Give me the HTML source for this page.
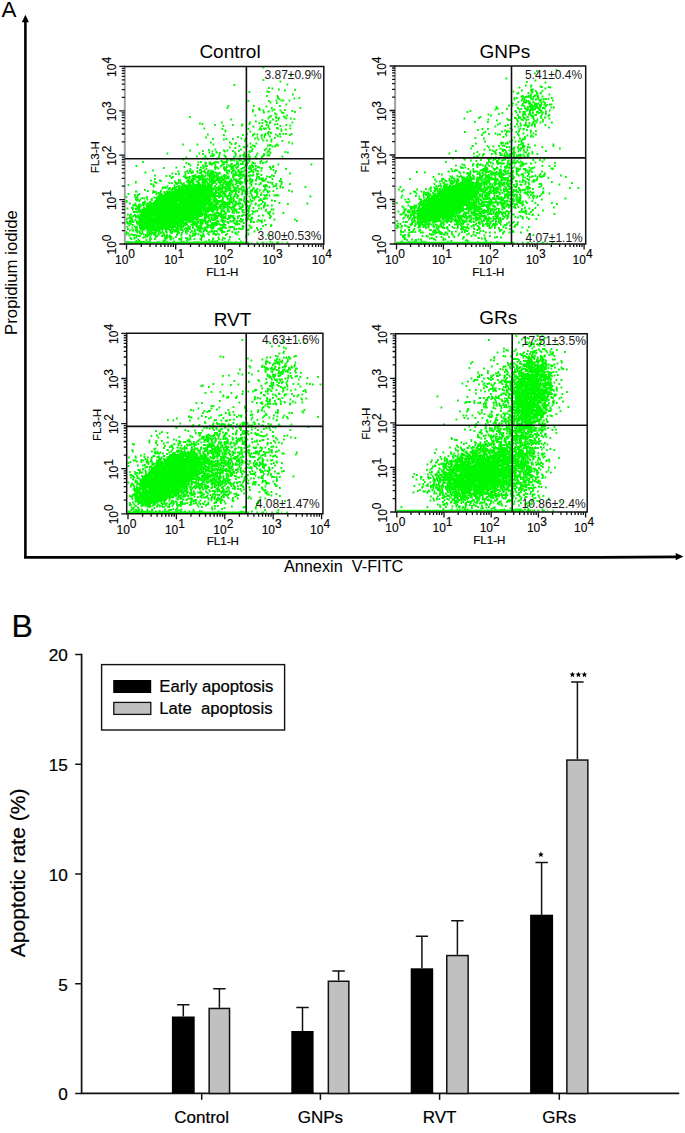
<!DOCTYPE html><html><head><meta charset="utf-8"><style>html,body{margin:0;padding:0;background:#fff;width:685px;height:1133px;overflow:hidden}text{font-family:"Liberation Sans",sans-serif;stroke:#000;stroke-width:0}.bb{stroke-width:0.22px}</style></head><body><svg width="685" height="1133" viewBox="0 0 685 1133" style="position:absolute;left:0;top:0"><rect width="685" height="1133" fill="#fff"/><text x="1.5" y="17.1" font-size="22.4" font-family='"Liberation Sans", sans-serif'>A</text><path d="M25.4 21V557.8" stroke="#000" stroke-width="2.6" fill="none"/><path d="M25.4 14.8L21.8 22.2H29Z" fill="#000"/><path d="M24.1 557.3H600L677 556.9" stroke="#000" stroke-width="2.7" fill="none"/><path d="M683.4 556.6L675.7 552.9V560.3Z" fill="#000"/><text transform="translate(17.3,334.9) rotate(-90)" font-size="16.75" font-family='"Liberation Sans", sans-serif'>Propidium iodide</text><text x="283.9" y="572.2" font-size="16.3" font-family='"Liberation Sans", sans-serif' xml:space="preserve">Annexin  V-FITC</text><path d="M262.5 67.5h1.8M290 75.5h1.8M262.5 80h1.8M279.5 81.5h1.8M286.5 84.5h1.8M233.5 85h1.8M268 88h1.8M271.5 88.5h1.8M278 89.5h1.8M294 90h1.8M284 90.5h1.8M266.5 91.5h1.8M248.5 92h1.8M268 92h1.8M292 94.5h1.8M266 96h1.8M276.5 96h1.8M277 97h1.8M277 98h1.8M298.5 98h1.8M293.5 98.5h1.8M278.5 99h1.8M275.5 100.5h1.8M280.5 100.5h1.8M282.5 100.5h1.8M288.5 100.5h1.8M247.5 101h1.8M268 101h1.8M269.5 102.5h1.8M276 103h1.8M285.5 104.5h1.8M227.5 106h1.8M253 106h1.8M279 106h1.8M265.5 106.5h1.8M226.5 108h1.8M271 108h1.8M299.5 108h1.8M258.5 108.5h1.8M258 109h1.8M273.5 109.5h1.8M252 110h1.8M259 110h1.8M284 110h1.8M262.5 110.5h1.8M271.5 110.5h1.8M279.5 110.5h1.8M291.5 111h1.8M252 111.5h1.8M267.5 111.5h1.8M268 111.5h1.8M294 112h1.8M263 112.5h1.8M281 112.5h1.8M282.5 113h1.8M274 113.5h1.8M275.5 114.5h1.8M254.5 115.5h1.8M286 115.5h1.8M270 116h1.8M283 116.5h1.8M189 117h1.8M268.5 117h1.8M275 117h1.8M284 117.5h1.8M275.5 118h1.8M278 118h1.8M267.5 118.5h1.8M285.5 118.5h1.8M290 118.5h1.8M293.5 119h1.8M230 119.5h1.8M272 119.5h1.8M277.5 119.5h1.8M261.5 120h1.8M264.5 121h1.8M275.5 121h1.8M255 121.5h1.8M269.5 121.5h1.8M265.5 122h1.8M221 122.5h1.8M249 122.5h1.8M266 122.5h1.8M291.5 122.5h1.8M258.5 123h1.8M261.5 123h1.8M269 123h1.8M199 123.5h1.8M201.5 124h1.8M248.5 124h1.8M276.5 124h1.8M241.5 124.5h1.8M274 124.5h1.8M214 125h1.8M232 125h1.8M265.5 125h1.8M285.5 125h1.8M241 125.5h1.8M267.5 125.5h1.8M289.5 125.5h1.8M222.5 126h1.8M261 126h1.8M279.5 126h1.8M252.5 126.5h1.8M267.5 127h1.8M259.5 127.5h1.8M276 128h1.8M203.5 128.5h1.8M263 128.5h1.8M265 128.5h1.8M277 128.5h1.8M289.5 128.5h1.8M221.5 129h1.8M247.5 129h1.8M263.5 129h1.8M268.5 129h1.8M258.5 129.5h1.8M260.5 129.5h1.8M280.5 129.5h1.8M285 129.5h1.8M224.5 130.5h1.8M280.5 131h1.8M224.5 131.5h1.8M249.5 131.5h1.8M268 132h1.8M267 133h1.8M270 133h1.8M246 134h1.8M253.5 134h1.8M264.5 134h1.8M279 134h1.8M282.5 134h1.8M285 134h1.8M290.5 134h1.8M207 134.5h1.8M256.5 134.5h1.8M264.5 134.5h1.8M267.5 134.5h1.8M275 134.5h1.8M223 135h1.8M242 135h1.8M252 135h1.8M261 135h1.8M264 135h1.8M289 135h1.8M252 135.5h1.8M260.5 136h1.8M277 136h1.8M269 136.5h1.8M279.5 136.5h1.8M237 137h1.8M263.5 137h1.8M205 137.5h1.8M256.5 137.5h1.8M274 138h1.8M240.5 138.5h1.8M245.5 138.5h1.8M254 138.5h1.8M261 138.5h1.8M212 139h1.8M225.5 139h1.8M232 139h1.8M244.5 139h1.8M223 139.5h1.8M257.5 139.5h1.8M270.5 139.5h1.8M262.5 140.5h1.8M266 140.5h1.8M244 141h1.8M281.5 141h1.8M270.5 141.5h1.8M210 142.5h1.8M229 142.5h1.8M288 142.5h1.8M235 143h1.8M249.5 143.5h1.8M255.5 143.5h1.8M291.5 143.5h1.8M230.5 144h1.8M234.5 144h1.8M182 144.5h1.8M196.5 144.5h1.8M212.5 144.5h1.8M276 144.5h1.8M269.5 145h1.8M246.5 145.5h1.8M252 145.5h1.8M267 145.5h1.8M267.5 145.5h1.8M269 145.5h1.8M275 145.5h1.8M277 145.5h1.8M238.5 146h1.8M246 146h1.8M253.5 146h1.8M254 146.5h1.8M271.5 146.5h1.8M274 146.5h1.8M243 147h1.8M250 147h1.8M229 147.5h1.8M244.5 147.5h1.8M234.5 148h1.8M265.5 148.5h1.8M251.5 149h1.8M269 149h1.8M214.5 149.5h1.8M240 149.5h1.8M208 150h1.8M264 150h1.8M189 150.5h1.8M223 150.5h1.8M226.5 150.5h1.8M267.5 150.5h1.8M202 151h1.8M232 151h1.8M238 151h1.8M248.5 151h1.8M251 151h1.8M211.5 151.5h1.8M224 151.5h1.8M268.5 151.5h1.8M215.5 152h1.8M249 152h1.8M284.5 152h1.8M208.5 152.5h1.8M216 152.5h1.8M234 152.5h1.8M243.5 152.5h1.8M266.5 152.5h1.8M287 152.5h1.8M219 153h1.8M269.5 153h1.8M166.5 153.5h1.8M198.5 153.5h1.8M256.5 153.5h1.8M202 154h1.8M211.5 154h1.8M235 154h1.8M263 154h1.8M218.5 154.5h1.8M243 154.5h1.8M248 154.5h1.8M263.5 154.5h1.8M213 155h1.8M218.5 155h1.8M242.5 155h1.8M244 155h1.8M268 155h1.8M223.5 155.5h1.8M239.5 155.5h1.8M255.5 155.5h1.8M263 155.5h1.8M266.5 155.5h1.8M268.5 155.5h1.8M204.5 156h1.8M210 156h1.8M212 156h1.8M224 156h1.8M234.5 156h1.8M262 156h1.8M196 156.5h1.8M239 156.5h1.8M243 156.5h1.8M244.5 156.5h1.8M247.5 156.5h1.8M281.5 156.5h1.8M204.5 157h1.8M218 157h1.8M225 157h1.8M249 157h1.8M254.5 157h1.8M261 157h1.8M185.5 157.5h1.8M233 157.5h1.8M202.5 158.5h1.8M206.5 158.5h1.8M216 158.5h1.8M236.5 158.5h1.8M256 158.5h1.8M229.5 159h1.8M182.5 159.5h1.8M226.5 159.5h1.8M230.5 159.5h1.8M247 159.5h1.8M249 159.5h1.8M231.5 160h1.8M238.5 160h1.8M244 160h1.8M245 160h1.8M226 160.5h1.8M230 160.5h1.8M233.5 160.5h1.8M238.5 160.5h1.8M240.5 160.5h1.8M220.5 161h1.8M248.5 161h1.8M260.5 161h1.8M221.5 161.5h1.8M226.5 161.5h1.8M236 161.5h1.8M243 161.5h1.8M266 161.5h1.8M142 162h1.8M200 162h1.8M214.5 162h1.8M216.5 162h1.8M224 162h1.8M225.5 162h1.8M259.5 162h1.8M197.5 162.5h1.8M204.5 162.5h1.8M208.5 162.5h1.8M209.5 162.5h1.8M217.5 162.5h1.8M221.5 162.5h1.8M222.5 162.5h1.8M236.5 162.5h1.8M242 162.5h1.8M246.5 162.5h1.8M251.5 162.5h1.8M264.5 162.5h1.8M185.5 163h1.8M205 163h1.8M213 163h1.8M213.5 163h1.8M237 163h1.8M247 163h1.8M252.5 163h1.8M259.5 163h1.8M262 163h1.8M205 163.5h1.8M211.5 163.5h1.8M254 163.5h1.8M188 164h1.8M204.5 164h1.8M209 164h1.8M223 164h1.8M231 164h1.8M236 164h1.8M240 164h1.8M240.5 164h1.8M242 164h1.8M210.5 164.5h1.8M211.5 164.5h1.8M226 164.5h1.8M230 164.5h1.8M245 164.5h1.8M245.5 164.5h1.8M277.5 164.5h1.8M310.5 164.5h1.8M197 165h1.8M214.5 165h1.8M221.5 165h1.8M234 165h1.8M237.5 165h1.8M246 165h1.8M251 165h1.8M189.5 165.5h1.8M202 165.5h1.8M228 165.5h1.8M244.5 165.5h1.8M251 165.5h1.8M135.5 166h1.8M205.5 166h1.8M206 166h1.8M220 166h1.8M232.5 166h1.8M249 166h1.8M255 166h1.8M272.5 166h1.8M203.5 166.5h1.8M205 166.5h1.8M220 166.5h1.8M229.5 166.5h1.8M235 166.5h1.8M252.5 166.5h1.8M183.5 167h1.8M214.5 167h1.8M223.5 167h1.8M226 167h1.8M231 167h1.8M232 167h1.8M232.5 167h1.8M237 167h1.8M248.5 167h1.8M252 167h1.8M257 167h1.8M269 167h1.8M272 167h1.8M175.5 167.5h1.8M200 167.5h1.8M214 167.5h1.8M216 167.5h1.8M223 167.5h1.8M232 167.5h1.8M243.5 167.5h1.8M258.5 167.5h1.8M269.5 167.5h1.8M163 168h1.8M196.5 168h1.8M202.5 168h1.8M230.5 168h1.8M231 168h1.8M242 168h1.8M250 168h1.8M261 168h1.8M217.5 168.5h1.8M223 168.5h1.8M224.5 168.5h1.8M225 168.5h1.8M235.5 168.5h1.8M248 168.5h1.8M255 168.5h1.8M189.5 169h1.8M205.5 169h1.8M214.5 169h1.8M223.5 169h1.8M224.5 169h1.8M230.5 169h1.8M232.5 169h1.8M240.5 169h1.8M249.5 169h1.8M270 169h1.8M285 169h1.8M253 169.5h1.8M199 170h1.8M200 170h1.8M224 170h1.8M237.5 170h1.8M250.5 170h1.8M272.5 170h1.8M152 170.5h1.8M203.5 170.5h1.8M208 170.5h1.8M210.5 170.5h1.8M224.5 170.5h1.8M226 170.5h1.8M228 170.5h1.8M233 170.5h1.8M244 170.5h1.8M255 170.5h1.8M260.5 170.5h1.8M186.5 171h1.8M189 171h1.8M196.5 171h1.8M232 171h1.8M237.5 171h1.8M250.5 171h1.8M257 171h1.8M275 171h1.8M177.5 171.5h1.8M190 171.5h1.8M192 171.5h1.8M202.5 171.5h1.8M207 171.5h1.8M207.5 171.5h1.8M211 171.5h1.8M212.5 171.5h1.8M228.5 171.5h1.8M234.5 171.5h1.8M237 171.5h1.8M239 171.5h1.8M241 171.5h1.8M242.5 171.5h1.8M251.5 171.5h1.8M184.5 172h1.8M200.5 172h1.8M204 172h1.8M231 172h1.8M248.5 172h1.8M252.5 172h1.8M144.5 172.5h1.8M192 172.5h1.8M196.5 172.5h1.8M210 172.5h1.8M211.5 172.5h1.8M213 172.5h1.8M215 172.5h1.8M226 172.5h1.8M238.5 172.5h1.8M240 172.5h1.8M248 172.5h1.8M187.5 173h1.8M190.5 173h1.8M199 173h1.8M211.5 173h1.8M217.5 173h1.8M218.5 173h1.8M231 173h1.8M235 173h1.8M239 173h1.8M274.5 173h1.8M171.5 173.5h1.8M200.5 173.5h1.8M205 173.5h1.8M207 173.5h1.8M209 173.5h1.8M218.5 173.5h1.8M219 173.5h1.8M227 173.5h1.8M238.5 173.5h1.8M257.5 173.5h1.8M289 173.5h1.8M175 174h1.8M178 174h1.8M184.5 174h1.8M212.5 174h1.8M233 174h1.8M235 174h1.8M256 174h1.8M210 174.5h1.8M216 174.5h1.8M217 174.5h1.8M241 174.5h1.8M243 174.5h1.8M245.5 174.5h1.8M252.5 174.5h1.8M194.5 175h1.8M223.5 175h1.8M235 175h1.8M236 175h1.8M239.5 175h1.8M242.5 175h1.8M256.5 175h1.8M260.5 175h1.8M154 175.5h1.8M201 175.5h1.8M202 175.5h1.8M207 175.5h1.8M208.5 175.5h1.8M209.5 175.5h1.8M211 175.5h1.8M213.5 175.5h1.8M214 175.5h1.8M216 175.5h1.8M225.5 175.5h1.8M232 175.5h1.8M234 175.5h1.8M237.5 175.5h1.8M249 175.5h1.8M250.5 175.5h1.8M252 175.5h1.8M256.5 175.5h1.8M271 175.5h1.8M165.5 176h1.8M169 176h1.8M184.5 176h1.8M191.5 176h1.8M193 176h1.8M198 176h1.8M204.5 176h1.8M208.5 176h1.8M209.5 176h1.8M210.5 176h1.8M212.5 176h1.8M217 176h1.8M223 176h1.8M232.5 176h1.8M238.5 176h1.8M239 176h1.8M242.5 176h1.8M243.5 176h1.8M248 176h1.8M273 176h1.8M183 176.5h1.8M194 176.5h1.8M195 176.5h1.8M197.5 176.5h1.8M199.5 176.5h1.8M202.5 176.5h1.8M216.5 176.5h1.8M221 176.5h1.8M224 176.5h1.8M228 176.5h1.8M239 176.5h1.8M245.5 176.5h1.8M266 176.5h1.8M172 177h1.8M184 177h1.8M189 177h1.8M196 177h1.8M197.5 177h1.8M214.5 177h1.8M220.5 177h1.8M227.5 177h1.8M232 177h1.8M258 177h1.8M268.5 177h1.8M269.5 177h1.8M186.5 177.5h1.8M187.5 177.5h1.8M199.5 177.5h1.8M200 177.5h1.8M201 177.5h1.8M213.5 177.5h1.8M218.5 177.5h1.8M226.5 177.5h1.8M241 177.5h1.8M256 177.5h1.8M170.5 178h1.8M185 178h1.8M188.5 178h1.8M192.5 178h1.8M197.5 178h1.8M199 178h1.8M209 178h1.8M211 178h1.8M212.5 178h1.8M224 178h1.8M185.5 178.5h1.8M191.5 178.5h1.8M193 178.5h1.8M200 178.5h1.8M201 178.5h1.8M203.5 178.5h1.8M206.5 178.5h1.8M211.5 178.5h1.8M212.5 178.5h1.8M216 178.5h1.8M216.5 178.5h1.8M218 178.5h1.8M219.5 178.5h1.8M220 178.5h1.8M222 178.5h1.8M224 178.5h1.8M226 178.5h1.8M227.5 178.5h1.8M233 178.5h1.8M240 178.5h1.8M244 178.5h1.8M249 178.5h1.8M258.5 178.5h1.8M261 178.5h1.8M262 178.5h1.8M154 179h1.8M191.5 179h1.8M194.5 179h1.8M201.5 179h1.8M219 179h1.8M238.5 179h1.8M244.5 179h1.8M245 179h1.8M259 179h1.8M265 179h1.8M271.5 179h1.8M280 179h1.8M192.5 179.5h1.8M199.5 179.5h1.8M203.5 179.5h1.8M204 179.5h1.8M205.5 179.5h1.8M207.5 179.5h1.8M209.5 179.5h1.8M212.5 179.5h1.8M215.5 179.5h1.8M217.5 179.5h1.8M223 179.5h1.8M230 179.5h1.8M230.5 179.5h1.8M233 179.5h1.8M235.5 179.5h1.8M250 179.5h1.8M255.5 179.5h1.8M178 180h1.8M179 180h1.8M188 180h1.8M190.5 180h1.8M198.5 180h1.8M201.5 180h1.8M211 180h1.8M215.5 180h1.8M217 180h1.8M218 180h1.8M221.5 180h1.8M223.5 180h1.8M234.5 180h1.8M251.5 180h1.8M261 180h1.8M150 180.5h1.8M159 180.5h1.8M187 180.5h1.8M188 180.5h1.8M197.5 180.5h1.8M203 180.5h1.8M210.5 180.5h1.8M213.5 180.5h1.8M222 180.5h1.8M235 180.5h1.8M244 180.5h1.8M246.5 180.5h1.8M249 180.5h1.8M255 180.5h1.8M262.5 180.5h1.8M264 180.5h1.8M160 181h1.8M187 181h1.8M191.5 181h1.8M203.5 181h1.8M205 181h1.8M214.5 181h1.8M217.5 181h1.8M219.5 181h1.8M229 181h1.8M230.5 181h1.8M237.5 181h1.8M244 181h1.8M246.5 181h1.8M262 181h1.8M279 181h1.8M174 181.5h1.8M186 181.5h1.8M188.5 181.5h1.8M192.5 181.5h1.8M195.5 181.5h1.8M209 181.5h1.8M211.5 181.5h1.8M213 181.5h1.8M225 181.5h1.8M225.5 181.5h1.8M231.5 181.5h1.8M235.5 181.5h1.8M239.5 181.5h1.8M244.5 181.5h1.8M251.5 181.5h1.8M280.5 181.5h1.8M135 182h1.8M154 182h1.8M178 182h1.8M188 182h1.8M190 182h1.8M191.5 182h1.8M197 182h1.8M202 182h1.8M206 182h1.8M211 182h1.8M217.5 182h1.8M219.5 182h1.8M220.5 182h1.8M224 182h1.8M225 182h1.8M225.5 182h1.8M228 182h1.8M229 182h1.8M239.5 182h1.8M240 182h1.8M250 182h1.8M267 182h1.8M135 182.5h1.8M180 182.5h1.8M187 182.5h1.8M204 182.5h1.8M210.5 182.5h1.8M211 182.5h1.8M213 182.5h1.8M214 182.5h1.8M219 182.5h1.8M226.5 182.5h1.8M229.5 182.5h1.8M236.5 182.5h1.8M241.5 182.5h1.8M251 182.5h1.8M269.5 182.5h1.8M281 182.5h1.8M155.5 183h1.8M168.5 183h1.8M171 183h1.8M175.5 183h1.8M177.5 183h1.8M198.5 183h1.8M201.5 183h1.8M210.5 183h1.8M212 183h1.8M213 183h1.8M219.5 183h1.8M222.5 183h1.8M226 183h1.8M235.5 183h1.8M238.5 183h1.8M240.5 183h1.8M260 183h1.8M271.5 183h1.8M175 183.5h1.8M180.5 183.5h1.8M183 183.5h1.8M189 183.5h1.8M189.5 183.5h1.8M192 183.5h1.8M198.5 183.5h1.8M203 183.5h1.8M206.5 183.5h1.8M207.5 183.5h1.8M208 183.5h1.8M211 183.5h1.8M223 183.5h1.8M223.5 183.5h1.8M226 183.5h1.8M227 183.5h1.8M229 183.5h1.8M230.5 183.5h1.8M240.5 183.5h1.8M244.5 183.5h1.8M249 183.5h1.8M260 183.5h1.8M150 184h1.8M176 184h1.8M192.5 184h1.8M197.5 184h1.8M204 184h1.8M211 184h1.8M215.5 184h1.8M229 184h1.8M255 184h1.8M271.5 184h1.8M275.5 184h1.8M280.5 184h1.8M289 184h1.8M152.5 184.5h1.8M181.5 184.5h1.8M188 184.5h1.8M193.5 184.5h1.8M196.5 184.5h1.8M201.5 184.5h1.8M202 184.5h1.8M204 184.5h1.8M207.5 184.5h1.8M211 184.5h1.8M219.5 184.5h1.8M225 184.5h1.8M225.5 184.5h1.8M228.5 184.5h1.8M232.5 184.5h1.8M235 184.5h1.8M239.5 184.5h1.8M258.5 184.5h1.8M127.5 185h1.8M181.5 185h1.8M183 185h1.8M194 185h1.8M194.5 185h1.8M197.5 185h1.8M198 185h1.8M199 185h1.8M207 185h1.8M209.5 185h1.8M220 185h1.8M222 185h1.8M226.5 185h1.8M231.5 185h1.8M250.5 185h1.8M265 185h1.8M173.5 185.5h1.8M184 185.5h1.8M185 185.5h1.8M186 185.5h1.8M188 185.5h1.8M189 185.5h1.8M189.5 185.5h1.8M190.5 185.5h1.8M191 185.5h1.8M193.5 185.5h1.8M196 185.5h1.8M196.5 185.5h1.8M199.5 185.5h1.8M200 185.5h1.8M204.5 185.5h1.8M208 185.5h1.8M208.5 185.5h1.8M211 185.5h1.8M250.5 185.5h1.8M263.5 185.5h1.8M152.5 186h1.8M177.5 186h1.8M178.5 186h1.8M183 186h1.8M188 186h1.8M191 186h1.8M194.5 186h1.8M198 186h1.8M200 186h1.8M201 186h1.8M203 186h1.8M204.5 186h1.8M207 186h1.8M214.5 186h1.8M221.5 186h1.8M226 186h1.8M227 186h1.8M237 186h1.8M263 186h1.8M265 186h1.8M266 186h1.8M273 186h1.8M275 186h1.8M279.5 186h1.8M153 186.5h1.8M166.5 186.5h1.8M181 186.5h1.8M183.5 186.5h1.8M188 186.5h1.8M188.5 186.5h1.8M192 186.5h1.8M192.5 186.5h1.8M197.5 186.5h1.8M198 186.5h1.8M198.5 186.5h1.8M199 186.5h1.8M199.5 186.5h1.8M201.5 186.5h1.8M206.5 186.5h1.8M207.5 186.5h1.8M214 186.5h1.8M218 186.5h1.8M228.5 186.5h1.8M229.5 186.5h1.8M237 186.5h1.8M242 186.5h1.8M264.5 186.5h1.8M272.5 186.5h1.8M175.5 187h1.8M183 187h1.8M184 187h1.8M188 187h1.8M197 187h1.8M197.5 187h1.8M199.5 187h1.8M200 187h1.8M200.5 187h1.8M201 187h1.8M201.5 187h1.8M202 187h1.8M203 187h1.8M205.5 187h1.8M207 187h1.8M209.5 187h1.8M210 187h1.8M222 187h1.8M224 187h1.8M229 187h1.8M232.5 187h1.8M241.5 187h1.8M268.5 187h1.8M279.5 187h1.8M304.5 187h1.8M162 187.5h1.8M162.5 187.5h1.8M163 187.5h1.8M164 187.5h1.8M164.5 187.5h1.8M174 187.5h1.8M178 187.5h1.8M179 187.5h1.8M181.5 187.5h1.8M183.5 187.5h1.8M184.5 187.5h1.8M185 187.5h1.8M186.5 187.5h1.8M187 187.5h1.8M187.5 187.5h1.8M189.5 187.5h1.8M192 187.5h1.8M193.5 187.5h1.8M195 187.5h1.8M195.5 187.5h1.8M196.5 187.5h1.8M200 187.5h1.8M200.5 187.5h1.8M202.5 187.5h1.8M203 187.5h1.8M203.5 187.5h1.8M204.5 187.5h1.8M207.5 187.5h1.8M210.5 187.5h1.8M217.5 187.5h1.8M220 187.5h1.8M223 187.5h1.8M224.5 187.5h1.8M229.5 187.5h1.8M233.5 187.5h1.8M236.5 187.5h1.8M237 187.5h1.8M242.5 187.5h1.8M243 187.5h1.8M248.5 187.5h1.8M264 187.5h1.8M279.5 187.5h1.8M282 187.5h1.8M165 188h1.8M169 188h1.8M172 188h1.8M180 188h1.8M181.5 188h1.8M187.5 188h1.8M191.5 188h1.8M193.5 188h1.8M194 188h1.8M194.5 188h1.8M196.5 188h1.8M197 188h1.8M199 188h1.8M199.5 188h1.8M200 188h1.8M203 188h1.8M208 188h1.8M210.5 188h1.8M215.5 188h1.8M217.5 188h1.8M219 188h1.8M221.5 188h1.8M224 188h1.8M227.5 188h1.8M229.5 188h1.8M235.5 188h1.8M252.5 188h1.8M161.5 188.5h1.8M173 188.5h1.8M178.5 188.5h1.8M184.5 188.5h1.8M185 188.5h1.8M185.5 188.5h1.8M186.5 188.5h1.8M190.5 188.5h1.8M191 188.5h1.8M191.5 188.5h1.8M193 188.5h1.8M198.5 188.5h1.8M199 188.5h1.8M201.5 188.5h1.8M204 188.5h1.8M205 188.5h1.8M206 188.5h1.8M208.5 188.5h1.8M212 188.5h1.8M213 188.5h1.8M220.5 188.5h1.8M221 188.5h1.8M226.5 188.5h1.8M229 188.5h1.8M229.5 188.5h1.8M233.5 188.5h1.8M235.5 188.5h1.8M240 188.5h1.8M253 188.5h1.8M276 188.5h1.8M167.5 189h1.8M168 189h1.8M178 189h1.8M180.5 189h1.8M185.5 189h1.8M190.5 189h1.8M193 189h1.8M195 189h1.8M195.5 189h1.8M196.5 189h1.8M197 189h1.8M197.5 189h1.8M198 189h1.8M198.5 189h1.8M199 189h1.8M199.5 189h1.8M200.5 189h1.8M201 189h1.8M201.5 189h1.8M203.5 189h1.8M205.5 189h1.8M206.5 189h1.8M209.5 189h1.8M211 189h1.8M214.5 189h1.8M219 189h1.8M225 189h1.8M229.5 189h1.8M234 189h1.8M238.5 189h1.8M239 189h1.8M240 189h1.8M246 189h1.8M246.5 189h1.8M256.5 189h1.8M169 189.5h1.8M171.5 189.5h1.8M174.5 189.5h1.8M175 189.5h1.8M176.5 189.5h1.8M177 189.5h1.8M177.5 189.5h1.8M178 189.5h1.8M179 189.5h1.8M181 189.5h1.8M182 189.5h1.8M186 189.5h1.8M187 189.5h1.8M188 189.5h1.8M190 189.5h1.8M191.5 189.5h1.8M193 189.5h1.8M193.5 189.5h1.8M194.5 189.5h1.8M195 189.5h1.8M196.5 189.5h1.8M199.5 189.5h1.8M201 189.5h1.8M205 189.5h1.8M208 189.5h1.8M210 189.5h1.8M214.5 189.5h1.8M219 189.5h1.8M220.5 189.5h1.8M221.5 189.5h1.8M229 189.5h1.8M235 189.5h1.8M246 189.5h1.8M265 189.5h1.8M144 190h1.8M171 190h1.8M174 190h1.8M179 190h1.8M180.5 190h1.8M182 190h1.8M182.5 190h1.8M186 190h1.8M187.5 190h1.8M193.5 190h1.8M194.5 190h1.8M195.5 190h1.8M196 190h1.8M198 190h1.8M199 190h1.8M202.5 190h1.8M204.5 190h1.8M206 190h1.8M207.5 190h1.8M208 190h1.8M210 190h1.8M217.5 190h1.8M225.5 190h1.8M228.5 190h1.8M241 190h1.8M243 190h1.8M251.5 190h1.8M255.5 190h1.8M263.5 190h1.8M174 190.5h1.8M179 190.5h1.8M180.5 190.5h1.8M184 190.5h1.8M184.5 190.5h1.8M188 190.5h1.8M188.5 190.5h1.8M190.5 190.5h1.8M192 190.5h1.8M192.5 190.5h1.8M194.5 190.5h1.8M197 190.5h1.8M198.5 190.5h1.8M200 190.5h1.8M202 190.5h1.8M202.5 190.5h1.8M206 190.5h1.8M209 190.5h1.8M210.5 190.5h1.8M212 190.5h1.8M216 190.5h1.8M218 190.5h1.8M218.5 190.5h1.8M224.5 190.5h1.8M227.5 190.5h1.8M233 190.5h1.8M237.5 190.5h1.8M250 190.5h1.8M259 190.5h1.8M288 190.5h1.8M147 191h1.8M152.5 191h1.8M160 191h1.8M175 191h1.8M177.5 191h1.8M181.5 191h1.8M184 191h1.8M186 191h1.8M187.5 191h1.8M189 191h1.8M189.5 191h1.8M190 191h1.8M191 191h1.8M192.5 191h1.8M194.5 191h1.8M197.5 191h1.8M198.5 191h1.8M200 191h1.8M202 191h1.8M205.5 191h1.8M207 191h1.8M209 191h1.8M209.5 191h1.8M210 191h1.8M231 191h1.8M233 191h1.8M233.5 191h1.8M234 191h1.8M243.5 191h1.8M251 191h1.8M254 191h1.8M266.5 191h1.8M272.5 191h1.8M135 191.5h1.8M135.5 191.5h1.8M166 191.5h1.8M167 191.5h1.8M173.5 191.5h1.8M175.5 191.5h1.8M176 191.5h1.8M176.5 191.5h1.8M177 191.5h1.8M178.5 191.5h1.8M179.5 191.5h1.8M180.5 191.5h1.8M182.5 191.5h1.8M183 191.5h1.8M184.5 191.5h1.8M185.5 191.5h1.8M189 191.5h1.8M191 191.5h1.8M195 191.5h1.8M198 191.5h1.8M199 191.5h1.8M200.5 191.5h1.8M203.5 191.5h1.8M205 191.5h1.8M209.5 191.5h1.8M210.5 191.5h1.8M215 191.5h1.8M215.5 191.5h1.8M221.5 191.5h1.8M225 191.5h1.8M225.5 191.5h1.8M230 191.5h1.8M235.5 191.5h1.8M241.5 191.5h1.8M244 191.5h1.8M246.5 191.5h1.8M249.5 191.5h1.8M262.5 191.5h1.8M268.5 191.5h1.8M291 191.5h1.8M153.5 192h1.8M155 192h1.8M163.5 192h1.8M168 192h1.8M168.5 192h1.8M169 192h1.8M171.5 192h1.8M172.5 192h1.8M173 192h1.8M174 192h1.8M178.5 192h1.8M182 192h1.8M182.5 192h1.8M183 192h1.8M183.5 192h1.8M184.5 192h1.8M186.5 192h1.8M188.5 192h1.8M189 192h1.8M189.5 192h1.8M190 192h1.8M190.5 192h1.8M191.5 192h1.8M192 192h1.8M193 192h1.8M194.5 192h1.8M195.5 192h1.8M198 192h1.8M198.5 192h1.8M199 192h1.8M199.5 192h1.8M207.5 192h1.8M208 192h1.8M208.5 192h1.8M209 192h1.8M209.5 192h1.8M210 192h1.8M211 192h1.8M219.5 192h1.8M220.5 192h1.8M221.5 192h1.8M223.5 192h1.8M235 192h1.8M238 192h1.8M246.5 192h1.8M254 192h1.8M255 192h1.8M256.5 192h1.8M152 192.5h1.8M169.5 192.5h1.8M170.5 192.5h1.8M173 192.5h1.8M173.5 192.5h1.8M176 192.5h1.8M176.5 192.5h1.8M181 192.5h1.8M182 192.5h1.8M184 192.5h1.8M185 192.5h1.8M186 192.5h1.8M187.5 192.5h1.8M189 192.5h1.8M191 192.5h1.8M197 192.5h1.8M197.5 192.5h1.8M199.5 192.5h1.8M201 192.5h1.8M202 192.5h1.8M204 192.5h1.8M214.5 192.5h1.8M219.5 192.5h1.8M223 192.5h1.8M223.5 192.5h1.8M231.5 192.5h1.8M267 192.5h1.8M157.5 193h1.8M159.5 193h1.8M169.5 193h1.8M170 193h1.8M171 193h1.8M174.5 193h1.8M175.5 193h1.8M177.5 193h1.8M178.5 193h1.8M180 193h1.8M181 193h1.8M182.5 193h1.8M183.5 193h1.8M185 193h1.8M185.5 193h1.8M187 193h1.8M187.5 193h1.8M190.5 193h1.8M191 193h1.8M191.5 193h1.8M193.5 193h1.8M194.5 193h1.8M197 193h1.8M198.5 193h1.8M200 193h1.8M201 193h1.8M204.5 193h1.8M205 193h1.8M205.5 193h1.8M207.5 193h1.8M208 193h1.8M208.5 193h1.8M209 193h1.8M209.5 193h1.8M213 193h1.8M215.5 193h1.8M217.5 193h1.8M218 193h1.8M229 193h1.8M241.5 193h1.8M249.5 193h1.8M256 193h1.8M164 193.5h1.8M165.5 193.5h1.8M166.5 193.5h1.8M170.5 193.5h1.8M171.5 193.5h1.8M177 193.5h1.8M177.5 193.5h1.8M178 193.5h1.8M179 193.5h1.8M179.5 193.5h1.8M181 193.5h1.8M182 193.5h1.8M183 193.5h1.8M183.5 193.5h1.8M185 193.5h1.8M185.5 193.5h1.8M186 193.5h1.8M186.5 193.5h1.8M187 193.5h1.8M187.5 193.5h1.8M188.5 193.5h1.8M189 193.5h1.8M192.5 193.5h1.8M193 193.5h1.8M194.5 193.5h1.8M195.5 193.5h1.8M196.5 193.5h1.8M198 193.5h1.8M199 193.5h1.8M202 193.5h1.8M203 193.5h1.8M203.5 193.5h1.8M204 193.5h1.8M205 193.5h1.8M205.5 193.5h1.8M209.5 193.5h1.8M210.5 193.5h1.8M211 193.5h1.8M214.5 193.5h1.8M219 193.5h1.8M219.5 193.5h1.8M222 193.5h1.8M223.5 193.5h1.8M235 193.5h1.8M245 193.5h1.8M250 193.5h1.8M260.5 193.5h1.8M127.5 194h1.8M138.5 194h1.8M155.5 194h1.8M160.5 194h1.8M166 194h1.8M167.5 194h1.8M169 194h1.8M170.5 194h1.8M171.5 194h1.8M172 194h1.8M178.5 194h1.8M182 194h1.8M182.5 194h1.8M185 194h1.8M187 194h1.8M188 194h1.8M188.5 194h1.8M189 194h1.8M191.5 194h1.8M193.5 194h1.8M195 194h1.8M197 194h1.8M197.5 194h1.8M199 194h1.8M200.5 194h1.8M203 194h1.8M206.5 194h1.8M210 194h1.8M211.5 194h1.8M224.5 194h1.8M234.5 194h1.8M244.5 194h1.8M246 194h1.8M246.5 194h1.8M256.5 194h1.8M158.5 194.5h1.8M165 194.5h1.8M166 194.5h1.8M171 194.5h1.8M171.5 194.5h1.8M173 194.5h1.8M173.5 194.5h1.8M175.5 194.5h1.8M176 194.5h1.8M177.5 194.5h1.8M180 194.5h1.8M186.5 194.5h1.8M187 194.5h1.8M188.5 194.5h1.8M193 194.5h1.8M195.5 194.5h1.8M196.5 194.5h1.8M197.5 194.5h1.8M200.5 194.5h1.8M201 194.5h1.8M204.5 194.5h1.8M206.5 194.5h1.8M212 194.5h1.8M218.5 194.5h1.8M219 194.5h1.8M228.5 194.5h1.8M230.5 194.5h1.8M241 194.5h1.8M246 194.5h1.8M134 195h1.8M137 195h1.8M159.5 195h1.8M161 195h1.8M163.5 195h1.8M164 195h1.8M164.5 195h1.8M167 195h1.8M168 195h1.8M169.5 195h1.8M171.5 195h1.8M173 195h1.8M174 195h1.8M175 195h1.8M177 195h1.8M180.5 195h1.8M181 195h1.8M182.5 195h1.8M183.5 195h1.8M189.5 195h1.8M190 195h1.8M190.5 195h1.8M191 195h1.8M193 195h1.8M194 195h1.8M194.5 195h1.8M195 195h1.8M196.5 195h1.8M197.5 195h1.8M199 195h1.8M199.5 195h1.8M201 195h1.8M202.5 195h1.8M203.5 195h1.8M204 195h1.8M204.5 195h1.8M206 195h1.8M206.5 195h1.8M208.5 195h1.8M209 195h1.8M209.5 195h1.8M213 195h1.8M214.5 195h1.8M218 195h1.8M218.5 195h1.8M228.5 195h1.8M236.5 195h1.8M260 195h1.8M263.5 195h1.8M266 195h1.8M276 195h1.8M160 195.5h1.8M161 195.5h1.8M165.5 195.5h1.8M166 195.5h1.8M166.5 195.5h1.8M167.5 195.5h1.8M169 195.5h1.8M170 195.5h1.8M172 195.5h1.8M173 195.5h1.8M173.5 195.5h1.8M174 195.5h1.8M175.5 195.5h1.8M176 195.5h1.8M177 195.5h1.8M179 195.5h1.8M179.5 195.5h1.8M182 195.5h1.8M186.5 195.5h1.8M187.5 195.5h1.8M189.5 195.5h1.8M191 195.5h1.8M191.5 195.5h1.8M192.5 195.5h1.8M194.5 195.5h1.8M196 195.5h1.8M198 195.5h1.8M200.5 195.5h1.8M201 195.5h1.8M203.5 195.5h1.8M207.5 195.5h1.8M211 195.5h1.8M218.5 195.5h1.8M219 195.5h1.8M220.5 195.5h1.8M223.5 195.5h1.8M225 195.5h1.8M229 195.5h1.8M233.5 195.5h1.8M251 195.5h1.8M256 195.5h1.8M268.5 195.5h1.8M273.5 195.5h1.8M274.5 195.5h1.8M277.5 195.5h1.8M163 196h1.8M163.5 196h1.8M167 196h1.8M167.5 196h1.8M168 196h1.8M168.5 196h1.8M171.5 196h1.8M172.5 196h1.8M173.5 196h1.8M175.5 196h1.8M176 196h1.8M178 196h1.8M182 196h1.8M182.5 196h1.8M183 196h1.8M185.5 196h1.8M187 196h1.8M187.5 196h1.8M188.5 196h1.8M189.5 196h1.8M190.5 196h1.8M191 196h1.8M197.5 196h1.8M198 196h1.8M198.5 196h1.8M200.5 196h1.8M201.5 196h1.8M204.5 196h1.8M205.5 196h1.8M211.5 196h1.8M213.5 196h1.8M214.5 196h1.8M215 196h1.8M216.5 196h1.8M217.5 196h1.8M219 196h1.8M221 196h1.8M225 196h1.8M227.5 196h1.8M237.5 196h1.8M265 196h1.8M157.5 196.5h1.8M158.5 196.5h1.8M162 196.5h1.8M163 196.5h1.8M164 196.5h1.8M165.5 196.5h1.8M168.5 196.5h1.8M171.5 196.5h1.8M173 196.5h1.8M174.5 196.5h1.8M176 196.5h1.8M176.5 196.5h1.8M177 196.5h1.8M177.5 196.5h1.8M178.5 196.5h1.8M179 196.5h1.8M180 196.5h1.8M182 196.5h1.8M185.5 196.5h1.8M186 196.5h1.8M188.5 196.5h1.8M190.5 196.5h1.8M192.5 196.5h1.8M196 196.5h1.8M197 196.5h1.8M203.5 196.5h1.8M206 196.5h1.8M207 196.5h1.8M209.5 196.5h1.8M219.5 196.5h1.8M224.5 196.5h1.8M225 196.5h1.8M226.5 196.5h1.8M234 196.5h1.8M236.5 196.5h1.8M248.5 196.5h1.8M251.5 196.5h1.8M309.5 196.5h1.8M125.5 197h1.8M134.5 197h1.8M136.5 197h1.8M146 197h1.8M160 197h1.8M162.5 197h1.8M164.5 197h1.8M166.5 197h1.8M167 197h1.8M169 197h1.8M169.5 197h1.8M170.5 197h1.8M171 197h1.8M172.5 197h1.8M173 197h1.8M174.5 197h1.8M177 197h1.8M177.5 197h1.8M179 197h1.8M180 197h1.8M182 197h1.8M182.5 197h1.8M183 197h1.8M183.5 197h1.8M185.5 197h1.8M186.5 197h1.8M187 197h1.8M189.5 197h1.8M191 197h1.8M192 197h1.8M193.5 197h1.8M194 197h1.8M194.5 197h1.8M195.5 197h1.8M198.5 197h1.8M200 197h1.8M200.5 197h1.8M201 197h1.8M202 197h1.8M205 197h1.8M207 197h1.8M207.5 197h1.8M209 197h1.8M212 197h1.8M214 197h1.8M214.5 197h1.8M218.5 197h1.8M226.5 197h1.8M230 197h1.8M243.5 197h1.8M254.5 197h1.8M255 197h1.8M257.5 197h1.8M146 197.5h1.8M153.5 197.5h1.8M156.5 197.5h1.8M161.5 197.5h1.8M162.5 197.5h1.8M163 197.5h1.8M164 197.5h1.8M164.5 197.5h1.8M165.5 197.5h1.8M167.5 197.5h1.8M168 197.5h1.8M170 197.5h1.8M171.5 197.5h1.8M173 197.5h1.8M173.5 197.5h1.8M174 197.5h1.8M174.5 197.5h1.8M175 197.5h1.8M179 197.5h1.8M182.5 197.5h1.8M183.5 197.5h1.8M184 197.5h1.8M186.5 197.5h1.8M189 197.5h1.8M190 197.5h1.8M190.5 197.5h1.8M191 197.5h1.8M193.5 197.5h1.8M195.5 197.5h1.8M196 197.5h1.8M198.5 197.5h1.8M200.5 197.5h1.8M202 197.5h1.8M204.5 197.5h1.8M206 197.5h1.8M212 197.5h1.8M214.5 197.5h1.8M218 197.5h1.8M222 197.5h1.8M232.5 197.5h1.8M254 197.5h1.8M263.5 197.5h1.8M141.5 198h1.8M155.5 198h1.8M159.5 198h1.8M160.5 198h1.8M162.5 198h1.8M163 198h1.8M163.5 198h1.8M164 198h1.8M165.5 198h1.8M166 198h1.8M169.5 198h1.8M171 198h1.8M172 198h1.8M172.5 198h1.8M173 198h1.8M173.5 198h1.8M174.5 198h1.8M175 198h1.8M175.5 198h1.8M176 198h1.8M177 198h1.8M178 198h1.8M180 198h1.8M181.5 198h1.8M182.5 198h1.8M183.5 198h1.8M184 198h1.8M184.5 198h1.8M188 198h1.8M190.5 198h1.8M191.5 198h1.8M193 198h1.8M194 198h1.8M195 198h1.8M197 198h1.8M199.5 198h1.8M200 198h1.8M200.5 198h1.8M202.5 198h1.8M203 198h1.8M206.5 198h1.8M208 198h1.8M209 198h1.8M209.5 198h1.8M214 198h1.8M214.5 198h1.8M232.5 198h1.8M236.5 198h1.8M252 198h1.8M135.5 198.5h1.8M143.5 198.5h1.8M157.5 198.5h1.8M159 198.5h1.8M161 198.5h1.8M162 198.5h1.8M162.5 198.5h1.8M164 198.5h1.8M166 198.5h1.8M166.5 198.5h1.8M169.5 198.5h1.8M170.5 198.5h1.8M174 198.5h1.8M175.5 198.5h1.8M176 198.5h1.8M177 198.5h1.8M178 198.5h1.8M186.5 198.5h1.8M187 198.5h1.8M188 198.5h1.8M189 198.5h1.8M192 198.5h1.8M192.5 198.5h1.8M193 198.5h1.8M194.5 198.5h1.8M195 198.5h1.8M196 198.5h1.8M197.5 198.5h1.8M198 198.5h1.8M202 198.5h1.8M203 198.5h1.8M205.5 198.5h1.8M207.5 198.5h1.8M230 198.5h1.8M264.5 198.5h1.8M266 198.5h1.8M151 199h1.8M156.5 199h1.8M157.5 199h1.8M158 199h1.8M162.5 199h1.8M165 199h1.8M166 199h1.8M170 199h1.8M174 199h1.8M174.5 199h1.8M176 199h1.8M176.5 199h1.8M177.5 199h1.8M180 199h1.8M181 199h1.8M182.5 199h1.8M183.5 199h1.8M185 199h1.8M186 199h1.8M188.5 199h1.8M189 199h1.8M189.5 199h1.8M191 199h1.8M192 199h1.8M199 199h1.8M200 199h1.8M203 199h1.8M204 199h1.8M206 199h1.8M207 199h1.8M209 199h1.8M215 199h1.8M226.5 199h1.8M228.5 199h1.8M230.5 199h1.8M239 199h1.8M243.5 199h1.8M259.5 199h1.8M263 199h1.8M135 199.5h1.8M137 199.5h1.8M139.5 199.5h1.8M146.5 199.5h1.8M150.5 199.5h1.8M159 199.5h1.8M159.5 199.5h1.8M161 199.5h1.8M163.5 199.5h1.8M165.5 199.5h1.8M167.5 199.5h1.8M169.5 199.5h1.8M171.5 199.5h1.8M172 199.5h1.8M173.5 199.5h1.8M175.5 199.5h1.8M176 199.5h1.8M176.5 199.5h1.8M177.5 199.5h1.8M178 199.5h1.8M179.5 199.5h1.8M180 199.5h1.8M182 199.5h1.8M184 199.5h1.8M184.5 199.5h1.8M185 199.5h1.8M188 199.5h1.8M189 199.5h1.8M192 199.5h1.8M193.5 199.5h1.8M194 199.5h1.8M195 199.5h1.8M195.5 199.5h1.8M197 199.5h1.8M197.5 199.5h1.8M199 199.5h1.8M199.5 199.5h1.8M201 199.5h1.8M202 199.5h1.8M202.5 199.5h1.8M204 199.5h1.8M205 199.5h1.8M205.5 199.5h1.8M206 199.5h1.8M206.5 199.5h1.8M207 199.5h1.8M207.5 199.5h1.8M210 199.5h1.8M212.5 199.5h1.8M222 199.5h1.8M226.5 199.5h1.8M228.5 199.5h1.8M240.5 199.5h1.8M249.5 199.5h1.8M253.5 199.5h1.8M151 200h1.8M156 200h1.8M157.5 200h1.8M158.5 200h1.8M159 200h1.8M161 200h1.8M163 200h1.8M166.5 200h1.8M167.5 200h1.8M168.5 200h1.8M169.5 200h1.8M174 200h1.8M176 200h1.8M176.5 200h1.8M177.5 200h1.8M178.5 200h1.8M179.5 200h1.8M180 200h1.8M181 200h1.8M182 200h1.8M183 200h1.8M185 200h1.8M185.5 200h1.8M186 200h1.8M186.5 200h1.8M189.5 200h1.8M190.5 200h1.8M191 200h1.8M193.5 200h1.8M196 200h1.8M197 200h1.8M200 200h1.8M200.5 200h1.8M201 200h1.8M202 200h1.8M203.5 200h1.8M204 200h1.8M204.5 200h1.8M206.5 200h1.8M214.5 200h1.8M215 200h1.8M216 200h1.8M233 200h1.8M238.5 200h1.8M240.5 200h1.8M259.5 200h1.8M136 200.5h1.8M155 200.5h1.8M155.5 200.5h1.8M158.5 200.5h1.8M159.5 200.5h1.8M161.5 200.5h1.8M163 200.5h1.8M163.5 200.5h1.8M165 200.5h1.8M165.5 200.5h1.8M166 200.5h1.8M167 200.5h1.8M168 200.5h1.8M169 200.5h1.8M169.5 200.5h1.8M170 200.5h1.8M170.5 200.5h1.8M172 200.5h1.8M173 200.5h1.8M175.5 200.5h1.8M176 200.5h1.8M178.5 200.5h1.8M180 200.5h1.8M181 200.5h1.8M181.5 200.5h1.8M183 200.5h1.8M184.5 200.5h1.8M186.5 200.5h1.8M188 200.5h1.8M192 200.5h1.8M192.5 200.5h1.8M194 200.5h1.8M194.5 200.5h1.8M195.5 200.5h1.8M196 200.5h1.8M196.5 200.5h1.8M197.5 200.5h1.8M198 200.5h1.8M201 200.5h1.8M202 200.5h1.8M203 200.5h1.8M203.5 200.5h1.8M204 200.5h1.8M205 200.5h1.8M206 200.5h1.8M220 200.5h1.8M222 200.5h1.8M229 200.5h1.8M230 200.5h1.8M232.5 200.5h1.8M243 200.5h1.8M258 200.5h1.8M261 200.5h1.8M271 200.5h1.8M126 201h1.8M138.5 201h1.8M155 201h1.8M155.5 201h1.8M156.5 201h1.8M157.5 201h1.8M158 201h1.8M160.5 201h1.8M161.5 201h1.8M163 201h1.8M163.5 201h1.8M166 201h1.8M168 201h1.8M169 201h1.8M169.5 201h1.8M171.5 201h1.8M172.5 201h1.8M173 201h1.8M177.5 201h1.8M178.5 201h1.8M180 201h1.8M180.5 201h1.8M182.5 201h1.8M183 201h1.8M183.5 201h1.8M184.5 201h1.8M185 201h1.8M186 201h1.8M186.5 201h1.8M190 201h1.8M192 201h1.8M192.5 201h1.8M194 201h1.8M195 201h1.8M196 201h1.8M199.5 201h1.8M201 201h1.8M202.5 201h1.8M203.5 201h1.8M204 201h1.8M205 201h1.8M207 201h1.8M208.5 201h1.8M213 201h1.8M217.5 201h1.8M218.5 201h1.8M222 201h1.8M246 201h1.8M250.5 201h1.8M251.5 201h1.8M274 201h1.8M144 201.5h1.8M154 201.5h1.8M156 201.5h1.8M159.5 201.5h1.8M161.5 201.5h1.8M163.5 201.5h1.8M167 201.5h1.8M168.5 201.5h1.8M170 201.5h1.8M172 201.5h1.8M173.5 201.5h1.8M174 201.5h1.8M175.5 201.5h1.8M176 201.5h1.8M179.5 201.5h1.8M180 201.5h1.8M180.5 201.5h1.8M181 201.5h1.8M182.5 201.5h1.8M183 201.5h1.8M183.5 201.5h1.8M184.5 201.5h1.8M185 201.5h1.8M186.5 201.5h1.8M187 201.5h1.8M192.5 201.5h1.8M194.5 201.5h1.8M195 201.5h1.8M195.5 201.5h1.8M196 201.5h1.8M196.5 201.5h1.8M199.5 201.5h1.8M200 201.5h1.8M200.5 201.5h1.8M201.5 201.5h1.8M205 201.5h1.8M205.5 201.5h1.8M206 201.5h1.8M209.5 201.5h1.8M216 201.5h1.8M229 201.5h1.8M232.5 201.5h1.8M234.5 201.5h1.8M246.5 201.5h1.8M247.5 201.5h1.8M125.5 202h1.8M149 202h1.8M155.5 202h1.8M161 202h1.8M166 202h1.8M168.5 202h1.8M169 202h1.8M170 202h1.8M173 202h1.8M173.5 202h1.8M174.5 202h1.8M175.5 202h1.8M176 202h1.8M180 202h1.8M180.5 202h1.8M181 202h1.8M182 202h1.8M182.5 202h1.8M183 202h1.8M184 202h1.8M184.5 202h1.8M186 202h1.8M188 202h1.8M190 202h1.8M191 202h1.8M191.5 202h1.8M193 202h1.8M193.5 202h1.8M194 202h1.8M194.5 202h1.8M196 202h1.8M197.5 202h1.8M198 202h1.8M198.5 202h1.8M201.5 202h1.8M203.5 202h1.8M205 202h1.8M205.5 202h1.8M206 202h1.8M208.5 202h1.8M209.5 202h1.8M213.5 202h1.8M214 202h1.8M218 202h1.8M221.5 202h1.8M223.5 202h1.8M228.5 202h1.8M230.5 202h1.8M235.5 202h1.8M243.5 202h1.8M244 202h1.8M248 202h1.8M262 202h1.8M142.5 202.5h1.8M150 202.5h1.8M155 202.5h1.8M157 202.5h1.8M159.5 202.5h1.8M160 202.5h1.8M160.5 202.5h1.8M161 202.5h1.8M161.5 202.5h1.8M165.5 202.5h1.8M166 202.5h1.8M168.5 202.5h1.8M169 202.5h1.8M169.5 202.5h1.8M170 202.5h1.8M172.5 202.5h1.8M173.5 202.5h1.8M174 202.5h1.8M175 202.5h1.8M175.5 202.5h1.8M176 202.5h1.8M179.5 202.5h1.8M180.5 202.5h1.8M181 202.5h1.8M183 202.5h1.8M184.5 202.5h1.8M185 202.5h1.8M186 202.5h1.8M187 202.5h1.8M187.5 202.5h1.8M188.5 202.5h1.8M189 202.5h1.8M194 202.5h1.8M194.5 202.5h1.8M196 202.5h1.8M196.5 202.5h1.8M197 202.5h1.8M197.5 202.5h1.8M199 202.5h1.8M200 202.5h1.8M200.5 202.5h1.8M201 202.5h1.8M201.5 202.5h1.8M202.5 202.5h1.8M203 202.5h1.8M204.5 202.5h1.8M205.5 202.5h1.8M206.5 202.5h1.8M209 202.5h1.8M209.5 202.5h1.8M211.5 202.5h1.8M214.5 202.5h1.8M216.5 202.5h1.8M220.5 202.5h1.8M221.5 202.5h1.8M224 202.5h1.8M227 202.5h1.8M238 202.5h1.8M238.5 202.5h1.8M144 203h1.8M152.5 203h1.8M153 203h1.8M153.5 203h1.8M157 203h1.8M158.5 203h1.8M160 203h1.8M161 203h1.8M161.5 203h1.8M164 203h1.8M165 203h1.8M168.5 203h1.8M169 203h1.8M169.5 203h1.8M173 203h1.8M175.5 203h1.8M179 203h1.8M183 203h1.8M183.5 203h1.8M184.5 203h1.8M186.5 203h1.8M188 203h1.8M189 203h1.8M190 203h1.8M191 203h1.8M193 203h1.8M194.5 203h1.8M196 203h1.8M196.5 203h1.8M200.5 203h1.8M202 203h1.8M205 203h1.8M205.5 203h1.8M208.5 203h1.8M209.5 203h1.8M215.5 203h1.8M216 203h1.8M216.5 203h1.8M225.5 203h1.8M239 203h1.8M264 203h1.8M278.5 203h1.8M129 203.5h1.8M134.5 203.5h1.8M142 203.5h1.8M146.5 203.5h1.8M147.5 203.5h1.8M148.5 203.5h1.8M155 203.5h1.8M157 203.5h1.8M158 203.5h1.8M159.5 203.5h1.8M160.5 203.5h1.8M162.5 203.5h1.8M163 203.5h1.8M166 203.5h1.8M168 203.5h1.8M168.5 203.5h1.8M169.5 203.5h1.8M170 203.5h1.8M170.5 203.5h1.8M172.5 203.5h1.8M173 203.5h1.8M175 203.5h1.8M176.5 203.5h1.8M180.5 203.5h1.8M181 203.5h1.8M181.5 203.5h1.8M182.5 203.5h1.8M183.5 203.5h1.8M184.5 203.5h1.8M185 203.5h1.8M186.5 203.5h1.8M187 203.5h1.8M188.5 203.5h1.8M189 203.5h1.8M191.5 203.5h1.8M192.5 203.5h1.8M194 203.5h1.8M195 203.5h1.8M197 203.5h1.8M199.5 203.5h1.8M201 203.5h1.8M202 203.5h1.8M203 203.5h1.8M203.5 203.5h1.8M207 203.5h1.8M209.5 203.5h1.8M211 203.5h1.8M215.5 203.5h1.8M216.5 203.5h1.8M224 203.5h1.8M225 203.5h1.8M229 203.5h1.8M231.5 203.5h1.8M239 203.5h1.8M239.5 203.5h1.8M250.5 203.5h1.8M255 203.5h1.8M306.5 203.5h1.8M150.5 204h1.8M151.5 204h1.8M152 204h1.8M153 204h1.8M154 204h1.8M155 204h1.8M156.5 204h1.8M161.5 204h1.8M163 204h1.8M164.5 204h1.8M166 204h1.8M167 204h1.8M167.5 204h1.8M169.5 204h1.8M172 204h1.8M173.5 204h1.8M174.5 204h1.8M175 204h1.8M176.5 204h1.8M177.5 204h1.8M178 204h1.8M178.5 204h1.8M181.5 204h1.8M182 204h1.8M182.5 204h1.8M183 204h1.8M183.5 204h1.8M184.5 204h1.8M185 204h1.8M186 204h1.8M189 204h1.8M189.5 204h1.8M190 204h1.8M191 204h1.8M193 204h1.8M194 204h1.8M195 204h1.8M195.5 204h1.8M200.5 204h1.8M201.5 204h1.8M202 204h1.8M205 204h1.8M205.5 204h1.8M212 204h1.8M216.5 204h1.8M217 204h1.8M221.5 204h1.8M223 204h1.8M225 204h1.8M227 204h1.8M228.5 204h1.8M234.5 204h1.8M235.5 204h1.8M237.5 204h1.8M244.5 204h1.8M260.5 204h1.8M287 204h1.8M138.5 204.5h1.8M139 204.5h1.8M143 204.5h1.8M151.5 204.5h1.8M152.5 204.5h1.8M155 204.5h1.8M156.5 204.5h1.8M158 204.5h1.8M161 204.5h1.8M162.5 204.5h1.8M164.5 204.5h1.8M165.5 204.5h1.8M166.5 204.5h1.8M168 204.5h1.8M169 204.5h1.8M171 204.5h1.8M172.5 204.5h1.8M173 204.5h1.8M173.5 204.5h1.8M174 204.5h1.8M175.5 204.5h1.8M176 204.5h1.8M176.5 204.5h1.8M178 204.5h1.8M178.5 204.5h1.8M179.5 204.5h1.8M181 204.5h1.8M182 204.5h1.8M182.5 204.5h1.8M183 204.5h1.8M188 204.5h1.8M189 204.5h1.8M189.5 204.5h1.8M190.5 204.5h1.8M191 204.5h1.8M192.5 204.5h1.8M193.5 204.5h1.8M198 204.5h1.8M198.5 204.5h1.8M200 204.5h1.8M201 204.5h1.8M201.5 204.5h1.8M202 204.5h1.8M208 204.5h1.8M210.5 204.5h1.8M215 204.5h1.8M215.5 204.5h1.8M225.5 204.5h1.8M235 204.5h1.8M241.5 204.5h1.8M254.5 204.5h1.8M132.5 205h1.8M138 205h1.8M142.5 205h1.8M145.5 205h1.8M149 205h1.8M149.5 205h1.8M150 205h1.8M152.5 205h1.8M154 205h1.8M156.5 205h1.8M157.5 205h1.8M159.5 205h1.8M163.5 205h1.8M164.5 205h1.8M167.5 205h1.8M168 205h1.8M169 205h1.8M172.5 205h1.8M175.5 205h1.8M176.5 205h1.8M179 205h1.8M180.5 205h1.8M183 205h1.8M183.5 205h1.8M184 205h1.8M184.5 205h1.8M185.5 205h1.8M186.5 205h1.8M187 205h1.8M187.5 205h1.8M188 205h1.8M191.5 205h1.8M192 205h1.8M194.5 205h1.8M195.5 205h1.8M196.5 205h1.8M197.5 205h1.8M198.5 205h1.8M202 205h1.8M204.5 205h1.8M205 205h1.8M208.5 205h1.8M209.5 205h1.8M211 205h1.8M214 205h1.8M220 205h1.8M220.5 205h1.8M227.5 205h1.8M232.5 205h1.8M245 205h1.8M263.5 205h1.8M134.5 205.5h1.8M135 205.5h1.8M140.5 205.5h1.8M145.5 205.5h1.8M147 205.5h1.8M150 205.5h1.8M152.5 205.5h1.8M155 205.5h1.8M156 205.5h1.8M157 205.5h1.8M158 205.5h1.8M159.5 205.5h1.8M160.5 205.5h1.8M161 205.5h1.8M162 205.5h1.8M163.5 205.5h1.8M164 205.5h1.8M166 205.5h1.8M166.5 205.5h1.8M167 205.5h1.8M168.5 205.5h1.8M170 205.5h1.8M171 205.5h1.8M171.5 205.5h1.8M172 205.5h1.8M173 205.5h1.8M176.5 205.5h1.8M177 205.5h1.8M178 205.5h1.8M180 205.5h1.8M182 205.5h1.8M182.5 205.5h1.8M183.5 205.5h1.8M184 205.5h1.8M184.5 205.5h1.8M186 205.5h1.8M186.5 205.5h1.8M187.5 205.5h1.8M188 205.5h1.8M189.5 205.5h1.8M190 205.5h1.8M191 205.5h1.8M191.5 205.5h1.8M194 205.5h1.8M195.5 205.5h1.8M196 205.5h1.8M196.5 205.5h1.8M199 205.5h1.8M202.5 205.5h1.8M204 205.5h1.8M207.5 205.5h1.8M210 205.5h1.8M213 205.5h1.8M213.5 205.5h1.8M219 205.5h1.8M221.5 205.5h1.8M223 205.5h1.8M223.5 205.5h1.8M234.5 205.5h1.8M249 205.5h1.8M257.5 205.5h1.8M258.5 205.5h1.8M264.5 205.5h1.8M267 205.5h1.8M271 205.5h1.8M146.5 206h1.8M148.5 206h1.8M150 206h1.8M153 206h1.8M157.5 206h1.8M158.5 206h1.8M160.5 206h1.8M161 206h1.8M162 206h1.8M163.5 206h1.8M165.5 206h1.8M166 206h1.8M167.5 206h1.8M168 206h1.8M168.5 206h1.8M169 206h1.8M170.5 206h1.8M171.5 206h1.8M172.5 206h1.8M173.5 206h1.8M174 206h1.8M176 206h1.8M177 206h1.8M178 206h1.8M179 206h1.8M179.5 206h1.8M180 206h1.8M184 206h1.8M185 206h1.8M185.5 206h1.8M186.5 206h1.8M187 206h1.8M188 206h1.8M188.5 206h1.8M189.5 206h1.8M190 206h1.8M191 206h1.8M192.5 206h1.8M194 206h1.8M194.5 206h1.8M196.5 206h1.8M197.5 206h1.8M199.5 206h1.8M202 206h1.8M205 206h1.8M209.5 206h1.8M214 206h1.8M214.5 206h1.8M215 206h1.8M223.5 206h1.8M227 206h1.8M233.5 206h1.8M242 206h1.8M246.5 206h1.8M248.5 206h1.8M263 206h1.8M136.5 206.5h1.8M137.5 206.5h1.8M149 206.5h1.8M150 206.5h1.8M153.5 206.5h1.8M154 206.5h1.8M154.5 206.5h1.8M159 206.5h1.8M159.5 206.5h1.8M161 206.5h1.8M163 206.5h1.8M164.5 206.5h1.8M165.5 206.5h1.8M172 206.5h1.8M172.5 206.5h1.8M173 206.5h1.8M174 206.5h1.8M174.5 206.5h1.8M179.5 206.5h1.8M181 206.5h1.8M182 206.5h1.8M182.5 206.5h1.8M183 206.5h1.8M185.5 206.5h1.8M186.5 206.5h1.8M188 206.5h1.8M192 206.5h1.8M193.5 206.5h1.8M196.5 206.5h1.8M197 206.5h1.8M198 206.5h1.8M199 206.5h1.8M200 206.5h1.8M200.5 206.5h1.8M201 206.5h1.8M208.5 206.5h1.8M213 206.5h1.8M214.5 206.5h1.8M219.5 206.5h1.8M220 206.5h1.8M222.5 206.5h1.8M224.5 206.5h1.8M227 206.5h1.8M238.5 206.5h1.8M246 206.5h1.8M137 207h1.8M139 207h1.8M147 207h1.8M151 207h1.8M153.5 207h1.8M155.5 207h1.8M156.5 207h1.8M160.5 207h1.8M163.5 207h1.8M165 207h1.8M165.5 207h1.8M166 207h1.8M166.5 207h1.8M168 207h1.8M168.5 207h1.8M170.5 207h1.8M171 207h1.8M173 207h1.8M173.5 207h1.8M174.5 207h1.8M176 207h1.8M180 207h1.8M180.5 207h1.8M181.5 207h1.8M182 207h1.8M183.5 207h1.8M184 207h1.8M187 207h1.8M187.5 207h1.8M189.5 207h1.8M190.5 207h1.8M191.5 207h1.8M193 207h1.8M193.5 207h1.8M194 207h1.8M194.5 207h1.8M195 207h1.8M195.5 207h1.8M196.5 207h1.8M197 207h1.8M197.5 207h1.8M199 207h1.8M200.5 207h1.8M201 207h1.8M204 207h1.8M208.5 207h1.8M212 207h1.8M216.5 207h1.8M219.5 207h1.8M220 207h1.8M225 207h1.8M229 207h1.8M231.5 207h1.8M233 207h1.8M241.5 207h1.8M248.5 207h1.8M132 207.5h1.8M138.5 207.5h1.8M143 207.5h1.8M146.5 207.5h1.8M147.5 207.5h1.8M150 207.5h1.8M152.5 207.5h1.8M156.5 207.5h1.8M157 207.5h1.8M158.5 207.5h1.8M163 207.5h1.8M165 207.5h1.8M166 207.5h1.8M167 207.5h1.8M169 207.5h1.8M171.5 207.5h1.8M172.5 207.5h1.8M173.5 207.5h1.8M174.5 207.5h1.8M175.5 207.5h1.8M176 207.5h1.8M177 207.5h1.8M179 207.5h1.8M180 207.5h1.8M181 207.5h1.8M182 207.5h1.8M183 207.5h1.8M184.5 207.5h1.8M185 207.5h1.8M186 207.5h1.8M190.5 207.5h1.8M192.5 207.5h1.8M196.5 207.5h1.8M197.5 207.5h1.8M199.5 207.5h1.8M200.5 207.5h1.8M201 207.5h1.8M206.5 207.5h1.8M209.5 207.5h1.8M211 207.5h1.8M215.5 207.5h1.8M218.5 207.5h1.8M224 207.5h1.8M240 207.5h1.8M245.5 207.5h1.8M263 207.5h1.8M131 208h1.8M138.5 208h1.8M146 208h1.8M147 208h1.8M147.5 208h1.8M148 208h1.8M149 208h1.8M153 208h1.8M154 208h1.8M157.5 208h1.8M160.5 208h1.8M161 208h1.8M161.5 208h1.8M162.5 208h1.8M163 208h1.8M164 208h1.8M164.5 208h1.8M165.5 208h1.8M166.5 208h1.8M167.5 208h1.8M170.5 208h1.8M171 208h1.8M175 208h1.8M177.5 208h1.8M179 208h1.8M180 208h1.8M181 208h1.8M182 208h1.8M183.5 208h1.8M184.5 208h1.8M186 208h1.8M188 208h1.8M189.5 208h1.8M190.5 208h1.8M191 208h1.8M192 208h1.8M194 208h1.8M199 208h1.8M200.5 208h1.8M202 208h1.8M203.5 208h1.8M204 208h1.8M208 208h1.8M209 208h1.8M214.5 208h1.8M219.5 208h1.8M220 208h1.8M222.5 208h1.8M223 208h1.8M227 208h1.8M230 208h1.8M232.5 208h1.8M248 208h1.8M248.5 208h1.8M252.5 208h1.8M126.5 208.5h1.8M135 208.5h1.8M136.5 208.5h1.8M144.5 208.5h1.8M147 208.5h1.8M149.5 208.5h1.8M150 208.5h1.8M150.5 208.5h1.8M151 208.5h1.8M153.5 208.5h1.8M154 208.5h1.8M155.5 208.5h1.8M156 208.5h1.8M158.5 208.5h1.8M160.5 208.5h1.8M161 208.5h1.8M162.5 208.5h1.8M163.5 208.5h1.8M168 208.5h1.8M169 208.5h1.8M170.5 208.5h1.8M172 208.5h1.8M174 208.5h1.8M181.5 208.5h1.8M182.5 208.5h1.8M183 208.5h1.8M184 208.5h1.8M184.5 208.5h1.8M185 208.5h1.8M185.5 208.5h1.8M186 208.5h1.8M188 208.5h1.8M188.5 208.5h1.8M189.5 208.5h1.8M192 208.5h1.8M192.5 208.5h1.8M194.5 208.5h1.8M196 208.5h1.8M198.5 208.5h1.8M200.5 208.5h1.8M203 208.5h1.8M204 208.5h1.8M205.5 208.5h1.8M207 208.5h1.8M211 208.5h1.8M213.5 208.5h1.8M233.5 208.5h1.8M240.5 208.5h1.8M258 208.5h1.8M260.5 208.5h1.8M135 209h1.8M138.5 209h1.8M143 209h1.8M145 209h1.8M145.5 209h1.8M149 209h1.8M149.5 209h1.8M151.5 209h1.8M154.5 209h1.8M156.5 209h1.8M157 209h1.8M158 209h1.8M158.5 209h1.8M159 209h1.8M161 209h1.8M162 209h1.8M166 209h1.8M167 209h1.8M167.5 209h1.8M168.5 209h1.8M169.5 209h1.8M171 209h1.8M173 209h1.8M175.5 209h1.8M176 209h1.8M178 209h1.8M178.5 209h1.8M179 209h1.8M180.5 209h1.8M182.5 209h1.8M183 209h1.8M183.5 209h1.8M184 209h1.8M184.5 209h1.8M185.5 209h1.8M187 209h1.8M188 209h1.8M192 209h1.8M192.5 209h1.8M194 209h1.8M198 209h1.8M200 209h1.8M203.5 209h1.8M207.5 209h1.8M208 209h1.8M210.5 209h1.8M211.5 209h1.8M212 209h1.8M215 209h1.8M217 209h1.8M238.5 209h1.8M245.5 209h1.8M132 209.5h1.8M137.5 209.5h1.8M141.5 209.5h1.8M142 209.5h1.8M145 209.5h1.8M146.5 209.5h1.8M153.5 209.5h1.8M154.5 209.5h1.8M156 209.5h1.8M156.5 209.5h1.8M157 209.5h1.8M159 209.5h1.8M160 209.5h1.8M160.5 209.5h1.8M162 209.5h1.8M162.5 209.5h1.8M164 209.5h1.8M164.5 209.5h1.8M170.5 209.5h1.8M173.5 209.5h1.8M176.5 209.5h1.8M177 209.5h1.8M178 209.5h1.8M178.5 209.5h1.8M179 209.5h1.8M180 209.5h1.8M181.5 209.5h1.8M182.5 209.5h1.8M184.5 209.5h1.8M186 209.5h1.8M189 209.5h1.8M189.5 209.5h1.8M191.5 209.5h1.8M193 209.5h1.8M194.5 209.5h1.8M197.5 209.5h1.8M206 209.5h1.8M207.5 209.5h1.8M208 209.5h1.8M209 209.5h1.8M210 209.5h1.8M214.5 209.5h1.8M220.5 209.5h1.8M221 209.5h1.8M226.5 209.5h1.8M227.5 209.5h1.8M231 209.5h1.8M233.5 209.5h1.8M235 209.5h1.8M248 209.5h1.8M270.5 209.5h1.8M272.5 209.5h1.8M142 210h1.8M145 210h1.8M149.5 210h1.8M150 210h1.8M154.5 210h1.8M156 210h1.8M156.5 210h1.8M157 210h1.8M158.5 210h1.8M159 210h1.8M160.5 210h1.8M161.5 210h1.8M163.5 210h1.8M166.5 210h1.8M167 210h1.8M169 210h1.8M171.5 210h1.8M172 210h1.8M172.5 210h1.8M173 210h1.8M175.5 210h1.8M176 210h1.8M178 210h1.8M180.5 210h1.8M183.5 210h1.8M184 210h1.8M184.5 210h1.8M185 210h1.8M186 210h1.8M187.5 210h1.8M188.5 210h1.8M189.5 210h1.8M191 210h1.8M192 210h1.8M193.5 210h1.8M194 210h1.8M195.5 210h1.8M196 210h1.8M197 210h1.8M198.5 210h1.8M199 210h1.8M200 210h1.8M205 210h1.8M206.5 210h1.8M210 210h1.8M210.5 210h1.8M211.5 210h1.8M212 210h1.8M220.5 210h1.8M221.5 210h1.8M242.5 210h1.8M247.5 210h1.8M265 210h1.8M140 210.5h1.8M141 210.5h1.8M144.5 210.5h1.8M147 210.5h1.8M147.5 210.5h1.8M148.5 210.5h1.8M150 210.5h1.8M151.5 210.5h1.8M152 210.5h1.8M154 210.5h1.8M155.5 210.5h1.8M156 210.5h1.8M158 210.5h1.8M159.5 210.5h1.8M160.5 210.5h1.8M161 210.5h1.8M163 210.5h1.8M163.5 210.5h1.8M164 210.5h1.8M166.5 210.5h1.8M167 210.5h1.8M168 210.5h1.8M170 210.5h1.8M170.5 210.5h1.8M171 210.5h1.8M173 210.5h1.8M174 210.5h1.8M177 210.5h1.8M179.5 210.5h1.8M180 210.5h1.8M181 210.5h1.8M183.5 210.5h1.8M184 210.5h1.8M185 210.5h1.8M186 210.5h1.8M186.5 210.5h1.8M187 210.5h1.8M189.5 210.5h1.8M194 210.5h1.8M195 210.5h1.8M196 210.5h1.8M197.5 210.5h1.8M198.5 210.5h1.8M200 210.5h1.8M201 210.5h1.8M202 210.5h1.8M206 210.5h1.8M213 210.5h1.8M216.5 210.5h1.8M222.5 210.5h1.8M223 210.5h1.8M223.5 210.5h1.8M234 210.5h1.8M235.5 210.5h1.8M241.5 210.5h1.8M138.5 211h1.8M141 211h1.8M143.5 211h1.8M145 211h1.8M145.5 211h1.8M147.5 211h1.8M151 211h1.8M154.5 211h1.8M155.5 211h1.8M159.5 211h1.8M161.5 211h1.8M162.5 211h1.8M163 211h1.8M163.5 211h1.8M164.5 211h1.8M165 211h1.8M166 211h1.8M167 211h1.8M168 211h1.8M168.5 211h1.8M169 211h1.8M170 211h1.8M170.5 211h1.8M171.5 211h1.8M173 211h1.8M173.5 211h1.8M174 211h1.8M175 211h1.8M178 211h1.8M181 211h1.8M181.5 211h1.8M182 211h1.8M182.5 211h1.8M183 211h1.8M183.5 211h1.8M184.5 211h1.8M185.5 211h1.8M187 211h1.8M187.5 211h1.8M188 211h1.8M189.5 211h1.8M190 211h1.8M190.5 211h1.8M191 211h1.8M191.5 211h1.8M192 211h1.8M193.5 211h1.8M195.5 211h1.8M196.5 211h1.8M197 211h1.8M197.5 211h1.8M203.5 211h1.8M206 211h1.8M208.5 211h1.8M211 211h1.8M222.5 211h1.8M223.5 211h1.8M232 211h1.8M235.5 211h1.8M246 211h1.8M251.5 211h1.8M256.5 211h1.8M265 211h1.8M135.5 211.5h1.8M137.5 211.5h1.8M141 211.5h1.8M144.5 211.5h1.8M147 211.5h1.8M150 211.5h1.8M150.5 211.5h1.8M153 211.5h1.8M156 211.5h1.8M159 211.5h1.8M160 211.5h1.8M162 211.5h1.8M164 211.5h1.8M165.5 211.5h1.8M166.5 211.5h1.8M167 211.5h1.8M167.5 211.5h1.8M169 211.5h1.8M169.5 211.5h1.8M170.5 211.5h1.8M171 211.5h1.8M172 211.5h1.8M174 211.5h1.8M175.5 211.5h1.8M176 211.5h1.8M178.5 211.5h1.8M179.5 211.5h1.8M180 211.5h1.8M180.5 211.5h1.8M182.5 211.5h1.8M184 211.5h1.8M184.5 211.5h1.8M185.5 211.5h1.8M186 211.5h1.8M187 211.5h1.8M187.5 211.5h1.8M189.5 211.5h1.8M191.5 211.5h1.8M192 211.5h1.8M193 211.5h1.8M193.5 211.5h1.8M194.5 211.5h1.8M195 211.5h1.8M196 211.5h1.8M199.5 211.5h1.8M200.5 211.5h1.8M207 211.5h1.8M211.5 211.5h1.8M227 211.5h1.8M228.5 211.5h1.8M232.5 211.5h1.8M241.5 211.5h1.8M254.5 211.5h1.8M133 212h1.8M134 212h1.8M139.5 212h1.8M143 212h1.8M145.5 212h1.8M146 212h1.8M147 212h1.8M147.5 212h1.8M149.5 212h1.8M152.5 212h1.8M153.5 212h1.8M155.5 212h1.8M156 212h1.8M157.5 212h1.8M158.5 212h1.8M160 212h1.8M161 212h1.8M164 212h1.8M164.5 212h1.8M165.5 212h1.8M167.5 212h1.8M169 212h1.8M171.5 212h1.8M173 212h1.8M177 212h1.8M179 212h1.8M180 212h1.8M186 212h1.8M188 212h1.8M188.5 212h1.8M192 212h1.8M193.5 212h1.8M194.5 212h1.8M195.5 212h1.8M205 212h1.8M207 212h1.8M216.5 212h1.8M220.5 212h1.8M248 212h1.8M252.5 212h1.8M269 212h1.8M136.5 212.5h1.8M141.5 212.5h1.8M147 212.5h1.8M148.5 212.5h1.8M149 212.5h1.8M149.5 212.5h1.8M150 212.5h1.8M152 212.5h1.8M153.5 212.5h1.8M154 212.5h1.8M154.5 212.5h1.8M158 212.5h1.8M158.5 212.5h1.8M161 212.5h1.8M162.5 212.5h1.8M168.5 212.5h1.8M169 212.5h1.8M171 212.5h1.8M172 212.5h1.8M172.5 212.5h1.8M173.5 212.5h1.8M174.5 212.5h1.8M175.5 212.5h1.8M178 212.5h1.8M179 212.5h1.8M180.5 212.5h1.8M181 212.5h1.8M182 212.5h1.8M184.5 212.5h1.8M185.5 212.5h1.8M187 212.5h1.8M187.5 212.5h1.8M189.5 212.5h1.8M191 212.5h1.8M191.5 212.5h1.8M192 212.5h1.8M192.5 212.5h1.8M194 212.5h1.8M212 212.5h1.8M215.5 212.5h1.8M223.5 212.5h1.8M231.5 212.5h1.8M236 212.5h1.8M238 212.5h1.8M242.5 212.5h1.8M243 212.5h1.8M267 212.5h1.8M141.5 213h1.8M142 213h1.8M143 213h1.8M147.5 213h1.8M151 213h1.8M152.5 213h1.8M154.5 213h1.8M155.5 213h1.8M157 213h1.8M160 213h1.8M161.5 213h1.8M163.5 213h1.8M164.5 213h1.8M165.5 213h1.8M166.5 213h1.8M167 213h1.8M168.5 213h1.8M169.5 213h1.8M171.5 213h1.8M172.5 213h1.8M173 213h1.8M173.5 213h1.8M175.5 213h1.8M176.5 213h1.8M177 213h1.8M178 213h1.8M179 213h1.8M180.5 213h1.8M183 213h1.8M185 213h1.8M188 213h1.8M189 213h1.8M190 213h1.8M190.5 213h1.8M192.5 213h1.8M194.5 213h1.8M197 213h1.8M198.5 213h1.8M200.5 213h1.8M201.5 213h1.8M216 213h1.8M217.5 213h1.8M225 213h1.8M233 213h1.8M282.5 213h1.8M141 213.5h1.8M143 213.5h1.8M144 213.5h1.8M146 213.5h1.8M148 213.5h1.8M149.5 213.5h1.8M150.5 213.5h1.8M152 213.5h1.8M153 213.5h1.8M153.5 213.5h1.8M155.5 213.5h1.8M161.5 213.5h1.8M162 213.5h1.8M163.5 213.5h1.8M164.5 213.5h1.8M166.5 213.5h1.8M168.5 213.5h1.8M170 213.5h1.8M170.5 213.5h1.8M171.5 213.5h1.8M172 213.5h1.8M173.5 213.5h1.8M174 213.5h1.8M175.5 213.5h1.8M177 213.5h1.8M177.5 213.5h1.8M178 213.5h1.8M178.5 213.5h1.8M180 213.5h1.8M180.5 213.5h1.8M181 213.5h1.8M181.5 213.5h1.8M182 213.5h1.8M183 213.5h1.8M183.5 213.5h1.8M184 213.5h1.8M185 213.5h1.8M186.5 213.5h1.8M190 213.5h1.8M191.5 213.5h1.8M192 213.5h1.8M193.5 213.5h1.8M194 213.5h1.8M197 213.5h1.8M200 213.5h1.8M200.5 213.5h1.8M203 213.5h1.8M205 213.5h1.8M214 213.5h1.8M218 213.5h1.8M219.5 213.5h1.8M224.5 213.5h1.8M267.5 213.5h1.8M272.5 213.5h1.8M142.5 214h1.8M143 214h1.8M143.5 214h1.8M144.5 214h1.8M145 214h1.8M145.5 214h1.8M152.5 214h1.8M153 214h1.8M153.5 214h1.8M154.5 214h1.8M156 214h1.8M157 214h1.8M157.5 214h1.8M158 214h1.8M160 214h1.8M160.5 214h1.8M161 214h1.8M161.5 214h1.8M163 214h1.8M163.5 214h1.8M164.5 214h1.8M165.5 214h1.8M166.5 214h1.8M167.5 214h1.8M169 214h1.8M170.5 214h1.8M173 214h1.8M173.5 214h1.8M175 214h1.8M177 214h1.8M177.5 214h1.8M179 214h1.8M180 214h1.8M180.5 214h1.8M181 214h1.8M182.5 214h1.8M183 214h1.8M184 214h1.8M184.5 214h1.8M186.5 214h1.8M188.5 214h1.8M189 214h1.8M190.5 214h1.8M192.5 214h1.8M194.5 214h1.8M195 214h1.8M197.5 214h1.8M198 214h1.8M200.5 214h1.8M201 214h1.8M203.5 214h1.8M205.5 214h1.8M214.5 214h1.8M220.5 214h1.8M247 214h1.8M251.5 214h1.8M268.5 214h1.8M127 214.5h1.8M130 214.5h1.8M139 214.5h1.8M143 214.5h1.8M145 214.5h1.8M145.5 214.5h1.8M148 214.5h1.8M152 214.5h1.8M156 214.5h1.8M159.5 214.5h1.8M160.5 214.5h1.8M161 214.5h1.8M163 214.5h1.8M163.5 214.5h1.8M164 214.5h1.8M167 214.5h1.8M167.5 214.5h1.8M168 214.5h1.8M170.5 214.5h1.8M171.5 214.5h1.8M178 214.5h1.8M179 214.5h1.8M180 214.5h1.8M184 214.5h1.8M184.5 214.5h1.8M186.5 214.5h1.8M187 214.5h1.8M188.5 214.5h1.8M190.5 214.5h1.8M191 214.5h1.8M192 214.5h1.8M194 214.5h1.8M195 214.5h1.8M196 214.5h1.8M198.5 214.5h1.8M204.5 214.5h1.8M206 214.5h1.8M208.5 214.5h1.8M209.5 214.5h1.8M218 214.5h1.8M225 214.5h1.8M134 215h1.8M140.5 215h1.8M141 215h1.8M142 215h1.8M143 215h1.8M143.5 215h1.8M148.5 215h1.8M150 215h1.8M152.5 215h1.8M153 215h1.8M154.5 215h1.8M155.5 215h1.8M156 215h1.8M157 215h1.8M157.5 215h1.8M159 215h1.8M161.5 215h1.8M162.5 215h1.8M163.5 215h1.8M165.5 215h1.8M166 215h1.8M167 215h1.8M168.5 215h1.8M169 215h1.8M169.5 215h1.8M170 215h1.8M170.5 215h1.8M171.5 215h1.8M172 215h1.8M179.5 215h1.8M180 215h1.8M183.5 215h1.8M184 215h1.8M184.5 215h1.8M185 215h1.8M185.5 215h1.8M186.5 215h1.8M187 215h1.8M189.5 215h1.8M190.5 215h1.8M192 215h1.8M192.5 215h1.8M201.5 215h1.8M205 215h1.8M211 215h1.8M213 215h1.8M214.5 215h1.8M222.5 215h1.8M223 215h1.8M242 215h1.8M244.5 215h1.8M245.5 215h1.8M249 215h1.8M129 215.5h1.8M134.5 215.5h1.8M137 215.5h1.8M147 215.5h1.8M148.5 215.5h1.8M150.5 215.5h1.8M153 215.5h1.8M153.5 215.5h1.8M154 215.5h1.8M154.5 215.5h1.8M157.5 215.5h1.8M158 215.5h1.8M158.5 215.5h1.8M159 215.5h1.8M160 215.5h1.8M161 215.5h1.8M163.5 215.5h1.8M164 215.5h1.8M164.5 215.5h1.8M165 215.5h1.8M166.5 215.5h1.8M168 215.5h1.8M168.5 215.5h1.8M169 215.5h1.8M169.5 215.5h1.8M171.5 215.5h1.8M172 215.5h1.8M172.5 215.5h1.8M173 215.5h1.8M174.5 215.5h1.8M175 215.5h1.8M175.5 215.5h1.8M176 215.5h1.8M176.5 215.5h1.8M178 215.5h1.8M178.5 215.5h1.8M179.5 215.5h1.8M180 215.5h1.8M181.5 215.5h1.8M184.5 215.5h1.8M185.5 215.5h1.8M189.5 215.5h1.8M190 215.5h1.8M191 215.5h1.8M192.5 215.5h1.8M195 215.5h1.8M199.5 215.5h1.8M201 215.5h1.8M204.5 215.5h1.8M205.5 215.5h1.8M208 215.5h1.8M211.5 215.5h1.8M212.5 215.5h1.8M214.5 215.5h1.8M215 215.5h1.8M219 215.5h1.8M220.5 215.5h1.8M229.5 215.5h1.8M262 215.5h1.8M269 215.5h1.8M132.5 216h1.8M137 216h1.8M140 216h1.8M142.5 216h1.8M143 216h1.8M146 216h1.8M147.5 216h1.8M149.5 216h1.8M150 216h1.8M151.5 216h1.8M154 216h1.8M154.5 216h1.8M155 216h1.8M157 216h1.8M160.5 216h1.8M162 216h1.8M163.5 216h1.8M165.5 216h1.8M166 216h1.8M167 216h1.8M167.5 216h1.8M168.5 216h1.8M169 216h1.8M171.5 216h1.8M173.5 216h1.8M174 216h1.8M176.5 216h1.8M177 216h1.8M183.5 216h1.8M185.5 216h1.8M187.5 216h1.8M190.5 216h1.8M191.5 216h1.8M196.5 216h1.8M198 216h1.8M200 216h1.8M200.5 216h1.8M204 216h1.8M204.5 216h1.8M210.5 216h1.8M215 216h1.8M216.5 216h1.8M217.5 216h1.8M228 216h1.8M230.5 216h1.8M232.5 216h1.8M238.5 216h1.8M241 216h1.8M248 216h1.8M258 216h1.8M136 216.5h1.8M137.5 216.5h1.8M140 216.5h1.8M141 216.5h1.8M144.5 216.5h1.8M145 216.5h1.8M147.5 216.5h1.8M149 216.5h1.8M151.5 216.5h1.8M154 216.5h1.8M158.5 216.5h1.8M160 216.5h1.8M167 216.5h1.8M168.5 216.5h1.8M173 216.5h1.8M181.5 216.5h1.8M182 216.5h1.8M186 216.5h1.8M186.5 216.5h1.8M190.5 216.5h1.8M194.5 216.5h1.8M197 216.5h1.8M198.5 216.5h1.8M206 216.5h1.8M207 216.5h1.8M214.5 216.5h1.8M216 216.5h1.8M221 216.5h1.8M232.5 216.5h1.8M237 216.5h1.8M247.5 216.5h1.8M270 216.5h1.8M139.5 217h1.8M140 217h1.8M140.5 217h1.8M141 217h1.8M144.5 217h1.8M145 217h1.8M146.5 217h1.8M148 217h1.8M149.5 217h1.8M150 217h1.8M151 217h1.8M151.5 217h1.8M156.5 217h1.8M157.5 217h1.8M160 217h1.8M161.5 217h1.8M162 217h1.8M162.5 217h1.8M163 217h1.8M164 217h1.8M165 217h1.8M165.5 217h1.8M166.5 217h1.8M169 217h1.8M169.5 217h1.8M170 217h1.8M170.5 217h1.8M171 217h1.8M172 217h1.8M173.5 217h1.8M174 217h1.8M175 217h1.8M175.5 217h1.8M176 217h1.8M177 217h1.8M178 217h1.8M180.5 217h1.8M182 217h1.8M182.5 217h1.8M184.5 217h1.8M185.5 217h1.8M187.5 217h1.8M189 217h1.8M192.5 217h1.8M194.5 217h1.8M197 217h1.8M213.5 217h1.8M214.5 217h1.8M216.5 217h1.8M220 217h1.8M222 217h1.8M222.5 217h1.8M224 217h1.8M224.5 217h1.8M231.5 217h1.8M129.5 217.5h1.8M131 217.5h1.8M135 217.5h1.8M139 217.5h1.8M141.5 217.5h1.8M143 217.5h1.8M155.5 217.5h1.8M156.5 217.5h1.8M159 217.5h1.8M161 217.5h1.8M161.5 217.5h1.8M163.5 217.5h1.8M165 217.5h1.8M165.5 217.5h1.8M166 217.5h1.8M166.5 217.5h1.8M168 217.5h1.8M168.5 217.5h1.8M170 217.5h1.8M171 217.5h1.8M172.5 217.5h1.8M173 217.5h1.8M174 217.5h1.8M175 217.5h1.8M176 217.5h1.8M177.5 217.5h1.8M178 217.5h1.8M178.5 217.5h1.8M181.5 217.5h1.8M183 217.5h1.8M183.5 217.5h1.8M184.5 217.5h1.8M187 217.5h1.8M189 217.5h1.8M195.5 217.5h1.8M204 217.5h1.8M207.5 217.5h1.8M210.5 217.5h1.8M215 217.5h1.8M229 217.5h1.8M250.5 217.5h1.8M128.5 218h1.8M137.5 218h1.8M139 218h1.8M140.5 218h1.8M141.5 218h1.8M142.5 218h1.8M143 218h1.8M145.5 218h1.8M146.5 218h1.8M151 218h1.8M152.5 218h1.8M154 218h1.8M154.5 218h1.8M155.5 218h1.8M157 218h1.8M158.5 218h1.8M160.5 218h1.8M161 218h1.8M161.5 218h1.8M163 218h1.8M164.5 218h1.8M166 218h1.8M166.5 218h1.8M169 218h1.8M169.5 218h1.8M170 218h1.8M170.5 218h1.8M171 218h1.8M173 218h1.8M175 218h1.8M176 218h1.8M179 218h1.8M181 218h1.8M181.5 218h1.8M183 218h1.8M184 218h1.8M185 218h1.8M188.5 218h1.8M192 218h1.8M193 218h1.8M203.5 218h1.8M205 218h1.8M208 218h1.8M222.5 218h1.8M224.5 218h1.8M228 218h1.8M229 218h1.8M233 218h1.8M237 218h1.8M251.5 218h1.8M269 218h1.8M126.5 218.5h1.8M130.5 218.5h1.8M138.5 218.5h1.8M140.5 218.5h1.8M142.5 218.5h1.8M145 218.5h1.8M146 218.5h1.8M148.5 218.5h1.8M149.5 218.5h1.8M150 218.5h1.8M152 218.5h1.8M152.5 218.5h1.8M153 218.5h1.8M153.5 218.5h1.8M154.5 218.5h1.8M155 218.5h1.8M156 218.5h1.8M158 218.5h1.8M160 218.5h1.8M164.5 218.5h1.8M167.5 218.5h1.8M169 218.5h1.8M170.5 218.5h1.8M172 218.5h1.8M173 218.5h1.8M173.5 218.5h1.8M176 218.5h1.8M176.5 218.5h1.8M177 218.5h1.8M177.5 218.5h1.8M178.5 218.5h1.8M179.5 218.5h1.8M181 218.5h1.8M181.5 218.5h1.8M182 218.5h1.8M183 218.5h1.8M183.5 218.5h1.8M187 218.5h1.8M190.5 218.5h1.8M211 218.5h1.8M216 218.5h1.8M216.5 218.5h1.8M221.5 218.5h1.8M227.5 218.5h1.8M233 218.5h1.8M234 218.5h1.8M247 218.5h1.8M138.5 219h1.8M139.5 219h1.8M140.5 219h1.8M141.5 219h1.8M144.5 219h1.8M145.5 219h1.8M148.5 219h1.8M149 219h1.8M151.5 219h1.8M152 219h1.8M152.5 219h1.8M153 219h1.8M155.5 219h1.8M156 219h1.8M157 219h1.8M157.5 219h1.8M158 219h1.8M159 219h1.8M161.5 219h1.8M165 219h1.8M167 219h1.8M169 219h1.8M172 219h1.8M173 219h1.8M174 219h1.8M175 219h1.8M175.5 219h1.8M177.5 219h1.8M178 219h1.8M181 219h1.8M186.5 219h1.8M190 219h1.8M191.5 219h1.8M194.5 219h1.8M195 219h1.8M197 219h1.8M203.5 219h1.8M211 219h1.8M212 219h1.8M214.5 219h1.8M221.5 219h1.8M226.5 219h1.8M240 219h1.8M247.5 219h1.8M250.5 219h1.8M125.5 219.5h1.8M131 219.5h1.8M138.5 219.5h1.8M141 219.5h1.8M141.5 219.5h1.8M145 219.5h1.8M146 219.5h1.8M147.5 219.5h1.8M149.5 219.5h1.8M151.5 219.5h1.8M152 219.5h1.8M152.5 219.5h1.8M153 219.5h1.8M154.5 219.5h1.8M156.5 219.5h1.8M158.5 219.5h1.8M161 219.5h1.8M161.5 219.5h1.8M162 219.5h1.8M162.5 219.5h1.8M163.5 219.5h1.8M164 219.5h1.8M165.5 219.5h1.8M167 219.5h1.8M168 219.5h1.8M168.5 219.5h1.8M169 219.5h1.8M175 219.5h1.8M175.5 219.5h1.8M176.5 219.5h1.8M177.5 219.5h1.8M180.5 219.5h1.8M182 219.5h1.8M184 219.5h1.8M184.5 219.5h1.8M188.5 219.5h1.8M193.5 219.5h1.8M201 219.5h1.8M204.5 219.5h1.8M211 219.5h1.8M214 219.5h1.8M221 219.5h1.8M233.5 219.5h1.8M240.5 219.5h1.8M242 219.5h1.8M245.5 219.5h1.8M273.5 219.5h1.8M294 219.5h1.8M134.5 220h1.8M138.5 220h1.8M146.5 220h1.8M148.5 220h1.8M149.5 220h1.8M150.5 220h1.8M151 220h1.8M153 220h1.8M153.5 220h1.8M156 220h1.8M157.5 220h1.8M158 220h1.8M158.5 220h1.8M159 220h1.8M160 220h1.8M163 220h1.8M163.5 220h1.8M165.5 220h1.8M166 220h1.8M167 220h1.8M168 220h1.8M169 220h1.8M170 220h1.8M172 220h1.8M172.5 220h1.8M173 220h1.8M177 220h1.8M177.5 220h1.8M180 220h1.8M180.5 220h1.8M181 220h1.8M183 220h1.8M183.5 220h1.8M184 220h1.8M184.5 220h1.8M185 220h1.8M186 220h1.8M188.5 220h1.8M189.5 220h1.8M190 220h1.8M191.5 220h1.8M196 220h1.8M199 220h1.8M199.5 220h1.8M201 220h1.8M209 220h1.8M212 220h1.8M213 220h1.8M220.5 220h1.8M233 220h1.8M249.5 220h1.8M250.5 220h1.8M257.5 220h1.8M130 220.5h1.8M131.5 220.5h1.8M138.5 220.5h1.8M141 220.5h1.8M143 220.5h1.8M145 220.5h1.8M146.5 220.5h1.8M148 220.5h1.8M152 220.5h1.8M152.5 220.5h1.8M153 220.5h1.8M153.5 220.5h1.8M154 220.5h1.8M155.5 220.5h1.8M158 220.5h1.8M158.5 220.5h1.8M162 220.5h1.8M162.5 220.5h1.8M164 220.5h1.8M165 220.5h1.8M166 220.5h1.8M170 220.5h1.8M171 220.5h1.8M175 220.5h1.8M175.5 220.5h1.8M176 220.5h1.8M178.5 220.5h1.8M180.5 220.5h1.8M182 220.5h1.8M187.5 220.5h1.8M190 220.5h1.8M190.5 220.5h1.8M192 220.5h1.8M201.5 220.5h1.8M202.5 220.5h1.8M204.5 220.5h1.8M207.5 220.5h1.8M221.5 220.5h1.8M222.5 220.5h1.8M223 220.5h1.8M223.5 220.5h1.8M246 220.5h1.8M261 220.5h1.8M264 220.5h1.8M129 221h1.8M138.5 221h1.8M139.5 221h1.8M140.5 221h1.8M141 221h1.8M141.5 221h1.8M143.5 221h1.8M144 221h1.8M145.5 221h1.8M146.5 221h1.8M153 221h1.8M161 221h1.8M163 221h1.8M163.5 221h1.8M164.5 221h1.8M167.5 221h1.8M169.5 221h1.8M173.5 221h1.8M174.5 221h1.8M176.5 221h1.8M177 221h1.8M179 221h1.8M179.5 221h1.8M180.5 221h1.8M181.5 221h1.8M189 221h1.8M189.5 221h1.8M200.5 221h1.8M216.5 221h1.8M220.5 221h1.8M229.5 221h1.8M232.5 221h1.8M236 221h1.8M238.5 221h1.8M241.5 221h1.8M259 221h1.8M261 221h1.8M296 221h1.8M131.5 221.5h1.8M136 221.5h1.8M138.5 221.5h1.8M140 221.5h1.8M141 221.5h1.8M143 221.5h1.8M144 221.5h1.8M147 221.5h1.8M148 221.5h1.8M149 221.5h1.8M150.5 221.5h1.8M151.5 221.5h1.8M155.5 221.5h1.8M159 221.5h1.8M162 221.5h1.8M167.5 221.5h1.8M170 221.5h1.8M171.5 221.5h1.8M174 221.5h1.8M177 221.5h1.8M178.5 221.5h1.8M179.5 221.5h1.8M181.5 221.5h1.8M182.5 221.5h1.8M187.5 221.5h1.8M189.5 221.5h1.8M197 221.5h1.8M203.5 221.5h1.8M205 221.5h1.8M209.5 221.5h1.8M215.5 221.5h1.8M217.5 221.5h1.8M224.5 221.5h1.8M229.5 221.5h1.8M231 221.5h1.8M235.5 221.5h1.8M256.5 221.5h1.8M126.5 222h1.8M130 222h1.8M132.5 222h1.8M137.5 222h1.8M139.5 222h1.8M140 222h1.8M141.5 222h1.8M142.5 222h1.8M144 222h1.8M147.5 222h1.8M148 222h1.8M149.5 222h1.8M150 222h1.8M150.5 222h1.8M156 222h1.8M157 222h1.8M158 222h1.8M159 222h1.8M162.5 222h1.8M163 222h1.8M165 222h1.8M166.5 222h1.8M167.5 222h1.8M169.5 222h1.8M170 222h1.8M170.5 222h1.8M171 222h1.8M171.5 222h1.8M172.5 222h1.8M175.5 222h1.8M176 222h1.8M178 222h1.8M179.5 222h1.8M180 222h1.8M185.5 222h1.8M189 222h1.8M191.5 222h1.8M194 222h1.8M196.5 222h1.8M199.5 222h1.8M207 222h1.8M222 222h1.8M227 222h1.8M240.5 222h1.8M250 222h1.8M250.5 222h1.8M253 222h1.8M126 222.5h1.8M142 222.5h1.8M143 222.5h1.8M143.5 222.5h1.8M144 222.5h1.8M144.5 222.5h1.8M146.5 222.5h1.8M147 222.5h1.8M147.5 222.5h1.8M149.5 222.5h1.8M152 222.5h1.8M154 222.5h1.8M155 222.5h1.8M155.5 222.5h1.8M156 222.5h1.8M157.5 222.5h1.8M159.5 222.5h1.8M160.5 222.5h1.8M161.5 222.5h1.8M166 222.5h1.8M168.5 222.5h1.8M169.5 222.5h1.8M171 222.5h1.8M171.5 222.5h1.8M172.5 222.5h1.8M174 222.5h1.8M174.5 222.5h1.8M178 222.5h1.8M181 222.5h1.8M185.5 222.5h1.8M193.5 222.5h1.8M195.5 222.5h1.8M197.5 222.5h1.8M200 222.5h1.8M201 222.5h1.8M205 222.5h1.8M261 222.5h1.8M128 223h1.8M137.5 223h1.8M139 223h1.8M144.5 223h1.8M145 223h1.8M146 223h1.8M150 223h1.8M152.5 223h1.8M153.5 223h1.8M155.5 223h1.8M156.5 223h1.8M158 223h1.8M158.5 223h1.8M159.5 223h1.8M161.5 223h1.8M162 223h1.8M162.5 223h1.8M166 223h1.8M166.5 223h1.8M168.5 223h1.8M169 223h1.8M169.5 223h1.8M170 223h1.8M171.5 223h1.8M173.5 223h1.8M174 223h1.8M175 223h1.8M181 223h1.8M184 223h1.8M192 223h1.8M193.5 223h1.8M196 223h1.8M200.5 223h1.8M211.5 223h1.8M213.5 223h1.8M215 223h1.8M227.5 223h1.8M233.5 223h1.8M236.5 223h1.8M243 223h1.8M126.5 223.5h1.8M127.5 223.5h1.8M136 223.5h1.8M137.5 223.5h1.8M139.5 223.5h1.8M140 223.5h1.8M142.5 223.5h1.8M144 223.5h1.8M147.5 223.5h1.8M153 223.5h1.8M154.5 223.5h1.8M155 223.5h1.8M157.5 223.5h1.8M158 223.5h1.8M164.5 223.5h1.8M166 223.5h1.8M167 223.5h1.8M169 223.5h1.8M171 223.5h1.8M171.5 223.5h1.8M172 223.5h1.8M173 223.5h1.8M176.5 223.5h1.8M178 223.5h1.8M180 223.5h1.8M182 223.5h1.8M183.5 223.5h1.8M184 223.5h1.8M186 223.5h1.8M196 223.5h1.8M199.5 223.5h1.8M201.5 223.5h1.8M202 223.5h1.8M205 223.5h1.8M211 223.5h1.8M216 223.5h1.8M216.5 223.5h1.8M223 223.5h1.8M130 224h1.8M139.5 224h1.8M140 224h1.8M142 224h1.8M144 224h1.8M147.5 224h1.8M148 224h1.8M152.5 224h1.8M154.5 224h1.8M157 224h1.8M159 224h1.8M160 224h1.8M162 224h1.8M164.5 224h1.8M167 224h1.8M169.5 224h1.8M172 224h1.8M172.5 224h1.8M173 224h1.8M174 224h1.8M174.5 224h1.8M175.5 224h1.8M176.5 224h1.8M180 224h1.8M183.5 224h1.8M192.5 224h1.8M194 224h1.8M206.5 224h1.8M212 224h1.8M212.5 224h1.8M218.5 224h1.8M234.5 224h1.8M235.5 224h1.8M238.5 224h1.8M137.5 224.5h1.8M138 224.5h1.8M139 224.5h1.8M142.5 224.5h1.8M143 224.5h1.8M143.5 224.5h1.8M144 224.5h1.8M145 224.5h1.8M145.5 224.5h1.8M146 224.5h1.8M146.5 224.5h1.8M147 224.5h1.8M151.5 224.5h1.8M152.5 224.5h1.8M154 224.5h1.8M155 224.5h1.8M156 224.5h1.8M157.5 224.5h1.8M163.5 224.5h1.8M165 224.5h1.8M165.5 224.5h1.8M167 224.5h1.8M168.5 224.5h1.8M169 224.5h1.8M169.5 224.5h1.8M172 224.5h1.8M172.5 224.5h1.8M173 224.5h1.8M173.5 224.5h1.8M174 224.5h1.8M176.5 224.5h1.8M177.5 224.5h1.8M184 224.5h1.8M185 224.5h1.8M186 224.5h1.8M190.5 224.5h1.8M194.5 224.5h1.8M223 224.5h1.8M235 224.5h1.8M236.5 224.5h1.8M132 225h1.8M141 225h1.8M146 225h1.8M149 225h1.8M150.5 225h1.8M154 225h1.8M158 225h1.8M159 225h1.8M160.5 225h1.8M162.5 225h1.8M165.5 225h1.8M168 225h1.8M168.5 225h1.8M169.5 225h1.8M171.5 225h1.8M180.5 225h1.8M184 225h1.8M186.5 225h1.8M191.5 225h1.8M199.5 225h1.8M207 225h1.8M210.5 225h1.8M211.5 225h1.8M213.5 225h1.8M214 225h1.8M214.5 225h1.8M216 225h1.8M219.5 225h1.8M222 225h1.8M224.5 225h1.8M265 225h1.8M270.5 225h1.8M128.5 225.5h1.8M139 225.5h1.8M140.5 225.5h1.8M141 225.5h1.8M143 225.5h1.8M144 225.5h1.8M146.5 225.5h1.8M148 225.5h1.8M148.5 225.5h1.8M149 225.5h1.8M152 225.5h1.8M153 225.5h1.8M153.5 225.5h1.8M154 225.5h1.8M156 225.5h1.8M157.5 225.5h1.8M158.5 225.5h1.8M159.5 225.5h1.8M161 225.5h1.8M161.5 225.5h1.8M162 225.5h1.8M166 225.5h1.8M166.5 225.5h1.8M168.5 225.5h1.8M171.5 225.5h1.8M172.5 225.5h1.8M173.5 225.5h1.8M174 225.5h1.8M179.5 225.5h1.8M192 225.5h1.8M194.5 225.5h1.8M196.5 225.5h1.8M200.5 225.5h1.8M208.5 225.5h1.8M209 225.5h1.8M212.5 225.5h1.8M221 225.5h1.8M248.5 225.5h1.8M141 226h1.8M142.5 226h1.8M144.5 226h1.8M147.5 226h1.8M148 226h1.8M149.5 226h1.8M150 226h1.8M154 226h1.8M155 226h1.8M158.5 226h1.8M160 226h1.8M160.5 226h1.8M163 226h1.8M163.5 226h1.8M164 226h1.8M166.5 226h1.8M168.5 226h1.8M173.5 226h1.8M176.5 226h1.8M178.5 226h1.8M182.5 226h1.8M192 226h1.8M196.5 226h1.8M206.5 226h1.8M211 226h1.8M213.5 226h1.8M241.5 226h1.8M262 226h1.8M270 226h1.8M134 226.5h1.8M141 226.5h1.8M145 226.5h1.8M146 226.5h1.8M149 226.5h1.8M150 226.5h1.8M151 226.5h1.8M153 226.5h1.8M155.5 226.5h1.8M156.5 226.5h1.8M158 226.5h1.8M158.5 226.5h1.8M160 226.5h1.8M161 226.5h1.8M161.5 226.5h1.8M163.5 226.5h1.8M164.5 226.5h1.8M166 226.5h1.8M170.5 226.5h1.8M174.5 226.5h1.8M179 226.5h1.8M179.5 226.5h1.8M180.5 226.5h1.8M187.5 226.5h1.8M198 226.5h1.8M242.5 226.5h1.8M249.5 226.5h1.8M126.5 227h1.8M136 227h1.8M139 227h1.8M139.5 227h1.8M140 227h1.8M142 227h1.8M143.5 227h1.8M144.5 227h1.8M145 227h1.8M146 227h1.8M147 227h1.8M147.5 227h1.8M148 227h1.8M149.5 227h1.8M153.5 227h1.8M154 227h1.8M157 227h1.8M160 227h1.8M160.5 227h1.8M164 227h1.8M165 227h1.8M167 227h1.8M169 227h1.8M170 227h1.8M170.5 227h1.8M172 227h1.8M173 227h1.8M177.5 227h1.8M180 227h1.8M182 227h1.8M189 227h1.8M196 227h1.8M200 227h1.8M200.5 227h1.8M206 227h1.8M209.5 227h1.8M223 227h1.8M228.5 227h1.8M230 227h1.8M230.5 227h1.8M231.5 227h1.8M131.5 227.5h1.8M147.5 227.5h1.8M148 227.5h1.8M149.5 227.5h1.8M150 227.5h1.8M152 227.5h1.8M152.5 227.5h1.8M156.5 227.5h1.8M157.5 227.5h1.8M160.5 227.5h1.8M162 227.5h1.8M162.5 227.5h1.8M164.5 227.5h1.8M165.5 227.5h1.8M166 227.5h1.8M171 227.5h1.8M175 227.5h1.8M188 227.5h1.8M203.5 227.5h1.8M204 227.5h1.8M207 227.5h1.8M211.5 227.5h1.8M222 227.5h1.8M224.5 227.5h1.8M228.5 227.5h1.8M229.5 227.5h1.8M233 227.5h1.8M135 228h1.8M136 228h1.8M139 228h1.8M139.5 228h1.8M140 228h1.8M142 228h1.8M144 228h1.8M145 228h1.8M145.5 228h1.8M149 228h1.8M150.5 228h1.8M151 228h1.8M151.5 228h1.8M153.5 228h1.8M156 228h1.8M156.5 228h1.8M158.5 228h1.8M161 228h1.8M162.5 228h1.8M164 228h1.8M167.5 228h1.8M176 228h1.8M185 228h1.8M192 228h1.8M197.5 228h1.8M199 228h1.8M204.5 228h1.8M212.5 228h1.8M219.5 228h1.8M221 228h1.8M225 228h1.8M242 228h1.8M250.5 228h1.8M256 228h1.8M136 228.5h1.8M140.5 228.5h1.8M143.5 228.5h1.8M144.5 228.5h1.8M146 228.5h1.8M147.5 228.5h1.8M151 228.5h1.8M151.5 228.5h1.8M153 228.5h1.8M153.5 228.5h1.8M160 228.5h1.8M160.5 228.5h1.8M162.5 228.5h1.8M163 228.5h1.8M165.5 228.5h1.8M168 228.5h1.8M172 228.5h1.8M177 228.5h1.8M177.5 228.5h1.8M180.5 228.5h1.8M187 228.5h1.8M189 228.5h1.8M201 228.5h1.8M210.5 228.5h1.8M212 228.5h1.8M219 228.5h1.8M238 228.5h1.8M127 229h1.8M142 229h1.8M143.5 229h1.8M151 229h1.8M151.5 229h1.8M153 229h1.8M154.5 229h1.8M160 229h1.8M160.5 229h1.8M161 229h1.8M164.5 229h1.8M167 229h1.8M171.5 229h1.8M183.5 229h1.8M187.5 229h1.8M188.5 229h1.8M189 229h1.8M197.5 229h1.8M199.5 229h1.8M217.5 229h1.8M235.5 229h1.8M239.5 229h1.8M241.5 229h1.8M260 229h1.8M135.5 229.5h1.8M140 229.5h1.8M142.5 229.5h1.8M143.5 229.5h1.8M147.5 229.5h1.8M148 229.5h1.8M149.5 229.5h1.8M150.5 229.5h1.8M152 229.5h1.8M154.5 229.5h1.8M156 229.5h1.8M157.5 229.5h1.8M161 229.5h1.8M170.5 229.5h1.8M177 229.5h1.8M178 229.5h1.8M180 229.5h1.8M186 229.5h1.8M194 229.5h1.8M196.5 229.5h1.8M202.5 229.5h1.8M205.5 229.5h1.8M233.5 229.5h1.8M248 229.5h1.8M131.5 230h1.8M135 230h1.8M136 230h1.8M151 230h1.8M151.5 230h1.8M152 230h1.8M154.5 230h1.8M155 230h1.8M157.5 230h1.8M158.5 230h1.8M165.5 230h1.8M169 230h1.8M174.5 230h1.8M175.5 230h1.8M180 230h1.8M181.5 230h1.8M196.5 230h1.8M204.5 230h1.8M205 230h1.8M221 230h1.8M247 230h1.8M257 230h1.8M129 230.5h1.8M132.5 230.5h1.8M136.5 230.5h1.8M146.5 230.5h1.8M148.5 230.5h1.8M150.5 230.5h1.8M153.5 230.5h1.8M155 230.5h1.8M156 230.5h1.8M158.5 230.5h1.8M173 230.5h1.8M199.5 230.5h1.8M219.5 230.5h1.8M228.5 230.5h1.8M141.5 231h1.8M158.5 231h1.8M165.5 231h1.8M176.5 231h1.8M185 231h1.8M187 231h1.8M191 231h1.8M193.5 231h1.8M194 231h1.8M198.5 231h1.8M203 231h1.8M206 231h1.8M210.5 231h1.8M211.5 231h1.8M214 231h1.8M216 231h1.8M221.5 231h1.8M227 231h1.8M135.5 231.5h1.8M138.5 231.5h1.8M151 231.5h1.8M157.5 231.5h1.8M161.5 231.5h1.8M165 231.5h1.8M171 231.5h1.8M174 231.5h1.8M174.5 231.5h1.8M175.5 231.5h1.8M182 231.5h1.8M198.5 231.5h1.8M210.5 231.5h1.8M211.5 231.5h1.8M253.5 231.5h1.8M125.5 232h1.8M148.5 232h1.8M158.5 232h1.8M159 232h1.8M170 232h1.8M171.5 232h1.8M177.5 232h1.8M185 232h1.8M200.5 232h1.8M208.5 232h1.8M213 232h1.8M222.5 232h1.8M223.5 232h1.8M231.5 232h1.8M237.5 232h1.8M136.5 232.5h1.8M139 232.5h1.8M146.5 232.5h1.8M150.5 232.5h1.8M154 232.5h1.8M155 232.5h1.8M166 232.5h1.8M169.5 232.5h1.8M170.5 232.5h1.8M171 232.5h1.8M177 232.5h1.8M178 232.5h1.8M185 232.5h1.8M189.5 232.5h1.8M194.5 232.5h1.8M221 232.5h1.8M235 232.5h1.8M126 233h1.8M139 233h1.8M141.5 233h1.8M151.5 233h1.8M152 233h1.8M160 233h1.8M162.5 233h1.8M171 233h1.8M178 233h1.8M181 233h1.8M234.5 233h1.8M127.5 233.5h1.8M149 233.5h1.8M186 233.5h1.8M192 233.5h1.8M202.5 233.5h1.8M207 233.5h1.8M216.5 233.5h1.8M234.5 233.5h1.8M247.5 233.5h1.8M140.5 234h1.8M154.5 234h1.8M157.5 234h1.8M176.5 234h1.8M193 234h1.8M195 234h1.8M197.5 234h1.8M212.5 234h1.8M214 234h1.8M226 234h1.8M125.5 234.5h1.8M130.5 234.5h1.8M143 234.5h1.8M147 234.5h1.8M150.5 234.5h1.8M153 234.5h1.8M153.5 234.5h1.8M154 234.5h1.8M158 234.5h1.8M163.5 234.5h1.8M197.5 234.5h1.8M202.5 234.5h1.8M208 234.5h1.8M218 234.5h1.8M236.5 234.5h1.8M247.5 234.5h1.8M132.5 235h1.8M134 235h1.8M145 235h1.8M148 235h1.8M148.5 235h1.8M166 235h1.8M176 235h1.8M180.5 235h1.8M194 235h1.8M215 235h1.8M225 235h1.8M267 235h1.8M128.5 235.5h1.8M136 235.5h1.8M154.5 235.5h1.8M162 235.5h1.8M163.5 235.5h1.8M169 235.5h1.8M189 235.5h1.8M193.5 235.5h1.8M200 235.5h1.8M202 235.5h1.8M202.5 235.5h1.8M138 236h1.8M139 236h1.8M156.5 236h1.8M161 236h1.8M166.5 236h1.8M191.5 236h1.8M203 236h1.8M146.5 236.5h1.8M165.5 236.5h1.8M168.5 236.5h1.8M203 236.5h1.8M245 236.5h1.8M144.5 237h1.8M149.5 237h1.8M155 237h1.8M169.5 237h1.8M170.5 237h1.8M175 237h1.8M201 237h1.8M229 237h1.8M133.5 237.5h1.8M135.5 237.5h1.8M142.5 237.5h1.8M164 237.5h1.8M169 237.5h1.8M180.5 237.5h1.8M189.5 237.5h1.8M217.5 237.5h1.8M129.5 238h1.8M166 238h1.8M185 238h1.8M222 238h1.8M133.5 238.5h1.8M165.5 238.5h1.8M172.5 238.5h1.8M180.5 238.5h1.8M186.5 238.5h1.8M212.5 238.5h1.8M224 238.5h1.8M130.5 239h1.8M149 239h1.8M150 239h1.8M154 239h1.8M170 239h1.8M178.5 239h1.8M193.5 239h1.8M199.5 239h1.8M200 239h1.8M200.5 239h1.8M218 239h1.8M238.5 239h1.8M137.5 239.5h1.8M164.5 239.5h1.8M169.5 239.5h1.8M179 239.5h1.8M180 239.5h1.8M188.5 239.5h1.8M189.5 239.5h1.8M212 239.5h1.8M228.5 239.5h1.8M145.5 240h1.8M186.5 240h1.8M208 240h1.8M221.5 240h1.8M162.5 240.5h1.8M163 240.5h1.8M164.5 240.5h1.8M200.5 240.5h1.8M135.5 241h1.8M138 241h1.8M138.5 241h1.8M149 241h1.8M216.5 241h1.8M173 241.5h1.8M180.5 241.5h1.8M186 241.5h1.8M205.5 241.5h1.8M211 241.5h1.8M214.5 241.5h1.8M227.5 241.5h1.8M240 241.5h1.8M269.5 241.5h1.8M125.5 242h1.8M127.5 242h1.8M135.5 242h1.8M136 242h1.8M139 242h1.8M140 242h1.8M142 242h1.8M142.5 242h1.8M143.5 242h1.8M147 242h1.8M156.5 242h1.8M162.5 242h1.8M166.5 242h1.8M173.5 242h1.8M183 242h1.8M197.5 242h1.8M203.5 242h1.8M209.5 242h1.8M212.5 242h1.8M213 242h1.8M224.5 242h1.8M235 242h1.8M129.5 242.5h1.8M131.5 242.5h1.8M134 242.5h1.8M139.5 242.5h1.8M140.5 242.5h1.8M146 242.5h1.8M147 242.5h1.8M157 242.5h1.8M158.5 242.5h1.8M163 242.5h1.8M172 242.5h1.8M172.5 242.5h1.8M177 242.5h1.8M182 242.5h1.8M186 242.5h1.8M193 242.5h1.8M194 242.5h1.8M195.5 242.5h1.8M196.5 242.5h1.8M208.5 242.5h1.8M210.5 242.5h1.8M214 242.5h1.8M216 242.5h1.8M223.5 242.5h1.8M230 242.5h1.8M276.5 242.5h1.8M136 243h1.8M141 243h1.8M161.5 243h1.8M173.5 243h1.8M180.5 243h1.8M231 243h1.8M234 243h1.8" stroke="#00f800" stroke-width="1.8" fill="none"/><path d="M125.8 242.6H246.4" stroke="#00f800" stroke-width="1.6" fill="none"/><path d="M246.4 242.6H291.4" stroke="#00f800" stroke-width="1.6" stroke-dasharray="3 2 1 4 2 3" fill="none"/><path d="M124.8 66.5V244.0" stroke="#a0a0a0" stroke-width="2" fill="none"/><path d="M124.1 66.5H323.8V244.0H124.1" stroke="#111" stroke-width="1.5" fill="none"/><path d="M124.8 158.7H323.8M246.4 66.5V244.0" stroke="#111" stroke-width="1.6" fill="none"/><path d="M126.5 244.0v5.5M124.8 244.0h-5.5M141.3 244.0v3M124.8 230.6h-3M150.0 244.0v3M124.8 222.8h-3M156.1 244.0v3M124.8 217.3h-3M160.9 244.0v3M124.8 213.0h-3M164.8 244.0v3M124.8 209.5h-3M168.1 244.0v3M124.8 206.5h-3M170.9 244.0v3M124.8 203.9h-3M173.4 244.0v3M124.8 201.6h-3M175.7 244.0v5.5M124.8 199.6h-5.5M190.5 244.0v3M124.8 186.2h-3M199.2 244.0v3M124.8 178.4h-3M205.3 244.0v3M124.8 172.9h-3M210.1 244.0v3M124.8 168.6h-3M214.0 244.0v3M124.8 165.1h-3M217.3 244.0v3M124.8 162.1h-3M220.1 244.0v3M124.8 159.5h-3M222.6 244.0v3M124.8 157.2h-3M224.9 244.0v5.5M124.8 155.2h-5.5M239.7 244.0v3M124.8 141.8h-3M248.4 244.0v3M124.8 134.0h-3M254.5 244.0v3M124.8 128.5h-3M259.3 244.0v3M124.8 124.2h-3M263.2 244.0v3M124.8 120.7h-3M266.5 244.0v3M124.8 117.7h-3M269.3 244.0v3M124.8 115.1h-3M271.8 244.0v3M124.8 112.8h-3M274.1 244.0v5.5M124.8 110.8h-5.5M288.9 244.0v3M124.8 97.4h-3M297.6 244.0v3M124.8 89.6h-3M303.7 244.0v3M124.8 84.1h-3M308.5 244.0v3M124.8 79.8h-3M312.4 244.0v3M124.8 76.3h-3M315.7 244.0v3M124.8 73.3h-3M318.5 244.0v3M124.8 70.7h-3M321.0 244.0v3M124.8 68.4h-3M323.3 244.0v5.5M124.8 66.4h-5.5" stroke="#111" stroke-width="1.3" fill="none"/><text x="125.0" y="263.8" font-size="12" text-anchor="middle" style="stroke-width:0.12px" font-family='"Liberation Sans", sans-serif'>10<tspan dy="-5.7">0</tspan></text><text transform="translate(115.8,244.5) rotate(-90)" font-size="12" text-anchor="middle" style="stroke-width:0.12px" font-family='"Liberation Sans", sans-serif'>10<tspan dy="-5.2">0</tspan></text><text x="174.2" y="263.8" font-size="12" text-anchor="middle" style="stroke-width:0.12px" font-family='"Liberation Sans", sans-serif'>10<tspan dy="-5.7">1</tspan></text><text transform="translate(115.8,200.1) rotate(-90)" font-size="12" text-anchor="middle" style="stroke-width:0.12px" font-family='"Liberation Sans", sans-serif'>10<tspan dy="-5.2">1</tspan></text><text x="223.4" y="263.8" font-size="12" text-anchor="middle" style="stroke-width:0.12px" font-family='"Liberation Sans", sans-serif'>10<tspan dy="-5.7">2</tspan></text><text transform="translate(115.8,155.7) rotate(-90)" font-size="12" text-anchor="middle" style="stroke-width:0.12px" font-family='"Liberation Sans", sans-serif'>10<tspan dy="-5.2">2</tspan></text><text x="272.6" y="263.8" font-size="12" text-anchor="middle" style="stroke-width:0.12px" font-family='"Liberation Sans", sans-serif'>10<tspan dy="-5.7">3</tspan></text><text transform="translate(115.8,111.3) rotate(-90)" font-size="12" text-anchor="middle" style="stroke-width:0.12px" font-family='"Liberation Sans", sans-serif'>10<tspan dy="-5.2">3</tspan></text><text x="321.8" y="263.8" font-size="12" text-anchor="middle" style="stroke-width:0.12px" font-family='"Liberation Sans", sans-serif'>10<tspan dy="-5.7">4</tspan></text><text transform="translate(115.8,66.9) rotate(-90)" font-size="12" text-anchor="middle" style="stroke-width:0.12px" font-family='"Liberation Sans", sans-serif'>10<tspan dy="-5.2">4</tspan></text><text x="222.3" y="275.5" font-size="11.6" text-anchor="middle" style="stroke-width:0.15px" font-family='"Liberation Sans", sans-serif'>FL1-H</text><text transform="translate(99.1,157.2) rotate(-90)" font-size="11.6" text-anchor="middle" style="stroke-width:0.15px" font-family='"Liberation Sans", sans-serif'>FL3-H</text><text x="230.0" y="58.0" font-size="19" text-anchor="middle" font-family='"Liberation Sans", sans-serif'>Control</text><text x="321.8" y="78.6" font-size="12" text-anchor="end" fill="#1a1a1a" style="stroke:none" font-family='"Liberation Sans", sans-serif'>3.87±0.9%</text><text x="321.5" y="239.6" font-size="12" text-anchor="end" fill="#1a1a1a" style="stroke:none" font-family='"Liberation Sans", sans-serif'>3.80±0.53%</text><path d="M555.5 70h1.8M536 71h1.8M534 73.5h1.8M505.5 78.5h1.8M534.5 80.5h1.8M526 82h1.8M544.5 82.5h1.8M525 85.5h1.8M530.5 85.5h1.8M530 86.5h1.8M539.5 86.5h1.8M541 87h1.8M548 87h1.8M518.5 87.5h1.8M549.5 87.5h1.8M544.5 88.5h1.8M530.5 89.5h1.8M532 89.5h1.8M521 90.5h1.8M530 90.5h1.8M535 91h1.8M541.5 91h1.8M512.5 91.5h1.8M531 91.5h1.8M531.5 92h1.8M531 92.5h1.8M517.5 93h1.8M527.5 93h1.8M536 93h1.8M540 93h1.8M516.5 93.5h1.8M536.5 93.5h1.8M539.5 93.5h1.8M530 94.5h1.8M548.5 94.5h1.8M533.5 95.5h1.8M534.5 95.5h1.8M536.5 95.5h1.8M522 96h1.8M528 96h1.8M533.5 96h1.8M520.5 96.5h1.8M526 96.5h1.8M528.5 96.5h1.8M530 96.5h1.8M537.5 96.5h1.8M541.5 96.5h1.8M525 97h1.8M527.5 97h1.8M532.5 97h1.8M522 97.5h1.8M523.5 97.5h1.8M537 97.5h1.8M537.5 97.5h1.8M513.5 98h1.8M516 98h1.8M523.5 98h1.8M551 98h1.8M530 98.5h1.8M537.5 98.5h1.8M521.5 99h1.8M532 99h1.8M543 99h1.8M545 99h1.8M547.5 99h1.8M513.5 99.5h1.8M531.5 99.5h1.8M535 99.5h1.8M535.5 99.5h1.8M540.5 99.5h1.8M523.5 100h1.8M538.5 100h1.8M521 100.5h1.8M525.5 100.5h1.8M552 100.5h1.8M527.5 101h1.8M539.5 101.5h1.8M542.5 101.5h1.8M517.5 102h1.8M523 102h1.8M528.5 102h1.8M532.5 102h1.8M524.5 102.5h1.8M525 102.5h1.8M525.5 102.5h1.8M529 102.5h1.8M544 102.5h1.8M528.5 103h1.8M540.5 103h1.8M512 103.5h1.8M528 103.5h1.8M534 103.5h1.8M535 103.5h1.8M535.5 103.5h1.8M537.5 103.5h1.8M522 104h1.8M529.5 104h1.8M515.5 104.5h1.8M522 104.5h1.8M531 104.5h1.8M534.5 104.5h1.8M536 104.5h1.8M543.5 104.5h1.8M544 104.5h1.8M549 104.5h1.8M550.5 104.5h1.8M529.5 105h1.8M531 105h1.8M539 105h1.8M540.5 105h1.8M546 105h1.8M508 105.5h1.8M521 105.5h1.8M533.5 105.5h1.8M534 105.5h1.8M511 106h1.8M523.5 106h1.8M534 106h1.8M535 106h1.8M536 106h1.8M539 106h1.8M545 106h1.8M529 106.5h1.8M495.5 107h1.8M527 107h1.8M529.5 107h1.8M530 107h1.8M532 107h1.8M539.5 107h1.8M531.5 107.5h1.8M536 107.5h1.8M536.5 107.5h1.8M538.5 107.5h1.8M543 107.5h1.8M550.5 107.5h1.8M553 107.5h1.8M517 108h1.8M524 108h1.8M534.5 108h1.8M536.5 108h1.8M542 108h1.8M543 108h1.8M496 108.5h1.8M497 108.5h1.8M530 108.5h1.8M532 108.5h1.8M544 108.5h1.8M506 109h1.8M520.5 109h1.8M525 109h1.8M527 109h1.8M531 109h1.8M534 109h1.8M538 109h1.8M494.5 109.5h1.8M518.5 109.5h1.8M532.5 109.5h1.8M533 109.5h1.8M529 110h1.8M531.5 110h1.8M532 110h1.8M539 110h1.8M526 110.5h1.8M526.5 110.5h1.8M529.5 110.5h1.8M532 110.5h1.8M540.5 110.5h1.8M549 110.5h1.8M469.5 111h1.8M514.5 111h1.8M537 111.5h1.8M540.5 111.5h1.8M545 111.5h1.8M466.5 112h1.8M519 112h1.8M522.5 112h1.8M524 112h1.8M529 112h1.8M536 112h1.8M540 112h1.8M515.5 112.5h1.8M542 112.5h1.8M545 112.5h1.8M501.5 113h1.8M522.5 113h1.8M524 113h1.8M529 113h1.8M532 113h1.8M538 113h1.8M529 113.5h1.8M529.5 113.5h1.8M498 114h1.8M524 114h1.8M545 114h1.8M487.5 114.5h1.8M511 114.5h1.8M528 114.5h1.8M535.5 114.5h1.8M541 114.5h1.8M517 115h1.8M522 115h1.8M524.5 115h1.8M534.5 115h1.8M535 115h1.8M548.5 115h1.8M490 115.5h1.8M530 115.5h1.8M531.5 115.5h1.8M532.5 116h1.8M547.5 116h1.8M540 116.5h1.8M479.5 117h1.8M518 117h1.8M522.5 117h1.8M526.5 117h1.8M527 117h1.8M519.5 117.5h1.8M531.5 117.5h1.8M532.5 117.5h1.8M540.5 117.5h1.8M544 117.5h1.8M544.5 117.5h1.8M478 118h1.8M514 118h1.8M518 118h1.8M523 118h1.8M540.5 118h1.8M463.5 118.5h1.8M515.5 118.5h1.8M524 118.5h1.8M548.5 118.5h1.8M506.5 119h1.8M487.5 119.5h1.8M520.5 119.5h1.8M527.5 119.5h1.8M533 119.5h1.8M536.5 119.5h1.8M507.5 120h1.8M509.5 120h1.8M522 120h1.8M525.5 120h1.8M542 120h1.8M496 120.5h1.8M516.5 120.5h1.8M536.5 120.5h1.8M534.5 121h1.8M517 121.5h1.8M542 121.5h1.8M474 122h1.8M487 122h1.8M532.5 122h1.8M525 122.5h1.8M535.5 122.5h1.8M539.5 122.5h1.8M551 122.5h1.8M528.5 123h1.8M499 123.5h1.8M519.5 123.5h1.8M531.5 123.5h1.8M516 124h1.8M525 124h1.8M533.5 124h1.8M497 124.5h1.8M510 124.5h1.8M507 125h1.8M523.5 125h1.8M534 125h1.8M544.5 125h1.8M520 125.5h1.8M524 125.5h1.8M525 125.5h1.8M528.5 125.5h1.8M531 125.5h1.8M504.5 126h1.8M527 126h1.8M494.5 126.5h1.8M514 126.5h1.8M517.5 126.5h1.8M534 126.5h1.8M527 127h1.8M548 127.5h1.8M509.5 128.5h1.8M519.5 128.5h1.8M481.5 129h1.8M487 129h1.8M523 129h1.8M518.5 129.5h1.8M522.5 129.5h1.8M477 130h1.8M511 130h1.8M526 130h1.8M504 130.5h1.8M530 130.5h1.8M506.5 131h1.8M535 131h1.8M501 131.5h1.8M508.5 131.5h1.8M518 131.5h1.8M464 132h1.8M484.5 132h1.8M506 132h1.8M515.5 132h1.8M530 132.5h1.8M482.5 133h1.8M494.5 133.5h1.8M522.5 133.5h1.8M532.5 133.5h1.8M488 134h1.8M505 134h1.8M517 134h1.8M497 134.5h1.8M499 134.5h1.8M535 134.5h1.8M481 135h1.8M505.5 135.5h1.8M518 135.5h1.8M526.5 135.5h1.8M530.5 135.5h1.8M530 136.5h1.8M532 136.5h1.8M502.5 137h1.8M524 137h1.8M513.5 137.5h1.8M474.5 138h1.8M483 138.5h1.8M519 138.5h1.8M522.5 138.5h1.8M523.5 138.5h1.8M523.5 139h1.8M524 139h1.8M521.5 140h1.8M511.5 140.5h1.8M520.5 140.5h1.8M484 141.5h1.8M509 141.5h1.8M514.5 141.5h1.8M518 141.5h1.8M520.5 141.5h1.8M500.5 142.5h1.8M506.5 142.5h1.8M502 143h1.8M521 143h1.8M522 143h1.8M475 143.5h1.8M500 143.5h1.8M505 143.5h1.8M507 143.5h1.8M520 144.5h1.8M527.5 144.5h1.8M552.5 144.5h1.8M518 145h1.8M522 145h1.8M501.5 145.5h1.8M502.5 145.5h1.8M534 145.5h1.8M471.5 146h1.8M472 146h1.8M486.5 146h1.8M498 146h1.8M503.5 146h1.8M523 146h1.8M523.5 146h1.8M552.5 146h1.8M492.5 146.5h1.8M506 147h1.8M508.5 147h1.8M517 147h1.8M522 147h1.8M527 147h1.8M541.5 147h1.8M488 147.5h1.8M513.5 147.5h1.8M523 147.5h1.8M529 147.5h1.8M513 148h1.8M521 148h1.8M470 148.5h1.8M499.5 148.5h1.8M510.5 148.5h1.8M513 148.5h1.8M517.5 148.5h1.8M520 148.5h1.8M559 148.5h1.8M512.5 149h1.8M483.5 149.5h1.8M501.5 149.5h1.8M518.5 149.5h1.8M526.5 149.5h1.8M489 150h1.8M495.5 150h1.8M503 150h1.8M504.5 150h1.8M513 150h1.8M523 150h1.8M491.5 150.5h1.8M508.5 150.5h1.8M519.5 150.5h1.8M526.5 150.5h1.8M455 151h1.8M502 151h1.8M545 151h1.8M493 151.5h1.8M513 151.5h1.8M517.5 151.5h1.8M476.5 152h1.8M494.5 152h1.8M505 152h1.8M523.5 152h1.8M531.5 152h1.8M525 152.5h1.8M494.5 153h1.8M499 153h1.8M514 153h1.8M448.5 153.5h1.8M473 153.5h1.8M503.5 153.5h1.8M506 153.5h1.8M511 153.5h1.8M512.5 153.5h1.8M528 153.5h1.8M531.5 153.5h1.8M483 154h1.8M491 154h1.8M495 154h1.8M500 154h1.8M509 154h1.8M513 154h1.8M536.5 154h1.8M478.5 154.5h1.8M506.5 154.5h1.8M519.5 154.5h1.8M522.5 154.5h1.8M527 154.5h1.8M482 155h1.8M499.5 155h1.8M501 155h1.8M518 155h1.8M504 155.5h1.8M508 155.5h1.8M516 155.5h1.8M518 155.5h1.8M519.5 155.5h1.8M520 155.5h1.8M526.5 155.5h1.8M503.5 156h1.8M507 156h1.8M510 156h1.8M513 156h1.8M476 156.5h1.8M477 156.5h1.8M505 156.5h1.8M509.5 156.5h1.8M513.5 156.5h1.8M516.5 156.5h1.8M523.5 156.5h1.8M527.5 156.5h1.8M473 157h1.8M519.5 157h1.8M527 157h1.8M473 157.5h1.8M475 157.5h1.8M481.5 157.5h1.8M482 157.5h1.8M490.5 157.5h1.8M495 157.5h1.8M507.5 157.5h1.8M524 157.5h1.8M490.5 158h1.8M496 158h1.8M499 158h1.8M499.5 158h1.8M515 158h1.8M519.5 158h1.8M521 158h1.8M452 158.5h1.8M463 158.5h1.8M487.5 158.5h1.8M490 158.5h1.8M493 158.5h1.8M514.5 158.5h1.8M518 158.5h1.8M488.5 159h1.8M494.5 159h1.8M498 159h1.8M464 159.5h1.8M504.5 159.5h1.8M532.5 159.5h1.8M543.5 159.5h1.8M480 160h1.8M488 160h1.8M492.5 160h1.8M502.5 160h1.8M532.5 160h1.8M539 160h1.8M470 160.5h1.8M501 160.5h1.8M508 160.5h1.8M513 160.5h1.8M475.5 161h1.8M496 161h1.8M497 161h1.8M516.5 161h1.8M507 161.5h1.8M520 161.5h1.8M541.5 161.5h1.8M445 162h1.8M488 162h1.8M497 162h1.8M510.5 162h1.8M511.5 162h1.8M490 162.5h1.8M496 162.5h1.8M514.5 162.5h1.8M515 162.5h1.8M515.5 162.5h1.8M518 162.5h1.8M521.5 162.5h1.8M534.5 162.5h1.8M486 163h1.8M497 163h1.8M498.5 163h1.8M499 163h1.8M507 163h1.8M511 163h1.8M513 163h1.8M554 163h1.8M486 163.5h1.8M492 163.5h1.8M500 163.5h1.8M501 163.5h1.8M502 163.5h1.8M502.5 163.5h1.8M503 163.5h1.8M509 163.5h1.8M514 163.5h1.8M525.5 163.5h1.8M530 163.5h1.8M472.5 164h1.8M477 164h1.8M497 164h1.8M508 164h1.8M508.5 164h1.8M520.5 164h1.8M522 164h1.8M523.5 164h1.8M461.5 164.5h1.8M480 164.5h1.8M487.5 164.5h1.8M463.5 165h1.8M472 165h1.8M476 165h1.8M479 165h1.8M506.5 165h1.8M455 165.5h1.8M472 165.5h1.8M482 165.5h1.8M485 165.5h1.8M509 165.5h1.8M521 165.5h1.8M522 165.5h1.8M476.5 166h1.8M488.5 166h1.8M505.5 166h1.8M519.5 166h1.8M541.5 166h1.8M548.5 166h1.8M554 166h1.8M491 166.5h1.8M500 166.5h1.8M506.5 166.5h1.8M513.5 166.5h1.8M519.5 166.5h1.8M460 167h1.8M476.5 167h1.8M504 167h1.8M464.5 167.5h1.8M484 167.5h1.8M484.5 167.5h1.8M496 167.5h1.8M506 167.5h1.8M507.5 167.5h1.8M528.5 167.5h1.8M533.5 167.5h1.8M460.5 168h1.8M462 168h1.8M486 168h1.8M496.5 168h1.8M509 168h1.8M511.5 168h1.8M531.5 168h1.8M492.5 168.5h1.8M495.5 168.5h1.8M504.5 168.5h1.8M515.5 168.5h1.8M517 168.5h1.8M530.5 168.5h1.8M531.5 168.5h1.8M550.5 168.5h1.8M551.5 168.5h1.8M450.5 169h1.8M467.5 169h1.8M472.5 169h1.8M482.5 169h1.8M486.5 169h1.8M493.5 169h1.8M494.5 169h1.8M519 169h1.8M523 169h1.8M524.5 169h1.8M552 169h1.8M484 169.5h1.8M485 169.5h1.8M499.5 169.5h1.8M517.5 169.5h1.8M455 170h1.8M481.5 170h1.8M485 170h1.8M498.5 170h1.8M499.5 170h1.8M500 170h1.8M517.5 170h1.8M524.5 170h1.8M456.5 170.5h1.8M479.5 170.5h1.8M480.5 170.5h1.8M484 170.5h1.8M493.5 170.5h1.8M504 170.5h1.8M507.5 170.5h1.8M516 170.5h1.8M526 170.5h1.8M528.5 170.5h1.8M529 170.5h1.8M529.5 170.5h1.8M451.5 171h1.8M454 171h1.8M472.5 171h1.8M483 171h1.8M486 171h1.8M489.5 171h1.8M499 171h1.8M503 171h1.8M512 171h1.8M517.5 171h1.8M447.5 171.5h1.8M448 171.5h1.8M469.5 171.5h1.8M474.5 171.5h1.8M475 171.5h1.8M476.5 171.5h1.8M489 171.5h1.8M505 171.5h1.8M506.5 171.5h1.8M515.5 171.5h1.8M541 171.5h1.8M416 172h1.8M458.5 172h1.8M473 172h1.8M486 172h1.8M486.5 172h1.8M487.5 172h1.8M491 172h1.8M496 172h1.8M500.5 172h1.8M504 172h1.8M511 172h1.8M531 172h1.8M424 172.5h1.8M463 172.5h1.8M478.5 172.5h1.8M482 172.5h1.8M485 172.5h1.8M511 172.5h1.8M512 172.5h1.8M524.5 172.5h1.8M527 172.5h1.8M528 172.5h1.8M467.5 173h1.8M481.5 173h1.8M482 173h1.8M491 173h1.8M491.5 173h1.8M493 173h1.8M494.5 173h1.8M498 173h1.8M499 173h1.8M500 173h1.8M500.5 173h1.8M510 173h1.8M528 173h1.8M459.5 173.5h1.8M466 173.5h1.8M469.5 173.5h1.8M484.5 173.5h1.8M495 173.5h1.8M507 173.5h1.8M507.5 173.5h1.8M509 173.5h1.8M510.5 173.5h1.8M516 173.5h1.8M544 173.5h1.8M438 174h1.8M476.5 174h1.8M478.5 174h1.8M479 174h1.8M484.5 174h1.8M490 174h1.8M490.5 174h1.8M501 174h1.8M501.5 174h1.8M502.5 174h1.8M505 174h1.8M522 174h1.8M528 174h1.8M539.5 174h1.8M441 174.5h1.8M468 174.5h1.8M468.5 174.5h1.8M469 174.5h1.8M484.5 174.5h1.8M491 174.5h1.8M493 174.5h1.8M496 174.5h1.8M496.5 174.5h1.8M498.5 174.5h1.8M516.5 174.5h1.8M520.5 174.5h1.8M479 175h1.8M482 175h1.8M484.5 175h1.8M488 175h1.8M490.5 175h1.8M494 175h1.8M499 175h1.8M503 175h1.8M543 175h1.8M467.5 175.5h1.8M472 175.5h1.8M472.5 175.5h1.8M486.5 175.5h1.8M501 175.5h1.8M512 175.5h1.8M518 175.5h1.8M522.5 175.5h1.8M534.5 175.5h1.8M543.5 175.5h1.8M560 175.5h1.8M456.5 176h1.8M460 176h1.8M469 176h1.8M479 176h1.8M480 176h1.8M508.5 176h1.8M527 176h1.8M534.5 176h1.8M538.5 176h1.8M543 176h1.8M449.5 176.5h1.8M451.5 176.5h1.8M485 176.5h1.8M488 176.5h1.8M498.5 176.5h1.8M501 176.5h1.8M509.5 176.5h1.8M531 176.5h1.8M532 176.5h1.8M539.5 176.5h1.8M541.5 176.5h1.8M432.5 177h1.8M458.5 177h1.8M461 177h1.8M466.5 177h1.8M473 177h1.8M479 177h1.8M481.5 177h1.8M486.5 177h1.8M488.5 177h1.8M494.5 177h1.8M499 177h1.8M500 177h1.8M501.5 177h1.8M512.5 177h1.8M540.5 177h1.8M565 177h1.8M463 177.5h1.8M470 177.5h1.8M476.5 177.5h1.8M481 177.5h1.8M486 177.5h1.8M489.5 177.5h1.8M491 177.5h1.8M494.5 177.5h1.8M513 177.5h1.8M522 177.5h1.8M524.5 177.5h1.8M529 177.5h1.8M536.5 177.5h1.8M451 178h1.8M461.5 178h1.8M466 178h1.8M468.5 178h1.8M478 178h1.8M478.5 178h1.8M486.5 178h1.8M500.5 178h1.8M503 178h1.8M505 178h1.8M507 178h1.8M512 178h1.8M512.5 178h1.8M547.5 178h1.8M453 178.5h1.8M464.5 178.5h1.8M472 178.5h1.8M480 178.5h1.8M484.5 178.5h1.8M487.5 178.5h1.8M489 178.5h1.8M501 178.5h1.8M503.5 178.5h1.8M409 179h1.8M441 179h1.8M442.5 179h1.8M448.5 179h1.8M456.5 179h1.8M465 179h1.8M466 179h1.8M468.5 179h1.8M471.5 179h1.8M473 179h1.8M476 179h1.8M478 179h1.8M480.5 179h1.8M483.5 179h1.8M493 179h1.8M495 179h1.8M496 179h1.8M512 179h1.8M526.5 179h1.8M434 179.5h1.8M453.5 179.5h1.8M457 179.5h1.8M457.5 179.5h1.8M461.5 179.5h1.8M462.5 179.5h1.8M464.5 179.5h1.8M467.5 179.5h1.8M470.5 179.5h1.8M478.5 179.5h1.8M484.5 179.5h1.8M490 179.5h1.8M490.5 179.5h1.8M491.5 179.5h1.8M503.5 179.5h1.8M504 179.5h1.8M506.5 179.5h1.8M536 179.5h1.8M464 180h1.8M469.5 180h1.8M476 180h1.8M484.5 180h1.8M494.5 180h1.8M497 180h1.8M501.5 180h1.8M504.5 180h1.8M507 180h1.8M522 180h1.8M528 180h1.8M533 180h1.8M536 180h1.8M444 180.5h1.8M448.5 180.5h1.8M450.5 180.5h1.8M454 180.5h1.8M457 180.5h1.8M464.5 180.5h1.8M466 180.5h1.8M468.5 180.5h1.8M476.5 180.5h1.8M480.5 180.5h1.8M481.5 180.5h1.8M482 180.5h1.8M485.5 180.5h1.8M486.5 180.5h1.8M487 180.5h1.8M488 180.5h1.8M495.5 180.5h1.8M500 180.5h1.8M507.5 180.5h1.8M509 180.5h1.8M534 180.5h1.8M441 181h1.8M445.5 181h1.8M451.5 181h1.8M456 181h1.8M457.5 181h1.8M464 181h1.8M465 181h1.8M467 181h1.8M486 181h1.8M486.5 181h1.8M494 181h1.8M495 181h1.8M499.5 181h1.8M507 181h1.8M509 181h1.8M510 181h1.8M515 181h1.8M523.5 181h1.8M435.5 181.5h1.8M439 181.5h1.8M462 181.5h1.8M470 181.5h1.8M476 181.5h1.8M477.5 181.5h1.8M485.5 181.5h1.8M495 181.5h1.8M511 181.5h1.8M516 181.5h1.8M519 181.5h1.8M531.5 181.5h1.8M532 181.5h1.8M533.5 181.5h1.8M451 182h1.8M453 182h1.8M455.5 182h1.8M461 182h1.8M466.5 182h1.8M470 182h1.8M476 182h1.8M477 182h1.8M477.5 182h1.8M483 182h1.8M483.5 182h1.8M487.5 182h1.8M488.5 182h1.8M494.5 182h1.8M506.5 182h1.8M511 182h1.8M521.5 182h1.8M525 182h1.8M551 182h1.8M449.5 182.5h1.8M453 182.5h1.8M456 182.5h1.8M464 182.5h1.8M466 182.5h1.8M467.5 182.5h1.8M468.5 182.5h1.8M469 182.5h1.8M471 182.5h1.8M472.5 182.5h1.8M475.5 182.5h1.8M482.5 182.5h1.8M486 182.5h1.8M498 182.5h1.8M502.5 182.5h1.8M504 182.5h1.8M527.5 182.5h1.8M442.5 183h1.8M449.5 183h1.8M450.5 183h1.8M452 183h1.8M460 183h1.8M461.5 183h1.8M462.5 183h1.8M467.5 183h1.8M468 183h1.8M471 183h1.8M474.5 183h1.8M481 183h1.8M484.5 183h1.8M493.5 183h1.8M495 183h1.8M498.5 183h1.8M500 183h1.8M506 183h1.8M571 183h1.8M443.5 183.5h1.8M456 183.5h1.8M456.5 183.5h1.8M457.5 183.5h1.8M458.5 183.5h1.8M462.5 183.5h1.8M463.5 183.5h1.8M468 183.5h1.8M468.5 183.5h1.8M472.5 183.5h1.8M476.5 183.5h1.8M477 183.5h1.8M479 183.5h1.8M483 183.5h1.8M484 183.5h1.8M484.5 183.5h1.8M486 183.5h1.8M488.5 183.5h1.8M497.5 183.5h1.8M509 183.5h1.8M528 183.5h1.8M433.5 184h1.8M439.5 184h1.8M450.5 184h1.8M457.5 184h1.8M458 184h1.8M461 184h1.8M461.5 184h1.8M463 184h1.8M467.5 184h1.8M470.5 184h1.8M471.5 184h1.8M477 184h1.8M478.5 184h1.8M480 184h1.8M480.5 184h1.8M483.5 184h1.8M485.5 184h1.8M489.5 184h1.8M494.5 184h1.8M495.5 184h1.8M498.5 184h1.8M500.5 184h1.8M503.5 184h1.8M506 184h1.8M508 184h1.8M510.5 184h1.8M515.5 184h1.8M516 184h1.8M524.5 184h1.8M538.5 184h1.8M540.5 184h1.8M444.5 184.5h1.8M446.5 184.5h1.8M455 184.5h1.8M456.5 184.5h1.8M458 184.5h1.8M458.5 184.5h1.8M460 184.5h1.8M461.5 184.5h1.8M463.5 184.5h1.8M464.5 184.5h1.8M466 184.5h1.8M468 184.5h1.8M468.5 184.5h1.8M469 184.5h1.8M470.5 184.5h1.8M472.5 184.5h1.8M476 184.5h1.8M481 184.5h1.8M485.5 184.5h1.8M491.5 184.5h1.8M498 184.5h1.8M502 184.5h1.8M506.5 184.5h1.8M507.5 184.5h1.8M519.5 184.5h1.8M528.5 184.5h1.8M558.5 184.5h1.8M443.5 185h1.8M457 185h1.8M459 185h1.8M460.5 185h1.8M461 185h1.8M461.5 185h1.8M462.5 185h1.8M463.5 185h1.8M464 185h1.8M465.5 185h1.8M467.5 185h1.8M468.5 185h1.8M469 185h1.8M472 185h1.8M475 185h1.8M477.5 185h1.8M491.5 185h1.8M494 185h1.8M501.5 185h1.8M513 185h1.8M520.5 185h1.8M445.5 185.5h1.8M449 185.5h1.8M452 185.5h1.8M455 185.5h1.8M456 185.5h1.8M457 185.5h1.8M457.5 185.5h1.8M459.5 185.5h1.8M460 185.5h1.8M460.5 185.5h1.8M461 185.5h1.8M463 185.5h1.8M467.5 185.5h1.8M470 185.5h1.8M471.5 185.5h1.8M472 185.5h1.8M473 185.5h1.8M473.5 185.5h1.8M474.5 185.5h1.8M476.5 185.5h1.8M479 185.5h1.8M480.5 185.5h1.8M483.5 185.5h1.8M491.5 185.5h1.8M508 185.5h1.8M435.5 186h1.8M438 186h1.8M440 186h1.8M454 186h1.8M454.5 186h1.8M455 186h1.8M457.5 186h1.8M458 186h1.8M461.5 186h1.8M462 186h1.8M463 186h1.8M464.5 186h1.8M465 186h1.8M466.5 186h1.8M468.5 186h1.8M470 186h1.8M473.5 186h1.8M489 186h1.8M499.5 186h1.8M507 186h1.8M513.5 186h1.8M516 186h1.8M540.5 186h1.8M443 186.5h1.8M450 186.5h1.8M452 186.5h1.8M453 186.5h1.8M454 186.5h1.8M454.5 186.5h1.8M456.5 186.5h1.8M457 186.5h1.8M459.5 186.5h1.8M460 186.5h1.8M461.5 186.5h1.8M462 186.5h1.8M463.5 186.5h1.8M464 186.5h1.8M466 186.5h1.8M470.5 186.5h1.8M473.5 186.5h1.8M476 186.5h1.8M477.5 186.5h1.8M478 186.5h1.8M486.5 186.5h1.8M498.5 186.5h1.8M503.5 186.5h1.8M513.5 186.5h1.8M527 186.5h1.8M399.5 187h1.8M444 187h1.8M445 187h1.8M446 187h1.8M447 187h1.8M450 187h1.8M451 187h1.8M454 187h1.8M454.5 187h1.8M455 187h1.8M456.5 187h1.8M457 187h1.8M457.5 187h1.8M458 187h1.8M459 187h1.8M460 187h1.8M460.5 187h1.8M464 187h1.8M466 187h1.8M466.5 187h1.8M467 187h1.8M467.5 187h1.8M468 187h1.8M468.5 187h1.8M469.5 187h1.8M471.5 187h1.8M472.5 187h1.8M473.5 187h1.8M475 187h1.8M480 187h1.8M483.5 187h1.8M487.5 187h1.8M488 187h1.8M489 187h1.8M491 187h1.8M492.5 187h1.8M499.5 187h1.8M508.5 187h1.8M509 187h1.8M515 187h1.8M526.5 187h1.8M527.5 187h1.8M538.5 187h1.8M430 187.5h1.8M433.5 187.5h1.8M436.5 187.5h1.8M443 187.5h1.8M448.5 187.5h1.8M450.5 187.5h1.8M451.5 187.5h1.8M452 187.5h1.8M452.5 187.5h1.8M453.5 187.5h1.8M454.5 187.5h1.8M456.5 187.5h1.8M457 187.5h1.8M457.5 187.5h1.8M460.5 187.5h1.8M463 187.5h1.8M463.5 187.5h1.8M464 187.5h1.8M465 187.5h1.8M465.5 187.5h1.8M466 187.5h1.8M468.5 187.5h1.8M469 187.5h1.8M471 187.5h1.8M474 187.5h1.8M474.5 187.5h1.8M479.5 187.5h1.8M480 187.5h1.8M488.5 187.5h1.8M491 187.5h1.8M495.5 187.5h1.8M497 187.5h1.8M505 187.5h1.8M511 187.5h1.8M525.5 187.5h1.8M526 187.5h1.8M442.5 188h1.8M444.5 188h1.8M447.5 188h1.8M448 188h1.8M449 188h1.8M450 188h1.8M450.5 188h1.8M451 188h1.8M453 188h1.8M455 188h1.8M457.5 188h1.8M459 188h1.8M461 188h1.8M463.5 188h1.8M464.5 188h1.8M466.5 188h1.8M467 188h1.8M467.5 188h1.8M468 188h1.8M469 188h1.8M471 188h1.8M472.5 188h1.8M473 188h1.8M473.5 188h1.8M474.5 188h1.8M477 188h1.8M478.5 188h1.8M479 188h1.8M484.5 188h1.8M493.5 188h1.8M510.5 188h1.8M518 188h1.8M529 188h1.8M569 188h1.8M577.5 188h1.8M429.5 188.5h1.8M430 188.5h1.8M434 188.5h1.8M440 188.5h1.8M445 188.5h1.8M446 188.5h1.8M448 188.5h1.8M449.5 188.5h1.8M451 188.5h1.8M452 188.5h1.8M453 188.5h1.8M456.5 188.5h1.8M457.5 188.5h1.8M458 188.5h1.8M458.5 188.5h1.8M462 188.5h1.8M462.5 188.5h1.8M463.5 188.5h1.8M466.5 188.5h1.8M467 188.5h1.8M467.5 188.5h1.8M469 188.5h1.8M470.5 188.5h1.8M472 188.5h1.8M473.5 188.5h1.8M474.5 188.5h1.8M475.5 188.5h1.8M484 188.5h1.8M485 188.5h1.8M486 188.5h1.8M487 188.5h1.8M493.5 188.5h1.8M496 188.5h1.8M505 188.5h1.8M508.5 188.5h1.8M528 188.5h1.8M542.5 188.5h1.8M425 189h1.8M435.5 189h1.8M439 189h1.8M445 189h1.8M446 189h1.8M447.5 189h1.8M448 189h1.8M448.5 189h1.8M449.5 189h1.8M450.5 189h1.8M453 189h1.8M453.5 189h1.8M454 189h1.8M456 189h1.8M456.5 189h1.8M457 189h1.8M458 189h1.8M459.5 189h1.8M462 189h1.8M464.5 189h1.8M465 189h1.8M465.5 189h1.8M466 189h1.8M468.5 189h1.8M469 189h1.8M470 189h1.8M471.5 189h1.8M472 189h1.8M472.5 189h1.8M474 189h1.8M478.5 189h1.8M479 189h1.8M482 189h1.8M489.5 189h1.8M493 189h1.8M497.5 189h1.8M503 189h1.8M509 189h1.8M526.5 189h1.8M532 189h1.8M398 189.5h1.8M416 189.5h1.8M428.5 189.5h1.8M435.5 189.5h1.8M436.5 189.5h1.8M439 189.5h1.8M443.5 189.5h1.8M444.5 189.5h1.8M445 189.5h1.8M446.5 189.5h1.8M447 189.5h1.8M448.5 189.5h1.8M450 189.5h1.8M451 189.5h1.8M454 189.5h1.8M454.5 189.5h1.8M457 189.5h1.8M457.5 189.5h1.8M458 189.5h1.8M459 189.5h1.8M459.5 189.5h1.8M460.5 189.5h1.8M461.5 189.5h1.8M463.5 189.5h1.8M464.5 189.5h1.8M465 189.5h1.8M470.5 189.5h1.8M471 189.5h1.8M472.5 189.5h1.8M474.5 189.5h1.8M476 189.5h1.8M478.5 189.5h1.8M480.5 189.5h1.8M484.5 189.5h1.8M486 189.5h1.8M493 189.5h1.8M493.5 189.5h1.8M495 189.5h1.8M499.5 189.5h1.8M503.5 189.5h1.8M506.5 189.5h1.8M507 189.5h1.8M519 189.5h1.8M524 189.5h1.8M402.5 190h1.8M442 190h1.8M446 190h1.8M446.5 190h1.8M449 190h1.8M450.5 190h1.8M451 190h1.8M452.5 190h1.8M453.5 190h1.8M454 190h1.8M455.5 190h1.8M456 190h1.8M456.5 190h1.8M457 190h1.8M457.5 190h1.8M461 190h1.8M461.5 190h1.8M462 190h1.8M462.5 190h1.8M465 190h1.8M465.5 190h1.8M466.5 190h1.8M468.5 190h1.8M469.5 190h1.8M470 190h1.8M473 190h1.8M479.5 190h1.8M480 190h1.8M485.5 190h1.8M494 190h1.8M512.5 190h1.8M513 190h1.8M515.5 190h1.8M518.5 190h1.8M520 190h1.8M522 190h1.8M524 190h1.8M434.5 190.5h1.8M446 190.5h1.8M446.5 190.5h1.8M448 190.5h1.8M449.5 190.5h1.8M450.5 190.5h1.8M451.5 190.5h1.8M452 190.5h1.8M452.5 190.5h1.8M453 190.5h1.8M454.5 190.5h1.8M455.5 190.5h1.8M456 190.5h1.8M456.5 190.5h1.8M458 190.5h1.8M459.5 190.5h1.8M461 190.5h1.8M461.5 190.5h1.8M462 190.5h1.8M462.5 190.5h1.8M463.5 190.5h1.8M464 190.5h1.8M464.5 190.5h1.8M465.5 190.5h1.8M466 190.5h1.8M467.5 190.5h1.8M468 190.5h1.8M468.5 190.5h1.8M471 190.5h1.8M471.5 190.5h1.8M473 190.5h1.8M478 190.5h1.8M478.5 190.5h1.8M481 190.5h1.8M489 190.5h1.8M492 190.5h1.8M492.5 190.5h1.8M495.5 190.5h1.8M500 190.5h1.8M503.5 190.5h1.8M504.5 190.5h1.8M520 190.5h1.8M430 191h1.8M433.5 191h1.8M434 191h1.8M439.5 191h1.8M441 191h1.8M443.5 191h1.8M444.5 191h1.8M445 191h1.8M445.5 191h1.8M447.5 191h1.8M448.5 191h1.8M449.5 191h1.8M450 191h1.8M451 191h1.8M451.5 191h1.8M453.5 191h1.8M454.5 191h1.8M456 191h1.8M456.5 191h1.8M460 191h1.8M460.5 191h1.8M462 191h1.8M463.5 191h1.8M464 191h1.8M465 191h1.8M466.5 191h1.8M467 191h1.8M468.5 191h1.8M469.5 191h1.8M470 191h1.8M473 191h1.8M474 191h1.8M476 191h1.8M476.5 191h1.8M481 191h1.8M481.5 191h1.8M482.5 191h1.8M484.5 191h1.8M489.5 191h1.8M491.5 191h1.8M495.5 191h1.8M496.5 191h1.8M503 191h1.8M506 191h1.8M512.5 191h1.8M514 191h1.8M514.5 191h1.8M401 191.5h1.8M413 191.5h1.8M420.5 191.5h1.8M437 191.5h1.8M438 191.5h1.8M442.5 191.5h1.8M443.5 191.5h1.8M444 191.5h1.8M445 191.5h1.8M445.5 191.5h1.8M446.5 191.5h1.8M447 191.5h1.8M449.5 191.5h1.8M451 191.5h1.8M451.5 191.5h1.8M452 191.5h1.8M452.5 191.5h1.8M453.5 191.5h1.8M454 191.5h1.8M454.5 191.5h1.8M456 191.5h1.8M456.5 191.5h1.8M458.5 191.5h1.8M459 191.5h1.8M459.5 191.5h1.8M462.5 191.5h1.8M463 191.5h1.8M464 191.5h1.8M465.5 191.5h1.8M466 191.5h1.8M467 191.5h1.8M467.5 191.5h1.8M469.5 191.5h1.8M470.5 191.5h1.8M471.5 191.5h1.8M472.5 191.5h1.8M473 191.5h1.8M477 191.5h1.8M480.5 191.5h1.8M503.5 191.5h1.8M527 191.5h1.8M529.5 191.5h1.8M542.5 191.5h1.8M414.5 192h1.8M423 192h1.8M443 192h1.8M447.5 192h1.8M448 192h1.8M448.5 192h1.8M449 192h1.8M450.5 192h1.8M451 192h1.8M451.5 192h1.8M452 192h1.8M452.5 192h1.8M453 192h1.8M453.5 192h1.8M455.5 192h1.8M456.5 192h1.8M457.5 192h1.8M458.5 192h1.8M461 192h1.8M462 192h1.8M464 192h1.8M465 192h1.8M465.5 192h1.8M468 192h1.8M471 192h1.8M471.5 192h1.8M472 192h1.8M472.5 192h1.8M473 192h1.8M473.5 192h1.8M474 192h1.8M475.5 192h1.8M484 192h1.8M488 192h1.8M493 192h1.8M497.5 192h1.8M507 192h1.8M507.5 192h1.8M508.5 192h1.8M516 192h1.8M517 192h1.8M519.5 192h1.8M426 192.5h1.8M427 192.5h1.8M439 192.5h1.8M440 192.5h1.8M441.5 192.5h1.8M445.5 192.5h1.8M447 192.5h1.8M448.5 192.5h1.8M449.5 192.5h1.8M450 192.5h1.8M450.5 192.5h1.8M451 192.5h1.8M452 192.5h1.8M453.5 192.5h1.8M454 192.5h1.8M454.5 192.5h1.8M456 192.5h1.8M457 192.5h1.8M457.5 192.5h1.8M459 192.5h1.8M460.5 192.5h1.8M462 192.5h1.8M463.5 192.5h1.8M465 192.5h1.8M466 192.5h1.8M466.5 192.5h1.8M467 192.5h1.8M467.5 192.5h1.8M468.5 192.5h1.8M469 192.5h1.8M470 192.5h1.8M471 192.5h1.8M472 192.5h1.8M473 192.5h1.8M473.5 192.5h1.8M482.5 192.5h1.8M483 192.5h1.8M487 192.5h1.8M494.5 192.5h1.8M507 192.5h1.8M509 192.5h1.8M512 192.5h1.8M512.5 192.5h1.8M523.5 192.5h1.8M525 192.5h1.8M528.5 192.5h1.8M532.5 192.5h1.8M425 193h1.8M432 193h1.8M439.5 193h1.8M440.5 193h1.8M441 193h1.8M441.5 193h1.8M443 193h1.8M443.5 193h1.8M444 193h1.8M444.5 193h1.8M445.5 193h1.8M446 193h1.8M447 193h1.8M448.5 193h1.8M449.5 193h1.8M452.5 193h1.8M453 193h1.8M455 193h1.8M456 193h1.8M459.5 193h1.8M460 193h1.8M460.5 193h1.8M461.5 193h1.8M463.5 193h1.8M464 193h1.8M465 193h1.8M467 193h1.8M468 193h1.8M469.5 193h1.8M471 193h1.8M473.5 193h1.8M476 193h1.8M476.5 193h1.8M477.5 193h1.8M486 193h1.8M490 193h1.8M490.5 193h1.8M493 193h1.8M495.5 193h1.8M499 193h1.8M501.5 193h1.8M525.5 193h1.8M531 193h1.8M531.5 193h1.8M542 193h1.8M542.5 193h1.8M409.5 193.5h1.8M415.5 193.5h1.8M428.5 193.5h1.8M434 193.5h1.8M437.5 193.5h1.8M440 193.5h1.8M440.5 193.5h1.8M441.5 193.5h1.8M442.5 193.5h1.8M443 193.5h1.8M445.5 193.5h1.8M447.5 193.5h1.8M448.5 193.5h1.8M449 193.5h1.8M449.5 193.5h1.8M450.5 193.5h1.8M451 193.5h1.8M454 193.5h1.8M454.5 193.5h1.8M456 193.5h1.8M457.5 193.5h1.8M459.5 193.5h1.8M461 193.5h1.8M461.5 193.5h1.8M462 193.5h1.8M462.5 193.5h1.8M463 193.5h1.8M464 193.5h1.8M465 193.5h1.8M467 193.5h1.8M471 193.5h1.8M471.5 193.5h1.8M472.5 193.5h1.8M473 193.5h1.8M476.5 193.5h1.8M477.5 193.5h1.8M488 193.5h1.8M498.5 193.5h1.8M524.5 193.5h1.8M526 193.5h1.8M548.5 193.5h1.8M423 194h1.8M427.5 194h1.8M436.5 194h1.8M437 194h1.8M438.5 194h1.8M440 194h1.8M441 194h1.8M443.5 194h1.8M444 194h1.8M445.5 194h1.8M446 194h1.8M449.5 194h1.8M450.5 194h1.8M451 194h1.8M452.5 194h1.8M453 194h1.8M454.5 194h1.8M456 194h1.8M456.5 194h1.8M457 194h1.8M458 194h1.8M459 194h1.8M459.5 194h1.8M460.5 194h1.8M461 194h1.8M462.5 194h1.8M463 194h1.8M463.5 194h1.8M464.5 194h1.8M465 194h1.8M465.5 194h1.8M466 194h1.8M471 194h1.8M472.5 194h1.8M473 194h1.8M473.5 194h1.8M475.5 194h1.8M476 194h1.8M481.5 194h1.8M486 194h1.8M487.5 194h1.8M488.5 194h1.8M499 194h1.8M506 194h1.8M508 194h1.8M425.5 194.5h1.8M429.5 194.5h1.8M433 194.5h1.8M439 194.5h1.8M441 194.5h1.8M444.5 194.5h1.8M445 194.5h1.8M446 194.5h1.8M446.5 194.5h1.8M447 194.5h1.8M447.5 194.5h1.8M448 194.5h1.8M449 194.5h1.8M450.5 194.5h1.8M451 194.5h1.8M451.5 194.5h1.8M452 194.5h1.8M453 194.5h1.8M453.5 194.5h1.8M454.5 194.5h1.8M455 194.5h1.8M456.5 194.5h1.8M458 194.5h1.8M459 194.5h1.8M460.5 194.5h1.8M461.5 194.5h1.8M463.5 194.5h1.8M464.5 194.5h1.8M466 194.5h1.8M470.5 194.5h1.8M471.5 194.5h1.8M472.5 194.5h1.8M475 194.5h1.8M475.5 194.5h1.8M479.5 194.5h1.8M484.5 194.5h1.8M485 194.5h1.8M486 194.5h1.8M488.5 194.5h1.8M493.5 194.5h1.8M504 194.5h1.8M514.5 194.5h1.8M519 194.5h1.8M540.5 194.5h1.8M425 195h1.8M434.5 195h1.8M437.5 195h1.8M438.5 195h1.8M439 195h1.8M442.5 195h1.8M444.5 195h1.8M445.5 195h1.8M446.5 195h1.8M448.5 195h1.8M449 195h1.8M449.5 195h1.8M450.5 195h1.8M452.5 195h1.8M453 195h1.8M455 195h1.8M455.5 195h1.8M456 195h1.8M456.5 195h1.8M459 195h1.8M459.5 195h1.8M461.5 195h1.8M462 195h1.8M462.5 195h1.8M463.5 195h1.8M464 195h1.8M464.5 195h1.8M465 195h1.8M465.5 195h1.8M467.5 195h1.8M468.5 195h1.8M469 195h1.8M469.5 195h1.8M470 195h1.8M470.5 195h1.8M471.5 195h1.8M472.5 195h1.8M475 195h1.8M475.5 195h1.8M476 195h1.8M479 195h1.8M486 195h1.8M487 195h1.8M505.5 195h1.8M510 195h1.8M512 195h1.8M513 195h1.8M516 195h1.8M519.5 195h1.8M527 195h1.8M530 195h1.8M401.5 195.5h1.8M422.5 195.5h1.8M427 195.5h1.8M428.5 195.5h1.8M434.5 195.5h1.8M436.5 195.5h1.8M437.5 195.5h1.8M438 195.5h1.8M438.5 195.5h1.8M439 195.5h1.8M440 195.5h1.8M441 195.5h1.8M441.5 195.5h1.8M442.5 195.5h1.8M444 195.5h1.8M446.5 195.5h1.8M447.5 195.5h1.8M448.5 195.5h1.8M451 195.5h1.8M451.5 195.5h1.8M452.5 195.5h1.8M453 195.5h1.8M453.5 195.5h1.8M454 195.5h1.8M454.5 195.5h1.8M455 195.5h1.8M455.5 195.5h1.8M459 195.5h1.8M459.5 195.5h1.8M460.5 195.5h1.8M461 195.5h1.8M462.5 195.5h1.8M466 195.5h1.8M466.5 195.5h1.8M468 195.5h1.8M468.5 195.5h1.8M469 195.5h1.8M470 195.5h1.8M470.5 195.5h1.8M471 195.5h1.8M472 195.5h1.8M473.5 195.5h1.8M481.5 195.5h1.8M484 195.5h1.8M486 195.5h1.8M488 195.5h1.8M507 195.5h1.8M508.5 195.5h1.8M512.5 195.5h1.8M532.5 195.5h1.8M415 196h1.8M427 196h1.8M431.5 196h1.8M433.5 196h1.8M436 196h1.8M438 196h1.8M439 196h1.8M440 196h1.8M441.5 196h1.8M443 196h1.8M444 196h1.8M447 196h1.8M448 196h1.8M450 196h1.8M451 196h1.8M451.5 196h1.8M452 196h1.8M454.5 196h1.8M455 196h1.8M456 196h1.8M457.5 196h1.8M458 196h1.8M460 196h1.8M460.5 196h1.8M463 196h1.8M464.5 196h1.8M465 196h1.8M465.5 196h1.8M466.5 196h1.8M467 196h1.8M469.5 196h1.8M473 196h1.8M475.5 196h1.8M476 196h1.8M480.5 196h1.8M481 196h1.8M484 196h1.8M496 196h1.8M497 196h1.8M497.5 196h1.8M504 196h1.8M533.5 196h1.8M539 196h1.8M418.5 196.5h1.8M431 196.5h1.8M432 196.5h1.8M434.5 196.5h1.8M436 196.5h1.8M437 196.5h1.8M437.5 196.5h1.8M439.5 196.5h1.8M441 196.5h1.8M442 196.5h1.8M444 196.5h1.8M445.5 196.5h1.8M446 196.5h1.8M447 196.5h1.8M448 196.5h1.8M448.5 196.5h1.8M450.5 196.5h1.8M452.5 196.5h1.8M453 196.5h1.8M454 196.5h1.8M455.5 196.5h1.8M456 196.5h1.8M458.5 196.5h1.8M461.5 196.5h1.8M462 196.5h1.8M462.5 196.5h1.8M463 196.5h1.8M465.5 196.5h1.8M466 196.5h1.8M467.5 196.5h1.8M468 196.5h1.8M469.5 196.5h1.8M470 196.5h1.8M472 196.5h1.8M476 196.5h1.8M478.5 196.5h1.8M479 196.5h1.8M481.5 196.5h1.8M485 196.5h1.8M485.5 196.5h1.8M486.5 196.5h1.8M493.5 196.5h1.8M505 196.5h1.8M513 196.5h1.8M532 196.5h1.8M536.5 196.5h1.8M428.5 197h1.8M432 197h1.8M434 197h1.8M435.5 197h1.8M441.5 197h1.8M442 197h1.8M442.5 197h1.8M443 197h1.8M443.5 197h1.8M445 197h1.8M445.5 197h1.8M449 197h1.8M449.5 197h1.8M450 197h1.8M451.5 197h1.8M452 197h1.8M454.5 197h1.8M456.5 197h1.8M459 197h1.8M459.5 197h1.8M460 197h1.8M462 197h1.8M462.5 197h1.8M463.5 197h1.8M464 197h1.8M465 197h1.8M465.5 197h1.8M468.5 197h1.8M469.5 197h1.8M473 197h1.8M474 197h1.8M496.5 197h1.8M500.5 197h1.8M504.5 197h1.8M507 197h1.8M515.5 197h1.8M519.5 197h1.8M400.5 197.5h1.8M423 197.5h1.8M432.5 197.5h1.8M435 197.5h1.8M435.5 197.5h1.8M437 197.5h1.8M440 197.5h1.8M441.5 197.5h1.8M442 197.5h1.8M443 197.5h1.8M443.5 197.5h1.8M444 197.5h1.8M444.5 197.5h1.8M445.5 197.5h1.8M446 197.5h1.8M446.5 197.5h1.8M448 197.5h1.8M448.5 197.5h1.8M451 197.5h1.8M451.5 197.5h1.8M452 197.5h1.8M454 197.5h1.8M456.5 197.5h1.8M457 197.5h1.8M457.5 197.5h1.8M458 197.5h1.8M458.5 197.5h1.8M459 197.5h1.8M461.5 197.5h1.8M462.5 197.5h1.8M463 197.5h1.8M464 197.5h1.8M467 197.5h1.8M467.5 197.5h1.8M468 197.5h1.8M471.5 197.5h1.8M517 197.5h1.8M528.5 197.5h1.8M535.5 197.5h1.8M427 198h1.8M431 198h1.8M434 198h1.8M436 198h1.8M436.5 198h1.8M437.5 198h1.8M440 198h1.8M440.5 198h1.8M441.5 198h1.8M442.5 198h1.8M443.5 198h1.8M444 198h1.8M444.5 198h1.8M445 198h1.8M446 198h1.8M446.5 198h1.8M447 198h1.8M448.5 198h1.8M449 198h1.8M450.5 198h1.8M451.5 198h1.8M452 198h1.8M452.5 198h1.8M453.5 198h1.8M454.5 198h1.8M455 198h1.8M456 198h1.8M457.5 198h1.8M458.5 198h1.8M460.5 198h1.8M461 198h1.8M464 198h1.8M466 198h1.8M466.5 198h1.8M467 198h1.8M467.5 198h1.8M468 198h1.8M470 198h1.8M474.5 198h1.8M477.5 198h1.8M482 198h1.8M484.5 198h1.8M485 198h1.8M488.5 198h1.8M492 198h1.8M493 198h1.8M498.5 198h1.8M503.5 198h1.8M507 198h1.8M507.5 198h1.8M515.5 198h1.8M519 198h1.8M519.5 198h1.8M425.5 198.5h1.8M428 198.5h1.8M429 198.5h1.8M431.5 198.5h1.8M433.5 198.5h1.8M436.5 198.5h1.8M437 198.5h1.8M437.5 198.5h1.8M440 198.5h1.8M442 198.5h1.8M443.5 198.5h1.8M445.5 198.5h1.8M446 198.5h1.8M447 198.5h1.8M447.5 198.5h1.8M448.5 198.5h1.8M449 198.5h1.8M451 198.5h1.8M451.5 198.5h1.8M452 198.5h1.8M452.5 198.5h1.8M453 198.5h1.8M454 198.5h1.8M455 198.5h1.8M455.5 198.5h1.8M456.5 198.5h1.8M457.5 198.5h1.8M458.5 198.5h1.8M461 198.5h1.8M462 198.5h1.8M463.5 198.5h1.8M464.5 198.5h1.8M465.5 198.5h1.8M466 198.5h1.8M466.5 198.5h1.8M467 198.5h1.8M467.5 198.5h1.8M468.5 198.5h1.8M469 198.5h1.8M470 198.5h1.8M471 198.5h1.8M476.5 198.5h1.8M486.5 198.5h1.8M488 198.5h1.8M488.5 198.5h1.8M496 198.5h1.8M501 198.5h1.8M502 198.5h1.8M532.5 198.5h1.8M564.5 198.5h1.8M407.5 199h1.8M418.5 199h1.8M428 199h1.8M429 199h1.8M430.5 199h1.8M431 199h1.8M432 199h1.8M435 199h1.8M435.5 199h1.8M436.5 199h1.8M439 199h1.8M441 199h1.8M441.5 199h1.8M442 199h1.8M442.5 199h1.8M443 199h1.8M443.5 199h1.8M445 199h1.8M445.5 199h1.8M446.5 199h1.8M447 199h1.8M448 199h1.8M450 199h1.8M450.5 199h1.8M451.5 199h1.8M453.5 199h1.8M454 199h1.8M454.5 199h1.8M455.5 199h1.8M456 199h1.8M456.5 199h1.8M458.5 199h1.8M459.5 199h1.8M460.5 199h1.8M461.5 199h1.8M464 199h1.8M468.5 199h1.8M469 199h1.8M475 199h1.8M475.5 199h1.8M476 199h1.8M483.5 199h1.8M486.5 199h1.8M489 199h1.8M492.5 199h1.8M493 199h1.8M493.5 199h1.8M495 199h1.8M498 199h1.8M500.5 199h1.8M509.5 199h1.8M512 199h1.8M404.5 199.5h1.8M420 199.5h1.8M429.5 199.5h1.8M433 199.5h1.8M434 199.5h1.8M434.5 199.5h1.8M435 199.5h1.8M435.5 199.5h1.8M437.5 199.5h1.8M438.5 199.5h1.8M440.5 199.5h1.8M443 199.5h1.8M443.5 199.5h1.8M444 199.5h1.8M444.5 199.5h1.8M446 199.5h1.8M447.5 199.5h1.8M448 199.5h1.8M448.5 199.5h1.8M451 199.5h1.8M451.5 199.5h1.8M452.5 199.5h1.8M453 199.5h1.8M454 199.5h1.8M455.5 199.5h1.8M456 199.5h1.8M457.5 199.5h1.8M458 199.5h1.8M458.5 199.5h1.8M459 199.5h1.8M460 199.5h1.8M462 199.5h1.8M463 199.5h1.8M463.5 199.5h1.8M465 199.5h1.8M466 199.5h1.8M467 199.5h1.8M471 199.5h1.8M472.5 199.5h1.8M478.5 199.5h1.8M479 199.5h1.8M479.5 199.5h1.8M483 199.5h1.8M485 199.5h1.8M499.5 199.5h1.8M502.5 199.5h1.8M513 199.5h1.8M515.5 199.5h1.8M518.5 199.5h1.8M541 199.5h1.8M420.5 200h1.8M423.5 200h1.8M429 200h1.8M430.5 200h1.8M431 200h1.8M432.5 200h1.8M433 200h1.8M436 200h1.8M437.5 200h1.8M438 200h1.8M441.5 200h1.8M442 200h1.8M442.5 200h1.8M443 200h1.8M444 200h1.8M446 200h1.8M449.5 200h1.8M450.5 200h1.8M451 200h1.8M451.5 200h1.8M454 200h1.8M457 200h1.8M459.5 200h1.8M460 200h1.8M461 200h1.8M463 200h1.8M464 200h1.8M468 200h1.8M471 200h1.8M480 200h1.8M490.5 200h1.8M495 200h1.8M502 200h1.8M517.5 200h1.8M519.5 200h1.8M425 200.5h1.8M425.5 200.5h1.8M426.5 200.5h1.8M427.5 200.5h1.8M430.5 200.5h1.8M432.5 200.5h1.8M435 200.5h1.8M438 200.5h1.8M438.5 200.5h1.8M440 200.5h1.8M441.5 200.5h1.8M442.5 200.5h1.8M443 200.5h1.8M443.5 200.5h1.8M445 200.5h1.8M446.5 200.5h1.8M447 200.5h1.8M450.5 200.5h1.8M452 200.5h1.8M453 200.5h1.8M454.5 200.5h1.8M455.5 200.5h1.8M457 200.5h1.8M459.5 200.5h1.8M461 200.5h1.8M461.5 200.5h1.8M462 200.5h1.8M462.5 200.5h1.8M463 200.5h1.8M463.5 200.5h1.8M464.5 200.5h1.8M465 200.5h1.8M466 200.5h1.8M467.5 200.5h1.8M468 200.5h1.8M473 200.5h1.8M476.5 200.5h1.8M477 200.5h1.8M481 200.5h1.8M489.5 200.5h1.8M506.5 200.5h1.8M512 200.5h1.8M515.5 200.5h1.8M517.5 200.5h1.8M423 201h1.8M426 201h1.8M427.5 201h1.8M430.5 201h1.8M431.5 201h1.8M434.5 201h1.8M435 201h1.8M436 201h1.8M437 201h1.8M440.5 201h1.8M441 201h1.8M441.5 201h1.8M442.5 201h1.8M443.5 201h1.8M444 201h1.8M445.5 201h1.8M447 201h1.8M448 201h1.8M448.5 201h1.8M449.5 201h1.8M450.5 201h1.8M451 201h1.8M452 201h1.8M453 201h1.8M453.5 201h1.8M455.5 201h1.8M458 201h1.8M461.5 201h1.8M463.5 201h1.8M464.5 201h1.8M465 201h1.8M467 201h1.8M468.5 201h1.8M475.5 201h1.8M476 201h1.8M489.5 201h1.8M500.5 201h1.8M503.5 201h1.8M506 201h1.8M506.5 201h1.8M513 201h1.8M531.5 201h1.8M408.5 201.5h1.8M421 201.5h1.8M424.5 201.5h1.8M425 201.5h1.8M428 201.5h1.8M430 201.5h1.8M431 201.5h1.8M433.5 201.5h1.8M434.5 201.5h1.8M438 201.5h1.8M439.5 201.5h1.8M440 201.5h1.8M442 201.5h1.8M442.5 201.5h1.8M443 201.5h1.8M443.5 201.5h1.8M444.5 201.5h1.8M446 201.5h1.8M446.5 201.5h1.8M448.5 201.5h1.8M449 201.5h1.8M449.5 201.5h1.8M451 201.5h1.8M452 201.5h1.8M452.5 201.5h1.8M453.5 201.5h1.8M454 201.5h1.8M454.5 201.5h1.8M455 201.5h1.8M455.5 201.5h1.8M456 201.5h1.8M456.5 201.5h1.8M457 201.5h1.8M458 201.5h1.8M461 201.5h1.8M461.5 201.5h1.8M464.5 201.5h1.8M465 201.5h1.8M467 201.5h1.8M467.5 201.5h1.8M469 201.5h1.8M475 201.5h1.8M476 201.5h1.8M488 201.5h1.8M495 201.5h1.8M505.5 201.5h1.8M508.5 201.5h1.8M519 201.5h1.8M522 201.5h1.8M525 201.5h1.8M405.5 202h1.8M419.5 202h1.8M423 202h1.8M426.5 202h1.8M427 202h1.8M427.5 202h1.8M428.5 202h1.8M429.5 202h1.8M432.5 202h1.8M433.5 202h1.8M434 202h1.8M435.5 202h1.8M436 202h1.8M436.5 202h1.8M437 202h1.8M437.5 202h1.8M438.5 202h1.8M439 202h1.8M440.5 202h1.8M441 202h1.8M445 202h1.8M446 202h1.8M447 202h1.8M448 202h1.8M448.5 202h1.8M449 202h1.8M450 202h1.8M452 202h1.8M452.5 202h1.8M453 202h1.8M453.5 202h1.8M455 202h1.8M457 202h1.8M457.5 202h1.8M458 202h1.8M459 202h1.8M459.5 202h1.8M460.5 202h1.8M462 202h1.8M464.5 202h1.8M465 202h1.8M466 202h1.8M469 202h1.8M475.5 202h1.8M478 202h1.8M481 202h1.8M483.5 202h1.8M485.5 202h1.8M487 202h1.8M489 202h1.8M491 202h1.8M495.5 202h1.8M504.5 202h1.8M516.5 202h1.8M517.5 202h1.8M407 202.5h1.8M425.5 202.5h1.8M426 202.5h1.8M426.5 202.5h1.8M428.5 202.5h1.8M430.5 202.5h1.8M431 202.5h1.8M431.5 202.5h1.8M432.5 202.5h1.8M433 202.5h1.8M433.5 202.5h1.8M434.5 202.5h1.8M435 202.5h1.8M437.5 202.5h1.8M438 202.5h1.8M438.5 202.5h1.8M441 202.5h1.8M442 202.5h1.8M442.5 202.5h1.8M444 202.5h1.8M445.5 202.5h1.8M446 202.5h1.8M446.5 202.5h1.8M447 202.5h1.8M448 202.5h1.8M448.5 202.5h1.8M451 202.5h1.8M451.5 202.5h1.8M452 202.5h1.8M453.5 202.5h1.8M456.5 202.5h1.8M457 202.5h1.8M460 202.5h1.8M462.5 202.5h1.8M463.5 202.5h1.8M464.5 202.5h1.8M465 202.5h1.8M466 202.5h1.8M467 202.5h1.8M470.5 202.5h1.8M471.5 202.5h1.8M472.5 202.5h1.8M473 202.5h1.8M473.5 202.5h1.8M475.5 202.5h1.8M482.5 202.5h1.8M487.5 202.5h1.8M490.5 202.5h1.8M491.5 202.5h1.8M493 202.5h1.8M494 202.5h1.8M497 202.5h1.8M498.5 202.5h1.8M499.5 202.5h1.8M504 202.5h1.8M510.5 202.5h1.8M521.5 202.5h1.8M396 203h1.8M419 203h1.8M426 203h1.8M429 203h1.8M429.5 203h1.8M430 203h1.8M432.5 203h1.8M434.5 203h1.8M436 203h1.8M438.5 203h1.8M439 203h1.8M440.5 203h1.8M441 203h1.8M441.5 203h1.8M442 203h1.8M445 203h1.8M447 203h1.8M448 203h1.8M450 203h1.8M450.5 203h1.8M451 203h1.8M451.5 203h1.8M454 203h1.8M455 203h1.8M455.5 203h1.8M456 203h1.8M457.5 203h1.8M458 203h1.8M459 203h1.8M461.5 203h1.8M464.5 203h1.8M465.5 203h1.8M467 203h1.8M467.5 203h1.8M469.5 203h1.8M474.5 203h1.8M482.5 203h1.8M491 203h1.8M497 203h1.8M499.5 203h1.8M501.5 203h1.8M503.5 203h1.8M519 203h1.8M526 203h1.8M534.5 203h1.8M551 203h1.8M420 203.5h1.8M422.5 203.5h1.8M423 203.5h1.8M426 203.5h1.8M431.5 203.5h1.8M433 203.5h1.8M434 203.5h1.8M435.5 203.5h1.8M437.5 203.5h1.8M439 203.5h1.8M440.5 203.5h1.8M441.5 203.5h1.8M442 203.5h1.8M442.5 203.5h1.8M443 203.5h1.8M444 203.5h1.8M445 203.5h1.8M446 203.5h1.8M447.5 203.5h1.8M449 203.5h1.8M450 203.5h1.8M450.5 203.5h1.8M451.5 203.5h1.8M452 203.5h1.8M453 203.5h1.8M453.5 203.5h1.8M454 203.5h1.8M455 203.5h1.8M455.5 203.5h1.8M456 203.5h1.8M456.5 203.5h1.8M459.5 203.5h1.8M460 203.5h1.8M461 203.5h1.8M462 203.5h1.8M463.5 203.5h1.8M465.5 203.5h1.8M472 203.5h1.8M472.5 203.5h1.8M488.5 203.5h1.8M491 203.5h1.8M503 203.5h1.8M511 203.5h1.8M512 203.5h1.8M520.5 203.5h1.8M418 204h1.8M422 204h1.8M424.5 204h1.8M426 204h1.8M431.5 204h1.8M432 204h1.8M432.5 204h1.8M433.5 204h1.8M435.5 204h1.8M437 204h1.8M437.5 204h1.8M438.5 204h1.8M439.5 204h1.8M440.5 204h1.8M441 204h1.8M442 204h1.8M442.5 204h1.8M445 204h1.8M445.5 204h1.8M446.5 204h1.8M447 204h1.8M447.5 204h1.8M448 204h1.8M448.5 204h1.8M450.5 204h1.8M451 204h1.8M451.5 204h1.8M454.5 204h1.8M456.5 204h1.8M457 204h1.8M457.5 204h1.8M458 204h1.8M459.5 204h1.8M460.5 204h1.8M462 204h1.8M463 204h1.8M463.5 204h1.8M465 204h1.8M469.5 204h1.8M470 204h1.8M478 204h1.8M479 204h1.8M480 204h1.8M489 204h1.8M496.5 204h1.8M500.5 204h1.8M502 204h1.8M503 204h1.8M506.5 204h1.8M510 204h1.8M510.5 204h1.8M515 204h1.8M556 204h1.8M420.5 204.5h1.8M423 204.5h1.8M425.5 204.5h1.8M426 204.5h1.8M427 204.5h1.8M427.5 204.5h1.8M428 204.5h1.8M429 204.5h1.8M430 204.5h1.8M431 204.5h1.8M432.5 204.5h1.8M434.5 204.5h1.8M440.5 204.5h1.8M442.5 204.5h1.8M443 204.5h1.8M444 204.5h1.8M447.5 204.5h1.8M448 204.5h1.8M451 204.5h1.8M453 204.5h1.8M453.5 204.5h1.8M454.5 204.5h1.8M455 204.5h1.8M455.5 204.5h1.8M456 204.5h1.8M456.5 204.5h1.8M457 204.5h1.8M458.5 204.5h1.8M462 204.5h1.8M463 204.5h1.8M464.5 204.5h1.8M468.5 204.5h1.8M475 204.5h1.8M481.5 204.5h1.8M483.5 204.5h1.8M486.5 204.5h1.8M500.5 204.5h1.8M505.5 204.5h1.8M506.5 204.5h1.8M513.5 204.5h1.8M516.5 204.5h1.8M522.5 204.5h1.8M420 205h1.8M424.5 205h1.8M425.5 205h1.8M426 205h1.8M428.5 205h1.8M429.5 205h1.8M430 205h1.8M430.5 205h1.8M431 205h1.8M431.5 205h1.8M432 205h1.8M433 205h1.8M435 205h1.8M437 205h1.8M437.5 205h1.8M438.5 205h1.8M439 205h1.8M439.5 205h1.8M440.5 205h1.8M441 205h1.8M441.5 205h1.8M442 205h1.8M443 205h1.8M443.5 205h1.8M444 205h1.8M446.5 205h1.8M447 205h1.8M449.5 205h1.8M450 205h1.8M450.5 205h1.8M451 205h1.8M451.5 205h1.8M453 205h1.8M453.5 205h1.8M454.5 205h1.8M455.5 205h1.8M459 205h1.8M459.5 205h1.8M460 205h1.8M460.5 205h1.8M461.5 205h1.8M462.5 205h1.8M464 205h1.8M465 205h1.8M466 205h1.8M468 205h1.8M471 205h1.8M472.5 205h1.8M473 205h1.8M474 205h1.8M481.5 205h1.8M497 205h1.8M503 205h1.8M507 205h1.8M508.5 205h1.8M537 205h1.8M407.5 205.5h1.8M413.5 205.5h1.8M415.5 205.5h1.8M418.5 205.5h1.8M421.5 205.5h1.8M424 205.5h1.8M425 205.5h1.8M426 205.5h1.8M428 205.5h1.8M429.5 205.5h1.8M430 205.5h1.8M430.5 205.5h1.8M433 205.5h1.8M433.5 205.5h1.8M434 205.5h1.8M434.5 205.5h1.8M435 205.5h1.8M435.5 205.5h1.8M436 205.5h1.8M437 205.5h1.8M439 205.5h1.8M439.5 205.5h1.8M440.5 205.5h1.8M441 205.5h1.8M441.5 205.5h1.8M442 205.5h1.8M442.5 205.5h1.8M443.5 205.5h1.8M444 205.5h1.8M444.5 205.5h1.8M446.5 205.5h1.8M447.5 205.5h1.8M448.5 205.5h1.8M449 205.5h1.8M450 205.5h1.8M451.5 205.5h1.8M452 205.5h1.8M452.5 205.5h1.8M453 205.5h1.8M454.5 205.5h1.8M455 205.5h1.8M456.5 205.5h1.8M457 205.5h1.8M458 205.5h1.8M459 205.5h1.8M460 205.5h1.8M460.5 205.5h1.8M462.5 205.5h1.8M467 205.5h1.8M475.5 205.5h1.8M476 205.5h1.8M481 205.5h1.8M484 205.5h1.8M485 205.5h1.8M485.5 205.5h1.8M488 205.5h1.8M489.5 205.5h1.8M493 205.5h1.8M501 205.5h1.8M508.5 205.5h1.8M510.5 205.5h1.8M521.5 205.5h1.8M422.5 206h1.8M423 206h1.8M432.5 206h1.8M434 206h1.8M435.5 206h1.8M436.5 206h1.8M437.5 206h1.8M439 206h1.8M439.5 206h1.8M440 206h1.8M440.5 206h1.8M443 206h1.8M444.5 206h1.8M445 206h1.8M445.5 206h1.8M447 206h1.8M447.5 206h1.8M448 206h1.8M449 206h1.8M449.5 206h1.8M453.5 206h1.8M454 206h1.8M454.5 206h1.8M455.5 206h1.8M456 206h1.8M457 206h1.8M460 206h1.8M460.5 206h1.8M466.5 206h1.8M469 206h1.8M475 206h1.8M482.5 206h1.8M488 206h1.8M492 206h1.8M508 206h1.8M509.5 206h1.8M401.5 206.5h1.8M422.5 206.5h1.8M425.5 206.5h1.8M427 206.5h1.8M427.5 206.5h1.8M429 206.5h1.8M430.5 206.5h1.8M431 206.5h1.8M431.5 206.5h1.8M433.5 206.5h1.8M434 206.5h1.8M435 206.5h1.8M436 206.5h1.8M436.5 206.5h1.8M438.5 206.5h1.8M439.5 206.5h1.8M440.5 206.5h1.8M442.5 206.5h1.8M444.5 206.5h1.8M445.5 206.5h1.8M446.5 206.5h1.8M447.5 206.5h1.8M449 206.5h1.8M449.5 206.5h1.8M450 206.5h1.8M451 206.5h1.8M455 206.5h1.8M455.5 206.5h1.8M456.5 206.5h1.8M457 206.5h1.8M458.5 206.5h1.8M461 206.5h1.8M468.5 206.5h1.8M469 206.5h1.8M469.5 206.5h1.8M471 206.5h1.8M473 206.5h1.8M477.5 206.5h1.8M479.5 206.5h1.8M480 206.5h1.8M481 206.5h1.8M493 206.5h1.8M493.5 206.5h1.8M505.5 206.5h1.8M514 206.5h1.8M409.5 207h1.8M411 207h1.8M413 207h1.8M415 207h1.8M422.5 207h1.8M423 207h1.8M424 207h1.8M424.5 207h1.8M427 207h1.8M427.5 207h1.8M428.5 207h1.8M429.5 207h1.8M430 207h1.8M431 207h1.8M433 207h1.8M434.5 207h1.8M435 207h1.8M436.5 207h1.8M437 207h1.8M437.5 207h1.8M438.5 207h1.8M439.5 207h1.8M440 207h1.8M440.5 207h1.8M442 207h1.8M446.5 207h1.8M447 207h1.8M447.5 207h1.8M448 207h1.8M448.5 207h1.8M451.5 207h1.8M452 207h1.8M452.5 207h1.8M453 207h1.8M455 207h1.8M456 207h1.8M457.5 207h1.8M458 207h1.8M459 207h1.8M459.5 207h1.8M460 207h1.8M467 207h1.8M467.5 207h1.8M470 207h1.8M473.5 207h1.8M476 207h1.8M477.5 207h1.8M479 207h1.8M486 207h1.8M487 207h1.8M494 207h1.8M501.5 207h1.8M503 207h1.8M513 207h1.8M517.5 207h1.8M402.5 207.5h1.8M413.5 207.5h1.8M415 207.5h1.8M417.5 207.5h1.8M418 207.5h1.8M418.5 207.5h1.8M421.5 207.5h1.8M423 207.5h1.8M423.5 207.5h1.8M425.5 207.5h1.8M426 207.5h1.8M426.5 207.5h1.8M427 207.5h1.8M428.5 207.5h1.8M429.5 207.5h1.8M431.5 207.5h1.8M433.5 207.5h1.8M434 207.5h1.8M436 207.5h1.8M436.5 207.5h1.8M438 207.5h1.8M441.5 207.5h1.8M442 207.5h1.8M442.5 207.5h1.8M443 207.5h1.8M443.5 207.5h1.8M444 207.5h1.8M446.5 207.5h1.8M448 207.5h1.8M449.5 207.5h1.8M450.5 207.5h1.8M451 207.5h1.8M451.5 207.5h1.8M452.5 207.5h1.8M454 207.5h1.8M455 207.5h1.8M456.5 207.5h1.8M458 207.5h1.8M462 207.5h1.8M466 207.5h1.8M472.5 207.5h1.8M474 207.5h1.8M479 207.5h1.8M486 207.5h1.8M501.5 207.5h1.8M503 207.5h1.8M503.5 207.5h1.8M508 207.5h1.8M524 207.5h1.8M553 207.5h1.8M411.5 208h1.8M417.5 208h1.8M418 208h1.8M421.5 208h1.8M423 208h1.8M424.5 208h1.8M425 208h1.8M425.5 208h1.8M429 208h1.8M429.5 208h1.8M430 208h1.8M431 208h1.8M432 208h1.8M435.5 208h1.8M438 208h1.8M438.5 208h1.8M441 208h1.8M442 208h1.8M442.5 208h1.8M443 208h1.8M444 208h1.8M446 208h1.8M447 208h1.8M447.5 208h1.8M448 208h1.8M448.5 208h1.8M449.5 208h1.8M450 208h1.8M450.5 208h1.8M451 208h1.8M451.5 208h1.8M453 208h1.8M454 208h1.8M455.5 208h1.8M456 208h1.8M457 208h1.8M458 208h1.8M459 208h1.8M466.5 208h1.8M470.5 208h1.8M474 208h1.8M477 208h1.8M487.5 208h1.8M514.5 208h1.8M524 208h1.8M534.5 208h1.8M420.5 208.5h1.8M421 208.5h1.8M422 208.5h1.8M423 208.5h1.8M424 208.5h1.8M426 208.5h1.8M429 208.5h1.8M430.5 208.5h1.8M431 208.5h1.8M431.5 208.5h1.8M432.5 208.5h1.8M434 208.5h1.8M435.5 208.5h1.8M436.5 208.5h1.8M437 208.5h1.8M438 208.5h1.8M440 208.5h1.8M440.5 208.5h1.8M441 208.5h1.8M443 208.5h1.8M445.5 208.5h1.8M446 208.5h1.8M446.5 208.5h1.8M447 208.5h1.8M447.5 208.5h1.8M448 208.5h1.8M449 208.5h1.8M449.5 208.5h1.8M450 208.5h1.8M450.5 208.5h1.8M451.5 208.5h1.8M452 208.5h1.8M453 208.5h1.8M458 208.5h1.8M459.5 208.5h1.8M460 208.5h1.8M461 208.5h1.8M462 208.5h1.8M469 208.5h1.8M470.5 208.5h1.8M471 208.5h1.8M475 208.5h1.8M476 208.5h1.8M489 208.5h1.8M496 208.5h1.8M503.5 208.5h1.8M510.5 208.5h1.8M528.5 208.5h1.8M410 209h1.8M419 209h1.8M420 209h1.8M424.5 209h1.8M425 209h1.8M425.5 209h1.8M426.5 209h1.8M427 209h1.8M431.5 209h1.8M435 209h1.8M436 209h1.8M437 209h1.8M437.5 209h1.8M438 209h1.8M438.5 209h1.8M439.5 209h1.8M440 209h1.8M440.5 209h1.8M443 209h1.8M444.5 209h1.8M446 209h1.8M447 209h1.8M448 209h1.8M451 209h1.8M452 209h1.8M452.5 209h1.8M453.5 209h1.8M454.5 209h1.8M455 209h1.8M460 209h1.8M461.5 209h1.8M463 209h1.8M465 209h1.8M467.5 209h1.8M468 209h1.8M469 209h1.8M470 209h1.8M470.5 209h1.8M473.5 209h1.8M479.5 209h1.8M480 209h1.8M480.5 209h1.8M487 209h1.8M492 209h1.8M498 209h1.8M521 209h1.8M403.5 209.5h1.8M405 209.5h1.8M413.5 209.5h1.8M417 209.5h1.8M419.5 209.5h1.8M421.5 209.5h1.8M424.5 209.5h1.8M425 209.5h1.8M426 209.5h1.8M427.5 209.5h1.8M428 209.5h1.8M430 209.5h1.8M430.5 209.5h1.8M431 209.5h1.8M431.5 209.5h1.8M432 209.5h1.8M432.5 209.5h1.8M433.5 209.5h1.8M434 209.5h1.8M434.5 209.5h1.8M436.5 209.5h1.8M437 209.5h1.8M438 209.5h1.8M438.5 209.5h1.8M440 209.5h1.8M441 209.5h1.8M442.5 209.5h1.8M443.5 209.5h1.8M445.5 209.5h1.8M446 209.5h1.8M447.5 209.5h1.8M448 209.5h1.8M448.5 209.5h1.8M449.5 209.5h1.8M450 209.5h1.8M450.5 209.5h1.8M452 209.5h1.8M454.5 209.5h1.8M456 209.5h1.8M457 209.5h1.8M458 209.5h1.8M462.5 209.5h1.8M466.5 209.5h1.8M475 209.5h1.8M475.5 209.5h1.8M477.5 209.5h1.8M478 209.5h1.8M479 209.5h1.8M479.5 209.5h1.8M490 209.5h1.8M491 209.5h1.8M494 209.5h1.8M495 209.5h1.8M501.5 209.5h1.8M417 210h1.8M420 210h1.8M421.5 210h1.8M422 210h1.8M423.5 210h1.8M424 210h1.8M424.5 210h1.8M427.5 210h1.8M428 210h1.8M429 210h1.8M431 210h1.8M432 210h1.8M432.5 210h1.8M433 210h1.8M433.5 210h1.8M434 210h1.8M434.5 210h1.8M436 210h1.8M436.5 210h1.8M439 210h1.8M439.5 210h1.8M440 210h1.8M440.5 210h1.8M441 210h1.8M441.5 210h1.8M442.5 210h1.8M443.5 210h1.8M445.5 210h1.8M446 210h1.8M447 210h1.8M447.5 210h1.8M448 210h1.8M450.5 210h1.8M452.5 210h1.8M453 210h1.8M453.5 210h1.8M454.5 210h1.8M459 210h1.8M469 210h1.8M473.5 210h1.8M474 210h1.8M483.5 210h1.8M487.5 210h1.8M491.5 210h1.8M532 210h1.8M408 210.5h1.8M411.5 210.5h1.8M418.5 210.5h1.8M425 210.5h1.8M425.5 210.5h1.8M426.5 210.5h1.8M428.5 210.5h1.8M429.5 210.5h1.8M431.5 210.5h1.8M432 210.5h1.8M433.5 210.5h1.8M436 210.5h1.8M437 210.5h1.8M437.5 210.5h1.8M438.5 210.5h1.8M439.5 210.5h1.8M440 210.5h1.8M440.5 210.5h1.8M441.5 210.5h1.8M444 210.5h1.8M445.5 210.5h1.8M447 210.5h1.8M450 210.5h1.8M450.5 210.5h1.8M451.5 210.5h1.8M452 210.5h1.8M454 210.5h1.8M456.5 210.5h1.8M459.5 210.5h1.8M460 210.5h1.8M461 210.5h1.8M473 210.5h1.8M482 210.5h1.8M487.5 210.5h1.8M491.5 210.5h1.8M520.5 210.5h1.8M525 210.5h1.8M531.5 210.5h1.8M542 210.5h1.8M407.5 211h1.8M413 211h1.8M414 211h1.8M416 211h1.8M422 211h1.8M424 211h1.8M425.5 211h1.8M426 211h1.8M426.5 211h1.8M427 211h1.8M427.5 211h1.8M428 211h1.8M429 211h1.8M430 211h1.8M430.5 211h1.8M431 211h1.8M431.5 211h1.8M432.5 211h1.8M433 211h1.8M437.5 211h1.8M438.5 211h1.8M439 211h1.8M440.5 211h1.8M441 211h1.8M441.5 211h1.8M442 211h1.8M443 211h1.8M443.5 211h1.8M445 211h1.8M446.5 211h1.8M447 211h1.8M447.5 211h1.8M450 211h1.8M451.5 211h1.8M452 211h1.8M453 211h1.8M453.5 211h1.8M455.5 211h1.8M457.5 211h1.8M459.5 211h1.8M461.5 211h1.8M462 211h1.8M468 211h1.8M477 211h1.8M481.5 211h1.8M484 211h1.8M485.5 211h1.8M487 211h1.8M498 211h1.8M506 211h1.8M506.5 211h1.8M510 211h1.8M397.5 211.5h1.8M403.5 211.5h1.8M409.5 211.5h1.8M419 211.5h1.8M420 211.5h1.8M422 211.5h1.8M427 211.5h1.8M427.5 211.5h1.8M428 211.5h1.8M429.5 211.5h1.8M430.5 211.5h1.8M432.5 211.5h1.8M434.5 211.5h1.8M437.5 211.5h1.8M439 211.5h1.8M440 211.5h1.8M442.5 211.5h1.8M443 211.5h1.8M443.5 211.5h1.8M444.5 211.5h1.8M446 211.5h1.8M446.5 211.5h1.8M448 211.5h1.8M449 211.5h1.8M449.5 211.5h1.8M450 211.5h1.8M451 211.5h1.8M452 211.5h1.8M453.5 211.5h1.8M454 211.5h1.8M456.5 211.5h1.8M458 211.5h1.8M470.5 211.5h1.8M475 211.5h1.8M482 211.5h1.8M489.5 211.5h1.8M493 211.5h1.8M523 211.5h1.8M525.5 211.5h1.8M407 212h1.8M413.5 212h1.8M414 212h1.8M417.5 212h1.8M421.5 212h1.8M422.5 212h1.8M423.5 212h1.8M427.5 212h1.8M428.5 212h1.8M429 212h1.8M429.5 212h1.8M430.5 212h1.8M432 212h1.8M432.5 212h1.8M434 212h1.8M434.5 212h1.8M436 212h1.8M438 212h1.8M438.5 212h1.8M439 212h1.8M440 212h1.8M440.5 212h1.8M441 212h1.8M442 212h1.8M443.5 212h1.8M444 212h1.8M444.5 212h1.8M446 212h1.8M446.5 212h1.8M447 212h1.8M448.5 212h1.8M449 212h1.8M450 212h1.8M450.5 212h1.8M451.5 212h1.8M452.5 212h1.8M454.5 212h1.8M455.5 212h1.8M457.5 212h1.8M458.5 212h1.8M459.5 212h1.8M478.5 212h1.8M480.5 212h1.8M484 212h1.8M487 212h1.8M489.5 212h1.8M495.5 212h1.8M498.5 212h1.8M499.5 212h1.8M504.5 212h1.8M508 212h1.8M518.5 212h1.8M519 212h1.8M521.5 212h1.8M523 212h1.8M530 212h1.8M403 212.5h1.8M408.5 212.5h1.8M411.5 212.5h1.8M419.5 212.5h1.8M421 212.5h1.8M422.5 212.5h1.8M425.5 212.5h1.8M426.5 212.5h1.8M427 212.5h1.8M428.5 212.5h1.8M430.5 212.5h1.8M431 212.5h1.8M432 212.5h1.8M433 212.5h1.8M433.5 212.5h1.8M434.5 212.5h1.8M436 212.5h1.8M436.5 212.5h1.8M437.5 212.5h1.8M439 212.5h1.8M440.5 212.5h1.8M441 212.5h1.8M441.5 212.5h1.8M443 212.5h1.8M444.5 212.5h1.8M446 212.5h1.8M446.5 212.5h1.8M448 212.5h1.8M449.5 212.5h1.8M454.5 212.5h1.8M456.5 212.5h1.8M464 212.5h1.8M464.5 212.5h1.8M466 212.5h1.8M470.5 212.5h1.8M472.5 212.5h1.8M474 212.5h1.8M478.5 212.5h1.8M485 212.5h1.8M496.5 212.5h1.8M501 212.5h1.8M502 212.5h1.8M524.5 212.5h1.8M412 213h1.8M413 213h1.8M418 213h1.8M420 213h1.8M421.5 213h1.8M426 213h1.8M428.5 213h1.8M430 213h1.8M432 213h1.8M433 213h1.8M434.5 213h1.8M435 213h1.8M435.5 213h1.8M437.5 213h1.8M440 213h1.8M441 213h1.8M442.5 213h1.8M443 213h1.8M443.5 213h1.8M445 213h1.8M446.5 213h1.8M447 213h1.8M448.5 213h1.8M449.5 213h1.8M452 213h1.8M453.5 213h1.8M454.5 213h1.8M467.5 213h1.8M471 213h1.8M479.5 213h1.8M481 213h1.8M483 213h1.8M502.5 213h1.8M508 213h1.8M402 213.5h1.8M415 213.5h1.8M416 213.5h1.8M416.5 213.5h1.8M419 213.5h1.8M419.5 213.5h1.8M420.5 213.5h1.8M422 213.5h1.8M423 213.5h1.8M425.5 213.5h1.8M427 213.5h1.8M430 213.5h1.8M432.5 213.5h1.8M433 213.5h1.8M437 213.5h1.8M437.5 213.5h1.8M438 213.5h1.8M438.5 213.5h1.8M439.5 213.5h1.8M440.5 213.5h1.8M442 213.5h1.8M442.5 213.5h1.8M443.5 213.5h1.8M444 213.5h1.8M448.5 213.5h1.8M449 213.5h1.8M449.5 213.5h1.8M450 213.5h1.8M453.5 213.5h1.8M456 213.5h1.8M458.5 213.5h1.8M463 213.5h1.8M464 213.5h1.8M472 213.5h1.8M473 213.5h1.8M474 213.5h1.8M479 213.5h1.8M488 213.5h1.8M489 213.5h1.8M492.5 213.5h1.8M495 213.5h1.8M498.5 213.5h1.8M502 213.5h1.8M504.5 213.5h1.8M507.5 213.5h1.8M418 214h1.8M419.5 214h1.8M420 214h1.8M422 214h1.8M423 214h1.8M424 214h1.8M426.5 214h1.8M428.5 214h1.8M429.5 214h1.8M430.5 214h1.8M431.5 214h1.8M432.5 214h1.8M434 214h1.8M434.5 214h1.8M435.5 214h1.8M436 214h1.8M438 214h1.8M439 214h1.8M440 214h1.8M440.5 214h1.8M444.5 214h1.8M445 214h1.8M445.5 214h1.8M446 214h1.8M447.5 214h1.8M450 214h1.8M452 214h1.8M453.5 214h1.8M464.5 214h1.8M465 214h1.8M473 214h1.8M475.5 214h1.8M477 214h1.8M487.5 214h1.8M489.5 214h1.8M490.5 214h1.8M494.5 214h1.8M501 214h1.8M507.5 214h1.8M525.5 214h1.8M528.5 214h1.8M553.5 214h1.8M399.5 214.5h1.8M400.5 214.5h1.8M404.5 214.5h1.8M410 214.5h1.8M417 214.5h1.8M419 214.5h1.8M420 214.5h1.8M421 214.5h1.8M421.5 214.5h1.8M425 214.5h1.8M427 214.5h1.8M428 214.5h1.8M428.5 214.5h1.8M432 214.5h1.8M432.5 214.5h1.8M433 214.5h1.8M437 214.5h1.8M437.5 214.5h1.8M439 214.5h1.8M440 214.5h1.8M441.5 214.5h1.8M445 214.5h1.8M445.5 214.5h1.8M446 214.5h1.8M447 214.5h1.8M450 214.5h1.8M451 214.5h1.8M452.5 214.5h1.8M453 214.5h1.8M462.5 214.5h1.8M472.5 214.5h1.8M474 214.5h1.8M480.5 214.5h1.8M487 214.5h1.8M497 214.5h1.8M507.5 214.5h1.8M511 214.5h1.8M513 214.5h1.8M532 214.5h1.8M405.5 215h1.8M411 215h1.8M413 215h1.8M417 215h1.8M417.5 215h1.8M418 215h1.8M418.5 215h1.8M419.5 215h1.8M420.5 215h1.8M421 215h1.8M422.5 215h1.8M423 215h1.8M425.5 215h1.8M427 215h1.8M428.5 215h1.8M430.5 215h1.8M431 215h1.8M433 215h1.8M433.5 215h1.8M435.5 215h1.8M436.5 215h1.8M438 215h1.8M440.5 215h1.8M446 215h1.8M446.5 215h1.8M447 215h1.8M447.5 215h1.8M452 215h1.8M465 215h1.8M474.5 215h1.8M531.5 215h1.8M537.5 215h1.8M407.5 215.5h1.8M417.5 215.5h1.8M418.5 215.5h1.8M419 215.5h1.8M420.5 215.5h1.8M424 215.5h1.8M425 215.5h1.8M426 215.5h1.8M427 215.5h1.8M429.5 215.5h1.8M431 215.5h1.8M431.5 215.5h1.8M432 215.5h1.8M432.5 215.5h1.8M434 215.5h1.8M435 215.5h1.8M436.5 215.5h1.8M437 215.5h1.8M439.5 215.5h1.8M440.5 215.5h1.8M441 215.5h1.8M441.5 215.5h1.8M443.5 215.5h1.8M445 215.5h1.8M445.5 215.5h1.8M449 215.5h1.8M449.5 215.5h1.8M451.5 215.5h1.8M454.5 215.5h1.8M456.5 215.5h1.8M457 215.5h1.8M468.5 215.5h1.8M469 215.5h1.8M469.5 215.5h1.8M470 215.5h1.8M472.5 215.5h1.8M473.5 215.5h1.8M477 215.5h1.8M484 215.5h1.8M496 215.5h1.8M505 215.5h1.8M506 215.5h1.8M404.5 216h1.8M410 216h1.8M413.5 216h1.8M417 216h1.8M420 216h1.8M420.5 216h1.8M422 216h1.8M422.5 216h1.8M423 216h1.8M424 216h1.8M424.5 216h1.8M425 216h1.8M425.5 216h1.8M426 216h1.8M426.5 216h1.8M427 216h1.8M428 216h1.8M430.5 216h1.8M431.5 216h1.8M433 216h1.8M434.5 216h1.8M436 216h1.8M437 216h1.8M437.5 216h1.8M438.5 216h1.8M444 216h1.8M449.5 216h1.8M453 216h1.8M459 216h1.8M461 216h1.8M462 216h1.8M479 216h1.8M480.5 216h1.8M482 216h1.8M484 216h1.8M494.5 216h1.8M502 216h1.8M506.5 216h1.8M519.5 216h1.8M416.5 216.5h1.8M418.5 216.5h1.8M419 216.5h1.8M421 216.5h1.8M421.5 216.5h1.8M425 216.5h1.8M425.5 216.5h1.8M426.5 216.5h1.8M428.5 216.5h1.8M429.5 216.5h1.8M430.5 216.5h1.8M431.5 216.5h1.8M432.5 216.5h1.8M433 216.5h1.8M436 216.5h1.8M437.5 216.5h1.8M438 216.5h1.8M440 216.5h1.8M441 216.5h1.8M441.5 216.5h1.8M442.5 216.5h1.8M443 216.5h1.8M444 216.5h1.8M446 216.5h1.8M450.5 216.5h1.8M451 216.5h1.8M458.5 216.5h1.8M463 216.5h1.8M464 216.5h1.8M465.5 216.5h1.8M475.5 216.5h1.8M481 216.5h1.8M483 216.5h1.8M485 216.5h1.8M497 216.5h1.8M507.5 216.5h1.8M407 217h1.8M413 217h1.8M413.5 217h1.8M416.5 217h1.8M417.5 217h1.8M419 217h1.8M420 217h1.8M423.5 217h1.8M424.5 217h1.8M425.5 217h1.8M427 217h1.8M429 217h1.8M429.5 217h1.8M431 217h1.8M433.5 217h1.8M435.5 217h1.8M438.5 217h1.8M439.5 217h1.8M441 217h1.8M441.5 217h1.8M442 217h1.8M442.5 217h1.8M443.5 217h1.8M447 217h1.8M447.5 217h1.8M449 217h1.8M457 217h1.8M458.5 217h1.8M467 217h1.8M470 217h1.8M484.5 217h1.8M492.5 217h1.8M497 217h1.8M503.5 217h1.8M514.5 217h1.8M521.5 217h1.8M413.5 217.5h1.8M414.5 217.5h1.8M417.5 217.5h1.8M418 217.5h1.8M419.5 217.5h1.8M420 217.5h1.8M421 217.5h1.8M421.5 217.5h1.8M422 217.5h1.8M424 217.5h1.8M425 217.5h1.8M425.5 217.5h1.8M429 217.5h1.8M430 217.5h1.8M430.5 217.5h1.8M431 217.5h1.8M433 217.5h1.8M434 217.5h1.8M434.5 217.5h1.8M435.5 217.5h1.8M436 217.5h1.8M437 217.5h1.8M438 217.5h1.8M438.5 217.5h1.8M440.5 217.5h1.8M441.5 217.5h1.8M443.5 217.5h1.8M444.5 217.5h1.8M446.5 217.5h1.8M447.5 217.5h1.8M451 217.5h1.8M451.5 217.5h1.8M454.5 217.5h1.8M458.5 217.5h1.8M459.5 217.5h1.8M461 217.5h1.8M463.5 217.5h1.8M467 217.5h1.8M469 217.5h1.8M475 217.5h1.8M479 217.5h1.8M485.5 217.5h1.8M488 217.5h1.8M496 217.5h1.8M503.5 217.5h1.8M507.5 217.5h1.8M517 217.5h1.8M526 217.5h1.8M403 218h1.8M409 218h1.8M416.5 218h1.8M417.5 218h1.8M418 218h1.8M419 218h1.8M419.5 218h1.8M420 218h1.8M422.5 218h1.8M423 218h1.8M423.5 218h1.8M424 218h1.8M425 218h1.8M425.5 218h1.8M426.5 218h1.8M428 218h1.8M428.5 218h1.8M429 218h1.8M429.5 218h1.8M430 218h1.8M431.5 218h1.8M433 218h1.8M434 218h1.8M435.5 218h1.8M436 218h1.8M437.5 218h1.8M444 218h1.8M446 218h1.8M450.5 218h1.8M457.5 218h1.8M466 218h1.8M466.5 218h1.8M476 218h1.8M477.5 218h1.8M478.5 218h1.8M496.5 218h1.8M499.5 218h1.8M402.5 218.5h1.8M411.5 218.5h1.8M417.5 218.5h1.8M418 218.5h1.8M418.5 218.5h1.8M419.5 218.5h1.8M422.5 218.5h1.8M423.5 218.5h1.8M425 218.5h1.8M425.5 218.5h1.8M426.5 218.5h1.8M427.5 218.5h1.8M429.5 218.5h1.8M430 218.5h1.8M431.5 218.5h1.8M432 218.5h1.8M433 218.5h1.8M434.5 218.5h1.8M437 218.5h1.8M438 218.5h1.8M438.5 218.5h1.8M448 218.5h1.8M449 218.5h1.8M455 218.5h1.8M458 218.5h1.8M458.5 218.5h1.8M471 218.5h1.8M473 218.5h1.8M477 218.5h1.8M483.5 218.5h1.8M484 218.5h1.8M488.5 218.5h1.8M489 218.5h1.8M490 218.5h1.8M492.5 218.5h1.8M494.5 218.5h1.8M498 218.5h1.8M506 218.5h1.8M522 218.5h1.8M413.5 219h1.8M421 219h1.8M421.5 219h1.8M423.5 219h1.8M424.5 219h1.8M425.5 219h1.8M427.5 219h1.8M430 219h1.8M434 219h1.8M434.5 219h1.8M436.5 219h1.8M437.5 219h1.8M441.5 219h1.8M442.5 219h1.8M446 219h1.8M460 219h1.8M465.5 219h1.8M477.5 219h1.8M485 219h1.8M487 219h1.8M488 219h1.8M492.5 219h1.8M494 219h1.8M495 219h1.8M498 219h1.8M502 219h1.8M528 219h1.8M535.5 219h1.8M408 219.5h1.8M418 219.5h1.8M418.5 219.5h1.8M420.5 219.5h1.8M424 219.5h1.8M424.5 219.5h1.8M425.5 219.5h1.8M426.5 219.5h1.8M427.5 219.5h1.8M428 219.5h1.8M429 219.5h1.8M429.5 219.5h1.8M430.5 219.5h1.8M431 219.5h1.8M432 219.5h1.8M434 219.5h1.8M435 219.5h1.8M441.5 219.5h1.8M445.5 219.5h1.8M450.5 219.5h1.8M452.5 219.5h1.8M454.5 219.5h1.8M455 219.5h1.8M465.5 219.5h1.8M475 219.5h1.8M476 219.5h1.8M476.5 219.5h1.8M477 219.5h1.8M478 219.5h1.8M478.5 219.5h1.8M480 219.5h1.8M485.5 219.5h1.8M500 219.5h1.8M417 220h1.8M420 220h1.8M420.5 220h1.8M422.5 220h1.8M425 220h1.8M426 220h1.8M427.5 220h1.8M435.5 220h1.8M436.5 220h1.8M438 220h1.8M447 220h1.8M447.5 220h1.8M454 220h1.8M455.5 220h1.8M458.5 220h1.8M461 220h1.8M470 220h1.8M476 220h1.8M483 220h1.8M486.5 220h1.8M498 220h1.8M411 220.5h1.8M419.5 220.5h1.8M423.5 220.5h1.8M426 220.5h1.8M427.5 220.5h1.8M428 220.5h1.8M429 220.5h1.8M429.5 220.5h1.8M431 220.5h1.8M431.5 220.5h1.8M433.5 220.5h1.8M434 220.5h1.8M435 220.5h1.8M439 220.5h1.8M444 220.5h1.8M446 220.5h1.8M456.5 220.5h1.8M462.5 220.5h1.8M468.5 220.5h1.8M470 220.5h1.8M475 220.5h1.8M486 220.5h1.8M488 220.5h1.8M495 220.5h1.8M396 221h1.8M413.5 221h1.8M414 221h1.8M420 221h1.8M424 221h1.8M424.5 221h1.8M426 221h1.8M427.5 221h1.8M428 221h1.8M436.5 221h1.8M438.5 221h1.8M439.5 221h1.8M448 221h1.8M450.5 221h1.8M451 221h1.8M454 221h1.8M454.5 221h1.8M463.5 221h1.8M469.5 221h1.8M482.5 221h1.8M483 221h1.8M486.5 221h1.8M492 221h1.8M412.5 221.5h1.8M419.5 221.5h1.8M423 221.5h1.8M432 221.5h1.8M435.5 221.5h1.8M436 221.5h1.8M442.5 221.5h1.8M443 221.5h1.8M450 221.5h1.8M458.5 221.5h1.8M459.5 221.5h1.8M465.5 221.5h1.8M468.5 221.5h1.8M472.5 221.5h1.8M481 221.5h1.8M489.5 221.5h1.8M490 221.5h1.8M499.5 221.5h1.8M500 221.5h1.8M402.5 222h1.8M405 222h1.8M406 222h1.8M411.5 222h1.8M417 222h1.8M419 222h1.8M421.5 222h1.8M422 222h1.8M424.5 222h1.8M426 222h1.8M428.5 222h1.8M434 222h1.8M445.5 222h1.8M446.5 222h1.8M450 222h1.8M455.5 222h1.8M457 222h1.8M459.5 222h1.8M462 222h1.8M464 222h1.8M470 222h1.8M473 222h1.8M478.5 222h1.8M497.5 222h1.8M513 222h1.8M416.5 222.5h1.8M418.5 222.5h1.8M424 222.5h1.8M440.5 222.5h1.8M446.5 222.5h1.8M478.5 222.5h1.8M481 222.5h1.8M489.5 222.5h1.8M495 222.5h1.8M508 222.5h1.8M517 222.5h1.8M411 223h1.8M420.5 223h1.8M442.5 223h1.8M462.5 223h1.8M478 223h1.8M486.5 223h1.8M499 223h1.8M511 223h1.8M511.5 223h1.8M397 223.5h1.8M414.5 223.5h1.8M418.5 223.5h1.8M421 223.5h1.8M421.5 223.5h1.8M424.5 223.5h1.8M428.5 223.5h1.8M432.5 223.5h1.8M440 223.5h1.8M442.5 223.5h1.8M456 223.5h1.8M457 223.5h1.8M461 223.5h1.8M475.5 223.5h1.8M479 223.5h1.8M487.5 223.5h1.8M506 223.5h1.8M399.5 224h1.8M411.5 224h1.8M417.5 224h1.8M420.5 224h1.8M421.5 224h1.8M426.5 224h1.8M427.5 224h1.8M456 224h1.8M459 224h1.8M479 224h1.8M482 224h1.8M485 224h1.8M489 224h1.8M492.5 224h1.8M494 224h1.8M409.5 224.5h1.8M415 224.5h1.8M417.5 224.5h1.8M418.5 224.5h1.8M430.5 224.5h1.8M435 224.5h1.8M435.5 224.5h1.8M439.5 224.5h1.8M440.5 224.5h1.8M443 224.5h1.8M454 224.5h1.8M455.5 224.5h1.8M462 224.5h1.8M466.5 224.5h1.8M467.5 224.5h1.8M475 224.5h1.8M487 224.5h1.8M495.5 224.5h1.8M496 224.5h1.8M500 224.5h1.8M515.5 224.5h1.8M516.5 224.5h1.8M410.5 225h1.8M423 225h1.8M425 225h1.8M439.5 225h1.8M448.5 225h1.8M457 225h1.8M472.5 225h1.8M492 225h1.8M503.5 225h1.8M505.5 225h1.8M396 225.5h1.8M404 225.5h1.8M404.5 225.5h1.8M418.5 225.5h1.8M419.5 225.5h1.8M428 225.5h1.8M433 225.5h1.8M436.5 225.5h1.8M460 225.5h1.8M473 225.5h1.8M483 225.5h1.8M509 225.5h1.8M514.5 225.5h1.8M397 226h1.8M401 226h1.8M414 226h1.8M422.5 226h1.8M423.5 226h1.8M424 226h1.8M472.5 226h1.8M477 226h1.8M482 226h1.8M486.5 226h1.8M488.5 226h1.8M494 226h1.8M514 226h1.8M406.5 226.5h1.8M418 226.5h1.8M422.5 226.5h1.8M426.5 226.5h1.8M432.5 226.5h1.8M438 226.5h1.8M439 226.5h1.8M441 226.5h1.8M470.5 226.5h1.8M491 226.5h1.8M397.5 227h1.8M408 227h1.8M419 227h1.8M422.5 227h1.8M433 227h1.8M435.5 227h1.8M442 227h1.8M446.5 227h1.8M451.5 227h1.8M457 227h1.8M462 227h1.8M463.5 227h1.8M466.5 227h1.8M478 227h1.8M502.5 227h1.8M513.5 227h1.8M528 227h1.8M400.5 227.5h1.8M408.5 227.5h1.8M417.5 227.5h1.8M418.5 227.5h1.8M427.5 227.5h1.8M442 227.5h1.8M442.5 227.5h1.8M461 227.5h1.8M464.5 227.5h1.8M521.5 227.5h1.8M396 228h1.8M425 228h1.8M442.5 228h1.8M443.5 228h1.8M446 228h1.8M453.5 228h1.8M466 228h1.8M478 228h1.8M488.5 228h1.8M489.5 228h1.8M494 228h1.8M498 228h1.8M505 228h1.8M436.5 228.5h1.8M437.5 228.5h1.8M456.5 228.5h1.8M468 228.5h1.8M473 228.5h1.8M478.5 228.5h1.8M479 228.5h1.8M413.5 229h1.8M460 229h1.8M462 229h1.8M473.5 229h1.8M478 229h1.8M498.5 229h1.8M509 229h1.8M434.5 229.5h1.8M437 229.5h1.8M447 229.5h1.8M461 229.5h1.8M408 230h1.8M408.5 230h1.8M412.5 230h1.8M419.5 230h1.8M429 230h1.8M430 230h1.8M463.5 230h1.8M476.5 230h1.8M500.5 230h1.8M400 230.5h1.8M404 230.5h1.8M418.5 230.5h1.8M433 230.5h1.8M465 230.5h1.8M526.5 230.5h1.8M418.5 231h1.8M438 231h1.8M448.5 231h1.8M466.5 231h1.8M479.5 231h1.8M482.5 231h1.8M499 231h1.8M512 231h1.8M400 231.5h1.8M435 231.5h1.8M455 231.5h1.8M503.5 231.5h1.8M512 231.5h1.8M400.5 232h1.8M402.5 232h1.8M410.5 232h1.8M412 232h1.8M414.5 232h1.8M432 232h1.8M439.5 232h1.8M451 232h1.8M461 232h1.8M464 232h1.8M473 232h1.8M512.5 232h1.8M408.5 232.5h1.8M420 232.5h1.8M422 232.5h1.8M434 232.5h1.8M436 232.5h1.8M437.5 232.5h1.8M438.5 232.5h1.8M444.5 232.5h1.8M445.5 232.5h1.8M485 232.5h1.8M489 232.5h1.8M494 232.5h1.8M502.5 232.5h1.8M508.5 232.5h1.8M520 232.5h1.8M441 233h1.8M476 233h1.8M478.5 233h1.8M434.5 233.5h1.8M458.5 233.5h1.8M468 233.5h1.8M502 233.5h1.8M429 234h1.8M439.5 234h1.8M440 234h1.8M441 234h1.8M446.5 234h1.8M451 234h1.8M528.5 234h1.8M400 234.5h1.8M407.5 234.5h1.8M431 234.5h1.8M432.5 234.5h1.8M443 234.5h1.8M444 234.5h1.8M446.5 234.5h1.8M466 234.5h1.8M472.5 234.5h1.8M404 235h1.8M430.5 235h1.8M532.5 235h1.8M402.5 235.5h1.8M408.5 235.5h1.8M452.5 235.5h1.8M457.5 235.5h1.8M474.5 235.5h1.8M475 235.5h1.8M483.5 235.5h1.8M402 236h1.8M421.5 236h1.8M425.5 236h1.8M470.5 236h1.8M489 236h1.8M407.5 236.5h1.8M427 236.5h1.8M402 237h1.8M435.5 237h1.8M440.5 237h1.8M448 237h1.8M453.5 237h1.8M463 237h1.8M496 237h1.8M403.5 237.5h1.8M494 237.5h1.8M500 237.5h1.8M431 238h1.8M477.5 238h1.8M478 238h1.8M484 238h1.8M404.5 238.5h1.8M429 238.5h1.8M442.5 238.5h1.8M462 238.5h1.8M481 238.5h1.8M403.5 239h1.8M433 239h1.8M411 239.5h1.8M417.5 239.5h1.8M420 239.5h1.8M444.5 239.5h1.8M484.5 239.5h1.8M406 240h1.8M415 240h1.8M434.5 240h1.8M442.5 240h1.8M465 240.5h1.8M466.5 240.5h1.8M450.5 241h1.8M467 241h1.8M485.5 241h1.8M401 241.5h1.8M413.5 241.5h1.8M415.5 241.5h1.8M420.5 241.5h1.8M400.5 242h1.8M407.5 242h1.8M422.5 242h1.8M424.5 242h1.8M447 242h1.8M477 242h1.8M485 242h1.8M496 242h1.8M400.5 242.5h1.8M409 242.5h1.8M411 242.5h1.8M468 242.5h1.8M490 242.5h1.8M420.5 243h1.8M424.5 243h1.8M465 243h1.8M484.5 243h1.8" stroke="#00f800" stroke-width="1.8" fill="none"/><path d="M396.1 242.6H511.5" stroke="#00f800" stroke-width="1.6" fill="none"/><path d="M511.5 242.6H556.5" stroke="#00f800" stroke-width="1.6" stroke-dasharray="3 2 1 4 2 3" fill="none"/><path d="M395.1 66.0V244.0" stroke="#a0a0a0" stroke-width="2" fill="none"/><path d="M394.40000000000003 66.0H585.7V244.0H394.40000000000003" stroke="#111" stroke-width="1.5" fill="none"/><path d="M395.1 157.9H585.7M511.5 66.0V244.0" stroke="#111" stroke-width="1.6" fill="none"/><path d="M396.5 244.0v5.5M395.1 244.0h-5.5M410.6 244.0v3M395.1 230.6h-3M418.9 244.0v3M395.1 222.8h-3M424.7 244.0v3M395.1 217.2h-3M429.3 244.0v3M395.1 212.9h-3M433.0 244.0v3M395.1 209.4h-3M436.1 244.0v3M395.1 206.4h-3M438.9 244.0v3M395.1 203.8h-3M441.3 244.0v3M395.1 201.5h-3M443.4 244.0v5.5M395.1 199.5h-5.5M457.5 244.0v3M395.1 186.1h-3M465.8 244.0v3M395.1 178.3h-3M471.6 244.0v3M395.1 172.7h-3M476.2 244.0v3M395.1 168.4h-3M479.9 244.0v3M395.1 164.9h-3M483.0 244.0v3M395.1 161.9h-3M485.8 244.0v3M395.1 159.3h-3M488.2 244.0v3M395.1 157.0h-3M490.3 244.0v5.5M395.1 155.0h-5.5M504.4 244.0v3M395.1 141.6h-3M512.7 244.0v3M395.1 133.8h-3M518.5 244.0v3M395.1 128.2h-3M523.1 244.0v3M395.1 123.9h-3M526.8 244.0v3M395.1 120.4h-3M529.9 244.0v3M395.1 117.4h-3M532.7 244.0v3M395.1 114.8h-3M535.1 244.0v3M395.1 112.5h-3M537.2 244.0v5.5M395.1 110.5h-5.5M551.3 244.0v3M395.1 97.1h-3M559.6 244.0v3M395.1 89.3h-3M565.4 244.0v3M395.1 83.7h-3M570.0 244.0v3M395.1 79.4h-3M573.7 244.0v3M395.1 75.9h-3M576.8 244.0v3M395.1 72.9h-3M579.6 244.0v3M395.1 70.3h-3M582.0 244.0v3M395.1 68.0h-3M584.1 244.0v5.5M395.1 66.0h-5.5" stroke="#111" stroke-width="1.3" fill="none"/><text x="395.0" y="263.8" font-size="12" text-anchor="middle" style="stroke-width:0.12px" font-family='"Liberation Sans", sans-serif'>10<tspan dy="-5.7">0</tspan></text><text transform="translate(386.1,244.5) rotate(-90)" font-size="12" text-anchor="middle" style="stroke-width:0.12px" font-family='"Liberation Sans", sans-serif'>10<tspan dy="-5.2">0</tspan></text><text x="441.9" y="263.8" font-size="12" text-anchor="middle" style="stroke-width:0.12px" font-family='"Liberation Sans", sans-serif'>10<tspan dy="-5.7">1</tspan></text><text transform="translate(386.1,200.0) rotate(-90)" font-size="12" text-anchor="middle" style="stroke-width:0.12px" font-family='"Liberation Sans", sans-serif'>10<tspan dy="-5.2">1</tspan></text><text x="488.8" y="263.8" font-size="12" text-anchor="middle" style="stroke-width:0.12px" font-family='"Liberation Sans", sans-serif'>10<tspan dy="-5.7">2</tspan></text><text transform="translate(386.1,155.5) rotate(-90)" font-size="12" text-anchor="middle" style="stroke-width:0.12px" font-family='"Liberation Sans", sans-serif'>10<tspan dy="-5.2">2</tspan></text><text x="535.7" y="263.8" font-size="12" text-anchor="middle" style="stroke-width:0.12px" font-family='"Liberation Sans", sans-serif'>10<tspan dy="-5.7">3</tspan></text><text transform="translate(386.1,111.0) rotate(-90)" font-size="12" text-anchor="middle" style="stroke-width:0.12px" font-family='"Liberation Sans", sans-serif'>10<tspan dy="-5.2">3</tspan></text><text x="582.6" y="263.8" font-size="12" text-anchor="middle" style="stroke-width:0.12px" font-family='"Liberation Sans", sans-serif'>10<tspan dy="-5.7">4</tspan></text><text transform="translate(386.1,66.5) rotate(-90)" font-size="12" text-anchor="middle" style="stroke-width:0.12px" font-family='"Liberation Sans", sans-serif'>10<tspan dy="-5.2">4</tspan></text><text x="488.4" y="275.5" font-size="11.6" text-anchor="middle" style="stroke-width:0.15px" font-family='"Liberation Sans", sans-serif'>FL1-H</text><text transform="translate(369.4,156.4) rotate(-90)" font-size="11.6" text-anchor="middle" style="stroke-width:0.15px" font-family='"Liberation Sans", sans-serif'>FL3-H</text><text x="504.8" y="58.3" font-size="19" text-anchor="middle" font-family='"Liberation Sans", sans-serif'>GNPs</text><text x="582.2" y="78.7" font-size="12" text-anchor="end" fill="#1a1a1a" style="stroke:none" font-family='"Liberation Sans", sans-serif'>5.41±0.4%</text><text x="582.8" y="241.5" font-size="12" text-anchor="end" fill="#1a1a1a" style="stroke:none" font-family='"Liberation Sans", sans-serif'>4.07±1.1%</text><path d="M241.5 340h1.8M298 340.5h1.8M282 341.5h1.8M268.5 342.5h1.8M303.5 343h1.8M278 346h1.8M271 346.5h1.8M283 347.5h1.8M285 348.5h1.8M283 351.5h1.8M282.5 353h1.8M278.5 353.5h1.8M275 356h1.8M295 356h1.8M219.5 356.5h1.8M277 356.5h1.8M293.5 356.5h1.8M222.5 357h1.8M288 357h1.8M266 357.5h1.8M269.5 357.5h1.8M283 357.5h1.8M285.5 357.5h1.8M285.5 358h1.8M247 358.5h1.8M289 358.5h1.8M289.5 358.5h1.8M276 359h1.8M261.5 359.5h1.8M278.5 359.5h1.8M287 359.5h1.8M250.5 360.5h1.8M265.5 360.5h1.8M274 360.5h1.8M281.5 360.5h1.8M275.5 361h1.8M281.5 361h1.8M287 361h1.8M279.5 361.5h1.8M265 362h1.8M267 362h1.8M277 362h1.8M281 362.5h1.8M286 362.5h1.8M294.5 362.5h1.8M269 363h1.8M275 363h1.8M278 363h1.8M273 363.5h1.8M274 363.5h1.8M277 363.5h1.8M265 364h1.8M284.5 364h1.8M278.5 364.5h1.8M284.5 364.5h1.8M272 365h1.8M294 365h1.8M261.5 365.5h1.8M284 365.5h1.8M248.5 366h1.8M284.5 366h1.8M285 366h1.8M293.5 366h1.8M263.5 366.5h1.8M274.5 366.5h1.8M290.5 366.5h1.8M293.5 366.5h1.8M261 367h1.8M274.5 367h1.8M282 367h1.8M249.5 367.5h1.8M264 367.5h1.8M271 367.5h1.8M278.5 367.5h1.8M284 367.5h1.8M291 367.5h1.8M266 368h1.8M278 368h1.8M288 368h1.8M265 368.5h1.8M269.5 368.5h1.8M273.5 368.5h1.8M289 368.5h1.8M296 368.5h1.8M266 369h1.8M267 369h1.8M271 369h1.8M274 369h1.8M288 369h1.8M295 369h1.8M239 369.5h1.8M267 369.5h1.8M282.5 369.5h1.8M289 369.5h1.8M264.5 370h1.8M272.5 370h1.8M276 370h1.8M283 370h1.8M278 370.5h1.8M282 370.5h1.8M285.5 370.5h1.8M286 370.5h1.8M287 370.5h1.8M257.5 371h1.8M294 371h1.8M264.5 371.5h1.8M265 371.5h1.8M270.5 371.5h1.8M284.5 371.5h1.8M271.5 372h1.8M278 372h1.8M280.5 372h1.8M287 372h1.8M281 372.5h1.8M282 372.5h1.8M295 372.5h1.8M248 373h1.8M279.5 373h1.8M289.5 373h1.8M300 373h1.8M237.5 373.5h1.8M277.5 373.5h1.8M279.5 373.5h1.8M281.5 374h1.8M241.5 374.5h1.8M251 374.5h1.8M266.5 374.5h1.8M272 374.5h1.8M274.5 374.5h1.8M273.5 375h1.8M228 375.5h1.8M268.5 375.5h1.8M279.5 375.5h1.8M287.5 375.5h1.8M222 376h1.8M267 376h1.8M274 376h1.8M277.5 376h1.8M278 376h1.8M290 376h1.8M296 376h1.8M269 376.5h1.8M272.5 376.5h1.8M273.5 376.5h1.8M294.5 376.5h1.8M287.5 377h1.8M299.5 377h1.8M317 377h1.8M268.5 377.5h1.8M270 377.5h1.8M273 377.5h1.8M291 378h1.8M306.5 378h1.8M284.5 378.5h1.8M287 378.5h1.8M265.5 379h1.8M271 379.5h1.8M274 379.5h1.8M276 379.5h1.8M278.5 379.5h1.8M279 379.5h1.8M281 379.5h1.8M298 379.5h1.8M257.5 380h1.8M275 380h1.8M233.5 381h1.8M258 381h1.8M276 381h1.8M279.5 381h1.8M286.5 381h1.8M248 381.5h1.8M276 381.5h1.8M248 382h1.8M282 382h1.8M266 382.5h1.8M270.5 382.5h1.8M272.5 383h1.8M278 383h1.8M281 383h1.8M285.5 383h1.8M264.5 383.5h1.8M306 383.5h1.8M212.5 384h1.8M292.5 384h1.8M297.5 384h1.8M309 384h1.8M221.5 384.5h1.8M237.5 384.5h1.8M270.5 384.5h1.8M271.5 384.5h1.8M272 384.5h1.8M312 384.5h1.8M319.5 384.5h1.8M230 385h1.8M276.5 385h1.8M286 385h1.8M202 385.5h1.8M272.5 385.5h1.8M200.5 386h1.8M260.5 386h1.8M269 386h1.8M278 386h1.8M271 386.5h1.8M286.5 386.5h1.8M299.5 386.5h1.8M208 387h1.8M280 387h1.8M284 387.5h1.8M282 388h1.8M261.5 388.5h1.8M271.5 388.5h1.8M267 389h1.8M269 389.5h1.8M286.5 389.5h1.8M294.5 389.5h1.8M254 390h1.8M255.5 390h1.8M275.5 390h1.8M282.5 390h1.8M304.5 390h1.8M254.5 390.5h1.8M290 390.5h1.8M267 391h1.8M270.5 391h1.8M302.5 391h1.8M242 391.5h1.8M247.5 391.5h1.8M252 391.5h1.8M265 391.5h1.8M282 391.5h1.8M210.5 392h1.8M219.5 392h1.8M305 392h1.8M260.5 392.5h1.8M204.5 393h1.8M230.5 393h1.8M260 393h1.8M267 393.5h1.8M278 393.5h1.8M241.5 394h1.8M278.5 394h1.8M291 394h1.8M272 394.5h1.8M284 394.5h1.8M285.5 394.5h1.8M301.5 394.5h1.8M263 395h1.8M274.5 395h1.8M297.5 395h1.8M222.5 395.5h1.8M264 395.5h1.8M283.5 395.5h1.8M293 396h1.8M222.5 396.5h1.8M236 396.5h1.8M275.5 396.5h1.8M296.5 396.5h1.8M227.5 397h1.8M254 397h1.8M226 397.5h1.8M227 397.5h1.8M235 398h1.8M257 398h1.8M266 398h1.8M272 398h1.8M281.5 398h1.8M254.5 398.5h1.8M259.5 398.5h1.8M300.5 398.5h1.8M305.5 398.5h1.8M266.5 399h1.8M277.5 399h1.8M253.5 399.5h1.8M269 399.5h1.8M279 399.5h1.8M289.5 399.5h1.8M301 399.5h1.8M219 401h1.8M265.5 401h1.8M274 401h1.8M267 401.5h1.8M269 401.5h1.8M280 401.5h1.8M292 401.5h1.8M251.5 402h1.8M283.5 402h1.8M238.5 402.5h1.8M261 402.5h1.8M284 402.5h1.8M294.5 402.5h1.8M301.5 402.5h1.8M195.5 403h1.8M201 403h1.8M256 403h1.8M260 403h1.8M274.5 403h1.8M268 403.5h1.8M289.5 403.5h1.8M261.5 404h1.8M266.5 404h1.8M269.5 404h1.8M272.5 404h1.8M275 404h1.8M280 404h1.8M275.5 404.5h1.8M289 404.5h1.8M264.5 405.5h1.8M210.5 406h1.8M212.5 406h1.8M244 406.5h1.8M267 406.5h1.8M232.5 407h1.8M262.5 407h1.8M218.5 407.5h1.8M244 407.5h1.8M268.5 407.5h1.8M261.5 408h1.8M197.5 408.5h1.8M210.5 408.5h1.8M244.5 408.5h1.8M216 409.5h1.8M190 410h1.8M227.5 410h1.8M257.5 410h1.8M261 410h1.8M277 410h1.8M303.5 410h1.8M192.5 410.5h1.8M245.5 410.5h1.8M261 410.5h1.8M203.5 411h1.8M208 411h1.8M209 411h1.8M245.5 411h1.8M250.5 411.5h1.8M263.5 411.5h1.8M301.5 411.5h1.8M206.5 412h1.8M232.5 412h1.8M245 412h1.8M257 412h1.8M277 412h1.8M228.5 412.5h1.8M275 412.5h1.8M302.5 412.5h1.8M202 413h1.8M225 413h1.8M277 413h1.8M288.5 413h1.8M291 413h1.8M265 414h1.8M228.5 414.5h1.8M251.5 414.5h1.8M220.5 415h1.8M229 415h1.8M233.5 415h1.8M250 415h1.8M265.5 415h1.8M218.5 415.5h1.8M238 415.5h1.8M240.5 415.5h1.8M273 415.5h1.8M283.5 415.5h1.8M201 416h1.8M240 416h1.8M263.5 416h1.8M188 416.5h1.8M240.5 416.5h1.8M276.5 416.5h1.8M188.5 417h1.8M205 417h1.8M236 417h1.8M286 417h1.8M317 417h1.8M190.5 417.5h1.8M210 417.5h1.8M251.5 417.5h1.8M262 417.5h1.8M268.5 417.5h1.8M282 417.5h1.8M222.5 418h1.8M245 418h1.8M176 418.5h1.8M197.5 418.5h1.8M208 418.5h1.8M272.5 418.5h1.8M287 418.5h1.8M233 419.5h1.8M250.5 419.5h1.8M167 420h1.8M214.5 420h1.8M215 420h1.8M229 420h1.8M256.5 420h1.8M276 420h1.8M172.5 420.5h1.8M189 420.5h1.8M213.5 420.5h1.8M220.5 420.5h1.8M226 420.5h1.8M226.5 420.5h1.8M275.5 420.5h1.8M225 421h1.8M262.5 421.5h1.8M204 422h1.8M242.5 422.5h1.8M252.5 422.5h1.8M253.5 422.5h1.8M204.5 423h1.8M216 423h1.8M232.5 423h1.8M241.5 423h1.8M242 423h1.8M243.5 423h1.8M246.5 423h1.8M179.5 423.5h1.8M212.5 423.5h1.8M216.5 424h1.8M218 424h1.8M221 424h1.8M222 424h1.8M243.5 424h1.8M246 424h1.8M254 424h1.8M258 424h1.8M267.5 424h1.8M224 424.5h1.8M228 424.5h1.8M236 424.5h1.8M239.5 424.5h1.8M270 424.5h1.8M278 424.5h1.8M290.5 424.5h1.8M192.5 425h1.8M198.5 425h1.8M223.5 425h1.8M227.5 425h1.8M230 425h1.8M242 425h1.8M212 425.5h1.8M220 425.5h1.8M223.5 425.5h1.8M248 425.5h1.8M249.5 425.5h1.8M251.5 425.5h1.8M261.5 425.5h1.8M262.5 425.5h1.8M192 426h1.8M209 426h1.8M269 426h1.8M279 426h1.8M191.5 426.5h1.8M213.5 426.5h1.8M230 426.5h1.8M238 426.5h1.8M235 427h1.8M247.5 427h1.8M251 427h1.8M272 427h1.8M307.5 427h1.8M203 427.5h1.8M206.5 427.5h1.8M211.5 427.5h1.8M224 427.5h1.8M224.5 427.5h1.8M274.5 427.5h1.8M175.5 428h1.8M205.5 428h1.8M215.5 428h1.8M240 428h1.8M254.5 428h1.8M265.5 428h1.8M268.5 428h1.8M209 428.5h1.8M212 428.5h1.8M232 428.5h1.8M239 428.5h1.8M239.5 428.5h1.8M215.5 429h1.8M221 429h1.8M263 429h1.8M219.5 429.5h1.8M227 429.5h1.8M227.5 429.5h1.8M251 429.5h1.8M184.5 430h1.8M213 430h1.8M240 430h1.8M257 430h1.8M269.5 430h1.8M289.5 430h1.8M194 430.5h1.8M201.5 430.5h1.8M227.5 430.5h1.8M236 430.5h1.8M155 431h1.8M187.5 431h1.8M218 431h1.8M219.5 431h1.8M243.5 431h1.8M247 431h1.8M242 431.5h1.8M245.5 431.5h1.8M161 432h1.8M235.5 432h1.8M260.5 432h1.8M272 432h1.8M222 432.5h1.8M235.5 432.5h1.8M244 432.5h1.8M166.5 433h1.8M195 433h1.8M198 433h1.8M200 433h1.8M214 433h1.8M215 433h1.8M216 433h1.8M225 433h1.8M244.5 433h1.8M246.5 433h1.8M250.5 433h1.8M254.5 433h1.8M159 433.5h1.8M214.5 433.5h1.8M219 433.5h1.8M226 433.5h1.8M235 433.5h1.8M241.5 433.5h1.8M199 434h1.8M216 434h1.8M232 434h1.8M243 434h1.8M247.5 434h1.8M254.5 434h1.8M256 434h1.8M207.5 434.5h1.8M224 434.5h1.8M235 434.5h1.8M247.5 434.5h1.8M257.5 434.5h1.8M266 434.5h1.8M213 435h1.8M213.5 435h1.8M216.5 435h1.8M224.5 435h1.8M240 435h1.8M256 435h1.8M156 435.5h1.8M198.5 435.5h1.8M199 435.5h1.8M205.5 435.5h1.8M208.5 435.5h1.8M218.5 435.5h1.8M259 435.5h1.8M286.5 435.5h1.8M150.5 436h1.8M189.5 436h1.8M210 436h1.8M212 436h1.8M223 436h1.8M228.5 436h1.8M261 436h1.8M264.5 436h1.8M272.5 436h1.8M283.5 436h1.8M201.5 436.5h1.8M206.5 436.5h1.8M217.5 436.5h1.8M262.5 436.5h1.8M272 436.5h1.8M178.5 437h1.8M191.5 437h1.8M203 437h1.8M222.5 437h1.8M157.5 437.5h1.8M167 437.5h1.8M205.5 437.5h1.8M206 437.5h1.8M207 437.5h1.8M214 437.5h1.8M222.5 437.5h1.8M224.5 437.5h1.8M231.5 437.5h1.8M241.5 437.5h1.8M244 437.5h1.8M290 437.5h1.8M201.5 438h1.8M202 438h1.8M208 438h1.8M222.5 438h1.8M235.5 438h1.8M240 438h1.8M275 438h1.8M294.5 438h1.8M201 438.5h1.8M202.5 438.5h1.8M209.5 438.5h1.8M210.5 438.5h1.8M212.5 438.5h1.8M217.5 438.5h1.8M225 438.5h1.8M225.5 438.5h1.8M226 438.5h1.8M239.5 438.5h1.8M206 439h1.8M215 439h1.8M222.5 439h1.8M224.5 439h1.8M232.5 439h1.8M238 439h1.8M241 439h1.8M251 439h1.8M267 439h1.8M173 439.5h1.8M188.5 439.5h1.8M199 439.5h1.8M203.5 439.5h1.8M207.5 439.5h1.8M211 439.5h1.8M219.5 439.5h1.8M232 439.5h1.8M245.5 439.5h1.8M246.5 439.5h1.8M276.5 439.5h1.8M283 439.5h1.8M204.5 440h1.8M210.5 440h1.8M214.5 440h1.8M227 440h1.8M237 440h1.8M244.5 440h1.8M261.5 440h1.8M262.5 440h1.8M148.5 440.5h1.8M175.5 440.5h1.8M186.5 440.5h1.8M197.5 440.5h1.8M203.5 440.5h1.8M206 440.5h1.8M215 440.5h1.8M235.5 440.5h1.8M236.5 440.5h1.8M239 440.5h1.8M256 440.5h1.8M155.5 441h1.8M161 441h1.8M178.5 441h1.8M236.5 441h1.8M237 441h1.8M241.5 441h1.8M259 441h1.8M273 441h1.8M187.5 441.5h1.8M188.5 441.5h1.8M196.5 441.5h1.8M206.5 441.5h1.8M207.5 441.5h1.8M211 441.5h1.8M226 441.5h1.8M236.5 441.5h1.8M244 441.5h1.8M254 441.5h1.8M256 441.5h1.8M179.5 442h1.8M183 442h1.8M184.5 442h1.8M189.5 442h1.8M193 442h1.8M203.5 442h1.8M218.5 442h1.8M224 442h1.8M227 442h1.8M243 442h1.8M251.5 442h1.8M148.5 442.5h1.8M166.5 442.5h1.8M167 442.5h1.8M200.5 442.5h1.8M212 442.5h1.8M214 442.5h1.8M220.5 442.5h1.8M223.5 442.5h1.8M224.5 442.5h1.8M225 442.5h1.8M230 442.5h1.8M230.5 442.5h1.8M235.5 442.5h1.8M244.5 442.5h1.8M251.5 442.5h1.8M274.5 442.5h1.8M278 442.5h1.8M155 443h1.8M179 443h1.8M193 443h1.8M218 443h1.8M225.5 443h1.8M233 443h1.8M236 443h1.8M242 443h1.8M267 443h1.8M270 443h1.8M163 443.5h1.8M177.5 443.5h1.8M191 443.5h1.8M195 443.5h1.8M208.5 443.5h1.8M209 443.5h1.8M211.5 443.5h1.8M212 443.5h1.8M227.5 443.5h1.8M235.5 443.5h1.8M281 443.5h1.8M132 444h1.8M173.5 444h1.8M191 444h1.8M197.5 444h1.8M220 444h1.8M241.5 444h1.8M243 444h1.8M133 444.5h1.8M186 444.5h1.8M188.5 444.5h1.8M193 444.5h1.8M194 444.5h1.8M209 444.5h1.8M210 444.5h1.8M224 444.5h1.8M229.5 444.5h1.8M234.5 444.5h1.8M257 444.5h1.8M266.5 444.5h1.8M156.5 445h1.8M177.5 445h1.8M188.5 445h1.8M189.5 445h1.8M195 445h1.8M203 445h1.8M204.5 445h1.8M207 445h1.8M209.5 445h1.8M210.5 445h1.8M211 445h1.8M211.5 445h1.8M217 445h1.8M244.5 445h1.8M170.5 445.5h1.8M171.5 445.5h1.8M180.5 445.5h1.8M186.5 445.5h1.8M213 445.5h1.8M221.5 445.5h1.8M222 445.5h1.8M225.5 445.5h1.8M233.5 445.5h1.8M245 445.5h1.8M245.5 445.5h1.8M248.5 445.5h1.8M164 446h1.8M206.5 446h1.8M208 446h1.8M220.5 446h1.8M248.5 446h1.8M171 446.5h1.8M184 446.5h1.8M191 446.5h1.8M193.5 446.5h1.8M208 446.5h1.8M209 446.5h1.8M210.5 446.5h1.8M212 446.5h1.8M213.5 446.5h1.8M216.5 446.5h1.8M221 446.5h1.8M271.5 446.5h1.8M272.5 446.5h1.8M169 447h1.8M207.5 447h1.8M210 447h1.8M217.5 447h1.8M224.5 447h1.8M225 447h1.8M227.5 447h1.8M231 447h1.8M247 447h1.8M270.5 447h1.8M275.5 447h1.8M176.5 447.5h1.8M177 447.5h1.8M183.5 447.5h1.8M200 447.5h1.8M200.5 447.5h1.8M215 447.5h1.8M216.5 447.5h1.8M220 447.5h1.8M225 447.5h1.8M226.5 447.5h1.8M230.5 447.5h1.8M237.5 447.5h1.8M239.5 447.5h1.8M252.5 447.5h1.8M255.5 447.5h1.8M259.5 447.5h1.8M260.5 447.5h1.8M264.5 447.5h1.8M163 448h1.8M172 448h1.8M179.5 448h1.8M185 448h1.8M205 448h1.8M206.5 448h1.8M222.5 448h1.8M223 448h1.8M240.5 448h1.8M243.5 448h1.8M253.5 448h1.8M254.5 448h1.8M154.5 448.5h1.8M181.5 448.5h1.8M186 448.5h1.8M191 448.5h1.8M194.5 448.5h1.8M196 448.5h1.8M196.5 448.5h1.8M203 448.5h1.8M204.5 448.5h1.8M214.5 448.5h1.8M217 448.5h1.8M219 448.5h1.8M235 448.5h1.8M261 448.5h1.8M153.5 449h1.8M194 449h1.8M200 449h1.8M211 449h1.8M213 449h1.8M214.5 449h1.8M268 449h1.8M183.5 449.5h1.8M190.5 449.5h1.8M192 449.5h1.8M196.5 449.5h1.8M204 449.5h1.8M206.5 449.5h1.8M211.5 449.5h1.8M218.5 449.5h1.8M223 449.5h1.8M226 449.5h1.8M227.5 449.5h1.8M234 449.5h1.8M234.5 449.5h1.8M241 449.5h1.8M131.5 450h1.8M166.5 450h1.8M167 450h1.8M171.5 450h1.8M180.5 450h1.8M211 450h1.8M217.5 450h1.8M225 450h1.8M247.5 450h1.8M271 450h1.8M177.5 450.5h1.8M193 450.5h1.8M197.5 450.5h1.8M198.5 450.5h1.8M205 450.5h1.8M215 450.5h1.8M216.5 450.5h1.8M220.5 450.5h1.8M240 450.5h1.8M248.5 450.5h1.8M260.5 450.5h1.8M270 450.5h1.8M278 450.5h1.8M176 451h1.8M178.5 451h1.8M190.5 451h1.8M199 451h1.8M204 451h1.8M206 451h1.8M208.5 451h1.8M210 451h1.8M213.5 451h1.8M223.5 451h1.8M224 451h1.8M225.5 451h1.8M229 451h1.8M259 451h1.8M132 451.5h1.8M151 451.5h1.8M154 451.5h1.8M156.5 451.5h1.8M170.5 451.5h1.8M176 451.5h1.8M177 451.5h1.8M180.5 451.5h1.8M184 451.5h1.8M190 451.5h1.8M193.5 451.5h1.8M197.5 451.5h1.8M209 451.5h1.8M217.5 451.5h1.8M218 451.5h1.8M219.5 451.5h1.8M224.5 451.5h1.8M232 451.5h1.8M247 451.5h1.8M255 451.5h1.8M256.5 451.5h1.8M268.5 451.5h1.8M276 451.5h1.8M177 452h1.8M181 452h1.8M182 452h1.8M187 452h1.8M192 452h1.8M202.5 452h1.8M211.5 452h1.8M231.5 452h1.8M241 452h1.8M243.5 452h1.8M263 452h1.8M271 452h1.8M275 452h1.8M159.5 452.5h1.8M168.5 452.5h1.8M181 452.5h1.8M187 452.5h1.8M188.5 452.5h1.8M189.5 452.5h1.8M192.5 452.5h1.8M194 452.5h1.8M203 452.5h1.8M213 452.5h1.8M215 452.5h1.8M215.5 452.5h1.8M227.5 452.5h1.8M234 452.5h1.8M237 452.5h1.8M238.5 452.5h1.8M256 452.5h1.8M265 452.5h1.8M267 452.5h1.8M271 452.5h1.8M296 452.5h1.8M154 453h1.8M157 453h1.8M172.5 453h1.8M174 453h1.8M181.5 453h1.8M184.5 453h1.8M188 453h1.8M190.5 453h1.8M199 453h1.8M207 453h1.8M208 453h1.8M210.5 453h1.8M221.5 453h1.8M223.5 453h1.8M228 453h1.8M233 453h1.8M234 453h1.8M248 453h1.8M253 453h1.8M258 453h1.8M155.5 453.5h1.8M158.5 453.5h1.8M162 453.5h1.8M179 453.5h1.8M181 453.5h1.8M181.5 453.5h1.8M183 453.5h1.8M184 453.5h1.8M184.5 453.5h1.8M186 453.5h1.8M186.5 453.5h1.8M188 453.5h1.8M189.5 453.5h1.8M193.5 453.5h1.8M194.5 453.5h1.8M195 453.5h1.8M212.5 453.5h1.8M215 453.5h1.8M216 453.5h1.8M216.5 453.5h1.8M218 453.5h1.8M223.5 453.5h1.8M225.5 453.5h1.8M239 453.5h1.8M241 453.5h1.8M245.5 453.5h1.8M250.5 453.5h1.8M255 453.5h1.8M281.5 453.5h1.8M283 453.5h1.8M166 454h1.8M172 454h1.8M174 454h1.8M179 454h1.8M180 454h1.8M180.5 454h1.8M182.5 454h1.8M183 454h1.8M183.5 454h1.8M184 454h1.8M184.5 454h1.8M189 454h1.8M190.5 454h1.8M193 454h1.8M194.5 454h1.8M196.5 454h1.8M202.5 454h1.8M213 454h1.8M218.5 454h1.8M229 454h1.8M239 454h1.8M258 454h1.8M264 454h1.8M143.5 454.5h1.8M172 454.5h1.8M177 454.5h1.8M179 454.5h1.8M182 454.5h1.8M185.5 454.5h1.8M187.5 454.5h1.8M188.5 454.5h1.8M189.5 454.5h1.8M190 454.5h1.8M190.5 454.5h1.8M191 454.5h1.8M191.5 454.5h1.8M195 454.5h1.8M199.5 454.5h1.8M204.5 454.5h1.8M207 454.5h1.8M211.5 454.5h1.8M212 454.5h1.8M221.5 454.5h1.8M225 454.5h1.8M232 454.5h1.8M238.5 454.5h1.8M249.5 454.5h1.8M257.5 454.5h1.8M295 454.5h1.8M169.5 455h1.8M170.5 455h1.8M175 455h1.8M176.5 455h1.8M183.5 455h1.8M184 455h1.8M191 455h1.8M194.5 455h1.8M195 455h1.8M196.5 455h1.8M204 455h1.8M212.5 455h1.8M216.5 455h1.8M229.5 455h1.8M232 455h1.8M249.5 455h1.8M262 455h1.8M140 455.5h1.8M173 455.5h1.8M175.5 455.5h1.8M176 455.5h1.8M178.5 455.5h1.8M180 455.5h1.8M181.5 455.5h1.8M182.5 455.5h1.8M185 455.5h1.8M187.5 455.5h1.8M188.5 455.5h1.8M192.5 455.5h1.8M195.5 455.5h1.8M204.5 455.5h1.8M212 455.5h1.8M217 455.5h1.8M218.5 455.5h1.8M223.5 455.5h1.8M241.5 455.5h1.8M248.5 455.5h1.8M249 455.5h1.8M260.5 455.5h1.8M269.5 455.5h1.8M274.5 455.5h1.8M152.5 456h1.8M153.5 456h1.8M163 456h1.8M163.5 456h1.8M169 456h1.8M172.5 456h1.8M174 456h1.8M175 456h1.8M175.5 456h1.8M176 456h1.8M177.5 456h1.8M179 456h1.8M181 456h1.8M183 456h1.8M183.5 456h1.8M185 456h1.8M189 456h1.8M191 456h1.8M192 456h1.8M193 456h1.8M194.5 456h1.8M195 456h1.8M196.5 456h1.8M200 456h1.8M200.5 456h1.8M201 456h1.8M202 456h1.8M205 456h1.8M205.5 456h1.8M215.5 456h1.8M216 456h1.8M217 456h1.8M237 456h1.8M249.5 456h1.8M264.5 456h1.8M273.5 456h1.8M134.5 456.5h1.8M158 456.5h1.8M171.5 456.5h1.8M173 456.5h1.8M175.5 456.5h1.8M176 456.5h1.8M177.5 456.5h1.8M179.5 456.5h1.8M181.5 456.5h1.8M182 456.5h1.8M186.5 456.5h1.8M188 456.5h1.8M189 456.5h1.8M193 456.5h1.8M194 456.5h1.8M194.5 456.5h1.8M195 456.5h1.8M199.5 456.5h1.8M203 456.5h1.8M205.5 456.5h1.8M212 456.5h1.8M214 456.5h1.8M216 456.5h1.8M222.5 456.5h1.8M230 456.5h1.8M236.5 456.5h1.8M272 456.5h1.8M143.5 457h1.8M156.5 457h1.8M167.5 457h1.8M170 457h1.8M170.5 457h1.8M172 457h1.8M175 457h1.8M175.5 457h1.8M177.5 457h1.8M178 457h1.8M182.5 457h1.8M185.5 457h1.8M186 457h1.8M187 457h1.8M188 457h1.8M189.5 457h1.8M192 457h1.8M194.5 457h1.8M195.5 457h1.8M196 457h1.8M200 457h1.8M201 457h1.8M209.5 457h1.8M220 457h1.8M222 457h1.8M224.5 457h1.8M234.5 457h1.8M235 457h1.8M242.5 457h1.8M250 457h1.8M252 457h1.8M253.5 457h1.8M276 457h1.8M128 457.5h1.8M135 457.5h1.8M147 457.5h1.8M151 457.5h1.8M161 457.5h1.8M166.5 457.5h1.8M169.5 457.5h1.8M171 457.5h1.8M176.5 457.5h1.8M177.5 457.5h1.8M178 457.5h1.8M179.5 457.5h1.8M180.5 457.5h1.8M185.5 457.5h1.8M187 457.5h1.8M189 457.5h1.8M190 457.5h1.8M191.5 457.5h1.8M193 457.5h1.8M195 457.5h1.8M196 457.5h1.8M197 457.5h1.8M198 457.5h1.8M198.5 457.5h1.8M202 457.5h1.8M202.5 457.5h1.8M212 457.5h1.8M220.5 457.5h1.8M225 457.5h1.8M233.5 457.5h1.8M239.5 457.5h1.8M240.5 457.5h1.8M259.5 457.5h1.8M168.5 458h1.8M171.5 458h1.8M172.5 458h1.8M173.5 458h1.8M175 458h1.8M178 458h1.8M181 458h1.8M181.5 458h1.8M182 458h1.8M185.5 458h1.8M187 458h1.8M189.5 458h1.8M190 458h1.8M194 458h1.8M194.5 458h1.8M197.5 458h1.8M198.5 458h1.8M199.5 458h1.8M203.5 458h1.8M204.5 458h1.8M210.5 458h1.8M211 458h1.8M211.5 458h1.8M213.5 458h1.8M220 458h1.8M222 458h1.8M222.5 458h1.8M227 458h1.8M232.5 458h1.8M158.5 458.5h1.8M159.5 458.5h1.8M167 458.5h1.8M167.5 458.5h1.8M168 458.5h1.8M169 458.5h1.8M175 458.5h1.8M175.5 458.5h1.8M176.5 458.5h1.8M178.5 458.5h1.8M180 458.5h1.8M181 458.5h1.8M181.5 458.5h1.8M182 458.5h1.8M182.5 458.5h1.8M185.5 458.5h1.8M192.5 458.5h1.8M193 458.5h1.8M194.5 458.5h1.8M195.5 458.5h1.8M197.5 458.5h1.8M201.5 458.5h1.8M202.5 458.5h1.8M204.5 458.5h1.8M206 458.5h1.8M207.5 458.5h1.8M212 458.5h1.8M213 458.5h1.8M216.5 458.5h1.8M220 458.5h1.8M220.5 458.5h1.8M222.5 458.5h1.8M223 458.5h1.8M223.5 458.5h1.8M234 458.5h1.8M236.5 458.5h1.8M258 458.5h1.8M261.5 458.5h1.8M144.5 459h1.8M150.5 459h1.8M160 459h1.8M163 459h1.8M167 459h1.8M168.5 459h1.8M170 459h1.8M170.5 459h1.8M172.5 459h1.8M175 459h1.8M176 459h1.8M176.5 459h1.8M177 459h1.8M178 459h1.8M178.5 459h1.8M182.5 459h1.8M183 459h1.8M183.5 459h1.8M184 459h1.8M187 459h1.8M187.5 459h1.8M188.5 459h1.8M190 459h1.8M193 459h1.8M196 459h1.8M197 459h1.8M198.5 459h1.8M203 459h1.8M204.5 459h1.8M228.5 459h1.8M230 459h1.8M233.5 459h1.8M234.5 459h1.8M257.5 459h1.8M158 459.5h1.8M165 459.5h1.8M166.5 459.5h1.8M167 459.5h1.8M167.5 459.5h1.8M173 459.5h1.8M174.5 459.5h1.8M176 459.5h1.8M177.5 459.5h1.8M181.5 459.5h1.8M183 459.5h1.8M184.5 459.5h1.8M187 459.5h1.8M187.5 459.5h1.8M189.5 459.5h1.8M190 459.5h1.8M192 459.5h1.8M192.5 459.5h1.8M194 459.5h1.8M195.5 459.5h1.8M197.5 459.5h1.8M199 459.5h1.8M200 459.5h1.8M201 459.5h1.8M202.5 459.5h1.8M208.5 459.5h1.8M230.5 459.5h1.8M237.5 459.5h1.8M238.5 459.5h1.8M261.5 459.5h1.8M140.5 460h1.8M146.5 460h1.8M150.5 460h1.8M159 460h1.8M163.5 460h1.8M165.5 460h1.8M167.5 460h1.8M170 460h1.8M174 460h1.8M174.5 460h1.8M176 460h1.8M177 460h1.8M178 460h1.8M180.5 460h1.8M181 460h1.8M184 460h1.8M185 460h1.8M186 460h1.8M187.5 460h1.8M188.5 460h1.8M189 460h1.8M191 460h1.8M191.5 460h1.8M192 460h1.8M193 460h1.8M194 460h1.8M195 460h1.8M198.5 460h1.8M204.5 460h1.8M206.5 460h1.8M219.5 460h1.8M229 460h1.8M241 460h1.8M257 460h1.8M262.5 460h1.8M271.5 460h1.8M132.5 460.5h1.8M134.5 460.5h1.8M142.5 460.5h1.8M156 460.5h1.8M164 460.5h1.8M166.5 460.5h1.8M169.5 460.5h1.8M170 460.5h1.8M170.5 460.5h1.8M171.5 460.5h1.8M172.5 460.5h1.8M177 460.5h1.8M178 460.5h1.8M179 460.5h1.8M179.5 460.5h1.8M181 460.5h1.8M181.5 460.5h1.8M183.5 460.5h1.8M185.5 460.5h1.8M186 460.5h1.8M187 460.5h1.8M188.5 460.5h1.8M190.5 460.5h1.8M191 460.5h1.8M191.5 460.5h1.8M192.5 460.5h1.8M193.5 460.5h1.8M194 460.5h1.8M196.5 460.5h1.8M198 460.5h1.8M202.5 460.5h1.8M203.5 460.5h1.8M206 460.5h1.8M220.5 460.5h1.8M223 460.5h1.8M228 460.5h1.8M246 460.5h1.8M262 460.5h1.8M266.5 460.5h1.8M270 460.5h1.8M150 461h1.8M164.5 461h1.8M168.5 461h1.8M169 461h1.8M171.5 461h1.8M172 461h1.8M173 461h1.8M174 461h1.8M177 461h1.8M177.5 461h1.8M181.5 461h1.8M183.5 461h1.8M185.5 461h1.8M188.5 461h1.8M190.5 461h1.8M193 461h1.8M194.5 461h1.8M195 461h1.8M196 461h1.8M197 461h1.8M204.5 461h1.8M208.5 461h1.8M210.5 461h1.8M215 461h1.8M217 461h1.8M221 461h1.8M224 461h1.8M224.5 461h1.8M227.5 461h1.8M236 461h1.8M249 461h1.8M254 461h1.8M136 461.5h1.8M146 461.5h1.8M157 461.5h1.8M159 461.5h1.8M160.5 461.5h1.8M164.5 461.5h1.8M167 461.5h1.8M169.5 461.5h1.8M170.5 461.5h1.8M172 461.5h1.8M172.5 461.5h1.8M173.5 461.5h1.8M175.5 461.5h1.8M176 461.5h1.8M177 461.5h1.8M177.5 461.5h1.8M179.5 461.5h1.8M181 461.5h1.8M183.5 461.5h1.8M184 461.5h1.8M185 461.5h1.8M186 461.5h1.8M186.5 461.5h1.8M188.5 461.5h1.8M190 461.5h1.8M192.5 461.5h1.8M193 461.5h1.8M194 461.5h1.8M194.5 461.5h1.8M195 461.5h1.8M195.5 461.5h1.8M196 461.5h1.8M196.5 461.5h1.8M198 461.5h1.8M198.5 461.5h1.8M204 461.5h1.8M207 461.5h1.8M208 461.5h1.8M208.5 461.5h1.8M209 461.5h1.8M209.5 461.5h1.8M212.5 461.5h1.8M217.5 461.5h1.8M224 461.5h1.8M225 461.5h1.8M231 461.5h1.8M237 461.5h1.8M238.5 461.5h1.8M242.5 461.5h1.8M275.5 461.5h1.8M129.5 462h1.8M140.5 462h1.8M147.5 462h1.8M151 462h1.8M161 462h1.8M164.5 462h1.8M165 462h1.8M165.5 462h1.8M170.5 462h1.8M171.5 462h1.8M172.5 462h1.8M174.5 462h1.8M176 462h1.8M179 462h1.8M180.5 462h1.8M181.5 462h1.8M183 462h1.8M184 462h1.8M184.5 462h1.8M185 462h1.8M187.5 462h1.8M189 462h1.8M189.5 462h1.8M192 462h1.8M193.5 462h1.8M194 462h1.8M194.5 462h1.8M195.5 462h1.8M196.5 462h1.8M198 462h1.8M199 462h1.8M200.5 462h1.8M202.5 462h1.8M203 462h1.8M203.5 462h1.8M209.5 462h1.8M210.5 462h1.8M211 462h1.8M212 462h1.8M213.5 462h1.8M221 462h1.8M241 462h1.8M261.5 462h1.8M145.5 462.5h1.8M146.5 462.5h1.8M156.5 462.5h1.8M158 462.5h1.8M161 462.5h1.8M162 462.5h1.8M164 462.5h1.8M167 462.5h1.8M167.5 462.5h1.8M169 462.5h1.8M169.5 462.5h1.8M170.5 462.5h1.8M171 462.5h1.8M173.5 462.5h1.8M174.5 462.5h1.8M176 462.5h1.8M177 462.5h1.8M179 462.5h1.8M180 462.5h1.8M180.5 462.5h1.8M181 462.5h1.8M181.5 462.5h1.8M182 462.5h1.8M183 462.5h1.8M184.5 462.5h1.8M185 462.5h1.8M188 462.5h1.8M190.5 462.5h1.8M191.5 462.5h1.8M192.5 462.5h1.8M195 462.5h1.8M197.5 462.5h1.8M198 462.5h1.8M199.5 462.5h1.8M200.5 462.5h1.8M206 462.5h1.8M213.5 462.5h1.8M217 462.5h1.8M221.5 462.5h1.8M227 462.5h1.8M227.5 462.5h1.8M229.5 462.5h1.8M244.5 462.5h1.8M249.5 462.5h1.8M259 462.5h1.8M262 462.5h1.8M276 462.5h1.8M127.5 463h1.8M155.5 463h1.8M160.5 463h1.8M161 463h1.8M163.5 463h1.8M164 463h1.8M165.5 463h1.8M166 463h1.8M167 463h1.8M171 463h1.8M171.5 463h1.8M172 463h1.8M172.5 463h1.8M174 463h1.8M174.5 463h1.8M175 463h1.8M175.5 463h1.8M176 463h1.8M177 463h1.8M177.5 463h1.8M179.5 463h1.8M180 463h1.8M182.5 463h1.8M183.5 463h1.8M184 463h1.8M184.5 463h1.8M185 463h1.8M185.5 463h1.8M186.5 463h1.8M188 463h1.8M191.5 463h1.8M193.5 463h1.8M194 463h1.8M194.5 463h1.8M196.5 463h1.8M197 463h1.8M199 463h1.8M203 463h1.8M204 463h1.8M204.5 463h1.8M208.5 463h1.8M210 463h1.8M220.5 463h1.8M222.5 463h1.8M227.5 463h1.8M239 463h1.8M241.5 463h1.8M253 463h1.8M256 463h1.8M262 463h1.8M273 463h1.8M281 463h1.8M151.5 463.5h1.8M152.5 463.5h1.8M160 463.5h1.8M163.5 463.5h1.8M165.5 463.5h1.8M166.5 463.5h1.8M167.5 463.5h1.8M170 463.5h1.8M172 463.5h1.8M172.5 463.5h1.8M174.5 463.5h1.8M175.5 463.5h1.8M178.5 463.5h1.8M179 463.5h1.8M179.5 463.5h1.8M184.5 463.5h1.8M186 463.5h1.8M187 463.5h1.8M188.5 463.5h1.8M189 463.5h1.8M190 463.5h1.8M193.5 463.5h1.8M195.5 463.5h1.8M196.5 463.5h1.8M197 463.5h1.8M198.5 463.5h1.8M199.5 463.5h1.8M206.5 463.5h1.8M210 463.5h1.8M211.5 463.5h1.8M216 463.5h1.8M219 463.5h1.8M224 463.5h1.8M226 463.5h1.8M226.5 463.5h1.8M232 463.5h1.8M235 463.5h1.8M255.5 463.5h1.8M260.5 463.5h1.8M147.5 464h1.8M153.5 464h1.8M156 464h1.8M157 464h1.8M158.5 464h1.8M159.5 464h1.8M161 464h1.8M161.5 464h1.8M164 464h1.8M165 464h1.8M167 464h1.8M167.5 464h1.8M169.5 464h1.8M170 464h1.8M171 464h1.8M174 464h1.8M177 464h1.8M177.5 464h1.8M179.5 464h1.8M180 464h1.8M181.5 464h1.8M182.5 464h1.8M183.5 464h1.8M185.5 464h1.8M189.5 464h1.8M193 464h1.8M194.5 464h1.8M195.5 464h1.8M196 464h1.8M198 464h1.8M200 464h1.8M202.5 464h1.8M204 464h1.8M207.5 464h1.8M208.5 464h1.8M214.5 464h1.8M220 464h1.8M225 464h1.8M229.5 464h1.8M246.5 464h1.8M255 464h1.8M259.5 464h1.8M261.5 464h1.8M270.5 464h1.8M152 464.5h1.8M158 464.5h1.8M165 464.5h1.8M166.5 464.5h1.8M167 464.5h1.8M171.5 464.5h1.8M172 464.5h1.8M172.5 464.5h1.8M173.5 464.5h1.8M174 464.5h1.8M174.5 464.5h1.8M175 464.5h1.8M175.5 464.5h1.8M176.5 464.5h1.8M177 464.5h1.8M177.5 464.5h1.8M178 464.5h1.8M178.5 464.5h1.8M182 464.5h1.8M183.5 464.5h1.8M184.5 464.5h1.8M190 464.5h1.8M190.5 464.5h1.8M191 464.5h1.8M191.5 464.5h1.8M192.5 464.5h1.8M196 464.5h1.8M197 464.5h1.8M197.5 464.5h1.8M198 464.5h1.8M199.5 464.5h1.8M201 464.5h1.8M203.5 464.5h1.8M208.5 464.5h1.8M209 464.5h1.8M211 464.5h1.8M215 464.5h1.8M217.5 464.5h1.8M232.5 464.5h1.8M236.5 464.5h1.8M238 464.5h1.8M248 464.5h1.8M253 464.5h1.8M259 464.5h1.8M259.5 464.5h1.8M264.5 464.5h1.8M144 465h1.8M151.5 465h1.8M156.5 465h1.8M157.5 465h1.8M158 465h1.8M159 465h1.8M160 465h1.8M160.5 465h1.8M161 465h1.8M164 465h1.8M166 465h1.8M166.5 465h1.8M168 465h1.8M169.5 465h1.8M170.5 465h1.8M171 465h1.8M175 465h1.8M176.5 465h1.8M177 465h1.8M177.5 465h1.8M178.5 465h1.8M179.5 465h1.8M180 465h1.8M180.5 465h1.8M181 465h1.8M182.5 465h1.8M183 465h1.8M187.5 465h1.8M188 465h1.8M188.5 465h1.8M189.5 465h1.8M190 465h1.8M191 465h1.8M192 465h1.8M194 465h1.8M195 465h1.8M195.5 465h1.8M197.5 465h1.8M198.5 465h1.8M200.5 465h1.8M204 465h1.8M212 465h1.8M214 465h1.8M219 465h1.8M227 465h1.8M235 465h1.8M240.5 465h1.8M256.5 465h1.8M263 465h1.8M265 465h1.8M137 465.5h1.8M142 465.5h1.8M155 465.5h1.8M156.5 465.5h1.8M157 465.5h1.8M158.5 465.5h1.8M162 465.5h1.8M164 465.5h1.8M165 465.5h1.8M168 465.5h1.8M170 465.5h1.8M172.5 465.5h1.8M173 465.5h1.8M173.5 465.5h1.8M176 465.5h1.8M176.5 465.5h1.8M178 465.5h1.8M181 465.5h1.8M182 465.5h1.8M183.5 465.5h1.8M184 465.5h1.8M184.5 465.5h1.8M186 465.5h1.8M187 465.5h1.8M188.5 465.5h1.8M189.5 465.5h1.8M190 465.5h1.8M192 465.5h1.8M193.5 465.5h1.8M195 465.5h1.8M212 465.5h1.8M214.5 465.5h1.8M215.5 465.5h1.8M222.5 465.5h1.8M225 465.5h1.8M228 465.5h1.8M231.5 465.5h1.8M262 465.5h1.8M274 465.5h1.8M127.5 466h1.8M155 466h1.8M156.5 466h1.8M160 466h1.8M161 466h1.8M164 466h1.8M165.5 466h1.8M166.5 466h1.8M169.5 466h1.8M173.5 466h1.8M176.5 466h1.8M177 466h1.8M177.5 466h1.8M178 466h1.8M180 466h1.8M181 466h1.8M181.5 466h1.8M182 466h1.8M183 466h1.8M186.5 466h1.8M188 466h1.8M190.5 466h1.8M192 466h1.8M193 466h1.8M194 466h1.8M195 466h1.8M195.5 466h1.8M198 466h1.8M198.5 466h1.8M201 466h1.8M205 466h1.8M212.5 466h1.8M214 466h1.8M216 466h1.8M216.5 466h1.8M221 466h1.8M223 466h1.8M253.5 466h1.8M258.5 466h1.8M150 466.5h1.8M154 466.5h1.8M154.5 466.5h1.8M156.5 466.5h1.8M158 466.5h1.8M162 466.5h1.8M163.5 466.5h1.8M164 466.5h1.8M165 466.5h1.8M168 466.5h1.8M168.5 466.5h1.8M169 466.5h1.8M169.5 466.5h1.8M170 466.5h1.8M172.5 466.5h1.8M173 466.5h1.8M173.5 466.5h1.8M174 466.5h1.8M176.5 466.5h1.8M180 466.5h1.8M180.5 466.5h1.8M181.5 466.5h1.8M183 466.5h1.8M184 466.5h1.8M185.5 466.5h1.8M187 466.5h1.8M190 466.5h1.8M192 466.5h1.8M193.5 466.5h1.8M196.5 466.5h1.8M198 466.5h1.8M200.5 466.5h1.8M203.5 466.5h1.8M208 466.5h1.8M210.5 466.5h1.8M213.5 466.5h1.8M229.5 466.5h1.8M238.5 466.5h1.8M255 466.5h1.8M145.5 467h1.8M146.5 467h1.8M149 467h1.8M158 467h1.8M158.5 467h1.8M159.5 467h1.8M161 467h1.8M164 467h1.8M165.5 467h1.8M168 467h1.8M169 467h1.8M169.5 467h1.8M171 467h1.8M172.5 467h1.8M174 467h1.8M175 467h1.8M177.5 467h1.8M179 467h1.8M179.5 467h1.8M180.5 467h1.8M182 467h1.8M182.5 467h1.8M184.5 467h1.8M185 467h1.8M187.5 467h1.8M188.5 467h1.8M191 467h1.8M193 467h1.8M193.5 467h1.8M195 467h1.8M195.5 467h1.8M196 467h1.8M196.5 467h1.8M197 467h1.8M197.5 467h1.8M200.5 467h1.8M201.5 467h1.8M207 467h1.8M208 467h1.8M211 467h1.8M218 467h1.8M227.5 467h1.8M231 467h1.8M231.5 467h1.8M238.5 467h1.8M250 467h1.8M262 467h1.8M263.5 467h1.8M144.5 467.5h1.8M151 467.5h1.8M153 467.5h1.8M153.5 467.5h1.8M156.5 467.5h1.8M160 467.5h1.8M160.5 467.5h1.8M161.5 467.5h1.8M162 467.5h1.8M164.5 467.5h1.8M165 467.5h1.8M165.5 467.5h1.8M166 467.5h1.8M167 467.5h1.8M168 467.5h1.8M168.5 467.5h1.8M169 467.5h1.8M170 467.5h1.8M170.5 467.5h1.8M172.5 467.5h1.8M173.5 467.5h1.8M174.5 467.5h1.8M175 467.5h1.8M175.5 467.5h1.8M176 467.5h1.8M178 467.5h1.8M179.5 467.5h1.8M184 467.5h1.8M185 467.5h1.8M185.5 467.5h1.8M189 467.5h1.8M190 467.5h1.8M194 467.5h1.8M195.5 467.5h1.8M197 467.5h1.8M200 467.5h1.8M200.5 467.5h1.8M204.5 467.5h1.8M206.5 467.5h1.8M208.5 467.5h1.8M210.5 467.5h1.8M227.5 467.5h1.8M247 467.5h1.8M268 467.5h1.8M151 468h1.8M151.5 468h1.8M153.5 468h1.8M154 468h1.8M154.5 468h1.8M155 468h1.8M157.5 468h1.8M159 468h1.8M162.5 468h1.8M163 468h1.8M165.5 468h1.8M167.5 468h1.8M168 468h1.8M168.5 468h1.8M169 468h1.8M171.5 468h1.8M174.5 468h1.8M176 468h1.8M176.5 468h1.8M177 468h1.8M182 468h1.8M182.5 468h1.8M183 468h1.8M185.5 468h1.8M187.5 468h1.8M191.5 468h1.8M192 468h1.8M192.5 468h1.8M195 468h1.8M195.5 468h1.8M202.5 468h1.8M203 468h1.8M204.5 468h1.8M208.5 468h1.8M220 468h1.8M222.5 468h1.8M230 468h1.8M240 468h1.8M249 468h1.8M263 468h1.8M271.5 468h1.8M280.5 468h1.8M152 468.5h1.8M153 468.5h1.8M153.5 468.5h1.8M156 468.5h1.8M158.5 468.5h1.8M159 468.5h1.8M159.5 468.5h1.8M163 468.5h1.8M165 468.5h1.8M167 468.5h1.8M167.5 468.5h1.8M169 468.5h1.8M169.5 468.5h1.8M170.5 468.5h1.8M171 468.5h1.8M171.5 468.5h1.8M172 468.5h1.8M172.5 468.5h1.8M175 468.5h1.8M175.5 468.5h1.8M179 468.5h1.8M179.5 468.5h1.8M180 468.5h1.8M182 468.5h1.8M182.5 468.5h1.8M183.5 468.5h1.8M189.5 468.5h1.8M191.5 468.5h1.8M192 468.5h1.8M192.5 468.5h1.8M194 468.5h1.8M194.5 468.5h1.8M195.5 468.5h1.8M199.5 468.5h1.8M202.5 468.5h1.8M203 468.5h1.8M211 468.5h1.8M215 468.5h1.8M220 468.5h1.8M228.5 468.5h1.8M244.5 468.5h1.8M251 468.5h1.8M256 468.5h1.8M268.5 468.5h1.8M142 469h1.8M152 469h1.8M154 469h1.8M154.5 469h1.8M155.5 469h1.8M159.5 469h1.8M160 469h1.8M162.5 469h1.8M164.5 469h1.8M170 469h1.8M171.5 469h1.8M173.5 469h1.8M175 469h1.8M176 469h1.8M177 469h1.8M177.5 469h1.8M178.5 469h1.8M180.5 469h1.8M181 469h1.8M183.5 469h1.8M184.5 469h1.8M185.5 469h1.8M186 469h1.8M186.5 469h1.8M189 469h1.8M190 469h1.8M190.5 469h1.8M191 469h1.8M192 469h1.8M193 469h1.8M195.5 469h1.8M196.5 469h1.8M198.5 469h1.8M200 469h1.8M203 469h1.8M212.5 469h1.8M217 469h1.8M217.5 469h1.8M225 469h1.8M237 469h1.8M142.5 469.5h1.8M148.5 469.5h1.8M150.5 469.5h1.8M152.5 469.5h1.8M158.5 469.5h1.8M162 469.5h1.8M166 469.5h1.8M166.5 469.5h1.8M167.5 469.5h1.8M169 469.5h1.8M169.5 469.5h1.8M170.5 469.5h1.8M171 469.5h1.8M171.5 469.5h1.8M173.5 469.5h1.8M174 469.5h1.8M175.5 469.5h1.8M176.5 469.5h1.8M177 469.5h1.8M180 469.5h1.8M181.5 469.5h1.8M185.5 469.5h1.8M186.5 469.5h1.8M190 469.5h1.8M190.5 469.5h1.8M191 469.5h1.8M191.5 469.5h1.8M194.5 469.5h1.8M198.5 469.5h1.8M200 469.5h1.8M200.5 469.5h1.8M207 469.5h1.8M208 469.5h1.8M213.5 469.5h1.8M214 469.5h1.8M216 469.5h1.8M221 469.5h1.8M225.5 469.5h1.8M231 469.5h1.8M232 469.5h1.8M235.5 469.5h1.8M236 469.5h1.8M239.5 469.5h1.8M259.5 469.5h1.8M137.5 470h1.8M139 470h1.8M152 470h1.8M157 470h1.8M157.5 470h1.8M159.5 470h1.8M160 470h1.8M163.5 470h1.8M164 470h1.8M164.5 470h1.8M165 470h1.8M165.5 470h1.8M166 470h1.8M170 470h1.8M171.5 470h1.8M172 470h1.8M174 470h1.8M174.5 470h1.8M176.5 470h1.8M179 470h1.8M182 470h1.8M183 470h1.8M184 470h1.8M184.5 470h1.8M185.5 470h1.8M186 470h1.8M189.5 470h1.8M190 470h1.8M190.5 470h1.8M194 470h1.8M196.5 470h1.8M200.5 470h1.8M205 470h1.8M205.5 470h1.8M207 470h1.8M213 470h1.8M218.5 470h1.8M223.5 470h1.8M226 470h1.8M228.5 470h1.8M235 470h1.8M235.5 470h1.8M259 470h1.8M259.5 470h1.8M268.5 470h1.8M269 470h1.8M144.5 470.5h1.8M150.5 470.5h1.8M152.5 470.5h1.8M155 470.5h1.8M158.5 470.5h1.8M159 470.5h1.8M159.5 470.5h1.8M160 470.5h1.8M161 470.5h1.8M162 470.5h1.8M163 470.5h1.8M164 470.5h1.8M164.5 470.5h1.8M166 470.5h1.8M166.5 470.5h1.8M168 470.5h1.8M168.5 470.5h1.8M172 470.5h1.8M176 470.5h1.8M177.5 470.5h1.8M178 470.5h1.8M181.5 470.5h1.8M182 470.5h1.8M183.5 470.5h1.8M184 470.5h1.8M184.5 470.5h1.8M185 470.5h1.8M185.5 470.5h1.8M186 470.5h1.8M186.5 470.5h1.8M187 470.5h1.8M188 470.5h1.8M191 470.5h1.8M191.5 470.5h1.8M193 470.5h1.8M195 470.5h1.8M198.5 470.5h1.8M202.5 470.5h1.8M207 470.5h1.8M209.5 470.5h1.8M212 470.5h1.8M214 470.5h1.8M216.5 470.5h1.8M219 470.5h1.8M222.5 470.5h1.8M264 470.5h1.8M139 471h1.8M153 471h1.8M155 471h1.8M156.5 471h1.8M157 471h1.8M157.5 471h1.8M159.5 471h1.8M160 471h1.8M161 471h1.8M165 471h1.8M166.5 471h1.8M168.5 471h1.8M169 471h1.8M171 471h1.8M173 471h1.8M174.5 471h1.8M175 471h1.8M176 471h1.8M176.5 471h1.8M179.5 471h1.8M180 471h1.8M182 471h1.8M182.5 471h1.8M185.5 471h1.8M189 471h1.8M192 471h1.8M192.5 471h1.8M195.5 471h1.8M196.5 471h1.8M197 471h1.8M197.5 471h1.8M198.5 471h1.8M200.5 471h1.8M205.5 471h1.8M208 471h1.8M209.5 471h1.8M210 471h1.8M220.5 471h1.8M221.5 471h1.8M225 471h1.8M225.5 471h1.8M227 471h1.8M229.5 471h1.8M242.5 471h1.8M251.5 471h1.8M261.5 471h1.8M266.5 471h1.8M268 471h1.8M283 471h1.8M139 471.5h1.8M149.5 471.5h1.8M152.5 471.5h1.8M154.5 471.5h1.8M155 471.5h1.8M155.5 471.5h1.8M158.5 471.5h1.8M159 471.5h1.8M159.5 471.5h1.8M160 471.5h1.8M163 471.5h1.8M164 471.5h1.8M165 471.5h1.8M167 471.5h1.8M167.5 471.5h1.8M169.5 471.5h1.8M174.5 471.5h1.8M175.5 471.5h1.8M178.5 471.5h1.8M179 471.5h1.8M179.5 471.5h1.8M182 471.5h1.8M182.5 471.5h1.8M183 471.5h1.8M185 471.5h1.8M186 471.5h1.8M186.5 471.5h1.8M187 471.5h1.8M187.5 471.5h1.8M188 471.5h1.8M193 471.5h1.8M194.5 471.5h1.8M195.5 471.5h1.8M197 471.5h1.8M201.5 471.5h1.8M202 471.5h1.8M202.5 471.5h1.8M209.5 471.5h1.8M210 471.5h1.8M211 471.5h1.8M216.5 471.5h1.8M219.5 471.5h1.8M222 471.5h1.8M228 471.5h1.8M232.5 471.5h1.8M237 471.5h1.8M240 471.5h1.8M274 471.5h1.8M281 471.5h1.8M129 472h1.8M134 472h1.8M145 472h1.8M148.5 472h1.8M150.5 472h1.8M151 472h1.8M151.5 472h1.8M153 472h1.8M154.5 472h1.8M155.5 472h1.8M156 472h1.8M157 472h1.8M157.5 472h1.8M158 472h1.8M158.5 472h1.8M159 472h1.8M161 472h1.8M162.5 472h1.8M163 472h1.8M163.5 472h1.8M164.5 472h1.8M165.5 472h1.8M166 472h1.8M167.5 472h1.8M169 472h1.8M173 472h1.8M174 472h1.8M174.5 472h1.8M175 472h1.8M176 472h1.8M176.5 472h1.8M178 472h1.8M180 472h1.8M181 472h1.8M181.5 472h1.8M182 472h1.8M182.5 472h1.8M183.5 472h1.8M185 472h1.8M186.5 472h1.8M187.5 472h1.8M188 472h1.8M189 472h1.8M190 472h1.8M194.5 472h1.8M195 472h1.8M196 472h1.8M210.5 472h1.8M220.5 472h1.8M222 472h1.8M233 472h1.8M243.5 472h1.8M249 472h1.8M260 472h1.8M262 472h1.8M139 472.5h1.8M140.5 472.5h1.8M141.5 472.5h1.8M148.5 472.5h1.8M154 472.5h1.8M155.5 472.5h1.8M156.5 472.5h1.8M157.5 472.5h1.8M159 472.5h1.8M159.5 472.5h1.8M163 472.5h1.8M163.5 472.5h1.8M165 472.5h1.8M166.5 472.5h1.8M167 472.5h1.8M168 472.5h1.8M168.5 472.5h1.8M169 472.5h1.8M169.5 472.5h1.8M170.5 472.5h1.8M171 472.5h1.8M172 472.5h1.8M173 472.5h1.8M174 472.5h1.8M175 472.5h1.8M178 472.5h1.8M178.5 472.5h1.8M179 472.5h1.8M179.5 472.5h1.8M180 472.5h1.8M182 472.5h1.8M182.5 472.5h1.8M183 472.5h1.8M185.5 472.5h1.8M187 472.5h1.8M191 472.5h1.8M191.5 472.5h1.8M192.5 472.5h1.8M194.5 472.5h1.8M196 472.5h1.8M201.5 472.5h1.8M204 472.5h1.8M229.5 472.5h1.8M232 472.5h1.8M232.5 472.5h1.8M240.5 472.5h1.8M254.5 472.5h1.8M268 472.5h1.8M136 473h1.8M148 473h1.8M148.5 473h1.8M151 473h1.8M154 473h1.8M154.5 473h1.8M155.5 473h1.8M157.5 473h1.8M159.5 473h1.8M160 473h1.8M162.5 473h1.8M165 473h1.8M167 473h1.8M169 473h1.8M170 473h1.8M170.5 473h1.8M171.5 473h1.8M176 473h1.8M176.5 473h1.8M177.5 473h1.8M180.5 473h1.8M182 473h1.8M184 473h1.8M188 473h1.8M189 473h1.8M189.5 473h1.8M190 473h1.8M191 473h1.8M192 473h1.8M194 473h1.8M194.5 473h1.8M195 473h1.8M195.5 473h1.8M196 473h1.8M198 473h1.8M199.5 473h1.8M200 473h1.8M200.5 473h1.8M212 473h1.8M214.5 473h1.8M215.5 473h1.8M217.5 473h1.8M219 473h1.8M222 473h1.8M229.5 473h1.8M230.5 473h1.8M233 473h1.8M235.5 473h1.8M138.5 473.5h1.8M148 473.5h1.8M148.5 473.5h1.8M149.5 473.5h1.8M153.5 473.5h1.8M156 473.5h1.8M157 473.5h1.8M157.5 473.5h1.8M159 473.5h1.8M160 473.5h1.8M160.5 473.5h1.8M161.5 473.5h1.8M163.5 473.5h1.8M164.5 473.5h1.8M165 473.5h1.8M166 473.5h1.8M167 473.5h1.8M168 473.5h1.8M170 473.5h1.8M172 473.5h1.8M174 473.5h1.8M176 473.5h1.8M181.5 473.5h1.8M182 473.5h1.8M185 473.5h1.8M186 473.5h1.8M190 473.5h1.8M193.5 473.5h1.8M194.5 473.5h1.8M202.5 473.5h1.8M204.5 473.5h1.8M206.5 473.5h1.8M208 473.5h1.8M220 473.5h1.8M225.5 473.5h1.8M226 473.5h1.8M229.5 473.5h1.8M231 473.5h1.8M253.5 473.5h1.8M276.5 473.5h1.8M278 473.5h1.8M134.5 474h1.8M145 474h1.8M149 474h1.8M152 474h1.8M152.5 474h1.8M156 474h1.8M158 474h1.8M158.5 474h1.8M161 474h1.8M161.5 474h1.8M162 474h1.8M162.5 474h1.8M163.5 474h1.8M164 474h1.8M166 474h1.8M167 474h1.8M168.5 474h1.8M170 474h1.8M170.5 474h1.8M171 474h1.8M173.5 474h1.8M174.5 474h1.8M176.5 474h1.8M179.5 474h1.8M180.5 474h1.8M182.5 474h1.8M184 474h1.8M185 474h1.8M186.5 474h1.8M187 474h1.8M188.5 474h1.8M190 474h1.8M190.5 474h1.8M192.5 474h1.8M193 474h1.8M197 474h1.8M198.5 474h1.8M211.5 474h1.8M216 474h1.8M219 474h1.8M229.5 474h1.8M231 474h1.8M241.5 474h1.8M250 474h1.8M252 474h1.8M253 474h1.8M263 474h1.8M270 474h1.8M147 474.5h1.8M147.5 474.5h1.8M150.5 474.5h1.8M152.5 474.5h1.8M154.5 474.5h1.8M156.5 474.5h1.8M158.5 474.5h1.8M160.5 474.5h1.8M161 474.5h1.8M163 474.5h1.8M163.5 474.5h1.8M164 474.5h1.8M164.5 474.5h1.8M165 474.5h1.8M166.5 474.5h1.8M168 474.5h1.8M168.5 474.5h1.8M169.5 474.5h1.8M170 474.5h1.8M173.5 474.5h1.8M174 474.5h1.8M174.5 474.5h1.8M177.5 474.5h1.8M178.5 474.5h1.8M179.5 474.5h1.8M180.5 474.5h1.8M181 474.5h1.8M184 474.5h1.8M184.5 474.5h1.8M185 474.5h1.8M186 474.5h1.8M188.5 474.5h1.8M189.5 474.5h1.8M191.5 474.5h1.8M194.5 474.5h1.8M195.5 474.5h1.8M196.5 474.5h1.8M197 474.5h1.8M203 474.5h1.8M213.5 474.5h1.8M226 474.5h1.8M227 474.5h1.8M267 474.5h1.8M129.5 475h1.8M130.5 475h1.8M147.5 475h1.8M148 475h1.8M150 475h1.8M150.5 475h1.8M152.5 475h1.8M153 475h1.8M153.5 475h1.8M157 475h1.8M159.5 475h1.8M160.5 475h1.8M161.5 475h1.8M162 475h1.8M163 475h1.8M164 475h1.8M164.5 475h1.8M165.5 475h1.8M166.5 475h1.8M167.5 475h1.8M169.5 475h1.8M170 475h1.8M170.5 475h1.8M171.5 475h1.8M172.5 475h1.8M174 475h1.8M174.5 475h1.8M176.5 475h1.8M177.5 475h1.8M178 475h1.8M179 475h1.8M181.5 475h1.8M182.5 475h1.8M183.5 475h1.8M188.5 475h1.8M189.5 475h1.8M191.5 475h1.8M192.5 475h1.8M193 475h1.8M193.5 475h1.8M196.5 475h1.8M204.5 475h1.8M205 475h1.8M206.5 475h1.8M210.5 475h1.8M212 475h1.8M215 475h1.8M215.5 475h1.8M227 475h1.8M231.5 475h1.8M247 475h1.8M270 475h1.8M136 475.5h1.8M146 475.5h1.8M148 475.5h1.8M148.5 475.5h1.8M152.5 475.5h1.8M155.5 475.5h1.8M156.5 475.5h1.8M157.5 475.5h1.8M159 475.5h1.8M161 475.5h1.8M162.5 475.5h1.8M163 475.5h1.8M165 475.5h1.8M167.5 475.5h1.8M168 475.5h1.8M168.5 475.5h1.8M172.5 475.5h1.8M173 475.5h1.8M174 475.5h1.8M176.5 475.5h1.8M177 475.5h1.8M179 475.5h1.8M180.5 475.5h1.8M181 475.5h1.8M181.5 475.5h1.8M182 475.5h1.8M183 475.5h1.8M183.5 475.5h1.8M184.5 475.5h1.8M188 475.5h1.8M189 475.5h1.8M191 475.5h1.8M192 475.5h1.8M193.5 475.5h1.8M196 475.5h1.8M209 475.5h1.8M211 475.5h1.8M213 475.5h1.8M215 475.5h1.8M216 475.5h1.8M225.5 475.5h1.8M227 475.5h1.8M246.5 475.5h1.8M254.5 475.5h1.8M131.5 476h1.8M132 476h1.8M141 476h1.8M141.5 476h1.8M144 476h1.8M145 476h1.8M147.5 476h1.8M148.5 476h1.8M149 476h1.8M149.5 476h1.8M150.5 476h1.8M154 476h1.8M155 476h1.8M155.5 476h1.8M156 476h1.8M157 476h1.8M158 476h1.8M158.5 476h1.8M164.5 476h1.8M165.5 476h1.8M167 476h1.8M167.5 476h1.8M168.5 476h1.8M169 476h1.8M173.5 476h1.8M175 476h1.8M177.5 476h1.8M179.5 476h1.8M180 476h1.8M180.5 476h1.8M181.5 476h1.8M183 476h1.8M184 476h1.8M184.5 476h1.8M186 476h1.8M186.5 476h1.8M187.5 476h1.8M188 476h1.8M188.5 476h1.8M194 476h1.8M195.5 476h1.8M196 476h1.8M201 476h1.8M202 476h1.8M206.5 476h1.8M208 476h1.8M209.5 476h1.8M211 476h1.8M215.5 476h1.8M219 476h1.8M222.5 476h1.8M227 476h1.8M230 476h1.8M234 476h1.8M262 476h1.8M136.5 476.5h1.8M144 476.5h1.8M144.5 476.5h1.8M145.5 476.5h1.8M146.5 476.5h1.8M147 476.5h1.8M149.5 476.5h1.8M153.5 476.5h1.8M154 476.5h1.8M159.5 476.5h1.8M160 476.5h1.8M161 476.5h1.8M161.5 476.5h1.8M162.5 476.5h1.8M163 476.5h1.8M164 476.5h1.8M166 476.5h1.8M167 476.5h1.8M168 476.5h1.8M168.5 476.5h1.8M169 476.5h1.8M169.5 476.5h1.8M170.5 476.5h1.8M171.5 476.5h1.8M172.5 476.5h1.8M173.5 476.5h1.8M174 476.5h1.8M174.5 476.5h1.8M175.5 476.5h1.8M177 476.5h1.8M177.5 476.5h1.8M178 476.5h1.8M178.5 476.5h1.8M179 476.5h1.8M180 476.5h1.8M181.5 476.5h1.8M182.5 476.5h1.8M184 476.5h1.8M189 476.5h1.8M189.5 476.5h1.8M190.5 476.5h1.8M192.5 476.5h1.8M194.5 476.5h1.8M197 476.5h1.8M203.5 476.5h1.8M208.5 476.5h1.8M215.5 476.5h1.8M216.5 476.5h1.8M228 476.5h1.8M235.5 476.5h1.8M241 476.5h1.8M261 476.5h1.8M271.5 476.5h1.8M292.5 476.5h1.8M133 477h1.8M142 477h1.8M143 477h1.8M143.5 477h1.8M146 477h1.8M147.5 477h1.8M148.5 477h1.8M152.5 477h1.8M155 477h1.8M155.5 477h1.8M156 477h1.8M157 477h1.8M157.5 477h1.8M158 477h1.8M158.5 477h1.8M159 477h1.8M160 477h1.8M162 477h1.8M162.5 477h1.8M164 477h1.8M164.5 477h1.8M169 477h1.8M170.5 477h1.8M171.5 477h1.8M173 477h1.8M174 477h1.8M176 477h1.8M176.5 477h1.8M178 477h1.8M178.5 477h1.8M179 477h1.8M179.5 477h1.8M182 477h1.8M184.5 477h1.8M185 477h1.8M185.5 477h1.8M189.5 477h1.8M190 477h1.8M192 477h1.8M201.5 477h1.8M202 477h1.8M202.5 477h1.8M205.5 477h1.8M206 477h1.8M207.5 477h1.8M209.5 477h1.8M220 477h1.8M226.5 477h1.8M244 477h1.8M271 477h1.8M273 477h1.8M275.5 477h1.8M279 477h1.8M130 477.5h1.8M143 477.5h1.8M143.5 477.5h1.8M146.5 477.5h1.8M147.5 477.5h1.8M148 477.5h1.8M148.5 477.5h1.8M149 477.5h1.8M150.5 477.5h1.8M152.5 477.5h1.8M153 477.5h1.8M156 477.5h1.8M158 477.5h1.8M158.5 477.5h1.8M159.5 477.5h1.8M160.5 477.5h1.8M163.5 477.5h1.8M165 477.5h1.8M168.5 477.5h1.8M170 477.5h1.8M171.5 477.5h1.8M172.5 477.5h1.8M173 477.5h1.8M175 477.5h1.8M176.5 477.5h1.8M177.5 477.5h1.8M178 477.5h1.8M178.5 477.5h1.8M179 477.5h1.8M179.5 477.5h1.8M181 477.5h1.8M181.5 477.5h1.8M182.5 477.5h1.8M185 477.5h1.8M185.5 477.5h1.8M187 477.5h1.8M187.5 477.5h1.8M188 477.5h1.8M190 477.5h1.8M191.5 477.5h1.8M192 477.5h1.8M196.5 477.5h1.8M198 477.5h1.8M198.5 477.5h1.8M213.5 477.5h1.8M216.5 477.5h1.8M218 477.5h1.8M219.5 477.5h1.8M222.5 477.5h1.8M237.5 477.5h1.8M238.5 477.5h1.8M257.5 477.5h1.8M258 477.5h1.8M136.5 478h1.8M143 478h1.8M145 478h1.8M147 478h1.8M147.5 478h1.8M149.5 478h1.8M151 478h1.8M152 478h1.8M153.5 478h1.8M157.5 478h1.8M159 478h1.8M160 478h1.8M161.5 478h1.8M163.5 478h1.8M165.5 478h1.8M167 478h1.8M168.5 478h1.8M169 478h1.8M170 478h1.8M170.5 478h1.8M173 478h1.8M174.5 478h1.8M175.5 478h1.8M177.5 478h1.8M178 478h1.8M179 478h1.8M179.5 478h1.8M180.5 478h1.8M185 478h1.8M186.5 478h1.8M187 478h1.8M187.5 478h1.8M188 478h1.8M190.5 478h1.8M204 478h1.8M204.5 478h1.8M219.5 478h1.8M226 478h1.8M260.5 478h1.8M138 478.5h1.8M142.5 478.5h1.8M143 478.5h1.8M143.5 478.5h1.8M145.5 478.5h1.8M147 478.5h1.8M147.5 478.5h1.8M148.5 478.5h1.8M150.5 478.5h1.8M152.5 478.5h1.8M153.5 478.5h1.8M154.5 478.5h1.8M155 478.5h1.8M156 478.5h1.8M158.5 478.5h1.8M159 478.5h1.8M159.5 478.5h1.8M160 478.5h1.8M160.5 478.5h1.8M161.5 478.5h1.8M162.5 478.5h1.8M163 478.5h1.8M167.5 478.5h1.8M168 478.5h1.8M168.5 478.5h1.8M169 478.5h1.8M169.5 478.5h1.8M171 478.5h1.8M172.5 478.5h1.8M175 478.5h1.8M177 478.5h1.8M177.5 478.5h1.8M179.5 478.5h1.8M182 478.5h1.8M184.5 478.5h1.8M186.5 478.5h1.8M187 478.5h1.8M189.5 478.5h1.8M191.5 478.5h1.8M195.5 478.5h1.8M198 478.5h1.8M200.5 478.5h1.8M205 478.5h1.8M206 478.5h1.8M207.5 478.5h1.8M212 478.5h1.8M217.5 478.5h1.8M218 478.5h1.8M226 478.5h1.8M243.5 478.5h1.8M246 478.5h1.8M250 478.5h1.8M253 478.5h1.8M262 478.5h1.8M132 479h1.8M142 479h1.8M143 479h1.8M145 479h1.8M145.5 479h1.8M146 479h1.8M147.5 479h1.8M151 479h1.8M153.5 479h1.8M155.5 479h1.8M156 479h1.8M159.5 479h1.8M160 479h1.8M161 479h1.8M161.5 479h1.8M163 479h1.8M164.5 479h1.8M166.5 479h1.8M168.5 479h1.8M169 479h1.8M170.5 479h1.8M172.5 479h1.8M173 479h1.8M173.5 479h1.8M174 479h1.8M176 479h1.8M179 479h1.8M181.5 479h1.8M182 479h1.8M183 479h1.8M184.5 479h1.8M185 479h1.8M185.5 479h1.8M186.5 479h1.8M189 479h1.8M189.5 479h1.8M193 479h1.8M194 479h1.8M202.5 479h1.8M207 479h1.8M212.5 479h1.8M218 479h1.8M219 479h1.8M223 479h1.8M224 479h1.8M226.5 479h1.8M235 479h1.8M276 479h1.8M132.5 479.5h1.8M140.5 479.5h1.8M142.5 479.5h1.8M144.5 479.5h1.8M145 479.5h1.8M149.5 479.5h1.8M150.5 479.5h1.8M153 479.5h1.8M153.5 479.5h1.8M155.5 479.5h1.8M158 479.5h1.8M160.5 479.5h1.8M161.5 479.5h1.8M162.5 479.5h1.8M163.5 479.5h1.8M165.5 479.5h1.8M167.5 479.5h1.8M168.5 479.5h1.8M170.5 479.5h1.8M171 479.5h1.8M173 479.5h1.8M173.5 479.5h1.8M174 479.5h1.8M174.5 479.5h1.8M177 479.5h1.8M177.5 479.5h1.8M178 479.5h1.8M178.5 479.5h1.8M179 479.5h1.8M180 479.5h1.8M184.5 479.5h1.8M186.5 479.5h1.8M187 479.5h1.8M190 479.5h1.8M192 479.5h1.8M196 479.5h1.8M199 479.5h1.8M209.5 479.5h1.8M211 479.5h1.8M214 479.5h1.8M215.5 479.5h1.8M224 479.5h1.8M228 479.5h1.8M139.5 480h1.8M140 480h1.8M143.5 480h1.8M144.5 480h1.8M146 480h1.8M146.5 480h1.8M147.5 480h1.8M151.5 480h1.8M153 480h1.8M154 480h1.8M155.5 480h1.8M157 480h1.8M157.5 480h1.8M158 480h1.8M159 480h1.8M163.5 480h1.8M164.5 480h1.8M165 480h1.8M166 480h1.8M166.5 480h1.8M167 480h1.8M168 480h1.8M170.5 480h1.8M172 480h1.8M172.5 480h1.8M173 480h1.8M174.5 480h1.8M176 480h1.8M177.5 480h1.8M178.5 480h1.8M179 480h1.8M179.5 480h1.8M183 480h1.8M185.5 480h1.8M186.5 480h1.8M187 480h1.8M188.5 480h1.8M190 480h1.8M202.5 480h1.8M203.5 480h1.8M212 480h1.8M218.5 480h1.8M219 480h1.8M226.5 480h1.8M229 480h1.8M243.5 480h1.8M135 480.5h1.8M141.5 480.5h1.8M142.5 480.5h1.8M143 480.5h1.8M148.5 480.5h1.8M150.5 480.5h1.8M152 480.5h1.8M153 480.5h1.8M155.5 480.5h1.8M156.5 480.5h1.8M159 480.5h1.8M159.5 480.5h1.8M160.5 480.5h1.8M162 480.5h1.8M162.5 480.5h1.8M163.5 480.5h1.8M167 480.5h1.8M167.5 480.5h1.8M168 480.5h1.8M168.5 480.5h1.8M169 480.5h1.8M169.5 480.5h1.8M170 480.5h1.8M170.5 480.5h1.8M171.5 480.5h1.8M173 480.5h1.8M175 480.5h1.8M175.5 480.5h1.8M176.5 480.5h1.8M180 480.5h1.8M181 480.5h1.8M182 480.5h1.8M182.5 480.5h1.8M183 480.5h1.8M184.5 480.5h1.8M185 480.5h1.8M188 480.5h1.8M188.5 480.5h1.8M197.5 480.5h1.8M200.5 480.5h1.8M205.5 480.5h1.8M209.5 480.5h1.8M210 480.5h1.8M210.5 480.5h1.8M212 480.5h1.8M213.5 480.5h1.8M215.5 480.5h1.8M222 480.5h1.8M247.5 480.5h1.8M142 481h1.8M144 481h1.8M145 481h1.8M147.5 481h1.8M148 481h1.8M153.5 481h1.8M154 481h1.8M155.5 481h1.8M157 481h1.8M157.5 481h1.8M158 481h1.8M158.5 481h1.8M159 481h1.8M160 481h1.8M160.5 481h1.8M163 481h1.8M164 481h1.8M164.5 481h1.8M165 481h1.8M165.5 481h1.8M166.5 481h1.8M167 481h1.8M167.5 481h1.8M168.5 481h1.8M170 481h1.8M172.5 481h1.8M173.5 481h1.8M174.5 481h1.8M179 481h1.8M180 481h1.8M182 481h1.8M182.5 481h1.8M184 481h1.8M185.5 481h1.8M186 481h1.8M188.5 481h1.8M197.5 481h1.8M202.5 481h1.8M214.5 481h1.8M219.5 481h1.8M225 481h1.8M243 481h1.8M262 481h1.8M262.5 481h1.8M264.5 481h1.8M276 481h1.8M136.5 481.5h1.8M141 481.5h1.8M141.5 481.5h1.8M143 481.5h1.8M143.5 481.5h1.8M144 481.5h1.8M145.5 481.5h1.8M146.5 481.5h1.8M148 481.5h1.8M148.5 481.5h1.8M150 481.5h1.8M150.5 481.5h1.8M154 481.5h1.8M155.5 481.5h1.8M157 481.5h1.8M159.5 481.5h1.8M160 481.5h1.8M161.5 481.5h1.8M165 481.5h1.8M165.5 481.5h1.8M167 481.5h1.8M167.5 481.5h1.8M168.5 481.5h1.8M169 481.5h1.8M170 481.5h1.8M171 481.5h1.8M171.5 481.5h1.8M172 481.5h1.8M172.5 481.5h1.8M174 481.5h1.8M175 481.5h1.8M177 481.5h1.8M177.5 481.5h1.8M180.5 481.5h1.8M181.5 481.5h1.8M183 481.5h1.8M184 481.5h1.8M184.5 481.5h1.8M185 481.5h1.8M190.5 481.5h1.8M195 481.5h1.8M207.5 481.5h1.8M208 481.5h1.8M209.5 481.5h1.8M211 481.5h1.8M217 481.5h1.8M223 481.5h1.8M225 481.5h1.8M227.5 481.5h1.8M272.5 481.5h1.8M134.5 482h1.8M139.5 482h1.8M142.5 482h1.8M143 482h1.8M143.5 482h1.8M145.5 482h1.8M146.5 482h1.8M148 482h1.8M149.5 482h1.8M150 482h1.8M150.5 482h1.8M151.5 482h1.8M154.5 482h1.8M157.5 482h1.8M158.5 482h1.8M160.5 482h1.8M161 482h1.8M162.5 482h1.8M163 482h1.8M164 482h1.8M165.5 482h1.8M166.5 482h1.8M167 482h1.8M167.5 482h1.8M169.5 482h1.8M171 482h1.8M171.5 482h1.8M173 482h1.8M173.5 482h1.8M174 482h1.8M176.5 482h1.8M178 482h1.8M178.5 482h1.8M181.5 482h1.8M187.5 482h1.8M193 482h1.8M205.5 482h1.8M211 482h1.8M215.5 482h1.8M218.5 482h1.8M220 482h1.8M222.5 482h1.8M227 482h1.8M238.5 482h1.8M239 482h1.8M253 482h1.8M254.5 482h1.8M255 482h1.8M265 482h1.8M127.5 482.5h1.8M139.5 482.5h1.8M141 482.5h1.8M143 482.5h1.8M143.5 482.5h1.8M145.5 482.5h1.8M146 482.5h1.8M147 482.5h1.8M148.5 482.5h1.8M150 482.5h1.8M151.5 482.5h1.8M152 482.5h1.8M153.5 482.5h1.8M154 482.5h1.8M155 482.5h1.8M157 482.5h1.8M157.5 482.5h1.8M158.5 482.5h1.8M160 482.5h1.8M161 482.5h1.8M162.5 482.5h1.8M163 482.5h1.8M163.5 482.5h1.8M165 482.5h1.8M170 482.5h1.8M170.5 482.5h1.8M171 482.5h1.8M171.5 482.5h1.8M172 482.5h1.8M172.5 482.5h1.8M173 482.5h1.8M173.5 482.5h1.8M174.5 482.5h1.8M175.5 482.5h1.8M177 482.5h1.8M178 482.5h1.8M181 482.5h1.8M183 482.5h1.8M187.5 482.5h1.8M190.5 482.5h1.8M192 482.5h1.8M202 482.5h1.8M202.5 482.5h1.8M203 482.5h1.8M207 482.5h1.8M211.5 482.5h1.8M215 482.5h1.8M221.5 482.5h1.8M223 482.5h1.8M229 482.5h1.8M233.5 482.5h1.8M236 482.5h1.8M242 482.5h1.8M261.5 482.5h1.8M136.5 483h1.8M141 483h1.8M142 483h1.8M142.5 483h1.8M144 483h1.8M147 483h1.8M147.5 483h1.8M149 483h1.8M152 483h1.8M152.5 483h1.8M155 483h1.8M159.5 483h1.8M160.5 483h1.8M163 483h1.8M164.5 483h1.8M165 483h1.8M168.5 483h1.8M171 483h1.8M172.5 483h1.8M174 483h1.8M175.5 483h1.8M177.5 483h1.8M178.5 483h1.8M179 483h1.8M179.5 483h1.8M181 483h1.8M185 483h1.8M194 483h1.8M197 483h1.8M201.5 483h1.8M207 483h1.8M213 483h1.8M214 483h1.8M217 483h1.8M219 483h1.8M224.5 483h1.8M228 483h1.8M236.5 483h1.8M247 483h1.8M266.5 483h1.8M131 483.5h1.8M139.5 483.5h1.8M140 483.5h1.8M140.5 483.5h1.8M142.5 483.5h1.8M144 483.5h1.8M145.5 483.5h1.8M147 483.5h1.8M149 483.5h1.8M151 483.5h1.8M151.5 483.5h1.8M152 483.5h1.8M152.5 483.5h1.8M153 483.5h1.8M153.5 483.5h1.8M154 483.5h1.8M158 483.5h1.8M160 483.5h1.8M160.5 483.5h1.8M165 483.5h1.8M165.5 483.5h1.8M166.5 483.5h1.8M167 483.5h1.8M167.5 483.5h1.8M168 483.5h1.8M170 483.5h1.8M171 483.5h1.8M173 483.5h1.8M174 483.5h1.8M174.5 483.5h1.8M175 483.5h1.8M176.5 483.5h1.8M178 483.5h1.8M178.5 483.5h1.8M183 483.5h1.8M184.5 483.5h1.8M186 483.5h1.8M187 483.5h1.8M195 483.5h1.8M201.5 483.5h1.8M212 483.5h1.8M212.5 483.5h1.8M218.5 483.5h1.8M230.5 483.5h1.8M236.5 483.5h1.8M247.5 483.5h1.8M252.5 483.5h1.8M253.5 483.5h1.8M254 483.5h1.8M268 483.5h1.8M138 484h1.8M139 484h1.8M142.5 484h1.8M143 484h1.8M147 484h1.8M149.5 484h1.8M150.5 484h1.8M151.5 484h1.8M152 484h1.8M152.5 484h1.8M156.5 484h1.8M157 484h1.8M157.5 484h1.8M160.5 484h1.8M161.5 484h1.8M162 484h1.8M162.5 484h1.8M163 484h1.8M164.5 484h1.8M165 484h1.8M165.5 484h1.8M166.5 484h1.8M170 484h1.8M171 484h1.8M171.5 484h1.8M172.5 484h1.8M173 484h1.8M173.5 484h1.8M175.5 484h1.8M176.5 484h1.8M177 484h1.8M179.5 484h1.8M180 484h1.8M181 484h1.8M181.5 484h1.8M183 484h1.8M188.5 484h1.8M195.5 484h1.8M198 484h1.8M199.5 484h1.8M210.5 484h1.8M211.5 484h1.8M217.5 484h1.8M221.5 484h1.8M225.5 484h1.8M232.5 484h1.8M265.5 484h1.8M274 484h1.8M131.5 484.5h1.8M132.5 484.5h1.8M136 484.5h1.8M140 484.5h1.8M140.5 484.5h1.8M143.5 484.5h1.8M145 484.5h1.8M145.5 484.5h1.8M146.5 484.5h1.8M148 484.5h1.8M148.5 484.5h1.8M149 484.5h1.8M149.5 484.5h1.8M151 484.5h1.8M154 484.5h1.8M154.5 484.5h1.8M155.5 484.5h1.8M157 484.5h1.8M158.5 484.5h1.8M159 484.5h1.8M160 484.5h1.8M161 484.5h1.8M161.5 484.5h1.8M162.5 484.5h1.8M165.5 484.5h1.8M168.5 484.5h1.8M169.5 484.5h1.8M171 484.5h1.8M171.5 484.5h1.8M173 484.5h1.8M174 484.5h1.8M175 484.5h1.8M176 484.5h1.8M176.5 484.5h1.8M177.5 484.5h1.8M178 484.5h1.8M179 484.5h1.8M180 484.5h1.8M180.5 484.5h1.8M181 484.5h1.8M184.5 484.5h1.8M185.5 484.5h1.8M187 484.5h1.8M191 484.5h1.8M201 484.5h1.8M204.5 484.5h1.8M220 484.5h1.8M229.5 484.5h1.8M240.5 484.5h1.8M252 484.5h1.8M254.5 484.5h1.8M138.5 485h1.8M139.5 485h1.8M142 485h1.8M145 485h1.8M146 485h1.8M146.5 485h1.8M147 485h1.8M148.5 485h1.8M149 485h1.8M149.5 485h1.8M151.5 485h1.8M154 485h1.8M155 485h1.8M156.5 485h1.8M158 485h1.8M159 485h1.8M159.5 485h1.8M160 485h1.8M162 485h1.8M163.5 485h1.8M165 485h1.8M166 485h1.8M170 485h1.8M170.5 485h1.8M171 485h1.8M174.5 485h1.8M175.5 485h1.8M179 485h1.8M182 485h1.8M186 485h1.8M198.5 485h1.8M203.5 485h1.8M205 485h1.8M214 485h1.8M216 485h1.8M258 485h1.8M130 485.5h1.8M140 485.5h1.8M141 485.5h1.8M141.5 485.5h1.8M144.5 485.5h1.8M147.5 485.5h1.8M150.5 485.5h1.8M151.5 485.5h1.8M152 485.5h1.8M153.5 485.5h1.8M157 485.5h1.8M157.5 485.5h1.8M158 485.5h1.8M158.5 485.5h1.8M159 485.5h1.8M159.5 485.5h1.8M160 485.5h1.8M160.5 485.5h1.8M162.5 485.5h1.8M167 485.5h1.8M167.5 485.5h1.8M169 485.5h1.8M171 485.5h1.8M174.5 485.5h1.8M175 485.5h1.8M176.5 485.5h1.8M177.5 485.5h1.8M182 485.5h1.8M183 485.5h1.8M196 485.5h1.8M198.5 485.5h1.8M205 485.5h1.8M211.5 485.5h1.8M215.5 485.5h1.8M219.5 485.5h1.8M224 485.5h1.8M239.5 485.5h1.8M276 485.5h1.8M133 486h1.8M141 486h1.8M142.5 486h1.8M143 486h1.8M143.5 486h1.8M144 486h1.8M145 486h1.8M146.5 486h1.8M147 486h1.8M148 486h1.8M148.5 486h1.8M149 486h1.8M149.5 486h1.8M154.5 486h1.8M155.5 486h1.8M156 486h1.8M157.5 486h1.8M158 486h1.8M158.5 486h1.8M159.5 486h1.8M160 486h1.8M160.5 486h1.8M163 486h1.8M164 486h1.8M165 486h1.8M166 486h1.8M166.5 486h1.8M167.5 486h1.8M172.5 486h1.8M175 486h1.8M175.5 486h1.8M176.5 486h1.8M177 486h1.8M179.5 486h1.8M181 486h1.8M181.5 486h1.8M182 486h1.8M183.5 486h1.8M194 486h1.8M196 486h1.8M199 486h1.8M204 486h1.8M204.5 486h1.8M207 486h1.8M218 486h1.8M230.5 486h1.8M233 486h1.8M241.5 486h1.8M275 486h1.8M130 486.5h1.8M143.5 486.5h1.8M145 486.5h1.8M145.5 486.5h1.8M148 486.5h1.8M149 486.5h1.8M149.5 486.5h1.8M151.5 486.5h1.8M154 486.5h1.8M154.5 486.5h1.8M155 486.5h1.8M157.5 486.5h1.8M158 486.5h1.8M158.5 486.5h1.8M159 486.5h1.8M159.5 486.5h1.8M163 486.5h1.8M165 486.5h1.8M167 486.5h1.8M169 486.5h1.8M173.5 486.5h1.8M174 486.5h1.8M174.5 486.5h1.8M176.5 486.5h1.8M179.5 486.5h1.8M180 486.5h1.8M181.5 486.5h1.8M185.5 486.5h1.8M186 486.5h1.8M188.5 486.5h1.8M190 486.5h1.8M196 486.5h1.8M197 486.5h1.8M199 486.5h1.8M201 486.5h1.8M222 486.5h1.8M237 486.5h1.8M264.5 486.5h1.8M133.5 487h1.8M136 487h1.8M141 487h1.8M142 487h1.8M144.5 487h1.8M145 487h1.8M146 487h1.8M151.5 487h1.8M152 487h1.8M152.5 487h1.8M156 487h1.8M156.5 487h1.8M158 487h1.8M159 487h1.8M159.5 487h1.8M161 487h1.8M161.5 487h1.8M164.5 487h1.8M166 487h1.8M166.5 487h1.8M168.5 487h1.8M169 487h1.8M170 487h1.8M171.5 487h1.8M172 487h1.8M173.5 487h1.8M174.5 487h1.8M175 487h1.8M175.5 487h1.8M177 487h1.8M178.5 487h1.8M182.5 487h1.8M185 487h1.8M186 487h1.8M193 487h1.8M198 487h1.8M201.5 487h1.8M205.5 487h1.8M207.5 487h1.8M214 487h1.8M214.5 487h1.8M227 487h1.8M234 487h1.8M242.5 487h1.8M248.5 487h1.8M139 487.5h1.8M141.5 487.5h1.8M148.5 487.5h1.8M149 487.5h1.8M151 487.5h1.8M152.5 487.5h1.8M153 487.5h1.8M154 487.5h1.8M155.5 487.5h1.8M156.5 487.5h1.8M159 487.5h1.8M162.5 487.5h1.8M163 487.5h1.8M165 487.5h1.8M166 487.5h1.8M168 487.5h1.8M169.5 487.5h1.8M170.5 487.5h1.8M171 487.5h1.8M171.5 487.5h1.8M172 487.5h1.8M172.5 487.5h1.8M173.5 487.5h1.8M175 487.5h1.8M175.5 487.5h1.8M176 487.5h1.8M177.5 487.5h1.8M178.5 487.5h1.8M181.5 487.5h1.8M195.5 487.5h1.8M199 487.5h1.8M205.5 487.5h1.8M211.5 487.5h1.8M221 487.5h1.8M221.5 487.5h1.8M248.5 487.5h1.8M261 487.5h1.8M138 488h1.8M140 488h1.8M140.5 488h1.8M141 488h1.8M142 488h1.8M144 488h1.8M145.5 488h1.8M148 488h1.8M150.5 488h1.8M151 488h1.8M152.5 488h1.8M153.5 488h1.8M154.5 488h1.8M155 488h1.8M155.5 488h1.8M156 488h1.8M157.5 488h1.8M159 488h1.8M160 488h1.8M160.5 488h1.8M161 488h1.8M163.5 488h1.8M166 488h1.8M168 488h1.8M169.5 488h1.8M170.5 488h1.8M171 488h1.8M172 488h1.8M173 488h1.8M174.5 488h1.8M175.5 488h1.8M178.5 488h1.8M179 488h1.8M183 488h1.8M185.5 488h1.8M189.5 488h1.8M191.5 488h1.8M204.5 488h1.8M205.5 488h1.8M206 488h1.8M210.5 488h1.8M217 488h1.8M221.5 488h1.8M222 488h1.8M228 488h1.8M279 488h1.8M140 488.5h1.8M141.5 488.5h1.8M142 488.5h1.8M143 488.5h1.8M143.5 488.5h1.8M148.5 488.5h1.8M149 488.5h1.8M150.5 488.5h1.8M152 488.5h1.8M155.5 488.5h1.8M156 488.5h1.8M156.5 488.5h1.8M159 488.5h1.8M160.5 488.5h1.8M162.5 488.5h1.8M163 488.5h1.8M163.5 488.5h1.8M166.5 488.5h1.8M168 488.5h1.8M169 488.5h1.8M169.5 488.5h1.8M171 488.5h1.8M172 488.5h1.8M172.5 488.5h1.8M173.5 488.5h1.8M174 488.5h1.8M175 488.5h1.8M175.5 488.5h1.8M179 488.5h1.8M182 488.5h1.8M183.5 488.5h1.8M191.5 488.5h1.8M194.5 488.5h1.8M199.5 488.5h1.8M202.5 488.5h1.8M204.5 488.5h1.8M217 488.5h1.8M225.5 488.5h1.8M232 488.5h1.8M261.5 488.5h1.8M133.5 489h1.8M135.5 489h1.8M136 489h1.8M136.5 489h1.8M139 489h1.8M139.5 489h1.8M140.5 489h1.8M141 489h1.8M142.5 489h1.8M144 489h1.8M145.5 489h1.8M148.5 489h1.8M151 489h1.8M151.5 489h1.8M152 489h1.8M152.5 489h1.8M153.5 489h1.8M155 489h1.8M156 489h1.8M156.5 489h1.8M157 489h1.8M157.5 489h1.8M158 489h1.8M160 489h1.8M161 489h1.8M161.5 489h1.8M163 489h1.8M163.5 489h1.8M164 489h1.8M164.5 489h1.8M166 489h1.8M166.5 489h1.8M168.5 489h1.8M170.5 489h1.8M172.5 489h1.8M173.5 489h1.8M175.5 489h1.8M176 489h1.8M178.5 489h1.8M183.5 489h1.8M186 489h1.8M189.5 489h1.8M198.5 489h1.8M205.5 489h1.8M215.5 489h1.8M234 489h1.8M237 489h1.8M239.5 489h1.8M132.5 489.5h1.8M135.5 489.5h1.8M137 489.5h1.8M139 489.5h1.8M149.5 489.5h1.8M150 489.5h1.8M151.5 489.5h1.8M153 489.5h1.8M153.5 489.5h1.8M155.5 489.5h1.8M160 489.5h1.8M161 489.5h1.8M164 489.5h1.8M166.5 489.5h1.8M167 489.5h1.8M168 489.5h1.8M168.5 489.5h1.8M170 489.5h1.8M171.5 489.5h1.8M172 489.5h1.8M172.5 489.5h1.8M173.5 489.5h1.8M174 489.5h1.8M175 489.5h1.8M175.5 489.5h1.8M177 489.5h1.8M178.5 489.5h1.8M179.5 489.5h1.8M181 489.5h1.8M186.5 489.5h1.8M202 489.5h1.8M218 489.5h1.8M218.5 489.5h1.8M223 489.5h1.8M243 489.5h1.8M262 489.5h1.8M135 490h1.8M135.5 490h1.8M136 490h1.8M141.5 490h1.8M144.5 490h1.8M148.5 490h1.8M151.5 490h1.8M152.5 490h1.8M153 490h1.8M154 490h1.8M156.5 490h1.8M158.5 490h1.8M159 490h1.8M159.5 490h1.8M161 490h1.8M162 490h1.8M168.5 490h1.8M170 490h1.8M170.5 490h1.8M171 490h1.8M172 490h1.8M172.5 490h1.8M173 490h1.8M177.5 490h1.8M178 490h1.8M178.5 490h1.8M181 490h1.8M183.5 490h1.8M185.5 490h1.8M190 490h1.8M208.5 490h1.8M216.5 490h1.8M222 490h1.8M249 490h1.8M264.5 490h1.8M134 490.5h1.8M135 490.5h1.8M136.5 490.5h1.8M143 490.5h1.8M143.5 490.5h1.8M146 490.5h1.8M147 490.5h1.8M148 490.5h1.8M150 490.5h1.8M150.5 490.5h1.8M151.5 490.5h1.8M152.5 490.5h1.8M155 490.5h1.8M156.5 490.5h1.8M157.5 490.5h1.8M160 490.5h1.8M162 490.5h1.8M163.5 490.5h1.8M166.5 490.5h1.8M168 490.5h1.8M170.5 490.5h1.8M175 490.5h1.8M175.5 490.5h1.8M176 490.5h1.8M176.5 490.5h1.8M178 490.5h1.8M179 490.5h1.8M218 490.5h1.8M222 490.5h1.8M228 490.5h1.8M263.5 490.5h1.8M135 491h1.8M137 491h1.8M138.5 491h1.8M143 491h1.8M144 491h1.8M145.5 491h1.8M146 491h1.8M146.5 491h1.8M147.5 491h1.8M150 491h1.8M150.5 491h1.8M152.5 491h1.8M154.5 491h1.8M155 491h1.8M156 491h1.8M157 491h1.8M160 491h1.8M160.5 491h1.8M163 491h1.8M164 491h1.8M164.5 491h1.8M165 491h1.8M167 491h1.8M168 491h1.8M170.5 491h1.8M176 491h1.8M176.5 491h1.8M178 491h1.8M185.5 491h1.8M190.5 491h1.8M211.5 491h1.8M212 491h1.8M214 491h1.8M226.5 491h1.8M240.5 491h1.8M134 491.5h1.8M134.5 491.5h1.8M137.5 491.5h1.8M144 491.5h1.8M145 491.5h1.8M146 491.5h1.8M146.5 491.5h1.8M149 491.5h1.8M150.5 491.5h1.8M154 491.5h1.8M155.5 491.5h1.8M157 491.5h1.8M157.5 491.5h1.8M158.5 491.5h1.8M159 491.5h1.8M160 491.5h1.8M161 491.5h1.8M162.5 491.5h1.8M163 491.5h1.8M164 491.5h1.8M165.5 491.5h1.8M166 491.5h1.8M167.5 491.5h1.8M168.5 491.5h1.8M169 491.5h1.8M171.5 491.5h1.8M176.5 491.5h1.8M181 491.5h1.8M182 491.5h1.8M183 491.5h1.8M184.5 491.5h1.8M193 491.5h1.8M199.5 491.5h1.8M200 491.5h1.8M205 491.5h1.8M209 491.5h1.8M213.5 491.5h1.8M216.5 491.5h1.8M219 491.5h1.8M221 491.5h1.8M223 491.5h1.8M136.5 492h1.8M137.5 492h1.8M139 492h1.8M141.5 492h1.8M143.5 492h1.8M144.5 492h1.8M145.5 492h1.8M148.5 492h1.8M150 492h1.8M151 492h1.8M151.5 492h1.8M155 492h1.8M156 492h1.8M157.5 492h1.8M158 492h1.8M158.5 492h1.8M159.5 492h1.8M160.5 492h1.8M161 492h1.8M163 492h1.8M164 492h1.8M165.5 492h1.8M167 492h1.8M172 492h1.8M173 492h1.8M173.5 492h1.8M174 492h1.8M174.5 492h1.8M175 492h1.8M177.5 492h1.8M179 492h1.8M187 492h1.8M200 492h1.8M214 492h1.8M222 492h1.8M224.5 492h1.8M226 492h1.8M258.5 492h1.8M266.5 492h1.8M270.5 492h1.8M137.5 492.5h1.8M138.5 492.5h1.8M141.5 492.5h1.8M144 492.5h1.8M144.5 492.5h1.8M146.5 492.5h1.8M147.5 492.5h1.8M148.5 492.5h1.8M149 492.5h1.8M150 492.5h1.8M151 492.5h1.8M151.5 492.5h1.8M152.5 492.5h1.8M155 492.5h1.8M157 492.5h1.8M157.5 492.5h1.8M158 492.5h1.8M158.5 492.5h1.8M159 492.5h1.8M160 492.5h1.8M160.5 492.5h1.8M161 492.5h1.8M163.5 492.5h1.8M167.5 492.5h1.8M171 492.5h1.8M173 492.5h1.8M173.5 492.5h1.8M175 492.5h1.8M177 492.5h1.8M182 492.5h1.8M186.5 492.5h1.8M190.5 492.5h1.8M197 492.5h1.8M199 492.5h1.8M206 492.5h1.8M225 492.5h1.8M229 492.5h1.8M230 492.5h1.8M245.5 492.5h1.8M264.5 492.5h1.8M136.5 493h1.8M137.5 493h1.8M140 493h1.8M143.5 493h1.8M146.5 493h1.8M147 493h1.8M147.5 493h1.8M150.5 493h1.8M151 493h1.8M153 493h1.8M154 493h1.8M154.5 493h1.8M155 493h1.8M156.5 493h1.8M159 493h1.8M159.5 493h1.8M160 493h1.8M160.5 493h1.8M161 493h1.8M162 493h1.8M163 493h1.8M163.5 493h1.8M165 493h1.8M166 493h1.8M167.5 493h1.8M169 493h1.8M171 493h1.8M174 493h1.8M177 493h1.8M186 493h1.8M189.5 493h1.8M190 493h1.8M201.5 493h1.8M220.5 493h1.8M265.5 493h1.8M135.5 493.5h1.8M136 493.5h1.8M139 493.5h1.8M140.5 493.5h1.8M142.5 493.5h1.8M143 493.5h1.8M143.5 493.5h1.8M147 493.5h1.8M148 493.5h1.8M148.5 493.5h1.8M150 493.5h1.8M151.5 493.5h1.8M152 493.5h1.8M154 493.5h1.8M157 493.5h1.8M161 493.5h1.8M163 493.5h1.8M163.5 493.5h1.8M164 493.5h1.8M164.5 493.5h1.8M168 493.5h1.8M170 493.5h1.8M170.5 493.5h1.8M172 493.5h1.8M175.5 493.5h1.8M177.5 493.5h1.8M181 493.5h1.8M189 493.5h1.8M193.5 493.5h1.8M199.5 493.5h1.8M207 493.5h1.8M213.5 493.5h1.8M235.5 493.5h1.8M243 493.5h1.8M133.5 494h1.8M134 494h1.8M136.5 494h1.8M140 494h1.8M140.5 494h1.8M145.5 494h1.8M146 494h1.8M146.5 494h1.8M149 494h1.8M151.5 494h1.8M152.5 494h1.8M154 494h1.8M155 494h1.8M156 494h1.8M158 494h1.8M158.5 494h1.8M159 494h1.8M160 494h1.8M162.5 494h1.8M163 494h1.8M165.5 494h1.8M167.5 494h1.8M168.5 494h1.8M174 494h1.8M175 494h1.8M183 494h1.8M190.5 494h1.8M192.5 494h1.8M194 494h1.8M201.5 494h1.8M223.5 494h1.8M228 494h1.8M233.5 494h1.8M275.5 494h1.8M133 494.5h1.8M134.5 494.5h1.8M139.5 494.5h1.8M140.5 494.5h1.8M142 494.5h1.8M145 494.5h1.8M148 494.5h1.8M150.5 494.5h1.8M152 494.5h1.8M153 494.5h1.8M155.5 494.5h1.8M156 494.5h1.8M157.5 494.5h1.8M159 494.5h1.8M162 494.5h1.8M162.5 494.5h1.8M163.5 494.5h1.8M165 494.5h1.8M166.5 494.5h1.8M168 494.5h1.8M168.5 494.5h1.8M169 494.5h1.8M170.5 494.5h1.8M173 494.5h1.8M175.5 494.5h1.8M192 494.5h1.8M202 494.5h1.8M203 494.5h1.8M212 494.5h1.8M216.5 494.5h1.8M223 494.5h1.8M266.5 494.5h1.8M268 494.5h1.8M131.5 495h1.8M136 495h1.8M141 495h1.8M143 495h1.8M143.5 495h1.8M144 495h1.8M145.5 495h1.8M147 495h1.8M148 495h1.8M150 495h1.8M152.5 495h1.8M153 495h1.8M153.5 495h1.8M155 495h1.8M156 495h1.8M157 495h1.8M158 495h1.8M159.5 495h1.8M160.5 495h1.8M163.5 495h1.8M164.5 495h1.8M165.5 495h1.8M167 495h1.8M167.5 495h1.8M168 495h1.8M168.5 495h1.8M169.5 495h1.8M170 495h1.8M170.5 495h1.8M173 495h1.8M174.5 495h1.8M184.5 495h1.8M185 495h1.8M190.5 495h1.8M191.5 495h1.8M201.5 495h1.8M209.5 495h1.8M214.5 495h1.8M217.5 495h1.8M218.5 495h1.8M225 495h1.8M226.5 495h1.8M227 495h1.8M237.5 495h1.8M131.5 495.5h1.8M134 495.5h1.8M135.5 495.5h1.8M139 495.5h1.8M140 495.5h1.8M144 495.5h1.8M145 495.5h1.8M146 495.5h1.8M147.5 495.5h1.8M148 495.5h1.8M150.5 495.5h1.8M153 495.5h1.8M153.5 495.5h1.8M154.5 495.5h1.8M160 495.5h1.8M160.5 495.5h1.8M161 495.5h1.8M161.5 495.5h1.8M163.5 495.5h1.8M167 495.5h1.8M168.5 495.5h1.8M170 495.5h1.8M173 495.5h1.8M175 495.5h1.8M177 495.5h1.8M179 495.5h1.8M180 495.5h1.8M185 495.5h1.8M187 495.5h1.8M190.5 495.5h1.8M222 495.5h1.8M226.5 495.5h1.8M236 495.5h1.8M270.5 495.5h1.8M129 496h1.8M134.5 496h1.8M136.5 496h1.8M137 496h1.8M140.5 496h1.8M143.5 496h1.8M146.5 496h1.8M154 496h1.8M155.5 496h1.8M156.5 496h1.8M160 496h1.8M163 496h1.8M163.5 496h1.8M164 496h1.8M164.5 496h1.8M165 496h1.8M165.5 496h1.8M166.5 496h1.8M168 496h1.8M170 496h1.8M170.5 496h1.8M175 496h1.8M182.5 496h1.8M183.5 496h1.8M187.5 496h1.8M200.5 496h1.8M206.5 496h1.8M226.5 496h1.8M279 496h1.8M131.5 496.5h1.8M134.5 496.5h1.8M135 496.5h1.8M136.5 496.5h1.8M138 496.5h1.8M142 496.5h1.8M143 496.5h1.8M146 496.5h1.8M152 496.5h1.8M153.5 496.5h1.8M156 496.5h1.8M156.5 496.5h1.8M157 496.5h1.8M157.5 496.5h1.8M159 496.5h1.8M161.5 496.5h1.8M162 496.5h1.8M163 496.5h1.8M164 496.5h1.8M168 496.5h1.8M169 496.5h1.8M169.5 496.5h1.8M171 496.5h1.8M172 496.5h1.8M182 496.5h1.8M183 496.5h1.8M183.5 496.5h1.8M184 496.5h1.8M193.5 496.5h1.8M199.5 496.5h1.8M200.5 496.5h1.8M206.5 496.5h1.8M211 496.5h1.8M221 496.5h1.8M234.5 496.5h1.8M248.5 496.5h1.8M130.5 497h1.8M131 497h1.8M135 497h1.8M137 497h1.8M137.5 497h1.8M142.5 497h1.8M147 497h1.8M149 497h1.8M151.5 497h1.8M154 497h1.8M156.5 497h1.8M158.5 497h1.8M160.5 497h1.8M164 497h1.8M165.5 497h1.8M167 497h1.8M167.5 497h1.8M170.5 497h1.8M172.5 497h1.8M177.5 497h1.8M179 497h1.8M197 497h1.8M200.5 497h1.8M205.5 497h1.8M214 497h1.8M223 497h1.8M137.5 497.5h1.8M140 497.5h1.8M140.5 497.5h1.8M142 497.5h1.8M144.5 497.5h1.8M146 497.5h1.8M146.5 497.5h1.8M147 497.5h1.8M149 497.5h1.8M150.5 497.5h1.8M152.5 497.5h1.8M156 497.5h1.8M160 497.5h1.8M162 497.5h1.8M163.5 497.5h1.8M167 497.5h1.8M167.5 497.5h1.8M168.5 497.5h1.8M172 497.5h1.8M201 497.5h1.8M203 497.5h1.8M204 497.5h1.8M212 497.5h1.8M214 497.5h1.8M217.5 497.5h1.8M220.5 497.5h1.8M259.5 497.5h1.8M134.5 498h1.8M138 498h1.8M139 498h1.8M143 498h1.8M143.5 498h1.8M144 498h1.8M145 498h1.8M145.5 498h1.8M147.5 498h1.8M148 498h1.8M152 498h1.8M153 498h1.8M154.5 498h1.8M155 498h1.8M155.5 498h1.8M156 498h1.8M156.5 498h1.8M158 498h1.8M160 498h1.8M161 498h1.8M162.5 498h1.8M163 498h1.8M163.5 498h1.8M164 498h1.8M180.5 498h1.8M217 498h1.8M227.5 498h1.8M232 498h1.8M247.5 498h1.8M135.5 498.5h1.8M137.5 498.5h1.8M138 498.5h1.8M138.5 498.5h1.8M139.5 498.5h1.8M141 498.5h1.8M142.5 498.5h1.8M143 498.5h1.8M143.5 498.5h1.8M145.5 498.5h1.8M146 498.5h1.8M146.5 498.5h1.8M147 498.5h1.8M148.5 498.5h1.8M149 498.5h1.8M152.5 498.5h1.8M153 498.5h1.8M154 498.5h1.8M155.5 498.5h1.8M157 498.5h1.8M159 498.5h1.8M159.5 498.5h1.8M161 498.5h1.8M161.5 498.5h1.8M162 498.5h1.8M163.5 498.5h1.8M164 498.5h1.8M165 498.5h1.8M169 498.5h1.8M175.5 498.5h1.8M176 498.5h1.8M187.5 498.5h1.8M188.5 498.5h1.8M190.5 498.5h1.8M207.5 498.5h1.8M210.5 498.5h1.8M232 498.5h1.8M237 498.5h1.8M250 498.5h1.8M264.5 498.5h1.8M131.5 499h1.8M135.5 499h1.8M136.5 499h1.8M141.5 499h1.8M144.5 499h1.8M145.5 499h1.8M150 499h1.8M150.5 499h1.8M151 499h1.8M152.5 499h1.8M153 499h1.8M153.5 499h1.8M154 499h1.8M155 499h1.8M156.5 499h1.8M158 499h1.8M160 499h1.8M161 499h1.8M161.5 499h1.8M163.5 499h1.8M165.5 499h1.8M179.5 499h1.8M190 499h1.8M191 499h1.8M210.5 499h1.8M213.5 499h1.8M216.5 499h1.8M217.5 499h1.8M219 499h1.8M135 499.5h1.8M136.5 499.5h1.8M137 499.5h1.8M138 499.5h1.8M143 499.5h1.8M144 499.5h1.8M147.5 499.5h1.8M150.5 499.5h1.8M154 499.5h1.8M156 499.5h1.8M157 499.5h1.8M158.5 499.5h1.8M160 499.5h1.8M163.5 499.5h1.8M177 499.5h1.8M182 499.5h1.8M182.5 499.5h1.8M186 499.5h1.8M207.5 499.5h1.8M216 499.5h1.8M220 499.5h1.8M135.5 500h1.8M137.5 500h1.8M143 500h1.8M145.5 500h1.8M146.5 500h1.8M149.5 500h1.8M150 500h1.8M150.5 500h1.8M151.5 500h1.8M153 500h1.8M154.5 500h1.8M155 500h1.8M157 500h1.8M157.5 500h1.8M160.5 500h1.8M161 500h1.8M162 500h1.8M185.5 500h1.8M190.5 500h1.8M194.5 500h1.8M216 500h1.8M221.5 500h1.8M138 500.5h1.8M140.5 500.5h1.8M141 500.5h1.8M144.5 500.5h1.8M145 500.5h1.8M146 500.5h1.8M147.5 500.5h1.8M148 500.5h1.8M149.5 500.5h1.8M151 500.5h1.8M157 500.5h1.8M158.5 500.5h1.8M159.5 500.5h1.8M163 500.5h1.8M164.5 500.5h1.8M168.5 500.5h1.8M193 500.5h1.8M195.5 500.5h1.8M199.5 500.5h1.8M210.5 500.5h1.8M215.5 500.5h1.8M217 500.5h1.8M231.5 500.5h1.8M135.5 501h1.8M139.5 501h1.8M140 501h1.8M143 501h1.8M143.5 501h1.8M145.5 501h1.8M147 501h1.8M149.5 501h1.8M150.5 501h1.8M152.5 501h1.8M153.5 501h1.8M154 501h1.8M154.5 501h1.8M155.5 501h1.8M159 501h1.8M159.5 501h1.8M160.5 501h1.8M171 501h1.8M172 501h1.8M192.5 501h1.8M194.5 501h1.8M232.5 501h1.8M257.5 501h1.8M284 501h1.8M134.5 501.5h1.8M140.5 501.5h1.8M141 501.5h1.8M144.5 501.5h1.8M145.5 501.5h1.8M146 501.5h1.8M148 501.5h1.8M153.5 501.5h1.8M154 501.5h1.8M154.5 501.5h1.8M163 501.5h1.8M163.5 501.5h1.8M175 501.5h1.8M181 501.5h1.8M190.5 501.5h1.8M204 501.5h1.8M219.5 501.5h1.8M220 501.5h1.8M223.5 501.5h1.8M137 502h1.8M137.5 502h1.8M140.5 502h1.8M141.5 502h1.8M144 502h1.8M145.5 502h1.8M149.5 502h1.8M150 502h1.8M151.5 502h1.8M152 502h1.8M172.5 502h1.8M180 502h1.8M180.5 502h1.8M132 502.5h1.8M140 502.5h1.8M144 502.5h1.8M151 502.5h1.8M151.5 502.5h1.8M152 502.5h1.8M153 502.5h1.8M155.5 502.5h1.8M157 502.5h1.8M173 502.5h1.8M176 502.5h1.8M179.5 502.5h1.8M181.5 502.5h1.8M189.5 502.5h1.8M198 502.5h1.8M207.5 502.5h1.8M214.5 502.5h1.8M215.5 502.5h1.8M129 503h1.8M139 503h1.8M143.5 503h1.8M145 503h1.8M147 503h1.8M148 503h1.8M149.5 503h1.8M150.5 503h1.8M153.5 503h1.8M154.5 503h1.8M160.5 503h1.8M170.5 503h1.8M186.5 503h1.8M195 503h1.8M213.5 503h1.8M220 503h1.8M257 503h1.8M137.5 503.5h1.8M140.5 503.5h1.8M144.5 503.5h1.8M149 503.5h1.8M164 503.5h1.8M166 503.5h1.8M169.5 503.5h1.8M172.5 503.5h1.8M176 503.5h1.8M184.5 503.5h1.8M190 503.5h1.8M193 503.5h1.8M202 503.5h1.8M224.5 503.5h1.8M256 503.5h1.8M137.5 504h1.8M142.5 504h1.8M145 504h1.8M146.5 504h1.8M148.5 504h1.8M154 504h1.8M162 504h1.8M162.5 504h1.8M172.5 504h1.8M180 504h1.8M181.5 504h1.8M183.5 504h1.8M199.5 504h1.8M203 504h1.8M207.5 504h1.8M133.5 504.5h1.8M147 504.5h1.8M149 504.5h1.8M153 504.5h1.8M168.5 504.5h1.8M190.5 504.5h1.8M196.5 504.5h1.8M206 504.5h1.8M129 505h1.8M130 505h1.8M141 505h1.8M153.5 505h1.8M157 505h1.8M176 505h1.8M178.5 505h1.8M189 505h1.8M142.5 505.5h1.8M143 505.5h1.8M145 505.5h1.8M148 505.5h1.8M152 505.5h1.8M156.5 505.5h1.8M159 505.5h1.8M161 505.5h1.8M165 505.5h1.8M177 505.5h1.8M177.5 505.5h1.8M205 505.5h1.8M135 506h1.8M140.5 506h1.8M149.5 506h1.8M171.5 506h1.8M180 506h1.8M214 506h1.8M217 506h1.8M146.5 506.5h1.8M148 506.5h1.8M156 506.5h1.8M159 506.5h1.8M167 506.5h1.8M168 506.5h1.8M197.5 506.5h1.8M231 506.5h1.8M149 507h1.8M162 507h1.8M163 507h1.8M168.5 507h1.8M201 507h1.8M244 507h1.8M255 507h1.8M130.5 507.5h1.8M133 507.5h1.8M137 507.5h1.8M176.5 507.5h1.8M211 507.5h1.8M242.5 507.5h1.8M153.5 508h1.8M223.5 508h1.8M132 508.5h1.8M214 508.5h1.8M255 508.5h1.8M132.5 509h1.8M137.5 509h1.8M172.5 509h1.8M176 509h1.8M221 509h1.8M141 509.5h1.8M146.5 509.5h1.8M151 509.5h1.8M164 509.5h1.8M180.5 509.5h1.8M211.5 509.5h1.8M130.5 510h1.8M135 510h1.8M138 510h1.8M151.5 510h1.8M169 510h1.8M170.5 510h1.8M175 510h1.8M192.5 510h1.8M264 510h1.8M277.5 510h1.8M141 510.5h1.8M168 510.5h1.8M177.5 510.5h1.8M179.5 510.5h1.8M137 511h1.8M158.5 511h1.8M199 511h1.8M128.5 511.5h1.8M133 511.5h1.8M133.5 511.5h1.8M135.5 511.5h1.8M136.5 511.5h1.8M137 511.5h1.8M140.5 511.5h1.8M142.5 511.5h1.8M146 511.5h1.8M148.5 511.5h1.8M151 511.5h1.8M155 511.5h1.8M159 511.5h1.8M162 511.5h1.8M164.5 511.5h1.8M166 511.5h1.8M175.5 511.5h1.8M184 511.5h1.8M188.5 511.5h1.8M193 511.5h1.8M201 511.5h1.8M217.5 511.5h1.8M240.5 511.5h1.8M251 511.5h1.8M127.5 512h1.8M128 512h1.8M128.5 512h1.8M140.5 512h1.8M141 512h1.8M143 512h1.8M145 512h1.8M155.5 512h1.8M165.5 512h1.8M180.5 512h1.8M198.5 512h1.8M242 512h1.8M129 512.5h1.8M138.5 512.5h1.8M140 512.5h1.8M142 512.5h1.8M143.5 512.5h1.8M150.5 512.5h1.8M162.5 512.5h1.8M166.5 512.5h1.8M175 512.5h1.8M192 512.5h1.8M197.5 512.5h1.8M218.5 512.5h1.8M221 512.5h1.8M244 512.5h1.8M140 513h1.8M161 513h1.8" stroke="#00f800" stroke-width="1.8" fill="none"/><path d="M127.7 512.4H246.2" stroke="#00f800" stroke-width="1.6" fill="none"/><path d="M246.2 512.4H291.2" stroke="#00f800" stroke-width="1.6" stroke-dasharray="3 2 1 4 2 3" fill="none"/><path d="M126.7 333.3V513.8" stroke="#111" stroke-width="1.5" fill="none"/><path d="M126.0 333.3H322.9V513.8H126.0" stroke="#111" stroke-width="1.5" fill="none"/><path d="M126.7 426.4H322.9M246.2 333.3V513.8" stroke="#111" stroke-width="1.6" fill="none"/><path d="M128.0 513.8v5.5M126.7 513.8h-5.5M142.6 513.8v3M126.7 500.2h-3M151.1 513.8v3M126.7 492.3h-3M157.1 513.8v3M126.7 486.6h-3M161.8 513.8v3M126.7 482.3h-3M165.7 513.8v3M126.7 478.7h-3M168.9 513.8v3M126.7 475.7h-3M171.7 513.8v3M126.7 473.1h-3M174.2 513.8v3M126.7 470.8h-3M176.4 513.8v5.5M126.7 468.7h-5.5M191.0 513.8v3M126.7 455.1h-3M199.5 513.8v3M126.7 447.2h-3M205.5 513.8v3M126.7 441.5h-3M210.2 513.8v3M126.7 437.2h-3M214.1 513.8v3M126.7 433.6h-3M217.3 513.8v3M126.7 430.6h-3M220.1 513.8v3M126.7 428.0h-3M222.6 513.8v3M126.7 425.7h-3M224.8 513.8v5.5M126.7 423.6h-5.5M239.4 513.8v3M126.7 410.0h-3M247.9 513.8v3M126.7 402.1h-3M253.9 513.8v3M126.7 396.4h-3M258.6 513.8v3M126.7 392.1h-3M262.5 513.8v3M126.7 388.5h-3M265.7 513.8v3M126.7 385.5h-3M268.5 513.8v3M126.7 382.9h-3M271.0 513.8v3M126.7 380.6h-3M273.2 513.8v5.5M126.7 378.5h-5.5M287.8 513.8v3M126.7 364.9h-3M296.3 513.8v3M126.7 357.0h-3M302.3 513.8v3M126.7 351.3h-3M307.0 513.8v3M126.7 347.0h-3M310.9 513.8v3M126.7 343.4h-3M314.1 513.8v3M126.7 340.4h-3M316.9 513.8v3M126.7 337.8h-3M319.4 513.8v3M126.7 335.5h-3M321.6 513.8v5.5M126.7 333.4h-5.5" stroke="#111" stroke-width="1.3" fill="none"/><text x="126.5" y="533.6" font-size="12" text-anchor="middle" style="stroke-width:0.12px" font-family='"Liberation Sans", sans-serif'>10<tspan dy="-5.7">0</tspan></text><text transform="translate(117.7,514.3) rotate(-90)" font-size="12" text-anchor="middle" style="stroke-width:0.12px" font-family='"Liberation Sans", sans-serif'>10<tspan dy="-5.2">0</tspan></text><text x="174.9" y="533.6" font-size="12" text-anchor="middle" style="stroke-width:0.12px" font-family='"Liberation Sans", sans-serif'>10<tspan dy="-5.7">1</tspan></text><text transform="translate(117.7,469.2) rotate(-90)" font-size="12" text-anchor="middle" style="stroke-width:0.12px" font-family='"Liberation Sans", sans-serif'>10<tspan dy="-5.2">1</tspan></text><text x="223.3" y="533.6" font-size="12" text-anchor="middle" style="stroke-width:0.12px" font-family='"Liberation Sans", sans-serif'>10<tspan dy="-5.7">2</tspan></text><text transform="translate(117.7,424.1) rotate(-90)" font-size="12" text-anchor="middle" style="stroke-width:0.12px" font-family='"Liberation Sans", sans-serif'>10<tspan dy="-5.2">2</tspan></text><text x="271.7" y="533.6" font-size="12" text-anchor="middle" style="stroke-width:0.12px" font-family='"Liberation Sans", sans-serif'>10<tspan dy="-5.7">3</tspan></text><text transform="translate(117.7,379.0) rotate(-90)" font-size="12" text-anchor="middle" style="stroke-width:0.12px" font-family='"Liberation Sans", sans-serif'>10<tspan dy="-5.2">3</tspan></text><text x="320.1" y="533.6" font-size="12" text-anchor="middle" style="stroke-width:0.12px" font-family='"Liberation Sans", sans-serif'>10<tspan dy="-5.7">4</tspan></text><text transform="translate(117.7,333.9) rotate(-90)" font-size="12" text-anchor="middle" style="stroke-width:0.12px" font-family='"Liberation Sans", sans-serif'>10<tspan dy="-5.2">4</tspan></text><text x="222.8" y="545.3" font-size="11.6" text-anchor="middle" style="stroke-width:0.15px" font-family='"Liberation Sans", sans-serif'>FL1-H</text><text transform="translate(101.0,424.9) rotate(-90)" font-size="11.6" text-anchor="middle" style="stroke-width:0.15px" font-family='"Liberation Sans", sans-serif'>FL3-H</text><text x="232.5" y="325.6" font-size="19" text-anchor="middle" font-family='"Liberation Sans", sans-serif'>RVT</text><text x="319.4" y="343.7" font-size="12" text-anchor="end" fill="#1a1a1a" style="stroke:none" font-family='"Liberation Sans", sans-serif'>4.63±1.6%</text><text x="319.7" y="508.4" font-size="12" text-anchor="end" fill="#1a1a1a" style="stroke:none" font-family='"Liberation Sans", sans-serif'>4.08±1.47%</text><path d="M536.5 335.5h1.8M515.5 336h1.8M537 336h1.8M541.5 336h1.8M523.5 338h1.8M526.5 338h1.8M544 338h1.8M528 338.5h1.8M543 339h1.8M521 339.5h1.8M536.5 339.5h1.8M488 340h1.8M541.5 340h1.8M534.5 341h1.8M540 342h1.8M518 342.5h1.8M526 342.5h1.8M529 342.5h1.8M528 343.5h1.8M532.5 343.5h1.8M539.5 343.5h1.8M532 344h1.8M533 344h1.8M537 344.5h1.8M557 344.5h1.8M530 345h1.8M538 345h1.8M522 345.5h1.8M538.5 345.5h1.8M543.5 345.5h1.8M529.5 346h1.8M528.5 346.5h1.8M533 346.5h1.8M503 348.5h1.8M531.5 348.5h1.8M542 349h1.8M543.5 349h1.8M550.5 349h1.8M515 349.5h1.8M538 349.5h1.8M544 349.5h1.8M505.5 350h1.8M556 350h1.8M507 350.5h1.8M535.5 350.5h1.8M513.5 351h1.8M527 351h1.8M533.5 351h1.8M534 351h1.8M539.5 351h1.8M545.5 351h1.8M503 351.5h1.8M549.5 351.5h1.8M530 352h1.8M532 352h1.8M540.5 352h1.8M549.5 352h1.8M564 352h1.8M496.5 352.5h1.8M511.5 352.5h1.8M523 352.5h1.8M533.5 352.5h1.8M546.5 352.5h1.8M552 352.5h1.8M522.5 353h1.8M535.5 353h1.8M516.5 353.5h1.8M532 353.5h1.8M519.5 354h1.8M526 354h1.8M529 354h1.8M550.5 354h1.8M511.5 354.5h1.8M552 354.5h1.8M516 355h1.8M520.5 355h1.8M521.5 355h1.8M531 355h1.8M548.5 355h1.8M534.5 355.5h1.8M544 355.5h1.8M502.5 356h1.8M522.5 356h1.8M524 356h1.8M531.5 356h1.8M540 356h1.8M543.5 356h1.8M553.5 356h1.8M504.5 356.5h1.8M510 356.5h1.8M528 356.5h1.8M531.5 356.5h1.8M533 356.5h1.8M533.5 356.5h1.8M544 356.5h1.8M493.5 357h1.8M525.5 357h1.8M528.5 357h1.8M531 357h1.8M541.5 357h1.8M522.5 357.5h1.8M525.5 357.5h1.8M526.5 357.5h1.8M532 357.5h1.8M537 357.5h1.8M540.5 357.5h1.8M493.5 358h1.8M533 358h1.8M533.5 358h1.8M540.5 358h1.8M512 358.5h1.8M528 358.5h1.8M529.5 358.5h1.8M540 358.5h1.8M513 359h1.8M514.5 359h1.8M516.5 359h1.8M527.5 359h1.8M529.5 359h1.8M530 359h1.8M533.5 359h1.8M542.5 359h1.8M527.5 359.5h1.8M528 359.5h1.8M536.5 359.5h1.8M540 359.5h1.8M552 359.5h1.8M554 359.5h1.8M490 360h1.8M518 360h1.8M527.5 360h1.8M529 360h1.8M530 360h1.8M542 360h1.8M543 360h1.8M493 360.5h1.8M518 360.5h1.8M529 360.5h1.8M531 360.5h1.8M536 360.5h1.8M538 360.5h1.8M539.5 360.5h1.8M545 360.5h1.8M523 361h1.8M524 361h1.8M524.5 361h1.8M526.5 361h1.8M541 361h1.8M541.5 361h1.8M560.5 361h1.8M527 361.5h1.8M528.5 361.5h1.8M537 361.5h1.8M538 361.5h1.8M541.5 361.5h1.8M542 361.5h1.8M471.5 362h1.8M516.5 362h1.8M519.5 362h1.8M529.5 362h1.8M530 362h1.8M531.5 362h1.8M535.5 362h1.8M511.5 362.5h1.8M526 362.5h1.8M528.5 362.5h1.8M529 362.5h1.8M529.5 362.5h1.8M530 362.5h1.8M533 362.5h1.8M534 362.5h1.8M542 362.5h1.8M542.5 362.5h1.8M545 362.5h1.8M561 362.5h1.8M507 363h1.8M526 363h1.8M529.5 363h1.8M530.5 363h1.8M531 363h1.8M532 363h1.8M537.5 363h1.8M544 363h1.8M470 363.5h1.8M510 363.5h1.8M512 363.5h1.8M513.5 363.5h1.8M519 363.5h1.8M526 363.5h1.8M527.5 363.5h1.8M541.5 363.5h1.8M542 363.5h1.8M544 363.5h1.8M544.5 363.5h1.8M556.5 363.5h1.8M496.5 364h1.8M520.5 364h1.8M523.5 364h1.8M531 364h1.8M533 364h1.8M542 364h1.8M542.5 364h1.8M545 364h1.8M508.5 364.5h1.8M510 364.5h1.8M511 364.5h1.8M524 364.5h1.8M531.5 364.5h1.8M537 364.5h1.8M544.5 364.5h1.8M548 364.5h1.8M553.5 364.5h1.8M507.5 365h1.8M515.5 365h1.8M522.5 365h1.8M526 365h1.8M528 365h1.8M535 365h1.8M540 365h1.8M542 365h1.8M546 365h1.8M523 365.5h1.8M529.5 365.5h1.8M534 365.5h1.8M535 365.5h1.8M535.5 365.5h1.8M536.5 365.5h1.8M537.5 365.5h1.8M541.5 365.5h1.8M545 365.5h1.8M550 365.5h1.8M551 365.5h1.8M516.5 366h1.8M522.5 366h1.8M524.5 366h1.8M530.5 366h1.8M538.5 366h1.8M540.5 366h1.8M550.5 366h1.8M551.5 366h1.8M491 366.5h1.8M503 366.5h1.8M504.5 366.5h1.8M513 366.5h1.8M525.5 366.5h1.8M528 366.5h1.8M529.5 366.5h1.8M531 366.5h1.8M532 366.5h1.8M534 366.5h1.8M542.5 366.5h1.8M545 366.5h1.8M502.5 367h1.8M509 367h1.8M513 367h1.8M516 367h1.8M519.5 367h1.8M526 367h1.8M528 367h1.8M529 367h1.8M529.5 367h1.8M531.5 367h1.8M538 367h1.8M543.5 367h1.8M545 367h1.8M532 367.5h1.8M536.5 367.5h1.8M540 367.5h1.8M541.5 367.5h1.8M543 367.5h1.8M543.5 367.5h1.8M547.5 367.5h1.8M554 367.5h1.8M560.5 367.5h1.8M468.5 368h1.8M518.5 368h1.8M533.5 368h1.8M538 368h1.8M540.5 368h1.8M544.5 368h1.8M547.5 368h1.8M483 368.5h1.8M509.5 368.5h1.8M517.5 368.5h1.8M521.5 368.5h1.8M523 368.5h1.8M527.5 368.5h1.8M528.5 368.5h1.8M531 368.5h1.8M536 368.5h1.8M536.5 368.5h1.8M538 368.5h1.8M542 368.5h1.8M550.5 368.5h1.8M561 368.5h1.8M499.5 369h1.8M516 369h1.8M523.5 369h1.8M524 369h1.8M524.5 369h1.8M530 369h1.8M533.5 369h1.8M534 369h1.8M535.5 369h1.8M537 369h1.8M541 369h1.8M544 369h1.8M545 369h1.8M562.5 369h1.8M502 369.5h1.8M505.5 369.5h1.8M514 369.5h1.8M521 369.5h1.8M525.5 369.5h1.8M531 369.5h1.8M535 369.5h1.8M537.5 369.5h1.8M539 369.5h1.8M558 369.5h1.8M566 369.5h1.8M505 370h1.8M525.5 370h1.8M526 370h1.8M526.5 370h1.8M532 370h1.8M533 370h1.8M533.5 370h1.8M534 370h1.8M539 370h1.8M539.5 370h1.8M542 370h1.8M519.5 370.5h1.8M520.5 370.5h1.8M529 370.5h1.8M530.5 370.5h1.8M532.5 370.5h1.8M535 370.5h1.8M537 370.5h1.8M539.5 370.5h1.8M541 370.5h1.8M542 370.5h1.8M487 371h1.8M506 371h1.8M517 371h1.8M525 371h1.8M526.5 371h1.8M529.5 371h1.8M533.5 371h1.8M534 371h1.8M535 371h1.8M536.5 371h1.8M537.5 371h1.8M538 371h1.8M538.5 371h1.8M540.5 371h1.8M541.5 371h1.8M543 371h1.8M514 371.5h1.8M514.5 371.5h1.8M519 371.5h1.8M519.5 371.5h1.8M527 371.5h1.8M527.5 371.5h1.8M529 371.5h1.8M530.5 371.5h1.8M532 371.5h1.8M534.5 371.5h1.8M536 371.5h1.8M538.5 371.5h1.8M541 371.5h1.8M543 371.5h1.8M546.5 371.5h1.8M497.5 372h1.8M504 372h1.8M512.5 372h1.8M515.5 372h1.8M518.5 372h1.8M519.5 372h1.8M529.5 372h1.8M530.5 372h1.8M531 372h1.8M534 372h1.8M534.5 372h1.8M537.5 372h1.8M541 372h1.8M543.5 372h1.8M544.5 372h1.8M547.5 372h1.8M552.5 372h1.8M555.5 372h1.8M477 372.5h1.8M507 372.5h1.8M514 372.5h1.8M522.5 372.5h1.8M531 372.5h1.8M531.5 372.5h1.8M536.5 372.5h1.8M537 372.5h1.8M538 372.5h1.8M543 372.5h1.8M549.5 372.5h1.8M487 373h1.8M497 373h1.8M511.5 373h1.8M519.5 373h1.8M520.5 373h1.8M521 373h1.8M532 373h1.8M534.5 373h1.8M535 373h1.8M535.5 373h1.8M543 373h1.8M547.5 373h1.8M549 373h1.8M550.5 373h1.8M495 373.5h1.8M518 373.5h1.8M520.5 373.5h1.8M531.5 373.5h1.8M536 373.5h1.8M537.5 373.5h1.8M540.5 373.5h1.8M512 374h1.8M518.5 374h1.8M524 374h1.8M526.5 374h1.8M527.5 374h1.8M528 374h1.8M536 374h1.8M537 374h1.8M538 374h1.8M540 374h1.8M540.5 374h1.8M543 374h1.8M549.5 374h1.8M499 374.5h1.8M506 374.5h1.8M506.5 374.5h1.8M513 374.5h1.8M521 374.5h1.8M523.5 374.5h1.8M525.5 374.5h1.8M526.5 374.5h1.8M532 374.5h1.8M535 374.5h1.8M536 374.5h1.8M540.5 374.5h1.8M541.5 374.5h1.8M544 374.5h1.8M478.5 375h1.8M481 375h1.8M492.5 375h1.8M499 375h1.8M518.5 375h1.8M522 375h1.8M523 375h1.8M525 375h1.8M526 375h1.8M527 375h1.8M527.5 375h1.8M530 375h1.8M531.5 375h1.8M533 375h1.8M533.5 375h1.8M536 375h1.8M538.5 375h1.8M539 375h1.8M540 375h1.8M541.5 375h1.8M545.5 375h1.8M548 375h1.8M557 375h1.8M503.5 375.5h1.8M508.5 375.5h1.8M515 375.5h1.8M522.5 375.5h1.8M523 375.5h1.8M526 375.5h1.8M527 375.5h1.8M528.5 375.5h1.8M530 375.5h1.8M531 375.5h1.8M535 375.5h1.8M536 375.5h1.8M538.5 375.5h1.8M543 375.5h1.8M549.5 375.5h1.8M553.5 375.5h1.8M490.5 376h1.8M496 376h1.8M497.5 376h1.8M504 376h1.8M515 376h1.8M518.5 376h1.8M519 376h1.8M520 376h1.8M521 376h1.8M525 376h1.8M526 376h1.8M527.5 376h1.8M532 376h1.8M534 376h1.8M537 376h1.8M540 376h1.8M542 376h1.8M543.5 376h1.8M545 376h1.8M551 376h1.8M491 376.5h1.8M509 376.5h1.8M514 376.5h1.8M515 376.5h1.8M515.5 376.5h1.8M521 376.5h1.8M525.5 376.5h1.8M529 376.5h1.8M529.5 376.5h1.8M532 376.5h1.8M535.5 376.5h1.8M536 376.5h1.8M542 376.5h1.8M548.5 376.5h1.8M477 377h1.8M478.5 377h1.8M511.5 377h1.8M514 377h1.8M516.5 377h1.8M522 377h1.8M531.5 377h1.8M534 377h1.8M536 377h1.8M539.5 377h1.8M540.5 377h1.8M542 377h1.8M543.5 377h1.8M546 377h1.8M547 377h1.8M548 377h1.8M490 377.5h1.8M521 377.5h1.8M522.5 377.5h1.8M524 377.5h1.8M525.5 377.5h1.8M527.5 377.5h1.8M529.5 377.5h1.8M531 377.5h1.8M531.5 377.5h1.8M532 377.5h1.8M532.5 377.5h1.8M534.5 377.5h1.8M535 377.5h1.8M540 377.5h1.8M544.5 377.5h1.8M545.5 377.5h1.8M487 378h1.8M503.5 378h1.8M506 378h1.8M516 378h1.8M523.5 378h1.8M527.5 378h1.8M528 378h1.8M528.5 378h1.8M530.5 378h1.8M533.5 378h1.8M535 378h1.8M535.5 378h1.8M539 378h1.8M540 378h1.8M544 378h1.8M548.5 378h1.8M549 378h1.8M470.5 378.5h1.8M483 378.5h1.8M511 378.5h1.8M511.5 378.5h1.8M512.5 378.5h1.8M517.5 378.5h1.8M522 378.5h1.8M526.5 378.5h1.8M531.5 378.5h1.8M536.5 378.5h1.8M543 378.5h1.8M544 378.5h1.8M545.5 378.5h1.8M547.5 378.5h1.8M548 378.5h1.8M488 379h1.8M492 379h1.8M519.5 379h1.8M523 379h1.8M524 379h1.8M525 379h1.8M525.5 379h1.8M527 379h1.8M529 379h1.8M531.5 379h1.8M534.5 379h1.8M536 379h1.8M536.5 379h1.8M537.5 379h1.8M539.5 379h1.8M544 379h1.8M545.5 379h1.8M546 379h1.8M550 379h1.8M505 379.5h1.8M511.5 379.5h1.8M512.5 379.5h1.8M515 379.5h1.8M518 379.5h1.8M520.5 379.5h1.8M521.5 379.5h1.8M528 379.5h1.8M530.5 379.5h1.8M532.5 379.5h1.8M534.5 379.5h1.8M535 379.5h1.8M538 379.5h1.8M544.5 379.5h1.8M474 380h1.8M474.5 380h1.8M476.5 380h1.8M490 380h1.8M497 380h1.8M512 380h1.8M513.5 380h1.8M519 380h1.8M520 380h1.8M522 380h1.8M529 380h1.8M530 380h1.8M532 380h1.8M534.5 380h1.8M536.5 380h1.8M540.5 380h1.8M541 380h1.8M543 380h1.8M543.5 380h1.8M544 380h1.8M547.5 380h1.8M555.5 380h1.8M560.5 380h1.8M501 380.5h1.8M502.5 380.5h1.8M505 380.5h1.8M519 380.5h1.8M520 380.5h1.8M522.5 380.5h1.8M524.5 380.5h1.8M527 380.5h1.8M529 380.5h1.8M530 380.5h1.8M532 380.5h1.8M535 380.5h1.8M537.5 380.5h1.8M538.5 380.5h1.8M539.5 380.5h1.8M540 380.5h1.8M543.5 380.5h1.8M544.5 380.5h1.8M547.5 380.5h1.8M473 381h1.8M504 381h1.8M511.5 381h1.8M520 381h1.8M521 381h1.8M522.5 381h1.8M524 381h1.8M528 381h1.8M529 381h1.8M533.5 381h1.8M534.5 381h1.8M535.5 381h1.8M537 381h1.8M540.5 381h1.8M549.5 381h1.8M467 381.5h1.8M481.5 381.5h1.8M507.5 381.5h1.8M509.5 381.5h1.8M518 381.5h1.8M518.5 381.5h1.8M521 381.5h1.8M521.5 381.5h1.8M523 381.5h1.8M527.5 381.5h1.8M529.5 381.5h1.8M531.5 381.5h1.8M534 381.5h1.8M535 381.5h1.8M536 381.5h1.8M536.5 381.5h1.8M537 381.5h1.8M537.5 381.5h1.8M499.5 382h1.8M504 382h1.8M506.5 382h1.8M507 382h1.8M510 382h1.8M513.5 382h1.8M517 382h1.8M518.5 382h1.8M519.5 382h1.8M523 382h1.8M526.5 382h1.8M528.5 382h1.8M529.5 382h1.8M531 382h1.8M533 382h1.8M544.5 382h1.8M498.5 382.5h1.8M500.5 382.5h1.8M505.5 382.5h1.8M509 382.5h1.8M513 382.5h1.8M515.5 382.5h1.8M516.5 382.5h1.8M518.5 382.5h1.8M524.5 382.5h1.8M528.5 382.5h1.8M529.5 382.5h1.8M531 382.5h1.8M533.5 382.5h1.8M536.5 382.5h1.8M537.5 382.5h1.8M547 382.5h1.8M553.5 382.5h1.8M494 383h1.8M509.5 383h1.8M510.5 383h1.8M515.5 383h1.8M516 383h1.8M519.5 383h1.8M521 383h1.8M525.5 383h1.8M529.5 383h1.8M534.5 383h1.8M536 383h1.8M539.5 383h1.8M546 383h1.8M546.5 383h1.8M547.5 383h1.8M548 383h1.8M548.5 383h1.8M550 383h1.8M461.5 383.5h1.8M483.5 383.5h1.8M487.5 383.5h1.8M488.5 383.5h1.8M521.5 383.5h1.8M522 383.5h1.8M524.5 383.5h1.8M526.5 383.5h1.8M529 383.5h1.8M530 383.5h1.8M531 383.5h1.8M533.5 383.5h1.8M535.5 383.5h1.8M536 383.5h1.8M537 383.5h1.8M541.5 383.5h1.8M543 383.5h1.8M549.5 383.5h1.8M486.5 384h1.8M501.5 384h1.8M509.5 384h1.8M514 384h1.8M522 384h1.8M522.5 384h1.8M523.5 384h1.8M525 384h1.8M526.5 384h1.8M529.5 384h1.8M530 384h1.8M532 384h1.8M534 384h1.8M539 384h1.8M544.5 384h1.8M545 384h1.8M545.5 384h1.8M558.5 384h1.8M478 384.5h1.8M482.5 384.5h1.8M490.5 384.5h1.8M493 384.5h1.8M505.5 384.5h1.8M510.5 384.5h1.8M515 384.5h1.8M518.5 384.5h1.8M520 384.5h1.8M520.5 384.5h1.8M524 384.5h1.8M524.5 384.5h1.8M525.5 384.5h1.8M528 384.5h1.8M528.5 384.5h1.8M530 384.5h1.8M531.5 384.5h1.8M532 384.5h1.8M533 384.5h1.8M534.5 384.5h1.8M537 384.5h1.8M538.5 384.5h1.8M539.5 384.5h1.8M540.5 384.5h1.8M546 384.5h1.8M547.5 384.5h1.8M549.5 384.5h1.8M505 385h1.8M505.5 385h1.8M509.5 385h1.8M511 385h1.8M516.5 385h1.8M519.5 385h1.8M521 385h1.8M523 385h1.8M527 385h1.8M529 385h1.8M531.5 385h1.8M532 385h1.8M533 385h1.8M533.5 385h1.8M535.5 385h1.8M537 385h1.8M538.5 385h1.8M542.5 385h1.8M543.5 385h1.8M546.5 385h1.8M550 385h1.8M505.5 385.5h1.8M511.5 385.5h1.8M512.5 385.5h1.8M516 385.5h1.8M516.5 385.5h1.8M517.5 385.5h1.8M523 385.5h1.8M523.5 385.5h1.8M525.5 385.5h1.8M526 385.5h1.8M530 385.5h1.8M530.5 385.5h1.8M532 385.5h1.8M540.5 385.5h1.8M542.5 385.5h1.8M545 385.5h1.8M548.5 385.5h1.8M550.5 385.5h1.8M465.5 386h1.8M484.5 386h1.8M491.5 386h1.8M506.5 386h1.8M516.5 386h1.8M517 386h1.8M521 386h1.8M523 386h1.8M526.5 386h1.8M527 386h1.8M527.5 386h1.8M530.5 386h1.8M531 386h1.8M531.5 386h1.8M535 386h1.8M535.5 386h1.8M536 386h1.8M537 386h1.8M537.5 386h1.8M548.5 386h1.8M551.5 386h1.8M505 386.5h1.8M517 386.5h1.8M519 386.5h1.8M522 386.5h1.8M525 386.5h1.8M527 386.5h1.8M531 386.5h1.8M531.5 386.5h1.8M536 386.5h1.8M542.5 386.5h1.8M544 386.5h1.8M548.5 386.5h1.8M486 387h1.8M503 387h1.8M510 387h1.8M515 387h1.8M518.5 387h1.8M521.5 387h1.8M522 387h1.8M524.5 387h1.8M530 387h1.8M531 387h1.8M533 387h1.8M538.5 387h1.8M543.5 387h1.8M545 387h1.8M549.5 387h1.8M492 387.5h1.8M505 387.5h1.8M507.5 387.5h1.8M513.5 387.5h1.8M516.5 387.5h1.8M518.5 387.5h1.8M519 387.5h1.8M519.5 387.5h1.8M524.5 387.5h1.8M526 387.5h1.8M528 387.5h1.8M529.5 387.5h1.8M532.5 387.5h1.8M533 387.5h1.8M534.5 387.5h1.8M535 387.5h1.8M537 387.5h1.8M538 387.5h1.8M538.5 387.5h1.8M539 387.5h1.8M555.5 387.5h1.8M560.5 387.5h1.8M483 388h1.8M517.5 388h1.8M519 388h1.8M525 388h1.8M526 388h1.8M528 388h1.8M530.5 388h1.8M531 388h1.8M535 388h1.8M536 388h1.8M545.5 388h1.8M546.5 388h1.8M550 388h1.8M494 388.5h1.8M495 388.5h1.8M512 388.5h1.8M512.5 388.5h1.8M515.5 388.5h1.8M516.5 388.5h1.8M519.5 388.5h1.8M521 388.5h1.8M523.5 388.5h1.8M526.5 388.5h1.8M529 388.5h1.8M529.5 388.5h1.8M531 388.5h1.8M536 388.5h1.8M541.5 388.5h1.8M546.5 388.5h1.8M548 388.5h1.8M549 388.5h1.8M551 388.5h1.8M556 388.5h1.8M489.5 389h1.8M491.5 389h1.8M498.5 389h1.8M501.5 389h1.8M509.5 389h1.8M519.5 389h1.8M524 389h1.8M530.5 389h1.8M531.5 389h1.8M534.5 389h1.8M535.5 389h1.8M538.5 389h1.8M545.5 389h1.8M493.5 389.5h1.8M508 389.5h1.8M510 389.5h1.8M513 389.5h1.8M516 389.5h1.8M517.5 389.5h1.8M521.5 389.5h1.8M524.5 389.5h1.8M526 389.5h1.8M529.5 389.5h1.8M530 389.5h1.8M532.5 389.5h1.8M534 389.5h1.8M534.5 389.5h1.8M536 389.5h1.8M538 389.5h1.8M539 389.5h1.8M540.5 389.5h1.8M541 389.5h1.8M541.5 389.5h1.8M543.5 389.5h1.8M546 389.5h1.8M468.5 390h1.8M475 390h1.8M494 390h1.8M502 390h1.8M506 390h1.8M510 390h1.8M517 390h1.8M524 390h1.8M527 390h1.8M529 390h1.8M531 390h1.8M531.5 390h1.8M532.5 390h1.8M534 390h1.8M536.5 390h1.8M538.5 390h1.8M540.5 390h1.8M542 390h1.8M552.5 390h1.8M480 390.5h1.8M488 390.5h1.8M503.5 390.5h1.8M521 390.5h1.8M522 390.5h1.8M523.5 390.5h1.8M524 390.5h1.8M525.5 390.5h1.8M526 390.5h1.8M526.5 390.5h1.8M528 390.5h1.8M531.5 390.5h1.8M532 390.5h1.8M532.5 390.5h1.8M533 390.5h1.8M536 390.5h1.8M536.5 390.5h1.8M538 390.5h1.8M541.5 390.5h1.8M543 390.5h1.8M544 390.5h1.8M549.5 390.5h1.8M550.5 390.5h1.8M553 390.5h1.8M556 390.5h1.8M492.5 391h1.8M495 391h1.8M506.5 391h1.8M510.5 391h1.8M511.5 391h1.8M513.5 391h1.8M514.5 391h1.8M515.5 391h1.8M516.5 391h1.8M517 391h1.8M519 391h1.8M522 391h1.8M524 391h1.8M528 391h1.8M530 391h1.8M534.5 391h1.8M535 391h1.8M535.5 391h1.8M537.5 391h1.8M538 391h1.8M544 391h1.8M544.5 391h1.8M546 391h1.8M484 391.5h1.8M512.5 391.5h1.8M515.5 391.5h1.8M524.5 391.5h1.8M526.5 391.5h1.8M527.5 391.5h1.8M530 391.5h1.8M533 391.5h1.8M538 391.5h1.8M540.5 391.5h1.8M544.5 391.5h1.8M548 391.5h1.8M506 392h1.8M517 392h1.8M517.5 392h1.8M519 392h1.8M521 392h1.8M523.5 392h1.8M525 392h1.8M525.5 392h1.8M526 392h1.8M528 392h1.8M530 392h1.8M531 392h1.8M531.5 392h1.8M532.5 392h1.8M534.5 392h1.8M537 392h1.8M539.5 392h1.8M544.5 392h1.8M546.5 392h1.8M547 392h1.8M566 392h1.8M511.5 392.5h1.8M514 392.5h1.8M514.5 392.5h1.8M516 392.5h1.8M516.5 392.5h1.8M517 392.5h1.8M517.5 392.5h1.8M522 392.5h1.8M522.5 392.5h1.8M524 392.5h1.8M524.5 392.5h1.8M527.5 392.5h1.8M530 392.5h1.8M531.5 392.5h1.8M542.5 392.5h1.8M543 392.5h1.8M545.5 392.5h1.8M546.5 392.5h1.8M515 393h1.8M515.5 393h1.8M518.5 393h1.8M521.5 393h1.8M523 393h1.8M527 393h1.8M527.5 393h1.8M528 393h1.8M529.5 393h1.8M533.5 393h1.8M534.5 393h1.8M537.5 393h1.8M541.5 393h1.8M545.5 393h1.8M548 393h1.8M549 393h1.8M550 393h1.8M475 393.5h1.8M501.5 393.5h1.8M503 393.5h1.8M504.5 393.5h1.8M507.5 393.5h1.8M513 393.5h1.8M515.5 393.5h1.8M517 393.5h1.8M518 393.5h1.8M519 393.5h1.8M520.5 393.5h1.8M521 393.5h1.8M521.5 393.5h1.8M522 393.5h1.8M525 393.5h1.8M526.5 393.5h1.8M527.5 393.5h1.8M529 393.5h1.8M530 393.5h1.8M531.5 393.5h1.8M532 393.5h1.8M535.5 393.5h1.8M536.5 393.5h1.8M537.5 393.5h1.8M538 393.5h1.8M538.5 393.5h1.8M542.5 393.5h1.8M544.5 393.5h1.8M546.5 393.5h1.8M548.5 393.5h1.8M490 394h1.8M508.5 394h1.8M512 394h1.8M512.5 394h1.8M521 394h1.8M523 394h1.8M524 394h1.8M527 394h1.8M529 394h1.8M531.5 394h1.8M532 394h1.8M534 394h1.8M536 394h1.8M540 394h1.8M541.5 394h1.8M548 394h1.8M549.5 394h1.8M551 394h1.8M561.5 394h1.8M508.5 394.5h1.8M509 394.5h1.8M509.5 394.5h1.8M514.5 394.5h1.8M515 394.5h1.8M517.5 394.5h1.8M521 394.5h1.8M522.5 394.5h1.8M525 394.5h1.8M525.5 394.5h1.8M527.5 394.5h1.8M528 394.5h1.8M535.5 394.5h1.8M537 394.5h1.8M537.5 394.5h1.8M539.5 394.5h1.8M540 394.5h1.8M541.5 394.5h1.8M542.5 394.5h1.8M543.5 394.5h1.8M546.5 394.5h1.8M553.5 394.5h1.8M555 394.5h1.8M500 395h1.8M505 395h1.8M508.5 395h1.8M511 395h1.8M517 395h1.8M517.5 395h1.8M518.5 395h1.8M520.5 395h1.8M527.5 395h1.8M535 395h1.8M535.5 395h1.8M538.5 395h1.8M542 395h1.8M547 395h1.8M517.5 395.5h1.8M518.5 395.5h1.8M519.5 395.5h1.8M522 395.5h1.8M524 395.5h1.8M524.5 395.5h1.8M527.5 395.5h1.8M530 395.5h1.8M530.5 395.5h1.8M533 395.5h1.8M533.5 395.5h1.8M536.5 395.5h1.8M538 395.5h1.8M538.5 395.5h1.8M539 395.5h1.8M542 395.5h1.8M554 395.5h1.8M554.5 395.5h1.8M498 396h1.8M514.5 396h1.8M515.5 396h1.8M517 396h1.8M518 396h1.8M519.5 396h1.8M520 396h1.8M522 396h1.8M522.5 396h1.8M527 396h1.8M527.5 396h1.8M533.5 396h1.8M535 396h1.8M536.5 396h1.8M538 396h1.8M539 396h1.8M540.5 396h1.8M544 396h1.8M553.5 396h1.8M436.5 396.5h1.8M491 396.5h1.8M495 396.5h1.8M507.5 396.5h1.8M516 396.5h1.8M517.5 396.5h1.8M521 396.5h1.8M522 396.5h1.8M522.5 396.5h1.8M523 396.5h1.8M524 396.5h1.8M525 396.5h1.8M526 396.5h1.8M527.5 396.5h1.8M534 396.5h1.8M535 396.5h1.8M538 396.5h1.8M538.5 396.5h1.8M540 396.5h1.8M547.5 396.5h1.8M466.5 397h1.8M488 397h1.8M491.5 397h1.8M511 397h1.8M515.5 397h1.8M520 397h1.8M522 397h1.8M525 397h1.8M526 397h1.8M529 397h1.8M529.5 397h1.8M530.5 397h1.8M532 397h1.8M536.5 397h1.8M537.5 397h1.8M539 397h1.8M543 397h1.8M546 397h1.8M550.5 397h1.8M495.5 397.5h1.8M497.5 397.5h1.8M508 397.5h1.8M512 397.5h1.8M514.5 397.5h1.8M519 397.5h1.8M523.5 397.5h1.8M525.5 397.5h1.8M526 397.5h1.8M527 397.5h1.8M527.5 397.5h1.8M528.5 397.5h1.8M535 397.5h1.8M536 397.5h1.8M538 397.5h1.8M539 397.5h1.8M540.5 397.5h1.8M541 397.5h1.8M544 397.5h1.8M545.5 397.5h1.8M560.5 397.5h1.8M478.5 398h1.8M479.5 398h1.8M483 398h1.8M486.5 398h1.8M491.5 398h1.8M496.5 398h1.8M508 398h1.8M509 398h1.8M511 398h1.8M518 398h1.8M523.5 398h1.8M526 398h1.8M527 398h1.8M530.5 398h1.8M531 398h1.8M531.5 398h1.8M533.5 398h1.8M534.5 398h1.8M535.5 398h1.8M537.5 398h1.8M538 398h1.8M539 398h1.8M541.5 398h1.8M551 398h1.8M552 398h1.8M493.5 398.5h1.8M498 398.5h1.8M504 398.5h1.8M516.5 398.5h1.8M517 398.5h1.8M517.5 398.5h1.8M520 398.5h1.8M523 398.5h1.8M523.5 398.5h1.8M529 398.5h1.8M530.5 398.5h1.8M531 398.5h1.8M531.5 398.5h1.8M532 398.5h1.8M535.5 398.5h1.8M536 398.5h1.8M540 398.5h1.8M540.5 398.5h1.8M541.5 398.5h1.8M542.5 398.5h1.8M545 398.5h1.8M546 398.5h1.8M546.5 398.5h1.8M558.5 398.5h1.8M490.5 399h1.8M506 399h1.8M515.5 399h1.8M516 399h1.8M519 399h1.8M519.5 399h1.8M522.5 399h1.8M523 399h1.8M524 399h1.8M525.5 399h1.8M526 399h1.8M527 399h1.8M528 399h1.8M528.5 399h1.8M531.5 399h1.8M532.5 399h1.8M533 399h1.8M533.5 399h1.8M534 399h1.8M540 399h1.8M542 399h1.8M542.5 399h1.8M544 399h1.8M500.5 399.5h1.8M515 399.5h1.8M519 399.5h1.8M519.5 399.5h1.8M521 399.5h1.8M525 399.5h1.8M530.5 399.5h1.8M532 399.5h1.8M533 399.5h1.8M535 399.5h1.8M539.5 399.5h1.8M540.5 399.5h1.8M541 399.5h1.8M542 399.5h1.8M544 399.5h1.8M485 400h1.8M486.5 400h1.8M494.5 400h1.8M510.5 400h1.8M516 400h1.8M518 400h1.8M519 400h1.8M519.5 400h1.8M520 400h1.8M524 400h1.8M525.5 400h1.8M526 400h1.8M526.5 400h1.8M536.5 400h1.8M542 400h1.8M548 400h1.8M457 400.5h1.8M501 400.5h1.8M506 400.5h1.8M507 400.5h1.8M511.5 400.5h1.8M515.5 400.5h1.8M520 400.5h1.8M520.5 400.5h1.8M522.5 400.5h1.8M525 400.5h1.8M525.5 400.5h1.8M526.5 400.5h1.8M531 400.5h1.8M532 400.5h1.8M537 400.5h1.8M538 400.5h1.8M538.5 400.5h1.8M539.5 400.5h1.8M540 400.5h1.8M540.5 400.5h1.8M541 400.5h1.8M543.5 400.5h1.8M546 400.5h1.8M552.5 400.5h1.8M473.5 401h1.8M501.5 401h1.8M504.5 401h1.8M514.5 401h1.8M517.5 401h1.8M518.5 401h1.8M522 401h1.8M523 401h1.8M529 401h1.8M531.5 401h1.8M538.5 401h1.8M545.5 401h1.8M553 401h1.8M495 401.5h1.8M504 401.5h1.8M511 401.5h1.8M513 401.5h1.8M514 401.5h1.8M515 401.5h1.8M517 401.5h1.8M519.5 401.5h1.8M520 401.5h1.8M522.5 401.5h1.8M524 401.5h1.8M525.5 401.5h1.8M526.5 401.5h1.8M527 401.5h1.8M529.5 401.5h1.8M530.5 401.5h1.8M533 401.5h1.8M534.5 401.5h1.8M535 401.5h1.8M537 401.5h1.8M537.5 401.5h1.8M539 401.5h1.8M539.5 401.5h1.8M562 401.5h1.8M465.5 402h1.8M467.5 402h1.8M469 402h1.8M503.5 402h1.8M507 402h1.8M519 402h1.8M520.5 402h1.8M522.5 402h1.8M524.5 402h1.8M530 402h1.8M539.5 402h1.8M543.5 402h1.8M552 402h1.8M479.5 402.5h1.8M484 402.5h1.8M485 402.5h1.8M492.5 402.5h1.8M515.5 402.5h1.8M517 402.5h1.8M518 402.5h1.8M521 402.5h1.8M523 402.5h1.8M525 402.5h1.8M525.5 402.5h1.8M526 402.5h1.8M528.5 402.5h1.8M529.5 402.5h1.8M533.5 402.5h1.8M544 402.5h1.8M464.5 403h1.8M473.5 403h1.8M477.5 403h1.8M479.5 403h1.8M493 403h1.8M495.5 403h1.8M517 403h1.8M518 403h1.8M519.5 403h1.8M521.5 403h1.8M522 403h1.8M522.5 403h1.8M523.5 403h1.8M527 403h1.8M528 403h1.8M528.5 403h1.8M529.5 403h1.8M532.5 403h1.8M533 403h1.8M536.5 403h1.8M537.5 403h1.8M538 403h1.8M540.5 403h1.8M548 403h1.8M552.5 403h1.8M553 403h1.8M556 403h1.8M498.5 403.5h1.8M507.5 403.5h1.8M514 403.5h1.8M515.5 403.5h1.8M518 403.5h1.8M519 403.5h1.8M520 403.5h1.8M521.5 403.5h1.8M523.5 403.5h1.8M528 403.5h1.8M529.5 403.5h1.8M531.5 403.5h1.8M533 403.5h1.8M543 403.5h1.8M543.5 403.5h1.8M544 403.5h1.8M544.5 403.5h1.8M552.5 403.5h1.8M483 404h1.8M485 404h1.8M498.5 404h1.8M502.5 404h1.8M511.5 404h1.8M513 404h1.8M513.5 404h1.8M515.5 404h1.8M516.5 404h1.8M517.5 404h1.8M519 404h1.8M524 404h1.8M525 404h1.8M528 404h1.8M528.5 404h1.8M530.5 404h1.8M533 404h1.8M534.5 404h1.8M544 404h1.8M512 404.5h1.8M516.5 404.5h1.8M517 404.5h1.8M519 404.5h1.8M521 404.5h1.8M521.5 404.5h1.8M522 404.5h1.8M523.5 404.5h1.8M527 404.5h1.8M527.5 404.5h1.8M532.5 404.5h1.8M533.5 404.5h1.8M534 404.5h1.8M535 404.5h1.8M535.5 404.5h1.8M537 404.5h1.8M541.5 404.5h1.8M542.5 404.5h1.8M495.5 405h1.8M502.5 405h1.8M505 405h1.8M512.5 405h1.8M516 405h1.8M517 405h1.8M517.5 405h1.8M521.5 405h1.8M523 405h1.8M525.5 405h1.8M527.5 405h1.8M529.5 405h1.8M531 405h1.8M532.5 405h1.8M534 405h1.8M535.5 405h1.8M542.5 405h1.8M543.5 405h1.8M546.5 405h1.8M547 405h1.8M485 405.5h1.8M493 405.5h1.8M496 405.5h1.8M499 405.5h1.8M504 405.5h1.8M513 405.5h1.8M518 405.5h1.8M525.5 405.5h1.8M528 405.5h1.8M528.5 405.5h1.8M530 405.5h1.8M531 405.5h1.8M533.5 405.5h1.8M535.5 405.5h1.8M541.5 405.5h1.8M542 405.5h1.8M545.5 405.5h1.8M547.5 405.5h1.8M551.5 405.5h1.8M500 406h1.8M517.5 406h1.8M519.5 406h1.8M521 406h1.8M524 406h1.8M525.5 406h1.8M527.5 406h1.8M528 406h1.8M531.5 406h1.8M532 406h1.8M533 406h1.8M536 406h1.8M538 406h1.8M545 406h1.8M483 406.5h1.8M483.5 406.5h1.8M507.5 406.5h1.8M509.5 406.5h1.8M512 406.5h1.8M516.5 406.5h1.8M523.5 406.5h1.8M524 406.5h1.8M524.5 406.5h1.8M525 406.5h1.8M526.5 406.5h1.8M528.5 406.5h1.8M530 406.5h1.8M530.5 406.5h1.8M532.5 406.5h1.8M534 406.5h1.8M535.5 406.5h1.8M539 406.5h1.8M542.5 406.5h1.8M544.5 406.5h1.8M545.5 406.5h1.8M503.5 407h1.8M505.5 407h1.8M513 407h1.8M513.5 407h1.8M514.5 407h1.8M519 407h1.8M522 407h1.8M525 407h1.8M529 407h1.8M531.5 407h1.8M532.5 407h1.8M533.5 407h1.8M534 407h1.8M534.5 407h1.8M567.5 407h1.8M440.5 407.5h1.8M484.5 407.5h1.8M486 407.5h1.8M509.5 407.5h1.8M511 407.5h1.8M511.5 407.5h1.8M516.5 407.5h1.8M517.5 407.5h1.8M520.5 407.5h1.8M521 407.5h1.8M522 407.5h1.8M523 407.5h1.8M528.5 407.5h1.8M530 407.5h1.8M536 407.5h1.8M536.5 407.5h1.8M544 407.5h1.8M549.5 407.5h1.8M558.5 407.5h1.8M492.5 408h1.8M500.5 408h1.8M512.5 408h1.8M516.5 408h1.8M517 408h1.8M521.5 408h1.8M526.5 408h1.8M527.5 408h1.8M528.5 408h1.8M529.5 408h1.8M532 408h1.8M532.5 408h1.8M537 408h1.8M538 408h1.8M539 408h1.8M543 408h1.8M544.5 408h1.8M545.5 408h1.8M549.5 408h1.8M494.5 408.5h1.8M500.5 408.5h1.8M516.5 408.5h1.8M517.5 408.5h1.8M520.5 408.5h1.8M521.5 408.5h1.8M523 408.5h1.8M523.5 408.5h1.8M525 408.5h1.8M527 408.5h1.8M531 408.5h1.8M540.5 408.5h1.8M549.5 408.5h1.8M467 409h1.8M515.5 409h1.8M521 409h1.8M522.5 409h1.8M524.5 409h1.8M527.5 409h1.8M528.5 409h1.8M529 409h1.8M530.5 409h1.8M536.5 409h1.8M538.5 409h1.8M544.5 409h1.8M509 409.5h1.8M516 409.5h1.8M516.5 409.5h1.8M517 409.5h1.8M518.5 409.5h1.8M521.5 409.5h1.8M522 409.5h1.8M523.5 409.5h1.8M525.5 409.5h1.8M529 409.5h1.8M531 409.5h1.8M535.5 409.5h1.8M539.5 409.5h1.8M540 409.5h1.8M540.5 409.5h1.8M550.5 409.5h1.8M467.5 410h1.8M481 410h1.8M511.5 410h1.8M512 410h1.8M513 410h1.8M513.5 410h1.8M514.5 410h1.8M518 410h1.8M521 410h1.8M521.5 410h1.8M526 410h1.8M531.5 410h1.8M533.5 410h1.8M537 410h1.8M538 410h1.8M539.5 410h1.8M541.5 410h1.8M545 410h1.8M545.5 410h1.8M546 410h1.8M511 410.5h1.8M513.5 410.5h1.8M515.5 410.5h1.8M521 410.5h1.8M521.5 410.5h1.8M527 410.5h1.8M528.5 410.5h1.8M530 410.5h1.8M532 410.5h1.8M535 410.5h1.8M537 410.5h1.8M540 410.5h1.8M500 411h1.8M507.5 411h1.8M514 411h1.8M516 411h1.8M517 411h1.8M519 411h1.8M519.5 411h1.8M520 411h1.8M522.5 411h1.8M524 411h1.8M524.5 411h1.8M527.5 411h1.8M532 411h1.8M533 411h1.8M538.5 411h1.8M548 411h1.8M549 411h1.8M549.5 411h1.8M559.5 411h1.8M459 411.5h1.8M466 411.5h1.8M490.5 411.5h1.8M509.5 411.5h1.8M510.5 411.5h1.8M517 411.5h1.8M518.5 411.5h1.8M522 411.5h1.8M524 411.5h1.8M525 411.5h1.8M526 411.5h1.8M531 411.5h1.8M534.5 411.5h1.8M543 411.5h1.8M491 412h1.8M514 412h1.8M516.5 412h1.8M518.5 412h1.8M521 412h1.8M521.5 412h1.8M523 412h1.8M525 412h1.8M527.5 412h1.8M535.5 412h1.8M538.5 412h1.8M539 412h1.8M541 412h1.8M477.5 412.5h1.8M481 412.5h1.8M516 412.5h1.8M518 412.5h1.8M526.5 412.5h1.8M528.5 412.5h1.8M530 412.5h1.8M532 412.5h1.8M537 412.5h1.8M541 412.5h1.8M543 412.5h1.8M544 412.5h1.8M545.5 412.5h1.8M513 413h1.8M518 413h1.8M520.5 413h1.8M524 413h1.8M524.5 413h1.8M525 413h1.8M526.5 413h1.8M527.5 413h1.8M528 413h1.8M531.5 413h1.8M532 413h1.8M536 413h1.8M538 413h1.8M538.5 413h1.8M539.5 413h1.8M540 413h1.8M544 413h1.8M502.5 413.5h1.8M504.5 413.5h1.8M506.5 413.5h1.8M514 413.5h1.8M522.5 413.5h1.8M523.5 413.5h1.8M527 413.5h1.8M531 413.5h1.8M534.5 413.5h1.8M536 413.5h1.8M538 413.5h1.8M538.5 413.5h1.8M542.5 413.5h1.8M543.5 413.5h1.8M479 414h1.8M483.5 414h1.8M516.5 414h1.8M522 414h1.8M522.5 414h1.8M524.5 414h1.8M526 414h1.8M527 414h1.8M532 414h1.8M534 414h1.8M537.5 414h1.8M538 414h1.8M541 414h1.8M555.5 414h1.8M489 414.5h1.8M491 414.5h1.8M497.5 414.5h1.8M508.5 414.5h1.8M514 414.5h1.8M516.5 414.5h1.8M519.5 414.5h1.8M523 414.5h1.8M526.5 414.5h1.8M529.5 414.5h1.8M533.5 414.5h1.8M534 414.5h1.8M538 414.5h1.8M540 414.5h1.8M542.5 414.5h1.8M496 415h1.8M504 415h1.8M517 415h1.8M520 415h1.8M520.5 415h1.8M521 415h1.8M521.5 415h1.8M524 415h1.8M527.5 415h1.8M534 415h1.8M535.5 415h1.8M538 415h1.8M462.5 415.5h1.8M465.5 415.5h1.8M471.5 415.5h1.8M500.5 415.5h1.8M504 415.5h1.8M509.5 415.5h1.8M510 415.5h1.8M510.5 415.5h1.8M521.5 415.5h1.8M525.5 415.5h1.8M532.5 415.5h1.8M537 415.5h1.8M539.5 415.5h1.8M542 415.5h1.8M549.5 415.5h1.8M487.5 416h1.8M509 416h1.8M512.5 416h1.8M519.5 416h1.8M524 416h1.8M526 416h1.8M528 416h1.8M533.5 416h1.8M541 416h1.8M541.5 416h1.8M546.5 416h1.8M551 416h1.8M491 416.5h1.8M513.5 416.5h1.8M515.5 416.5h1.8M518 416.5h1.8M518.5 416.5h1.8M519.5 416.5h1.8M522 416.5h1.8M524 416.5h1.8M524.5 416.5h1.8M527 416.5h1.8M528.5 416.5h1.8M529 416.5h1.8M530 416.5h1.8M530.5 416.5h1.8M531.5 416.5h1.8M540 416.5h1.8M541.5 416.5h1.8M489 417h1.8M490.5 417h1.8M500.5 417h1.8M509 417h1.8M513.5 417h1.8M518 417h1.8M518.5 417h1.8M519.5 417h1.8M521 417h1.8M523.5 417h1.8M530.5 417h1.8M532.5 417h1.8M534.5 417h1.8M536.5 417h1.8M540 417h1.8M541 417h1.8M542 417h1.8M495.5 417.5h1.8M503 417.5h1.8M507.5 417.5h1.8M511 417.5h1.8M512.5 417.5h1.8M518.5 417.5h1.8M520.5 417.5h1.8M524.5 417.5h1.8M526.5 417.5h1.8M528.5 417.5h1.8M532 417.5h1.8M536 417.5h1.8M463.5 418h1.8M474.5 418h1.8M481.5 418h1.8M507.5 418h1.8M511.5 418h1.8M522 418h1.8M525.5 418h1.8M529 418h1.8M531.5 418h1.8M533 418h1.8M534 418h1.8M467 418.5h1.8M502.5 418.5h1.8M503 418.5h1.8M511.5 418.5h1.8M513.5 418.5h1.8M516 418.5h1.8M517.5 418.5h1.8M518 418.5h1.8M518.5 418.5h1.8M519.5 418.5h1.8M522 418.5h1.8M526 418.5h1.8M531 418.5h1.8M536 418.5h1.8M539.5 418.5h1.8M505 419h1.8M514.5 419h1.8M517 419h1.8M520.5 419h1.8M524 419h1.8M531 419h1.8M539.5 419h1.8M545.5 419h1.8M455.5 419.5h1.8M495 419.5h1.8M504 419.5h1.8M509 419.5h1.8M523.5 419.5h1.8M528 419.5h1.8M528.5 419.5h1.8M529.5 419.5h1.8M537 419.5h1.8M537.5 419.5h1.8M539.5 419.5h1.8M540.5 419.5h1.8M486.5 420h1.8M495 420h1.8M496.5 420h1.8M510 420h1.8M515 420h1.8M517.5 420h1.8M521.5 420h1.8M523 420h1.8M524.5 420h1.8M529 420h1.8M533.5 420h1.8M537.5 420h1.8M538 420h1.8M507.5 420.5h1.8M513 420.5h1.8M514.5 420.5h1.8M518 420.5h1.8M518.5 420.5h1.8M526 420.5h1.8M526.5 420.5h1.8M527 420.5h1.8M528.5 420.5h1.8M537.5 420.5h1.8M543 420.5h1.8M546 420.5h1.8M486 421h1.8M501 421h1.8M504.5 421h1.8M517 421h1.8M521 421h1.8M524 421h1.8M525.5 421h1.8M527.5 421h1.8M535.5 421h1.8M537 421h1.8M538.5 421h1.8M489.5 421.5h1.8M494 421.5h1.8M503 421.5h1.8M505 421.5h1.8M507 421.5h1.8M510.5 421.5h1.8M511 421.5h1.8M523.5 421.5h1.8M526.5 421.5h1.8M527.5 421.5h1.8M528.5 421.5h1.8M530 421.5h1.8M530.5 421.5h1.8M532 421.5h1.8M533 421.5h1.8M534.5 421.5h1.8M535 421.5h1.8M477 422h1.8M510.5 422h1.8M523.5 422h1.8M525 422h1.8M533 422h1.8M546.5 422h1.8M547 422h1.8M487 422.5h1.8M495 422.5h1.8M508 422.5h1.8M511 422.5h1.8M513 422.5h1.8M516 422.5h1.8M522.5 422.5h1.8M524 422.5h1.8M526 422.5h1.8M527 422.5h1.8M528 422.5h1.8M528.5 422.5h1.8M529.5 422.5h1.8M533.5 422.5h1.8M534 422.5h1.8M538.5 422.5h1.8M541.5 422.5h1.8M495 423h1.8M505 423h1.8M516.5 423h1.8M521 423h1.8M526.5 423h1.8M528 423h1.8M529 423h1.8M531 423h1.8M531.5 423h1.8M541.5 423h1.8M492.5 423.5h1.8M493 423.5h1.8M498.5 423.5h1.8M501 423.5h1.8M512 423.5h1.8M513 423.5h1.8M526.5 423.5h1.8M541.5 423.5h1.8M475.5 424h1.8M485 424h1.8M498.5 424h1.8M508 424h1.8M512.5 424h1.8M516.5 424h1.8M518 424h1.8M518.5 424h1.8M519 424h1.8M520.5 424h1.8M521 424h1.8M525 424h1.8M527 424h1.8M543 424h1.8M544 424h1.8M443 424.5h1.8M509 424.5h1.8M529 424.5h1.8M529.5 424.5h1.8M538 424.5h1.8M540 424.5h1.8M488.5 425h1.8M498 425h1.8M508.5 425h1.8M512 425h1.8M518.5 425h1.8M520.5 425h1.8M527 425h1.8M531 425h1.8M541.5 425h1.8M474 425.5h1.8M495 425.5h1.8M496.5 425.5h1.8M506 425.5h1.8M511.5 425.5h1.8M512.5 425.5h1.8M515.5 425.5h1.8M519 425.5h1.8M522.5 425.5h1.8M523.5 425.5h1.8M525.5 425.5h1.8M526 425.5h1.8M526.5 425.5h1.8M528 425.5h1.8M531 425.5h1.8M532 425.5h1.8M533 425.5h1.8M541 425.5h1.8M498.5 426h1.8M501.5 426h1.8M506.5 426h1.8M507.5 426h1.8M512.5 426h1.8M516.5 426h1.8M519 426h1.8M520.5 426h1.8M524.5 426h1.8M526 426h1.8M533 426h1.8M542 426h1.8M544.5 426h1.8M468.5 426.5h1.8M485 426.5h1.8M517 426.5h1.8M524 426.5h1.8M542.5 426.5h1.8M543 426.5h1.8M474.5 427h1.8M494 427h1.8M497 427h1.8M497.5 427h1.8M515.5 427h1.8M523.5 427h1.8M524 427h1.8M529 427h1.8M530.5 427h1.8M553.5 427h1.8M505.5 427.5h1.8M507 427.5h1.8M509 427.5h1.8M515.5 427.5h1.8M519 427.5h1.8M521.5 427.5h1.8M525 427.5h1.8M527 427.5h1.8M528 427.5h1.8M540.5 427.5h1.8M489 428h1.8M496.5 428h1.8M514 428h1.8M519.5 428h1.8M523 428h1.8M525.5 428h1.8M526.5 428h1.8M527.5 428h1.8M528.5 428h1.8M531 428h1.8M533.5 428h1.8M534.5 428h1.8M535.5 428h1.8M547 428h1.8M484.5 428.5h1.8M485 428.5h1.8M491 428.5h1.8M494 428.5h1.8M500 428.5h1.8M518.5 428.5h1.8M519.5 428.5h1.8M523.5 428.5h1.8M525 428.5h1.8M530 428.5h1.8M538.5 428.5h1.8M541 428.5h1.8M543.5 428.5h1.8M489 429h1.8M497.5 429h1.8M499.5 429h1.8M503 429h1.8M503.5 429h1.8M507.5 429h1.8M518 429h1.8M522 429h1.8M533.5 429h1.8M464 429.5h1.8M493.5 429.5h1.8M503.5 429.5h1.8M505.5 429.5h1.8M509.5 429.5h1.8M514.5 429.5h1.8M516 429.5h1.8M521.5 429.5h1.8M523.5 429.5h1.8M527.5 429.5h1.8M530.5 429.5h1.8M544.5 429.5h1.8M555 429.5h1.8M469.5 430h1.8M480.5 430h1.8M491 430h1.8M509 430h1.8M519.5 430h1.8M520.5 430h1.8M528 430h1.8M529.5 430h1.8M532.5 430h1.8M533 430h1.8M534.5 430h1.8M540 430h1.8M542 430h1.8M551.5 430h1.8M489 430.5h1.8M498.5 430.5h1.8M499 430.5h1.8M512 430.5h1.8M528 430.5h1.8M535 430.5h1.8M538 430.5h1.8M541 430.5h1.8M473.5 431h1.8M485.5 431h1.8M491.5 431h1.8M496 431h1.8M498 431h1.8M498.5 431h1.8M506.5 431h1.8M509 431h1.8M510.5 431h1.8M513 431h1.8M515.5 431h1.8M518 431h1.8M518.5 431h1.8M527 431h1.8M533.5 431h1.8M541 431h1.8M492.5 431.5h1.8M498 431.5h1.8M514 431.5h1.8M517 431.5h1.8M517.5 431.5h1.8M522.5 431.5h1.8M527 431.5h1.8M531.5 431.5h1.8M541.5 431.5h1.8M480 432h1.8M486.5 432h1.8M498 432h1.8M508.5 432h1.8M509.5 432h1.8M510 432h1.8M510.5 432h1.8M512 432h1.8M520 432h1.8M523 432h1.8M530 432h1.8M478.5 432.5h1.8M480 432.5h1.8M499.5 432.5h1.8M515 432.5h1.8M515.5 432.5h1.8M518.5 432.5h1.8M522.5 432.5h1.8M523.5 432.5h1.8M524 432.5h1.8M528 432.5h1.8M530.5 432.5h1.8M536.5 432.5h1.8M499.5 433h1.8M502.5 433h1.8M510 433h1.8M514.5 433h1.8M521 433h1.8M525 433h1.8M540 433h1.8M555.5 433h1.8M480.5 433.5h1.8M481 433.5h1.8M501.5 433.5h1.8M506 433.5h1.8M510 433.5h1.8M511 433.5h1.8M516 433.5h1.8M521 433.5h1.8M525 433.5h1.8M525.5 433.5h1.8M536.5 433.5h1.8M495.5 434h1.8M499 434h1.8M501 434h1.8M508.5 434h1.8M515 434h1.8M525 434h1.8M527 434h1.8M530.5 434h1.8M534 434h1.8M535 434h1.8M544.5 434h1.8M487.5 434.5h1.8M522 434.5h1.8M544 434.5h1.8M545 434.5h1.8M477 435h1.8M520.5 435h1.8M521 435h1.8M529 435h1.8M529.5 435h1.8M535 435h1.8M538 435h1.8M544 435h1.8M485 435.5h1.8M490.5 435.5h1.8M493 435.5h1.8M501 435.5h1.8M502 435.5h1.8M502.5 435.5h1.8M510 435.5h1.8M515 435.5h1.8M516.5 435.5h1.8M520 435.5h1.8M521.5 435.5h1.8M524 435.5h1.8M532 435.5h1.8M536 435.5h1.8M541 435.5h1.8M483 436h1.8M488.5 436h1.8M490 436h1.8M502 436h1.8M512 436h1.8M513.5 436h1.8M517 436h1.8M518.5 436h1.8M520.5 436h1.8M523 436h1.8M524.5 436h1.8M541 436h1.8M490 436.5h1.8M494.5 436.5h1.8M496 436.5h1.8M507 436.5h1.8M508.5 436.5h1.8M511.5 436.5h1.8M513 436.5h1.8M516.5 436.5h1.8M518.5 436.5h1.8M519.5 436.5h1.8M522 436.5h1.8M523.5 436.5h1.8M526 436.5h1.8M528 436.5h1.8M528.5 436.5h1.8M532 436.5h1.8M536.5 436.5h1.8M477 437h1.8M490.5 437h1.8M492 437h1.8M498.5 437h1.8M505.5 437h1.8M512.5 437h1.8M517 437h1.8M519.5 437h1.8M520 437h1.8M521.5 437h1.8M522 437h1.8M524 437h1.8M524.5 437h1.8M528.5 437h1.8M530 437h1.8M542.5 437h1.8M545.5 437h1.8M478.5 437.5h1.8M492 437.5h1.8M501.5 437.5h1.8M514 437.5h1.8M516 437.5h1.8M516.5 437.5h1.8M524 437.5h1.8M526 437.5h1.8M526.5 437.5h1.8M535.5 437.5h1.8M450.5 438h1.8M495 438h1.8M499.5 438h1.8M507 438h1.8M513 438h1.8M519.5 438h1.8M520.5 438h1.8M523 438h1.8M523.5 438h1.8M527 438h1.8M549.5 438h1.8M480.5 438.5h1.8M484 438.5h1.8M484.5 438.5h1.8M490 438.5h1.8M504 438.5h1.8M507 438.5h1.8M522.5 438.5h1.8M524.5 438.5h1.8M534 438.5h1.8M451 439h1.8M497 439h1.8M498 439h1.8M500.5 439h1.8M505 439h1.8M512.5 439h1.8M518.5 439h1.8M526 439h1.8M533.5 439h1.8M538 439h1.8M495 439.5h1.8M504.5 439.5h1.8M510.5 439.5h1.8M512.5 439.5h1.8M514.5 439.5h1.8M515.5 439.5h1.8M520 439.5h1.8M538 439.5h1.8M454 440h1.8M456 440h1.8M470.5 440h1.8M511.5 440h1.8M512.5 440h1.8M514.5 440h1.8M516.5 440h1.8M520 440h1.8M524.5 440h1.8M528.5 440h1.8M530.5 440h1.8M534 440h1.8M491 440.5h1.8M492.5 440.5h1.8M495.5 440.5h1.8M497 440.5h1.8M503.5 440.5h1.8M510.5 440.5h1.8M520 440.5h1.8M528.5 440.5h1.8M533.5 440.5h1.8M534.5 440.5h1.8M470.5 441h1.8M486 441h1.8M503.5 441h1.8M514.5 441h1.8M519 441h1.8M524.5 441h1.8M529.5 441h1.8M531.5 441h1.8M539.5 441h1.8M493 441.5h1.8M500.5 441.5h1.8M504 441.5h1.8M505 441.5h1.8M511.5 441.5h1.8M524.5 441.5h1.8M526 441.5h1.8M532 441.5h1.8M535 441.5h1.8M538.5 441.5h1.8M474 442h1.8M484 442h1.8M496 442h1.8M496.5 442h1.8M498.5 442h1.8M508 442h1.8M508.5 442h1.8M510.5 442h1.8M511.5 442h1.8M520.5 442h1.8M537 442h1.8M460.5 442.5h1.8M479.5 442.5h1.8M491.5 442.5h1.8M500.5 442.5h1.8M516.5 442.5h1.8M518 442.5h1.8M523.5 442.5h1.8M527 442.5h1.8M529.5 442.5h1.8M465.5 443h1.8M475 443h1.8M487.5 443h1.8M499.5 443h1.8M505 443h1.8M512.5 443h1.8M515.5 443h1.8M518 443h1.8M520 443h1.8M521 443h1.8M530.5 443h1.8M533.5 443h1.8M536 443h1.8M544 443h1.8M491 443.5h1.8M492 443.5h1.8M499.5 443.5h1.8M508.5 443.5h1.8M514.5 443.5h1.8M540.5 443.5h1.8M463 444h1.8M484.5 444h1.8M485.5 444h1.8M489.5 444h1.8M493.5 444h1.8M499.5 444h1.8M507.5 444h1.8M509 444h1.8M523.5 444h1.8M524.5 444h1.8M526.5 444h1.8M528 444h1.8M532 444h1.8M535 444h1.8M538 444h1.8M474.5 444.5h1.8M477.5 444.5h1.8M479 444.5h1.8M479.5 444.5h1.8M482.5 444.5h1.8M498.5 444.5h1.8M500 444.5h1.8M509.5 444.5h1.8M510.5 444.5h1.8M512 444.5h1.8M515 444.5h1.8M524 444.5h1.8M542.5 444.5h1.8M546.5 444.5h1.8M483.5 445h1.8M489 445h1.8M490 445h1.8M493 445h1.8M502.5 445h1.8M503.5 445h1.8M506 445h1.8M511.5 445h1.8M519.5 445h1.8M522 445h1.8M530.5 445h1.8M456 445.5h1.8M474.5 445.5h1.8M479.5 445.5h1.8M481 445.5h1.8M482.5 445.5h1.8M484.5 445.5h1.8M486.5 445.5h1.8M487.5 445.5h1.8M499.5 445.5h1.8M500.5 445.5h1.8M505.5 445.5h1.8M521.5 445.5h1.8M523.5 445.5h1.8M525 445.5h1.8M468.5 446h1.8M477 446h1.8M477.5 446h1.8M479.5 446h1.8M486.5 446h1.8M511 446h1.8M520 446h1.8M498.5 446.5h1.8M506.5 446.5h1.8M508 446.5h1.8M510.5 446.5h1.8M516 446.5h1.8M520.5 446.5h1.8M524.5 446.5h1.8M525.5 446.5h1.8M527 446.5h1.8M527.5 446.5h1.8M457 447h1.8M472 447h1.8M491.5 447h1.8M494.5 447h1.8M500.5 447h1.8M508.5 447h1.8M514.5 447h1.8M518 447h1.8M519 447h1.8M540 447h1.8M449 447.5h1.8M460 447.5h1.8M467.5 447.5h1.8M473 447.5h1.8M480 447.5h1.8M480.5 447.5h1.8M483 447.5h1.8M493 447.5h1.8M500 447.5h1.8M501.5 447.5h1.8M506 447.5h1.8M508 447.5h1.8M518 447.5h1.8M526.5 447.5h1.8M528 447.5h1.8M530.5 447.5h1.8M534.5 447.5h1.8M543 447.5h1.8M460 448h1.8M466.5 448h1.8M467 448h1.8M470.5 448h1.8M476 448h1.8M476.5 448h1.8M483.5 448h1.8M484 448h1.8M494 448h1.8M494.5 448h1.8M495 448h1.8M497 448h1.8M503.5 448h1.8M509 448h1.8M514 448h1.8M516.5 448h1.8M523 448h1.8M524.5 448h1.8M525 448h1.8M529.5 448h1.8M531.5 448h1.8M534 448h1.8M535 448h1.8M537 448h1.8M454.5 448.5h1.8M475.5 448.5h1.8M477.5 448.5h1.8M481.5 448.5h1.8M485.5 448.5h1.8M496 448.5h1.8M500.5 448.5h1.8M501.5 448.5h1.8M505.5 448.5h1.8M510.5 448.5h1.8M511 448.5h1.8M512.5 448.5h1.8M513.5 448.5h1.8M516.5 448.5h1.8M532 448.5h1.8M477.5 449h1.8M479.5 449h1.8M486 449h1.8M498 449h1.8M499.5 449h1.8M501 449h1.8M505 449h1.8M506 449h1.8M509 449h1.8M510.5 449h1.8M517 449h1.8M529.5 449h1.8M549.5 449h1.8M435.5 449.5h1.8M461.5 449.5h1.8M463.5 449.5h1.8M471.5 449.5h1.8M482 449.5h1.8M485.5 449.5h1.8M489.5 449.5h1.8M492.5 449.5h1.8M497.5 449.5h1.8M498 449.5h1.8M502.5 449.5h1.8M504 449.5h1.8M511.5 449.5h1.8M518 449.5h1.8M518.5 449.5h1.8M520 449.5h1.8M521 449.5h1.8M526 449.5h1.8M529 449.5h1.8M541 449.5h1.8M455 450h1.8M461 450h1.8M471.5 450h1.8M478 450h1.8M481.5 450h1.8M484.5 450h1.8M486.5 450h1.8M487 450h1.8M490 450h1.8M493.5 450h1.8M504.5 450h1.8M510.5 450h1.8M514.5 450h1.8M518.5 450h1.8M520 450h1.8M532 450h1.8M546 450h1.8M553.5 450h1.8M457 450.5h1.8M472.5 450.5h1.8M474.5 450.5h1.8M479.5 450.5h1.8M482.5 450.5h1.8M492 450.5h1.8M493 450.5h1.8M499.5 450.5h1.8M500.5 450.5h1.8M501.5 450.5h1.8M503.5 450.5h1.8M509 450.5h1.8M514 450.5h1.8M515 450.5h1.8M519 450.5h1.8M521.5 450.5h1.8M522 450.5h1.8M526 450.5h1.8M530 450.5h1.8M533 450.5h1.8M462.5 451h1.8M475.5 451h1.8M476.5 451h1.8M479.5 451h1.8M483 451h1.8M486 451h1.8M488.5 451h1.8M499.5 451h1.8M501.5 451h1.8M502.5 451h1.8M505 451h1.8M506 451h1.8M508.5 451h1.8M518.5 451h1.8M520.5 451h1.8M527 451h1.8M457 451.5h1.8M465.5 451.5h1.8M471.5 451.5h1.8M473 451.5h1.8M479.5 451.5h1.8M481.5 451.5h1.8M485 451.5h1.8M485.5 451.5h1.8M490.5 451.5h1.8M498.5 451.5h1.8M507 451.5h1.8M508.5 451.5h1.8M509 451.5h1.8M513 451.5h1.8M518 451.5h1.8M520 451.5h1.8M470 452h1.8M470.5 452h1.8M479.5 452h1.8M482.5 452h1.8M489 452h1.8M490 452h1.8M492 452h1.8M492.5 452h1.8M493.5 452h1.8M496.5 452h1.8M497.5 452h1.8M498.5 452h1.8M500 452h1.8M501 452h1.8M503 452h1.8M507 452h1.8M514.5 452h1.8M515 452h1.8M529 452h1.8M533.5 452h1.8M442.5 452.5h1.8M450 452.5h1.8M464.5 452.5h1.8M469.5 452.5h1.8M470.5 452.5h1.8M484.5 452.5h1.8M488 452.5h1.8M491.5 452.5h1.8M497.5 452.5h1.8M501.5 452.5h1.8M502 452.5h1.8M509.5 452.5h1.8M515 452.5h1.8M520 452.5h1.8M522 452.5h1.8M526 452.5h1.8M528 452.5h1.8M530 452.5h1.8M531.5 452.5h1.8M532.5 452.5h1.8M434 453h1.8M466 453h1.8M466.5 453h1.8M472 453h1.8M472.5 453h1.8M473.5 453h1.8M474.5 453h1.8M476 453h1.8M478 453h1.8M483.5 453h1.8M488 453h1.8M489 453h1.8M491.5 453h1.8M494 453h1.8M494.5 453h1.8M497 453h1.8M497.5 453h1.8M503 453h1.8M504.5 453h1.8M507 453h1.8M508.5 453h1.8M515.5 453h1.8M516 453h1.8M518 453h1.8M519.5 453h1.8M532 453h1.8M532.5 453h1.8M537.5 453h1.8M453.5 453.5h1.8M461 453.5h1.8M466.5 453.5h1.8M471.5 453.5h1.8M474.5 453.5h1.8M482.5 453.5h1.8M484 453.5h1.8M494.5 453.5h1.8M497 453.5h1.8M497.5 453.5h1.8M501.5 453.5h1.8M503.5 453.5h1.8M505 453.5h1.8M506.5 453.5h1.8M516 453.5h1.8M516.5 453.5h1.8M521 453.5h1.8M521.5 453.5h1.8M523 453.5h1.8M524 453.5h1.8M527 453.5h1.8M529 453.5h1.8M531.5 453.5h1.8M533 453.5h1.8M542 453.5h1.8M543.5 453.5h1.8M450.5 454h1.8M462.5 454h1.8M472 454h1.8M473 454h1.8M485.5 454h1.8M493.5 454h1.8M494.5 454h1.8M495 454h1.8M496 454h1.8M497 454h1.8M499.5 454h1.8M503 454h1.8M507.5 454h1.8M509.5 454h1.8M523.5 454h1.8M532.5 454h1.8M533 454h1.8M541 454h1.8M457.5 454.5h1.8M467.5 454.5h1.8M473 454.5h1.8M479.5 454.5h1.8M484 454.5h1.8M486 454.5h1.8M494.5 454.5h1.8M502 454.5h1.8M503 454.5h1.8M510.5 454.5h1.8M516.5 454.5h1.8M518.5 454.5h1.8M524.5 454.5h1.8M525.5 454.5h1.8M542 454.5h1.8M463 455h1.8M467.5 455h1.8M468 455h1.8M469 455h1.8M476 455h1.8M479.5 455h1.8M480 455h1.8M483 455h1.8M484 455h1.8M489.5 455h1.8M493 455h1.8M499 455h1.8M500.5 455h1.8M502.5 455h1.8M505 455h1.8M505.5 455h1.8M510 455h1.8M513 455h1.8M514.5 455h1.8M518 455h1.8M519.5 455h1.8M520.5 455h1.8M525 455h1.8M526 455h1.8M452.5 455.5h1.8M460.5 455.5h1.8M461.5 455.5h1.8M464.5 455.5h1.8M473 455.5h1.8M475 455.5h1.8M477 455.5h1.8M477.5 455.5h1.8M486 455.5h1.8M489.5 455.5h1.8M492.5 455.5h1.8M493 455.5h1.8M494.5 455.5h1.8M496.5 455.5h1.8M499 455.5h1.8M500.5 455.5h1.8M501 455.5h1.8M505 455.5h1.8M509.5 455.5h1.8M511.5 455.5h1.8M512 455.5h1.8M514.5 455.5h1.8M520.5 455.5h1.8M521.5 455.5h1.8M529 455.5h1.8M531 455.5h1.8M537.5 455.5h1.8M541.5 455.5h1.8M447.5 456h1.8M454.5 456h1.8M465 456h1.8M467 456h1.8M467.5 456h1.8M472 456h1.8M473 456h1.8M474 456h1.8M478 456h1.8M479.5 456h1.8M481.5 456h1.8M482 456h1.8M483 456h1.8M483.5 456h1.8M486 456h1.8M490.5 456h1.8M491 456h1.8M494.5 456h1.8M495 456h1.8M495.5 456h1.8M497 456h1.8M499 456h1.8M499.5 456h1.8M502 456h1.8M504 456h1.8M504.5 456h1.8M508 456h1.8M509 456h1.8M516.5 456h1.8M517.5 456h1.8M518 456h1.8M519.5 456h1.8M523.5 456h1.8M456.5 456.5h1.8M460 456.5h1.8M469.5 456.5h1.8M470 456.5h1.8M478 456.5h1.8M478.5 456.5h1.8M481.5 456.5h1.8M486.5 456.5h1.8M488.5 456.5h1.8M494 456.5h1.8M495 456.5h1.8M499 456.5h1.8M500 456.5h1.8M501.5 456.5h1.8M509 456.5h1.8M509.5 456.5h1.8M510.5 456.5h1.8M511 456.5h1.8M519 456.5h1.8M522 456.5h1.8M523 456.5h1.8M525.5 456.5h1.8M527 456.5h1.8M530.5 456.5h1.8M532 456.5h1.8M533.5 456.5h1.8M534.5 456.5h1.8M544 456.5h1.8M439.5 457h1.8M452 457h1.8M466 457h1.8M468 457h1.8M468.5 457h1.8M469 457h1.8M470 457h1.8M471 457h1.8M475.5 457h1.8M476 457h1.8M482 457h1.8M483 457h1.8M487.5 457h1.8M489.5 457h1.8M492 457h1.8M497 457h1.8M502.5 457h1.8M507 457h1.8M507.5 457h1.8M509.5 457h1.8M513.5 457h1.8M514.5 457h1.8M517.5 457h1.8M520.5 457h1.8M533 457h1.8M444 457.5h1.8M457.5 457.5h1.8M459 457.5h1.8M460.5 457.5h1.8M461 457.5h1.8M468.5 457.5h1.8M471.5 457.5h1.8M478 457.5h1.8M479 457.5h1.8M483 457.5h1.8M486 457.5h1.8M493.5 457.5h1.8M495 457.5h1.8M498.5 457.5h1.8M506 457.5h1.8M507.5 457.5h1.8M508 457.5h1.8M513 457.5h1.8M533 457.5h1.8M542.5 457.5h1.8M452.5 458h1.8M462 458h1.8M468.5 458h1.8M471.5 458h1.8M473.5 458h1.8M480.5 458h1.8M483.5 458h1.8M487 458h1.8M490.5 458h1.8M491 458h1.8M495 458h1.8M498 458h1.8M504.5 458h1.8M507 458h1.8M508 458h1.8M510 458h1.8M511 458h1.8M513 458h1.8M514.5 458h1.8M517.5 458h1.8M518 458h1.8M522 458h1.8M523.5 458h1.8M526.5 458h1.8M537.5 458h1.8M558 458h1.8M444 458.5h1.8M464.5 458.5h1.8M467 458.5h1.8M470 458.5h1.8M472 458.5h1.8M478.5 458.5h1.8M480 458.5h1.8M485 458.5h1.8M485.5 458.5h1.8M486.5 458.5h1.8M487.5 458.5h1.8M490.5 458.5h1.8M492 458.5h1.8M492.5 458.5h1.8M493 458.5h1.8M495 458.5h1.8M497.5 458.5h1.8M498 458.5h1.8M499.5 458.5h1.8M502 458.5h1.8M507.5 458.5h1.8M508.5 458.5h1.8M509.5 458.5h1.8M511 458.5h1.8M517.5 458.5h1.8M521 458.5h1.8M523 458.5h1.8M526.5 458.5h1.8M528 458.5h1.8M538.5 458.5h1.8M440.5 459h1.8M446 459h1.8M456.5 459h1.8M457 459h1.8M460.5 459h1.8M464 459h1.8M466 459h1.8M468.5 459h1.8M473.5 459h1.8M474.5 459h1.8M476.5 459h1.8M481 459h1.8M483 459h1.8M486.5 459h1.8M488.5 459h1.8M493 459h1.8M495 459h1.8M496.5 459h1.8M502 459h1.8M502.5 459h1.8M504 459h1.8M505 459h1.8M507.5 459h1.8M512 459h1.8M512.5 459h1.8M513.5 459h1.8M517 459h1.8M522 459h1.8M524.5 459h1.8M532.5 459h1.8M458.5 459.5h1.8M459 459.5h1.8M461 459.5h1.8M470.5 459.5h1.8M477.5 459.5h1.8M478.5 459.5h1.8M482.5 459.5h1.8M483 459.5h1.8M483.5 459.5h1.8M484 459.5h1.8M484.5 459.5h1.8M486 459.5h1.8M487 459.5h1.8M487.5 459.5h1.8M489 459.5h1.8M491.5 459.5h1.8M492.5 459.5h1.8M497 459.5h1.8M499 459.5h1.8M499.5 459.5h1.8M504.5 459.5h1.8M508 459.5h1.8M509 459.5h1.8M509.5 459.5h1.8M514.5 459.5h1.8M515.5 459.5h1.8M524.5 459.5h1.8M529 459.5h1.8M532 459.5h1.8M539 459.5h1.8M548 459.5h1.8M437 460h1.8M454.5 460h1.8M456.5 460h1.8M458 460h1.8M461.5 460h1.8M468 460h1.8M471.5 460h1.8M474 460h1.8M475 460h1.8M478 460h1.8M480 460h1.8M481 460h1.8M481.5 460h1.8M487.5 460h1.8M496 460h1.8M499 460h1.8M500.5 460h1.8M503 460h1.8M504 460h1.8M505.5 460h1.8M508 460h1.8M511 460h1.8M511.5 460h1.8M514 460h1.8M529.5 460h1.8M431 460.5h1.8M443.5 460.5h1.8M446.5 460.5h1.8M450.5 460.5h1.8M456 460.5h1.8M458.5 460.5h1.8M459.5 460.5h1.8M461 460.5h1.8M465.5 460.5h1.8M471 460.5h1.8M473 460.5h1.8M477.5 460.5h1.8M478 460.5h1.8M478.5 460.5h1.8M479.5 460.5h1.8M482 460.5h1.8M486 460.5h1.8M487.5 460.5h1.8M488 460.5h1.8M489 460.5h1.8M491.5 460.5h1.8M494 460.5h1.8M496 460.5h1.8M497 460.5h1.8M498 460.5h1.8M501.5 460.5h1.8M503.5 460.5h1.8M504 460.5h1.8M505 460.5h1.8M505.5 460.5h1.8M507 460.5h1.8M508.5 460.5h1.8M510.5 460.5h1.8M515.5 460.5h1.8M517 460.5h1.8M517.5 460.5h1.8M520.5 460.5h1.8M524.5 460.5h1.8M537 460.5h1.8M546 460.5h1.8M444.5 461h1.8M449 461h1.8M452 461h1.8M455 461h1.8M458 461h1.8M460 461h1.8M464.5 461h1.8M465.5 461h1.8M471 461h1.8M476.5 461h1.8M480.5 461h1.8M492.5 461h1.8M493 461h1.8M497 461h1.8M498 461h1.8M499.5 461h1.8M500 461h1.8M502 461h1.8M502.5 461h1.8M503 461h1.8M503.5 461h1.8M504 461h1.8M506 461h1.8M510.5 461h1.8M511 461h1.8M512 461h1.8M513 461h1.8M518 461h1.8M522.5 461h1.8M526.5 461h1.8M545.5 461h1.8M446.5 461.5h1.8M449 461.5h1.8M450 461.5h1.8M453.5 461.5h1.8M454 461.5h1.8M455.5 461.5h1.8M461 461.5h1.8M461.5 461.5h1.8M462 461.5h1.8M466.5 461.5h1.8M468 461.5h1.8M471.5 461.5h1.8M472.5 461.5h1.8M473.5 461.5h1.8M480 461.5h1.8M482.5 461.5h1.8M484.5 461.5h1.8M485.5 461.5h1.8M487 461.5h1.8M487.5 461.5h1.8M489.5 461.5h1.8M490.5 461.5h1.8M491 461.5h1.8M492 461.5h1.8M495 461.5h1.8M499 461.5h1.8M499.5 461.5h1.8M501 461.5h1.8M502.5 461.5h1.8M504 461.5h1.8M509 461.5h1.8M510.5 461.5h1.8M512.5 461.5h1.8M515 461.5h1.8M516 461.5h1.8M521 461.5h1.8M548.5 461.5h1.8M430 462h1.8M436 462h1.8M446.5 462h1.8M455.5 462h1.8M456.5 462h1.8M458.5 462h1.8M460 462h1.8M460.5 462h1.8M464 462h1.8M467 462h1.8M469 462h1.8M473.5 462h1.8M475.5 462h1.8M477.5 462h1.8M480.5 462h1.8M485.5 462h1.8M486 462h1.8M487 462h1.8M489 462h1.8M498 462h1.8M503.5 462h1.8M507 462h1.8M511.5 462h1.8M516.5 462h1.8M520 462h1.8M525.5 462h1.8M527 462h1.8M527.5 462h1.8M435 462.5h1.8M447 462.5h1.8M451 462.5h1.8M456.5 462.5h1.8M461.5 462.5h1.8M464.5 462.5h1.8M465 462.5h1.8M475.5 462.5h1.8M477.5 462.5h1.8M479.5 462.5h1.8M480 462.5h1.8M481.5 462.5h1.8M487 462.5h1.8M488.5 462.5h1.8M489.5 462.5h1.8M491.5 462.5h1.8M494.5 462.5h1.8M495.5 462.5h1.8M497 462.5h1.8M498 462.5h1.8M500 462.5h1.8M502 462.5h1.8M502.5 462.5h1.8M505 462.5h1.8M506.5 462.5h1.8M510 462.5h1.8M511.5 462.5h1.8M513 462.5h1.8M514.5 462.5h1.8M520 462.5h1.8M521.5 462.5h1.8M525 462.5h1.8M526.5 462.5h1.8M527 462.5h1.8M531.5 462.5h1.8M535 462.5h1.8M540.5 462.5h1.8M446 463h1.8M451 463h1.8M459.5 463h1.8M462.5 463h1.8M464.5 463h1.8M467.5 463h1.8M468.5 463h1.8M469 463h1.8M471.5 463h1.8M472 463h1.8M475 463h1.8M475.5 463h1.8M477 463h1.8M478.5 463h1.8M480.5 463h1.8M481 463h1.8M483 463h1.8M484.5 463h1.8M488 463h1.8M490.5 463h1.8M492 463h1.8M493.5 463h1.8M494 463h1.8M496 463h1.8M496.5 463h1.8M497.5 463h1.8M498 463h1.8M502 463h1.8M503.5 463h1.8M505 463h1.8M508.5 463h1.8M510.5 463h1.8M511.5 463h1.8M512 463h1.8M513 463h1.8M514.5 463h1.8M516.5 463h1.8M517.5 463h1.8M520.5 463h1.8M522.5 463h1.8M523.5 463h1.8M526.5 463h1.8M530.5 463h1.8M537.5 463h1.8M540 463h1.8M441.5 463.5h1.8M442 463.5h1.8M443 463.5h1.8M450 463.5h1.8M455.5 463.5h1.8M460.5 463.5h1.8M463 463.5h1.8M463.5 463.5h1.8M470 463.5h1.8M478.5 463.5h1.8M479.5 463.5h1.8M485 463.5h1.8M487 463.5h1.8M487.5 463.5h1.8M488.5 463.5h1.8M490.5 463.5h1.8M492 463.5h1.8M494 463.5h1.8M496.5 463.5h1.8M497.5 463.5h1.8M502.5 463.5h1.8M507.5 463.5h1.8M517 463.5h1.8M517.5 463.5h1.8M519.5 463.5h1.8M523 463.5h1.8M524.5 463.5h1.8M527.5 463.5h1.8M440.5 464h1.8M443.5 464h1.8M445.5 464h1.8M448 464h1.8M454.5 464h1.8M455.5 464h1.8M460 464h1.8M462 464h1.8M463 464h1.8M467 464h1.8M475.5 464h1.8M477.5 464h1.8M478.5 464h1.8M479.5 464h1.8M482 464h1.8M487.5 464h1.8M490 464h1.8M491 464h1.8M496 464h1.8M496.5 464h1.8M497 464h1.8M497.5 464h1.8M498 464h1.8M501 464h1.8M501.5 464h1.8M502 464h1.8M502.5 464h1.8M504.5 464h1.8M505 464h1.8M505.5 464h1.8M506 464h1.8M516 464h1.8M516.5 464h1.8M519.5 464h1.8M521 464h1.8M537 464h1.8M542 464h1.8M426.5 464.5h1.8M438 464.5h1.8M438.5 464.5h1.8M445 464.5h1.8M450 464.5h1.8M451.5 464.5h1.8M456 464.5h1.8M457 464.5h1.8M460.5 464.5h1.8M464 464.5h1.8M468 464.5h1.8M474 464.5h1.8M474.5 464.5h1.8M475 464.5h1.8M477 464.5h1.8M478.5 464.5h1.8M483 464.5h1.8M485 464.5h1.8M486 464.5h1.8M487.5 464.5h1.8M490 464.5h1.8M490.5 464.5h1.8M491 464.5h1.8M491.5 464.5h1.8M496 464.5h1.8M500.5 464.5h1.8M503.5 464.5h1.8M505.5 464.5h1.8M506.5 464.5h1.8M508 464.5h1.8M515.5 464.5h1.8M518 464.5h1.8M519.5 464.5h1.8M522 464.5h1.8M522.5 464.5h1.8M523.5 464.5h1.8M531 464.5h1.8M532 464.5h1.8M538.5 464.5h1.8M539 464.5h1.8M442.5 465h1.8M454.5 465h1.8M458.5 465h1.8M461.5 465h1.8M463.5 465h1.8M464 465h1.8M464.5 465h1.8M466 465h1.8M466.5 465h1.8M469 465h1.8M473.5 465h1.8M474.5 465h1.8M476 465h1.8M476.5 465h1.8M478.5 465h1.8M481.5 465h1.8M483 465h1.8M483.5 465h1.8M484 465h1.8M485.5 465h1.8M486 465h1.8M488.5 465h1.8M489 465h1.8M490.5 465h1.8M491 465h1.8M492.5 465h1.8M493.5 465h1.8M494.5 465h1.8M498.5 465h1.8M499.5 465h1.8M500 465h1.8M507 465h1.8M508 465h1.8M515 465h1.8M515.5 465h1.8M523.5 465h1.8M525.5 465h1.8M535.5 465h1.8M434 465.5h1.8M443.5 465.5h1.8M454.5 465.5h1.8M455.5 465.5h1.8M462 465.5h1.8M471.5 465.5h1.8M472 465.5h1.8M474.5 465.5h1.8M475.5 465.5h1.8M478 465.5h1.8M480.5 465.5h1.8M481.5 465.5h1.8M483.5 465.5h1.8M484 465.5h1.8M484.5 465.5h1.8M491 465.5h1.8M491.5 465.5h1.8M492 465.5h1.8M492.5 465.5h1.8M499 465.5h1.8M502 465.5h1.8M505.5 465.5h1.8M507 465.5h1.8M513 465.5h1.8M516 465.5h1.8M517.5 465.5h1.8M518.5 465.5h1.8M520 465.5h1.8M520.5 465.5h1.8M521 465.5h1.8M525 465.5h1.8M525.5 465.5h1.8M434.5 466h1.8M453.5 466h1.8M458.5 466h1.8M463 466h1.8M463.5 466h1.8M468 466h1.8M471 466h1.8M474 466h1.8M474.5 466h1.8M478 466h1.8M480 466h1.8M481 466h1.8M483.5 466h1.8M485 466h1.8M485.5 466h1.8M488 466h1.8M488.5 466h1.8M489 466h1.8M490 466h1.8M492.5 466h1.8M493.5 466h1.8M496.5 466h1.8M499 466h1.8M500 466h1.8M506 466h1.8M507.5 466h1.8M508.5 466h1.8M510 466h1.8M511.5 466h1.8M513.5 466h1.8M515.5 466h1.8M518 466h1.8M520 466h1.8M521 466h1.8M521.5 466h1.8M527 466h1.8M540.5 466h1.8M432 466.5h1.8M432.5 466.5h1.8M443 466.5h1.8M444.5 466.5h1.8M446 466.5h1.8M450 466.5h1.8M450.5 466.5h1.8M453.5 466.5h1.8M454.5 466.5h1.8M455.5 466.5h1.8M457 466.5h1.8M458 466.5h1.8M459.5 466.5h1.8M460.5 466.5h1.8M466.5 466.5h1.8M468 466.5h1.8M470 466.5h1.8M471.5 466.5h1.8M472 466.5h1.8M473 466.5h1.8M474.5 466.5h1.8M475 466.5h1.8M475.5 466.5h1.8M476.5 466.5h1.8M477.5 466.5h1.8M479 466.5h1.8M481 466.5h1.8M484 466.5h1.8M485.5 466.5h1.8M486 466.5h1.8M488 466.5h1.8M492 466.5h1.8M493 466.5h1.8M494.5 466.5h1.8M497.5 466.5h1.8M508.5 466.5h1.8M513.5 466.5h1.8M516.5 466.5h1.8M517 466.5h1.8M520.5 466.5h1.8M526 466.5h1.8M528.5 466.5h1.8M442.5 467h1.8M448 467h1.8M459 467h1.8M460 467h1.8M461.5 467h1.8M465.5 467h1.8M467.5 467h1.8M471 467h1.8M473 467h1.8M473.5 467h1.8M474 467h1.8M476.5 467h1.8M478.5 467h1.8M481.5 467h1.8M483 467h1.8M484 467h1.8M484.5 467h1.8M485.5 467h1.8M486 467h1.8M486.5 467h1.8M487 467h1.8M487.5 467h1.8M488.5 467h1.8M489 467h1.8M490 467h1.8M492 467h1.8M494 467h1.8M494.5 467h1.8M495 467h1.8M502 467h1.8M504.5 467h1.8M506 467h1.8M507 467h1.8M508 467h1.8M512.5 467h1.8M520.5 467h1.8M523 467h1.8M523.5 467h1.8M526 467h1.8M530 467h1.8M542 467h1.8M445 467.5h1.8M452 467.5h1.8M453 467.5h1.8M454.5 467.5h1.8M456 467.5h1.8M458 467.5h1.8M460 467.5h1.8M462 467.5h1.8M463 467.5h1.8M464 467.5h1.8M465.5 467.5h1.8M466 467.5h1.8M467 467.5h1.8M469 467.5h1.8M469.5 467.5h1.8M470 467.5h1.8M471 467.5h1.8M472.5 467.5h1.8M474 467.5h1.8M476 467.5h1.8M477 467.5h1.8M480 467.5h1.8M481.5 467.5h1.8M482.5 467.5h1.8M483 467.5h1.8M483.5 467.5h1.8M484 467.5h1.8M484.5 467.5h1.8M486.5 467.5h1.8M487.5 467.5h1.8M489 467.5h1.8M493.5 467.5h1.8M494 467.5h1.8M500.5 467.5h1.8M502 467.5h1.8M503.5 467.5h1.8M504 467.5h1.8M505 467.5h1.8M512 467.5h1.8M519 467.5h1.8M520 467.5h1.8M520.5 467.5h1.8M523.5 467.5h1.8M528.5 467.5h1.8M548 467.5h1.8M554 467.5h1.8M443.5 468h1.8M444 468h1.8M449 468h1.8M455.5 468h1.8M456.5 468h1.8M462 468h1.8M465 468h1.8M467 468h1.8M467.5 468h1.8M469 468h1.8M469.5 468h1.8M471.5 468h1.8M475 468h1.8M475.5 468h1.8M476 468h1.8M476.5 468h1.8M477 468h1.8M478 468h1.8M479.5 468h1.8M481 468h1.8M481.5 468h1.8M482 468h1.8M484.5 468h1.8M485 468h1.8M486 468h1.8M487 468h1.8M488 468h1.8M490.5 468h1.8M491 468h1.8M492 468h1.8M492.5 468h1.8M493 468h1.8M496 468h1.8M497 468h1.8M497.5 468h1.8M500.5 468h1.8M501 468h1.8M502 468h1.8M502.5 468h1.8M505 468h1.8M505.5 468h1.8M508 468h1.8M509 468h1.8M514 468h1.8M514.5 468h1.8M518 468h1.8M520 468h1.8M522 468h1.8M522.5 468h1.8M526.5 468h1.8M528 468h1.8M538 468h1.8M431 468.5h1.8M438.5 468.5h1.8M453 468.5h1.8M456 468.5h1.8M459.5 468.5h1.8M460.5 468.5h1.8M462.5 468.5h1.8M463 468.5h1.8M463.5 468.5h1.8M466.5 468.5h1.8M467.5 468.5h1.8M470.5 468.5h1.8M474 468.5h1.8M476 468.5h1.8M476.5 468.5h1.8M477 468.5h1.8M480.5 468.5h1.8M482 468.5h1.8M482.5 468.5h1.8M484.5 468.5h1.8M485.5 468.5h1.8M486 468.5h1.8M486.5 468.5h1.8M487 468.5h1.8M488 468.5h1.8M489 468.5h1.8M490 468.5h1.8M493 468.5h1.8M493.5 468.5h1.8M494 468.5h1.8M494.5 468.5h1.8M496 468.5h1.8M497 468.5h1.8M504 468.5h1.8M505 468.5h1.8M505.5 468.5h1.8M506.5 468.5h1.8M507.5 468.5h1.8M510 468.5h1.8M512 468.5h1.8M512.5 468.5h1.8M514.5 468.5h1.8M526 468.5h1.8M529.5 468.5h1.8M530 468.5h1.8M532.5 468.5h1.8M533.5 468.5h1.8M439 469h1.8M451.5 469h1.8M453.5 469h1.8M456 469h1.8M457 469h1.8M463 469h1.8M463.5 469h1.8M466 469h1.8M467.5 469h1.8M470.5 469h1.8M472.5 469h1.8M475 469h1.8M475.5 469h1.8M476 469h1.8M478 469h1.8M479 469h1.8M479.5 469h1.8M480 469h1.8M480.5 469h1.8M481 469h1.8M481.5 469h1.8M482 469h1.8M483 469h1.8M484 469h1.8M485.5 469h1.8M486 469h1.8M489 469h1.8M489.5 469h1.8M490 469h1.8M491.5 469h1.8M493.5 469h1.8M494 469h1.8M498 469h1.8M499 469h1.8M500 469h1.8M503 469h1.8M505 469h1.8M505.5 469h1.8M508 469h1.8M515.5 469h1.8M516 469h1.8M522 469h1.8M523 469h1.8M534 469h1.8M429.5 469.5h1.8M446 469.5h1.8M450 469.5h1.8M457 469.5h1.8M457.5 469.5h1.8M459.5 469.5h1.8M461 469.5h1.8M462 469.5h1.8M463 469.5h1.8M464 469.5h1.8M464.5 469.5h1.8M465 469.5h1.8M465.5 469.5h1.8M466 469.5h1.8M466.5 469.5h1.8M467.5 469.5h1.8M469 469.5h1.8M469.5 469.5h1.8M471 469.5h1.8M472 469.5h1.8M472.5 469.5h1.8M473.5 469.5h1.8M474 469.5h1.8M476.5 469.5h1.8M477 469.5h1.8M479 469.5h1.8M480.5 469.5h1.8M481.5 469.5h1.8M482.5 469.5h1.8M483.5 469.5h1.8M484 469.5h1.8M484.5 469.5h1.8M485 469.5h1.8M486 469.5h1.8M487 469.5h1.8M488 469.5h1.8M488.5 469.5h1.8M489 469.5h1.8M489.5 469.5h1.8M492.5 469.5h1.8M493.5 469.5h1.8M494 469.5h1.8M495 469.5h1.8M498 469.5h1.8M499.5 469.5h1.8M500.5 469.5h1.8M504 469.5h1.8M506 469.5h1.8M509 469.5h1.8M510 469.5h1.8M514.5 469.5h1.8M515 469.5h1.8M516 469.5h1.8M520.5 469.5h1.8M528 469.5h1.8M534.5 469.5h1.8M539.5 469.5h1.8M426 470h1.8M443 470h1.8M447.5 470h1.8M448.5 470h1.8M450.5 470h1.8M454 470h1.8M456 470h1.8M461 470h1.8M465 470h1.8M468.5 470h1.8M469 470h1.8M472 470h1.8M472.5 470h1.8M475.5 470h1.8M477.5 470h1.8M478 470h1.8M481.5 470h1.8M483 470h1.8M484 470h1.8M484.5 470h1.8M490.5 470h1.8M491 470h1.8M493.5 470h1.8M494.5 470h1.8M496 470h1.8M496.5 470h1.8M497 470h1.8M502 470h1.8M502.5 470h1.8M504.5 470h1.8M505.5 470h1.8M509.5 470h1.8M511.5 470h1.8M513 470h1.8M514 470h1.8M526.5 470h1.8M528.5 470h1.8M530.5 470h1.8M535.5 470h1.8M441 470.5h1.8M443 470.5h1.8M452 470.5h1.8M452.5 470.5h1.8M457 470.5h1.8M462.5 470.5h1.8M465.5 470.5h1.8M466.5 470.5h1.8M467 470.5h1.8M469.5 470.5h1.8M472 470.5h1.8M473 470.5h1.8M474.5 470.5h1.8M475 470.5h1.8M476 470.5h1.8M477 470.5h1.8M480 470.5h1.8M480.5 470.5h1.8M483.5 470.5h1.8M484 470.5h1.8M484.5 470.5h1.8M485.5 470.5h1.8M486.5 470.5h1.8M488.5 470.5h1.8M489.5 470.5h1.8M492 470.5h1.8M494.5 470.5h1.8M496 470.5h1.8M498 470.5h1.8M501 470.5h1.8M503 470.5h1.8M506 470.5h1.8M508.5 470.5h1.8M509.5 470.5h1.8M513 470.5h1.8M513.5 470.5h1.8M515 470.5h1.8M521 470.5h1.8M524.5 470.5h1.8M525 470.5h1.8M528.5 470.5h1.8M536.5 470.5h1.8M547.5 470.5h1.8M437.5 471h1.8M443 471h1.8M455.5 471h1.8M458.5 471h1.8M460.5 471h1.8M463.5 471h1.8M464.5 471h1.8M465.5 471h1.8M466.5 471h1.8M467 471h1.8M468 471h1.8M468.5 471h1.8M469 471h1.8M469.5 471h1.8M470 471h1.8M471.5 471h1.8M472 471h1.8M472.5 471h1.8M473.5 471h1.8M474.5 471h1.8M475 471h1.8M476.5 471h1.8M479.5 471h1.8M481 471h1.8M481.5 471h1.8M483.5 471h1.8M484 471h1.8M484.5 471h1.8M485.5 471h1.8M486 471h1.8M486.5 471h1.8M487 471h1.8M488.5 471h1.8M489.5 471h1.8M493 471h1.8M494 471h1.8M495 471h1.8M497.5 471h1.8M498 471h1.8M498.5 471h1.8M499 471h1.8M501 471h1.8M501.5 471h1.8M505.5 471h1.8M508 471h1.8M508.5 471h1.8M509 471h1.8M510 471h1.8M511.5 471h1.8M517.5 471h1.8M524 471h1.8M441.5 471.5h1.8M449.5 471.5h1.8M450.5 471.5h1.8M457 471.5h1.8M463 471.5h1.8M464 471.5h1.8M464.5 471.5h1.8M466 471.5h1.8M467.5 471.5h1.8M468 471.5h1.8M469 471.5h1.8M469.5 471.5h1.8M470.5 471.5h1.8M471 471.5h1.8M474 471.5h1.8M474.5 471.5h1.8M475.5 471.5h1.8M476 471.5h1.8M479 471.5h1.8M479.5 471.5h1.8M481.5 471.5h1.8M482 471.5h1.8M483 471.5h1.8M485.5 471.5h1.8M487 471.5h1.8M487.5 471.5h1.8M488.5 471.5h1.8M489 471.5h1.8M489.5 471.5h1.8M490.5 471.5h1.8M492.5 471.5h1.8M493.5 471.5h1.8M495 471.5h1.8M495.5 471.5h1.8M498.5 471.5h1.8M500 471.5h1.8M500.5 471.5h1.8M503 471.5h1.8M504.5 471.5h1.8M507.5 471.5h1.8M508.5 471.5h1.8M519 471.5h1.8M520.5 471.5h1.8M521 471.5h1.8M522 471.5h1.8M525 471.5h1.8M527.5 471.5h1.8M528 471.5h1.8M528.5 471.5h1.8M529 471.5h1.8M531 471.5h1.8M533.5 471.5h1.8M536 471.5h1.8M431 472h1.8M442 472h1.8M451.5 472h1.8M452 472h1.8M452.5 472h1.8M464 472h1.8M465.5 472h1.8M467 472h1.8M469.5 472h1.8M470 472h1.8M471 472h1.8M471.5 472h1.8M475.5 472h1.8M477 472h1.8M477.5 472h1.8M478 472h1.8M478.5 472h1.8M479 472h1.8M481.5 472h1.8M483 472h1.8M485.5 472h1.8M487.5 472h1.8M489.5 472h1.8M490 472h1.8M490.5 472h1.8M491.5 472h1.8M496.5 472h1.8M498 472h1.8M501 472h1.8M503 472h1.8M504.5 472h1.8M508 472h1.8M508.5 472h1.8M509.5 472h1.8M514.5 472h1.8M518.5 472h1.8M519 472h1.8M523 472h1.8M528.5 472h1.8M529.5 472h1.8M536 472h1.8M545.5 472h1.8M429 472.5h1.8M437.5 472.5h1.8M438.5 472.5h1.8M444.5 472.5h1.8M445 472.5h1.8M447.5 472.5h1.8M450 472.5h1.8M453 472.5h1.8M454 472.5h1.8M454.5 472.5h1.8M459.5 472.5h1.8M461 472.5h1.8M461.5 472.5h1.8M462 472.5h1.8M466 472.5h1.8M466.5 472.5h1.8M467 472.5h1.8M467.5 472.5h1.8M468 472.5h1.8M468.5 472.5h1.8M469 472.5h1.8M469.5 472.5h1.8M470.5 472.5h1.8M471.5 472.5h1.8M472 472.5h1.8M472.5 472.5h1.8M474.5 472.5h1.8M475 472.5h1.8M476 472.5h1.8M477 472.5h1.8M478 472.5h1.8M479 472.5h1.8M479.5 472.5h1.8M480.5 472.5h1.8M482.5 472.5h1.8M483 472.5h1.8M484 472.5h1.8M485.5 472.5h1.8M487 472.5h1.8M487.5 472.5h1.8M488 472.5h1.8M488.5 472.5h1.8M489 472.5h1.8M491.5 472.5h1.8M492.5 472.5h1.8M494.5 472.5h1.8M499 472.5h1.8M505.5 472.5h1.8M506 472.5h1.8M506.5 472.5h1.8M508.5 472.5h1.8M509.5 472.5h1.8M513 472.5h1.8M514.5 472.5h1.8M518.5 472.5h1.8M519.5 472.5h1.8M537.5 472.5h1.8M550 472.5h1.8M443 473h1.8M451.5 473h1.8M452 473h1.8M453 473h1.8M459.5 473h1.8M464 473h1.8M464.5 473h1.8M465 473h1.8M466.5 473h1.8M467 473h1.8M469.5 473h1.8M470.5 473h1.8M472 473h1.8M472.5 473h1.8M473 473h1.8M475 473h1.8M475.5 473h1.8M477 473h1.8M478 473h1.8M478.5 473h1.8M479 473h1.8M480 473h1.8M482 473h1.8M483 473h1.8M484 473h1.8M484.5 473h1.8M485 473h1.8M487 473h1.8M487.5 473h1.8M489.5 473h1.8M490 473h1.8M490.5 473h1.8M491 473h1.8M492 473h1.8M493 473h1.8M493.5 473h1.8M494 473h1.8M499.5 473h1.8M500 473h1.8M500.5 473h1.8M501 473h1.8M502 473h1.8M503 473h1.8M507.5 473h1.8M508.5 473h1.8M510 473h1.8M510.5 473h1.8M511.5 473h1.8M512 473h1.8M513 473h1.8M515 473h1.8M523 473h1.8M525.5 473h1.8M527 473h1.8M436 473.5h1.8M442.5 473.5h1.8M443.5 473.5h1.8M446.5 473.5h1.8M448.5 473.5h1.8M449.5 473.5h1.8M452 473.5h1.8M455.5 473.5h1.8M460 473.5h1.8M460.5 473.5h1.8M461 473.5h1.8M465.5 473.5h1.8M466 473.5h1.8M468 473.5h1.8M468.5 473.5h1.8M469 473.5h1.8M470 473.5h1.8M470.5 473.5h1.8M471 473.5h1.8M471.5 473.5h1.8M473.5 473.5h1.8M475.5 473.5h1.8M476 473.5h1.8M480 473.5h1.8M481 473.5h1.8M483 473.5h1.8M484 473.5h1.8M487 473.5h1.8M487.5 473.5h1.8M489.5 473.5h1.8M490.5 473.5h1.8M492 473.5h1.8M492.5 473.5h1.8M493 473.5h1.8M493.5 473.5h1.8M494 473.5h1.8M495.5 473.5h1.8M496 473.5h1.8M497 473.5h1.8M497.5 473.5h1.8M503.5 473.5h1.8M509 473.5h1.8M510 473.5h1.8M510.5 473.5h1.8M511.5 473.5h1.8M519 473.5h1.8M519.5 473.5h1.8M525 473.5h1.8M525.5 473.5h1.8M528.5 473.5h1.8M537 473.5h1.8M413.5 474h1.8M442.5 474h1.8M445 474h1.8M450 474h1.8M454.5 474h1.8M455 474h1.8M455.5 474h1.8M459 474h1.8M461 474h1.8M463 474h1.8M464 474h1.8M464.5 474h1.8M465.5 474h1.8M469 474h1.8M470.5 474h1.8M472.5 474h1.8M474.5 474h1.8M475 474h1.8M476 474h1.8M476.5 474h1.8M478 474h1.8M479 474h1.8M479.5 474h1.8M480 474h1.8M481.5 474h1.8M485 474h1.8M489.5 474h1.8M490 474h1.8M491 474h1.8M492 474h1.8M494.5 474h1.8M497.5 474h1.8M498 474h1.8M505.5 474h1.8M507.5 474h1.8M508 474h1.8M510 474h1.8M525.5 474h1.8M528.5 474h1.8M427 474.5h1.8M430.5 474.5h1.8M434.5 474.5h1.8M444 474.5h1.8M449 474.5h1.8M454 474.5h1.8M456 474.5h1.8M459 474.5h1.8M460 474.5h1.8M461 474.5h1.8M463 474.5h1.8M465.5 474.5h1.8M466.5 474.5h1.8M470 474.5h1.8M472 474.5h1.8M472.5 474.5h1.8M473 474.5h1.8M474 474.5h1.8M475 474.5h1.8M477.5 474.5h1.8M480 474.5h1.8M483.5 474.5h1.8M484 474.5h1.8M486.5 474.5h1.8M487.5 474.5h1.8M494.5 474.5h1.8M496 474.5h1.8M498 474.5h1.8M499 474.5h1.8M500 474.5h1.8M505.5 474.5h1.8M507.5 474.5h1.8M509.5 474.5h1.8M511 474.5h1.8M514 474.5h1.8M519 474.5h1.8M523 474.5h1.8M523.5 474.5h1.8M524 474.5h1.8M524.5 474.5h1.8M527 474.5h1.8M529 474.5h1.8M536 474.5h1.8M541 474.5h1.8M416 475h1.8M435.5 475h1.8M439 475h1.8M440.5 475h1.8M446.5 475h1.8M447 475h1.8M449.5 475h1.8M450 475h1.8M451 475h1.8M454.5 475h1.8M457.5 475h1.8M459.5 475h1.8M460.5 475h1.8M461.5 475h1.8M462 475h1.8M463 475h1.8M467.5 475h1.8M469 475h1.8M472 475h1.8M472.5 475h1.8M478 475h1.8M478.5 475h1.8M479.5 475h1.8M480 475h1.8M481 475h1.8M481.5 475h1.8M482.5 475h1.8M483 475h1.8M484 475h1.8M484.5 475h1.8M485.5 475h1.8M486.5 475h1.8M487.5 475h1.8M490 475h1.8M491 475h1.8M494 475h1.8M496.5 475h1.8M498 475h1.8M499.5 475h1.8M501.5 475h1.8M502 475h1.8M505 475h1.8M508 475h1.8M511.5 475h1.8M524 475h1.8M527 475h1.8M527.5 475h1.8M528 475h1.8M530 475h1.8M435 475.5h1.8M436.5 475.5h1.8M443.5 475.5h1.8M446 475.5h1.8M448.5 475.5h1.8M450.5 475.5h1.8M454 475.5h1.8M455.5 475.5h1.8M458.5 475.5h1.8M459.5 475.5h1.8M462 475.5h1.8M463 475.5h1.8M465 475.5h1.8M466 475.5h1.8M468 475.5h1.8M469 475.5h1.8M470 475.5h1.8M471 475.5h1.8M472.5 475.5h1.8M473.5 475.5h1.8M474 475.5h1.8M475.5 475.5h1.8M476 475.5h1.8M476.5 475.5h1.8M480.5 475.5h1.8M482 475.5h1.8M485.5 475.5h1.8M486.5 475.5h1.8M487 475.5h1.8M489.5 475.5h1.8M493.5 475.5h1.8M495 475.5h1.8M496.5 475.5h1.8M497.5 475.5h1.8M503.5 475.5h1.8M504 475.5h1.8M504.5 475.5h1.8M506.5 475.5h1.8M510 475.5h1.8M515 475.5h1.8M516.5 475.5h1.8M518 475.5h1.8M519 475.5h1.8M529.5 475.5h1.8M531 475.5h1.8M542 475.5h1.8M437.5 476h1.8M453 476h1.8M455 476h1.8M457 476h1.8M459 476h1.8M460 476h1.8M461 476h1.8M461.5 476h1.8M462 476h1.8M464.5 476h1.8M465.5 476h1.8M470.5 476h1.8M474 476h1.8M475.5 476h1.8M476 476h1.8M477.5 476h1.8M479 476h1.8M480.5 476h1.8M482 476h1.8M482.5 476h1.8M484 476h1.8M485 476h1.8M488.5 476h1.8M489 476h1.8M489.5 476h1.8M490 476h1.8M490.5 476h1.8M492 476h1.8M494 476h1.8M497 476h1.8M497.5 476h1.8M500.5 476h1.8M502 476h1.8M502.5 476h1.8M503 476h1.8M504 476h1.8M506 476h1.8M507 476h1.8M507.5 476h1.8M509.5 476h1.8M510 476h1.8M511.5 476h1.8M513.5 476h1.8M518 476h1.8M519 476h1.8M525 476h1.8M529.5 476h1.8M532.5 476h1.8M432 476.5h1.8M441 476.5h1.8M444 476.5h1.8M445.5 476.5h1.8M450 476.5h1.8M450.5 476.5h1.8M462 476.5h1.8M470.5 476.5h1.8M472 476.5h1.8M475 476.5h1.8M476 476.5h1.8M478.5 476.5h1.8M481.5 476.5h1.8M482.5 476.5h1.8M483 476.5h1.8M485 476.5h1.8M485.5 476.5h1.8M490 476.5h1.8M491 476.5h1.8M493 476.5h1.8M495 476.5h1.8M495.5 476.5h1.8M500 476.5h1.8M501.5 476.5h1.8M502 476.5h1.8M504 476.5h1.8M504.5 476.5h1.8M508 476.5h1.8M509.5 476.5h1.8M511 476.5h1.8M516 476.5h1.8M516.5 476.5h1.8M518.5 476.5h1.8M531.5 476.5h1.8M542 476.5h1.8M412 477h1.8M420 477h1.8M420.5 477h1.8M427.5 477h1.8M441.5 477h1.8M443 477h1.8M445 477h1.8M448.5 477h1.8M460 477h1.8M461 477h1.8M461.5 477h1.8M462 477h1.8M462.5 477h1.8M466.5 477h1.8M467 477h1.8M467.5 477h1.8M468 477h1.8M469.5 477h1.8M471.5 477h1.8M472.5 477h1.8M473 477h1.8M473.5 477h1.8M474 477h1.8M475 477h1.8M476.5 477h1.8M478.5 477h1.8M480 477h1.8M481 477h1.8M481.5 477h1.8M483.5 477h1.8M484.5 477h1.8M489.5 477h1.8M491.5 477h1.8M496 477h1.8M496.5 477h1.8M498.5 477h1.8M502 477h1.8M503 477h1.8M504 477h1.8M507.5 477h1.8M509 477h1.8M515 477h1.8M519.5 477h1.8M523 477h1.8M530 477h1.8M537.5 477h1.8M427 477.5h1.8M438.5 477.5h1.8M439 477.5h1.8M444 477.5h1.8M447 477.5h1.8M451.5 477.5h1.8M452.5 477.5h1.8M459.5 477.5h1.8M461 477.5h1.8M462.5 477.5h1.8M464 477.5h1.8M465 477.5h1.8M466 477.5h1.8M466.5 477.5h1.8M468.5 477.5h1.8M469 477.5h1.8M469.5 477.5h1.8M470.5 477.5h1.8M471 477.5h1.8M474.5 477.5h1.8M475 477.5h1.8M477 477.5h1.8M477.5 477.5h1.8M478.5 477.5h1.8M479 477.5h1.8M480.5 477.5h1.8M481 477.5h1.8M485.5 477.5h1.8M486 477.5h1.8M488 477.5h1.8M489.5 477.5h1.8M490 477.5h1.8M492 477.5h1.8M493.5 477.5h1.8M496.5 477.5h1.8M501.5 477.5h1.8M503.5 477.5h1.8M506 477.5h1.8M509 477.5h1.8M514 477.5h1.8M521 477.5h1.8M522 477.5h1.8M525 477.5h1.8M526 477.5h1.8M531.5 477.5h1.8M534.5 477.5h1.8M535.5 477.5h1.8M536 477.5h1.8M542 477.5h1.8M544.5 477.5h1.8M429.5 478h1.8M436.5 478h1.8M444 478h1.8M449.5 478h1.8M451 478h1.8M456 478h1.8M457.5 478h1.8M458.5 478h1.8M459 478h1.8M462 478h1.8M465 478h1.8M468 478h1.8M471.5 478h1.8M472 478h1.8M475.5 478h1.8M476.5 478h1.8M477.5 478h1.8M480.5 478h1.8M482 478h1.8M484 478h1.8M484.5 478h1.8M485 478h1.8M485.5 478h1.8M486 478h1.8M487.5 478h1.8M488 478h1.8M489.5 478h1.8M495.5 478h1.8M502 478h1.8M503 478h1.8M503.5 478h1.8M504 478h1.8M505.5 478h1.8M508.5 478h1.8M509 478h1.8M509.5 478h1.8M541.5 478h1.8M420 478.5h1.8M428 478.5h1.8M433 478.5h1.8M436 478.5h1.8M439 478.5h1.8M439.5 478.5h1.8M443 478.5h1.8M444 478.5h1.8M446 478.5h1.8M449 478.5h1.8M450.5 478.5h1.8M451 478.5h1.8M453 478.5h1.8M454.5 478.5h1.8M456 478.5h1.8M456.5 478.5h1.8M459 478.5h1.8M460.5 478.5h1.8M461 478.5h1.8M461.5 478.5h1.8M463 478.5h1.8M463.5 478.5h1.8M464 478.5h1.8M465 478.5h1.8M466 478.5h1.8M466.5 478.5h1.8M468.5 478.5h1.8M469 478.5h1.8M470.5 478.5h1.8M471.5 478.5h1.8M472 478.5h1.8M472.5 478.5h1.8M473.5 478.5h1.8M474.5 478.5h1.8M479.5 478.5h1.8M481 478.5h1.8M482.5 478.5h1.8M483 478.5h1.8M484.5 478.5h1.8M486 478.5h1.8M487 478.5h1.8M487.5 478.5h1.8M489 478.5h1.8M490.5 478.5h1.8M491 478.5h1.8M494 478.5h1.8M495.5 478.5h1.8M496.5 478.5h1.8M510 478.5h1.8M510.5 478.5h1.8M516.5 478.5h1.8M520 478.5h1.8M522 478.5h1.8M527 478.5h1.8M528.5 478.5h1.8M436.5 479h1.8M452 479h1.8M456.5 479h1.8M457 479h1.8M457.5 479h1.8M459 479h1.8M460.5 479h1.8M461 479h1.8M465.5 479h1.8M466 479h1.8M469 479h1.8M470.5 479h1.8M472 479h1.8M472.5 479h1.8M473 479h1.8M474.5 479h1.8M476 479h1.8M481 479h1.8M482.5 479h1.8M485.5 479h1.8M486.5 479h1.8M487 479h1.8M488 479h1.8M489 479h1.8M491 479h1.8M493 479h1.8M498 479h1.8M501 479h1.8M501.5 479h1.8M502.5 479h1.8M512 479h1.8M516.5 479h1.8M520 479h1.8M522.5 479h1.8M528.5 479h1.8M415.5 479.5h1.8M434 479.5h1.8M440 479.5h1.8M445.5 479.5h1.8M447 479.5h1.8M447.5 479.5h1.8M450.5 479.5h1.8M451.5 479.5h1.8M452.5 479.5h1.8M455.5 479.5h1.8M456 479.5h1.8M462 479.5h1.8M462.5 479.5h1.8M465 479.5h1.8M465.5 479.5h1.8M466.5 479.5h1.8M467 479.5h1.8M469.5 479.5h1.8M472.5 479.5h1.8M473.5 479.5h1.8M474 479.5h1.8M477 479.5h1.8M478.5 479.5h1.8M480 479.5h1.8M482 479.5h1.8M484 479.5h1.8M485 479.5h1.8M485.5 479.5h1.8M486 479.5h1.8M487.5 479.5h1.8M489 479.5h1.8M495 479.5h1.8M495.5 479.5h1.8M496 479.5h1.8M497.5 479.5h1.8M499.5 479.5h1.8M501 479.5h1.8M505.5 479.5h1.8M506 479.5h1.8M509.5 479.5h1.8M512 479.5h1.8M513.5 479.5h1.8M522.5 479.5h1.8M523.5 479.5h1.8M528.5 479.5h1.8M535 479.5h1.8M422.5 480h1.8M434 480h1.8M439 480h1.8M441.5 480h1.8M442.5 480h1.8M444 480h1.8M449.5 480h1.8M450 480h1.8M454 480h1.8M455 480h1.8M456.5 480h1.8M457 480h1.8M461 480h1.8M465.5 480h1.8M470 480h1.8M471 480h1.8M472.5 480h1.8M474 480h1.8M474.5 480h1.8M475.5 480h1.8M477 480h1.8M478 480h1.8M479 480h1.8M479.5 480h1.8M480.5 480h1.8M483.5 480h1.8M486 480h1.8M486.5 480h1.8M488.5 480h1.8M489 480h1.8M490.5 480h1.8M491.5 480h1.8M493.5 480h1.8M494 480h1.8M494.5 480h1.8M499 480h1.8M501.5 480h1.8M505.5 480h1.8M508 480h1.8M508.5 480h1.8M511 480h1.8M512.5 480h1.8M515 480h1.8M526 480h1.8M532 480h1.8M432.5 480.5h1.8M434.5 480.5h1.8M439.5 480.5h1.8M446.5 480.5h1.8M447 480.5h1.8M448 480.5h1.8M452.5 480.5h1.8M453.5 480.5h1.8M454 480.5h1.8M454.5 480.5h1.8M456 480.5h1.8M458 480.5h1.8M460 480.5h1.8M462 480.5h1.8M466.5 480.5h1.8M468 480.5h1.8M469 480.5h1.8M469.5 480.5h1.8M470.5 480.5h1.8M471 480.5h1.8M472 480.5h1.8M474 480.5h1.8M474.5 480.5h1.8M476.5 480.5h1.8M477 480.5h1.8M480.5 480.5h1.8M481 480.5h1.8M482 480.5h1.8M485.5 480.5h1.8M486.5 480.5h1.8M488 480.5h1.8M489 480.5h1.8M492 480.5h1.8M492.5 480.5h1.8M493 480.5h1.8M494 480.5h1.8M496 480.5h1.8M497.5 480.5h1.8M499 480.5h1.8M504.5 480.5h1.8M505.5 480.5h1.8M506 480.5h1.8M510 480.5h1.8M515 480.5h1.8M517 480.5h1.8M523 480.5h1.8M525.5 480.5h1.8M537.5 480.5h1.8M437 481h1.8M442.5 481h1.8M448 481h1.8M453.5 481h1.8M454.5 481h1.8M457 481h1.8M457.5 481h1.8M458.5 481h1.8M461 481h1.8M462 481h1.8M464.5 481h1.8M465 481h1.8M465.5 481h1.8M467.5 481h1.8M469 481h1.8M469.5 481h1.8M470.5 481h1.8M471 481h1.8M472 481h1.8M475.5 481h1.8M477.5 481h1.8M478 481h1.8M480 481h1.8M480.5 481h1.8M482.5 481h1.8M483 481h1.8M483.5 481h1.8M484.5 481h1.8M486 481h1.8M486.5 481h1.8M488 481h1.8M489 481h1.8M490 481h1.8M493 481h1.8M493.5 481h1.8M495 481h1.8M495.5 481h1.8M496 481h1.8M497.5 481h1.8M498 481h1.8M499.5 481h1.8M503.5 481h1.8M508.5 481h1.8M509 481h1.8M517.5 481h1.8M525 481h1.8M528 481h1.8M533.5 481h1.8M534 481h1.8M433.5 481.5h1.8M448.5 481.5h1.8M449 481.5h1.8M450 481.5h1.8M453.5 481.5h1.8M455.5 481.5h1.8M457 481.5h1.8M460 481.5h1.8M460.5 481.5h1.8M461 481.5h1.8M463.5 481.5h1.8M466 481.5h1.8M466.5 481.5h1.8M467 481.5h1.8M468.5 481.5h1.8M471.5 481.5h1.8M473 481.5h1.8M473.5 481.5h1.8M475.5 481.5h1.8M476 481.5h1.8M478.5 481.5h1.8M485 481.5h1.8M486 481.5h1.8M488 481.5h1.8M491 481.5h1.8M493 481.5h1.8M495 481.5h1.8M495.5 481.5h1.8M496 481.5h1.8M501.5 481.5h1.8M503 481.5h1.8M505 481.5h1.8M509.5 481.5h1.8M524.5 481.5h1.8M539 481.5h1.8M424 482h1.8M433.5 482h1.8M438.5 482h1.8M439.5 482h1.8M448 482h1.8M455 482h1.8M456 482h1.8M458 482h1.8M462 482h1.8M463.5 482h1.8M466 482h1.8M467.5 482h1.8M469.5 482h1.8M471.5 482h1.8M473 482h1.8M473.5 482h1.8M474.5 482h1.8M478.5 482h1.8M480 482h1.8M480.5 482h1.8M481 482h1.8M482.5 482h1.8M485 482h1.8M486.5 482h1.8M488 482h1.8M488.5 482h1.8M491 482h1.8M492 482h1.8M493 482h1.8M494 482h1.8M494.5 482h1.8M495 482h1.8M495.5 482h1.8M496 482h1.8M499 482h1.8M499.5 482h1.8M501.5 482h1.8M506.5 482h1.8M508.5 482h1.8M510 482h1.8M511.5 482h1.8M522.5 482h1.8M528.5 482h1.8M530.5 482h1.8M535.5 482h1.8M429.5 482.5h1.8M444.5 482.5h1.8M447.5 482.5h1.8M452.5 482.5h1.8M455.5 482.5h1.8M459 482.5h1.8M459.5 482.5h1.8M462.5 482.5h1.8M465.5 482.5h1.8M469 482.5h1.8M470.5 482.5h1.8M472 482.5h1.8M473 482.5h1.8M473.5 482.5h1.8M474 482.5h1.8M477 482.5h1.8M480.5 482.5h1.8M481 482.5h1.8M483.5 482.5h1.8M484 482.5h1.8M484.5 482.5h1.8M485 482.5h1.8M487 482.5h1.8M488.5 482.5h1.8M489 482.5h1.8M490.5 482.5h1.8M491.5 482.5h1.8M493 482.5h1.8M497 482.5h1.8M497.5 482.5h1.8M498 482.5h1.8M498.5 482.5h1.8M504 482.5h1.8M504.5 482.5h1.8M506 482.5h1.8M517 482.5h1.8M518 482.5h1.8M525 482.5h1.8M529 482.5h1.8M531 482.5h1.8M537 482.5h1.8M433 483h1.8M443 483h1.8M453 483h1.8M454.5 483h1.8M456 483h1.8M457.5 483h1.8M458 483h1.8M458.5 483h1.8M459.5 483h1.8M461 483h1.8M462.5 483h1.8M463.5 483h1.8M464.5 483h1.8M465 483h1.8M467.5 483h1.8M468 483h1.8M470 483h1.8M471.5 483h1.8M472.5 483h1.8M480 483h1.8M482.5 483h1.8M485.5 483h1.8M486 483h1.8M488.5 483h1.8M489 483h1.8M490.5 483h1.8M493.5 483h1.8M494 483h1.8M495.5 483h1.8M496.5 483h1.8M497 483h1.8M498.5 483h1.8M499.5 483h1.8M500 483h1.8M502.5 483h1.8M505.5 483h1.8M509.5 483h1.8M511.5 483h1.8M513.5 483h1.8M516 483h1.8M520 483h1.8M523.5 483h1.8M537.5 483h1.8M438 483.5h1.8M442 483.5h1.8M446.5 483.5h1.8M448.5 483.5h1.8M449 483.5h1.8M450.5 483.5h1.8M455 483.5h1.8M456.5 483.5h1.8M460 483.5h1.8M460.5 483.5h1.8M462 483.5h1.8M464.5 483.5h1.8M466 483.5h1.8M466.5 483.5h1.8M467 483.5h1.8M469 483.5h1.8M469.5 483.5h1.8M470.5 483.5h1.8M471 483.5h1.8M471.5 483.5h1.8M473.5 483.5h1.8M474.5 483.5h1.8M477 483.5h1.8M478 483.5h1.8M487 483.5h1.8M491.5 483.5h1.8M493.5 483.5h1.8M496.5 483.5h1.8M502 483.5h1.8M503 483.5h1.8M510 483.5h1.8M510.5 483.5h1.8M511 483.5h1.8M511.5 483.5h1.8M512 483.5h1.8M517 483.5h1.8M518.5 483.5h1.8M527.5 483.5h1.8M422.5 484h1.8M435.5 484h1.8M448.5 484h1.8M449.5 484h1.8M451.5 484h1.8M455.5 484h1.8M459.5 484h1.8M461.5 484h1.8M462.5 484h1.8M464.5 484h1.8M468 484h1.8M471 484h1.8M473 484h1.8M477 484h1.8M479.5 484h1.8M480 484h1.8M482 484h1.8M483 484h1.8M484.5 484h1.8M489 484h1.8M489.5 484h1.8M490.5 484h1.8M492 484h1.8M492.5 484h1.8M493 484h1.8M493.5 484h1.8M496 484h1.8M497.5 484h1.8M498 484h1.8M499.5 484h1.8M500 484h1.8M505 484h1.8M507.5 484h1.8M511 484h1.8M515 484h1.8M520 484h1.8M539.5 484h1.8M418.5 484.5h1.8M427 484.5h1.8M438 484.5h1.8M446.5 484.5h1.8M448.5 484.5h1.8M449.5 484.5h1.8M450 484.5h1.8M454 484.5h1.8M455.5 484.5h1.8M456 484.5h1.8M456.5 484.5h1.8M458 484.5h1.8M463 484.5h1.8M463.5 484.5h1.8M464 484.5h1.8M465.5 484.5h1.8M466.5 484.5h1.8M468.5 484.5h1.8M469 484.5h1.8M470 484.5h1.8M470.5 484.5h1.8M473 484.5h1.8M474 484.5h1.8M474.5 484.5h1.8M476 484.5h1.8M476.5 484.5h1.8M480.5 484.5h1.8M481.5 484.5h1.8M482 484.5h1.8M482.5 484.5h1.8M485.5 484.5h1.8M488.5 484.5h1.8M490 484.5h1.8M492 484.5h1.8M493.5 484.5h1.8M495 484.5h1.8M496.5 484.5h1.8M505.5 484.5h1.8M507 484.5h1.8M508.5 484.5h1.8M509 484.5h1.8M510 484.5h1.8M510.5 484.5h1.8M512.5 484.5h1.8M513 484.5h1.8M515 484.5h1.8M519.5 484.5h1.8M521.5 484.5h1.8M427 485h1.8M432 485h1.8M433 485h1.8M441.5 485h1.8M448 485h1.8M453.5 485h1.8M456.5 485h1.8M460 485h1.8M462.5 485h1.8M463 485h1.8M463.5 485h1.8M466 485h1.8M466.5 485h1.8M467 485h1.8M467.5 485h1.8M469 485h1.8M469.5 485h1.8M471.5 485h1.8M473.5 485h1.8M475.5 485h1.8M476.5 485h1.8M478.5 485h1.8M479 485h1.8M488.5 485h1.8M490.5 485h1.8M491 485h1.8M497.5 485h1.8M498 485h1.8M500 485h1.8M501.5 485h1.8M503 485h1.8M505.5 485h1.8M512.5 485h1.8M524.5 485h1.8M526.5 485h1.8M528.5 485h1.8M532 485h1.8M425.5 485.5h1.8M436.5 485.5h1.8M441 485.5h1.8M447.5 485.5h1.8M448.5 485.5h1.8M452.5 485.5h1.8M453 485.5h1.8M453.5 485.5h1.8M455.5 485.5h1.8M457.5 485.5h1.8M458 485.5h1.8M459.5 485.5h1.8M461 485.5h1.8M462 485.5h1.8M463.5 485.5h1.8M469 485.5h1.8M470 485.5h1.8M471 485.5h1.8M481 485.5h1.8M482.5 485.5h1.8M483 485.5h1.8M483.5 485.5h1.8M485 485.5h1.8M485.5 485.5h1.8M486 485.5h1.8M487.5 485.5h1.8M490 485.5h1.8M494 485.5h1.8M499.5 485.5h1.8M501.5 485.5h1.8M511 485.5h1.8M523.5 485.5h1.8M531.5 485.5h1.8M413.5 486h1.8M427 486h1.8M430 486h1.8M431.5 486h1.8M442 486h1.8M446.5 486h1.8M447.5 486h1.8M454.5 486h1.8M455 486h1.8M455.5 486h1.8M458.5 486h1.8M463 486h1.8M463.5 486h1.8M465 486h1.8M468 486h1.8M468.5 486h1.8M469 486h1.8M470 486h1.8M471 486h1.8M473.5 486h1.8M474 486h1.8M475 486h1.8M475.5 486h1.8M477.5 486h1.8M480 486h1.8M481.5 486h1.8M483.5 486h1.8M484 486h1.8M484.5 486h1.8M485 486h1.8M485.5 486h1.8M486 486h1.8M490.5 486h1.8M491.5 486h1.8M495.5 486h1.8M499.5 486h1.8M501 486h1.8M502.5 486h1.8M503 486h1.8M508 486h1.8M509.5 486h1.8M510 486h1.8M511 486h1.8M514 486h1.8M520 486h1.8M521.5 486h1.8M422 486.5h1.8M431 486.5h1.8M432.5 486.5h1.8M435 486.5h1.8M438.5 486.5h1.8M439.5 486.5h1.8M442.5 486.5h1.8M445 486.5h1.8M448 486.5h1.8M449 486.5h1.8M451 486.5h1.8M453.5 486.5h1.8M455.5 486.5h1.8M458 486.5h1.8M465.5 486.5h1.8M469.5 486.5h1.8M471 486.5h1.8M471.5 486.5h1.8M473.5 486.5h1.8M474.5 486.5h1.8M476 486.5h1.8M477 486.5h1.8M477.5 486.5h1.8M478 486.5h1.8M479 486.5h1.8M480.5 486.5h1.8M482.5 486.5h1.8M486.5 486.5h1.8M490 486.5h1.8M492.5 486.5h1.8M494 486.5h1.8M495 486.5h1.8M499.5 486.5h1.8M502.5 486.5h1.8M512 486.5h1.8M521.5 486.5h1.8M523 486.5h1.8M525.5 486.5h1.8M538 486.5h1.8M432.5 487h1.8M435.5 487h1.8M449 487h1.8M450 487h1.8M454.5 487h1.8M455.5 487h1.8M457 487h1.8M457.5 487h1.8M459 487h1.8M461.5 487h1.8M462 487h1.8M462.5 487h1.8M463.5 487h1.8M466.5 487h1.8M467.5 487h1.8M470.5 487h1.8M473.5 487h1.8M474.5 487h1.8M476.5 487h1.8M477 487h1.8M477.5 487h1.8M478 487h1.8M478.5 487h1.8M479.5 487h1.8M480.5 487h1.8M483.5 487h1.8M490 487h1.8M490.5 487h1.8M494.5 487h1.8M497 487h1.8M500 487h1.8M506.5 487h1.8M515.5 487h1.8M540.5 487h1.8M421 487.5h1.8M430 487.5h1.8M445 487.5h1.8M450 487.5h1.8M450.5 487.5h1.8M452.5 487.5h1.8M454.5 487.5h1.8M455 487.5h1.8M457 487.5h1.8M457.5 487.5h1.8M459 487.5h1.8M460 487.5h1.8M464.5 487.5h1.8M467 487.5h1.8M467.5 487.5h1.8M470 487.5h1.8M473.5 487.5h1.8M475 487.5h1.8M476.5 487.5h1.8M478.5 487.5h1.8M483.5 487.5h1.8M485.5 487.5h1.8M487.5 487.5h1.8M488.5 487.5h1.8M493.5 487.5h1.8M494 487.5h1.8M499.5 487.5h1.8M503 487.5h1.8M503.5 487.5h1.8M516 487.5h1.8M525 487.5h1.8M533 487.5h1.8M534.5 487.5h1.8M545 487.5h1.8M436 488h1.8M441 488h1.8M446.5 488h1.8M454.5 488h1.8M459.5 488h1.8M463 488h1.8M465.5 488h1.8M466 488h1.8M467 488h1.8M468.5 488h1.8M469.5 488h1.8M470 488h1.8M473 488h1.8M473.5 488h1.8M474.5 488h1.8M484.5 488h1.8M485 488h1.8M490 488h1.8M493.5 488h1.8M500 488h1.8M501 488h1.8M507.5 488h1.8M512 488h1.8M518.5 488h1.8M520 488h1.8M527.5 488h1.8M529 488h1.8M530.5 488h1.8M432.5 488.5h1.8M435.5 488.5h1.8M436.5 488.5h1.8M437.5 488.5h1.8M438.5 488.5h1.8M445 488.5h1.8M447.5 488.5h1.8M450.5 488.5h1.8M457.5 488.5h1.8M459.5 488.5h1.8M462.5 488.5h1.8M465 488.5h1.8M466.5 488.5h1.8M467.5 488.5h1.8M470 488.5h1.8M472.5 488.5h1.8M473 488.5h1.8M474.5 488.5h1.8M476.5 488.5h1.8M477 488.5h1.8M477.5 488.5h1.8M478 488.5h1.8M478.5 488.5h1.8M480 488.5h1.8M481 488.5h1.8M482.5 488.5h1.8M488.5 488.5h1.8M489.5 488.5h1.8M492 488.5h1.8M493 488.5h1.8M501 488.5h1.8M505.5 488.5h1.8M511 488.5h1.8M513 488.5h1.8M448.5 489h1.8M451.5 489h1.8M453 489h1.8M455 489h1.8M457.5 489h1.8M461.5 489h1.8M462.5 489h1.8M464 489h1.8M472.5 489h1.8M476.5 489h1.8M483.5 489h1.8M484.5 489h1.8M485 489h1.8M488 489h1.8M494 489h1.8M495 489h1.8M501.5 489h1.8M504.5 489h1.8M507 489h1.8M514.5 489h1.8M522 489h1.8M532 489h1.8M438.5 489.5h1.8M440.5 489.5h1.8M448.5 489.5h1.8M451 489.5h1.8M452.5 489.5h1.8M466.5 489.5h1.8M468 489.5h1.8M470.5 489.5h1.8M472.5 489.5h1.8M475 489.5h1.8M477 489.5h1.8M481.5 489.5h1.8M485 489.5h1.8M486 489.5h1.8M486.5 489.5h1.8M489.5 489.5h1.8M491.5 489.5h1.8M496 489.5h1.8M497 489.5h1.8M505.5 489.5h1.8M518 489.5h1.8M519.5 489.5h1.8M528.5 489.5h1.8M419 490h1.8M431.5 490h1.8M437 490h1.8M438.5 490h1.8M441.5 490h1.8M446 490h1.8M448.5 490h1.8M450.5 490h1.8M454.5 490h1.8M460 490h1.8M463.5 490h1.8M465.5 490h1.8M467 490h1.8M468 490h1.8M468.5 490h1.8M469 490h1.8M469.5 490h1.8M470.5 490h1.8M473 490h1.8M473.5 490h1.8M478 490h1.8M479 490h1.8M480.5 490h1.8M487 490h1.8M487.5 490h1.8M488 490h1.8M488.5 490h1.8M494.5 490h1.8M496 490h1.8M496.5 490h1.8M497 490h1.8M498.5 490h1.8M503.5 490h1.8M506 490h1.8M518 490h1.8M521 490h1.8M524 490h1.8M525.5 490h1.8M428 490.5h1.8M441.5 490.5h1.8M455 490.5h1.8M456 490.5h1.8M458 490.5h1.8M461 490.5h1.8M462.5 490.5h1.8M463 490.5h1.8M464 490.5h1.8M464.5 490.5h1.8M465.5 490.5h1.8M466 490.5h1.8M467.5 490.5h1.8M468 490.5h1.8M469 490.5h1.8M477 490.5h1.8M479 490.5h1.8M483 490.5h1.8M486 490.5h1.8M494.5 490.5h1.8M495 490.5h1.8M499 490.5h1.8M501.5 490.5h1.8M509 490.5h1.8M510.5 490.5h1.8M514.5 490.5h1.8M417 491h1.8M439 491h1.8M449 491h1.8M454.5 491h1.8M455.5 491h1.8M468 491h1.8M476 491h1.8M479.5 491h1.8M481 491h1.8M486 491h1.8M492 491h1.8M493 491h1.8M495 491h1.8M499 491h1.8M508 491h1.8M523.5 491h1.8M532 491h1.8M422.5 491.5h1.8M424 491.5h1.8M428.5 491.5h1.8M433.5 491.5h1.8M447 491.5h1.8M462 491.5h1.8M464.5 491.5h1.8M465 491.5h1.8M466 491.5h1.8M474 491.5h1.8M474.5 491.5h1.8M477.5 491.5h1.8M479.5 491.5h1.8M502.5 491.5h1.8M503 491.5h1.8M512 491.5h1.8M537 491.5h1.8M426.5 492h1.8M441.5 492h1.8M447 492h1.8M449 492h1.8M449.5 492h1.8M452.5 492h1.8M461 492h1.8M465.5 492h1.8M466 492h1.8M469 492h1.8M473.5 492h1.8M487 492h1.8M490 492h1.8M491.5 492h1.8M493 492h1.8M502.5 492h1.8M510.5 492h1.8M512 492h1.8M520 492h1.8M530 492h1.8M412.5 492.5h1.8M439.5 492.5h1.8M440.5 492.5h1.8M442 492.5h1.8M452 492.5h1.8M458 492.5h1.8M461 492.5h1.8M463 492.5h1.8M463.5 492.5h1.8M464.5 492.5h1.8M465.5 492.5h1.8M466.5 492.5h1.8M467.5 492.5h1.8M469 492.5h1.8M469.5 492.5h1.8M473.5 492.5h1.8M475.5 492.5h1.8M476.5 492.5h1.8M478.5 492.5h1.8M480 492.5h1.8M482 492.5h1.8M483.5 492.5h1.8M485 492.5h1.8M494 492.5h1.8M505.5 492.5h1.8M512 492.5h1.8M515.5 492.5h1.8M426.5 493h1.8M451.5 493h1.8M454 493h1.8M456 493h1.8M457.5 493h1.8M462 493h1.8M464 493h1.8M467 493h1.8M467.5 493h1.8M474 493h1.8M478 493h1.8M478.5 493h1.8M480 493h1.8M481.5 493h1.8M486 493h1.8M487 493h1.8M489.5 493h1.8M497.5 493h1.8M511 493h1.8M518.5 493h1.8M433.5 493.5h1.8M435.5 493.5h1.8M442 493.5h1.8M445 493.5h1.8M455 493.5h1.8M458 493.5h1.8M459 493.5h1.8M462 493.5h1.8M465 493.5h1.8M472 493.5h1.8M477 493.5h1.8M478.5 493.5h1.8M483.5 493.5h1.8M485.5 493.5h1.8M486.5 493.5h1.8M494 493.5h1.8M500.5 493.5h1.8M505 493.5h1.8M512 493.5h1.8M518 493.5h1.8M525 493.5h1.8M525.5 493.5h1.8M439 494h1.8M439.5 494h1.8M450 494h1.8M457 494h1.8M461.5 494h1.8M462.5 494h1.8M468.5 494h1.8M470 494h1.8M471.5 494h1.8M472 494h1.8M479.5 494h1.8M484.5 494h1.8M485 494h1.8M487.5 494h1.8M491 494h1.8M495 494h1.8M510 494h1.8M511.5 494h1.8M512 494h1.8M526.5 494h1.8M529.5 494h1.8M454.5 494.5h1.8M463.5 494.5h1.8M474.5 494.5h1.8M475.5 494.5h1.8M489.5 494.5h1.8M494.5 494.5h1.8M498.5 494.5h1.8M518 494.5h1.8M523.5 494.5h1.8M532 494.5h1.8M533.5 494.5h1.8M439 495h1.8M442 495h1.8M446.5 495h1.8M451 495h1.8M454 495h1.8M456 495h1.8M461.5 495h1.8M464 495h1.8M473 495h1.8M473.5 495h1.8M475 495h1.8M478.5 495h1.8M479 495h1.8M480.5 495h1.8M481 495h1.8M481.5 495h1.8M492.5 495h1.8M493 495h1.8M497 495h1.8M500.5 495h1.8M502 495h1.8M503 495h1.8M504 495h1.8M506.5 495h1.8M516.5 495h1.8M517 495h1.8M523 495h1.8M443 495.5h1.8M448.5 495.5h1.8M451 495.5h1.8M453 495.5h1.8M456 495.5h1.8M459 495.5h1.8M467.5 495.5h1.8M468 495.5h1.8M469 495.5h1.8M469.5 495.5h1.8M470 495.5h1.8M470.5 495.5h1.8M473.5 495.5h1.8M488 495.5h1.8M489 495.5h1.8M490 495.5h1.8M501 495.5h1.8M504.5 495.5h1.8M537.5 495.5h1.8M447.5 496h1.8M454.5 496h1.8M457 496h1.8M459 496h1.8M461.5 496h1.8M465.5 496h1.8M469.5 496h1.8M474 496h1.8M475.5 496h1.8M482 496h1.8M491 496h1.8M491.5 496h1.8M496 496h1.8M505.5 496h1.8M510.5 496h1.8M513 496h1.8M531.5 496h1.8M542.5 496h1.8M430 496.5h1.8M437 496.5h1.8M442.5 496.5h1.8M445.5 496.5h1.8M454 496.5h1.8M460 496.5h1.8M463 496.5h1.8M475 496.5h1.8M476 496.5h1.8M479 496.5h1.8M488 496.5h1.8M492 496.5h1.8M494.5 496.5h1.8M498 496.5h1.8M511.5 496.5h1.8M519 496.5h1.8M442.5 497h1.8M444 497h1.8M454 497h1.8M455 497h1.8M456 497h1.8M462.5 497h1.8M464 497h1.8M470 497h1.8M470.5 497h1.8M476 497h1.8M486 497h1.8M486.5 497h1.8M490.5 497h1.8M495 497h1.8M512 497h1.8M525 497h1.8M525.5 497h1.8M449.5 497.5h1.8M461.5 497.5h1.8M463.5 497.5h1.8M464 497.5h1.8M466 497.5h1.8M470 497.5h1.8M471 497.5h1.8M477.5 497.5h1.8M478.5 497.5h1.8M490 497.5h1.8M491.5 497.5h1.8M501.5 497.5h1.8M511.5 497.5h1.8M520.5 497.5h1.8M538.5 497.5h1.8M441.5 498h1.8M442 498h1.8M454 498h1.8M456.5 498h1.8M457 498h1.8M462 498h1.8M467.5 498h1.8M475 498h1.8M478.5 498h1.8M482 498h1.8M492 498h1.8M492.5 498h1.8M505 498h1.8M524 498h1.8M534.5 498h1.8M432.5 498.5h1.8M436 498.5h1.8M453.5 498.5h1.8M457 498.5h1.8M460 498.5h1.8M465.5 498.5h1.8M466.5 498.5h1.8M475.5 498.5h1.8M476 498.5h1.8M485.5 498.5h1.8M496 498.5h1.8M503 498.5h1.8M504 498.5h1.8M512 498.5h1.8M515 498.5h1.8M532.5 498.5h1.8M548 498.5h1.8M438.5 499h1.8M446.5 499h1.8M451.5 499h1.8M483 499h1.8M485 499h1.8M496.5 499h1.8M436 499.5h1.8M448 499.5h1.8M461 499.5h1.8M463 499.5h1.8M466.5 499.5h1.8M477.5 499.5h1.8M481.5 499.5h1.8M488 499.5h1.8M496 499.5h1.8M520 499.5h1.8M443.5 500h1.8M451.5 500h1.8M453 500h1.8M458 500h1.8M464 500h1.8M472 500h1.8M473 500h1.8M476.5 500h1.8M478 500h1.8M483.5 500h1.8M487 500h1.8M495.5 500h1.8M508.5 500h1.8M429.5 500.5h1.8M433 500.5h1.8M456 500.5h1.8M459 500.5h1.8M461 500.5h1.8M477.5 500.5h1.8M483.5 500.5h1.8M488 500.5h1.8M490 500.5h1.8M490.5 500.5h1.8M494 500.5h1.8M495 500.5h1.8M507.5 500.5h1.8M509 500.5h1.8M510.5 500.5h1.8M518.5 500.5h1.8M454.5 501h1.8M456 501h1.8M471 501h1.8M490.5 501h1.8M507 501h1.8M508 501h1.8M517.5 501h1.8M531 501h1.8M536.5 501h1.8M468.5 501.5h1.8M500 501.5h1.8M508.5 501.5h1.8M513.5 501.5h1.8M538.5 501.5h1.8M442 502h1.8M450.5 502h1.8M454 502h1.8M456 502h1.8M457 502h1.8M462.5 502h1.8M466.5 502h1.8M467.5 502h1.8M469 502h1.8M469.5 502h1.8M473.5 502h1.8M476 502h1.8M499 502h1.8M506 502h1.8M559.5 502h1.8M450 502.5h1.8M470 502.5h1.8M476.5 502.5h1.8M480 502.5h1.8M483.5 502.5h1.8M492.5 502.5h1.8M497.5 502.5h1.8M527.5 502.5h1.8M446 503h1.8M453.5 503h1.8M460.5 503h1.8M465 503h1.8M469.5 503h1.8M475.5 503h1.8M481.5 503h1.8M490 503h1.8M520 503h1.8M455 503.5h1.8M475.5 503.5h1.8M479 503.5h1.8M497 503.5h1.8M526 503.5h1.8M531 503.5h1.8M444 504h1.8M485.5 504h1.8M500.5 504h1.8M513 504h1.8M530 504h1.8M437 504.5h1.8M442.5 504.5h1.8M446.5 504.5h1.8M456.5 504.5h1.8M464.5 504.5h1.8M465.5 504.5h1.8M473 504.5h1.8M485 504.5h1.8M489 504.5h1.8M498.5 504.5h1.8M524.5 504.5h1.8M443.5 505h1.8M455.5 505h1.8M469 505h1.8M473 505h1.8M486 505h1.8M439 505.5h1.8M481 505.5h1.8M501 505.5h1.8M518 505.5h1.8M465 506h1.8M471 506h1.8M475 506h1.8M505 506h1.8M527 506h1.8M451.5 506.5h1.8M455.5 506.5h1.8M458.5 506.5h1.8M459 506.5h1.8M400.5 507h1.8M426.5 507h1.8M439.5 507h1.8M445 507h1.8M458 507h1.8M462.5 507h1.8M477 507h1.8M488 507h1.8M481.5 507.5h1.8M485.5 507.5h1.8M494 507.5h1.8M461.5 508h1.8M464.5 508h1.8M471 508h1.8M482 508h1.8M492.5 508h1.8M480.5 508.5h1.8M509.5 508.5h1.8M442.5 509h1.8M490.5 509h1.8M527.5 509h1.8M451 509.5h1.8M456.5 509.5h1.8M459 509.5h1.8M463.5 509.5h1.8M467 509.5h1.8M503.5 509.5h1.8M512 509.5h1.8M515 509.5h1.8M517 509.5h1.8M519 509.5h1.8M520 509.5h1.8M524 509.5h1.8M541.5 509.5h1.8M456.5 510h1.8M464.5 510h1.8M494 510h1.8M499.5 510h1.8M501 510h1.8M513 510h1.8M465.5 510.5h1.8M469.5 510.5h1.8M475.5 510.5h1.8M487 510.5h1.8M496 510.5h1.8M502 510.5h1.8M506.5 510.5h1.8M514 510.5h1.8M519.5 510.5h1.8M529.5 510.5h1.8M533.5 510.5h1.8M470 511h1.8M477 511h1.8M489 511h1.8M495.5 511h1.8M501 511h1.8M512.5 511h1.8M515 511h1.8M518 511h1.8M521 511h1.8M526.5 511h1.8" stroke="#00f800" stroke-width="1.8" fill="none"/><path d="M396.6 510.6H512.2" stroke="#00f800" stroke-width="1.6" fill="none"/><path d="M512.2 510.6H557.2" stroke="#00f800" stroke-width="1.6" stroke-dasharray="3 2 1 4 2 3" fill="none"/><path d="M395.6 333.8V512.0" stroke="#111" stroke-width="1.5" fill="none"/><path d="M394.90000000000003 333.8H587.2V512.0H394.90000000000003" stroke="#111" stroke-width="1.5" fill="none"/><path d="M395.6 425.2H587.2M512.2 333.8V512.0" stroke="#111" stroke-width="1.6" fill="none"/><path d="M396.8 512.0v5.5M395.6 512.0h-5.5M411.0 512.0v3M395.6 498.6h-3M419.3 512.0v3M395.6 490.7h-3M425.2 512.0v3M395.6 485.2h-3M429.8 512.0v3M395.6 480.9h-3M433.5 512.0v3M395.6 477.3h-3M436.7 512.0v3M395.6 474.4h-3M439.4 512.0v3M395.6 471.8h-3M441.8 512.0v3M395.6 469.5h-3M444.0 512.0v5.5M395.6 467.4h-5.5M458.2 512.0v3M395.6 454.0h-3M466.5 512.0v3M395.6 446.2h-3M472.4 512.0v3M395.6 440.6h-3M477.0 512.0v3M395.6 436.3h-3M480.7 512.0v3M395.6 432.8h-3M483.9 512.0v3M395.6 429.8h-3M486.6 512.0v3M395.6 427.2h-3M489.0 512.0v3M395.6 424.9h-3M491.2 512.0v5.5M395.6 422.9h-5.5M505.4 512.0v3M395.6 409.5h-3M513.7 512.0v3M395.6 401.6h-3M519.6 512.0v3M395.6 396.1h-3M524.2 512.0v3M395.6 391.8h-3M527.9 512.0v3M395.6 388.2h-3M531.1 512.0v3M395.6 385.3h-3M533.8 512.0v3M395.6 382.7h-3M536.2 512.0v3M395.6 380.4h-3M538.4 512.0v5.5M395.6 378.4h-5.5M552.6 512.0v3M395.6 364.9h-3M560.9 512.0v3M395.6 357.1h-3M566.8 512.0v3M395.6 351.5h-3M571.4 512.0v3M395.6 347.2h-3M575.1 512.0v3M395.6 343.7h-3M578.3 512.0v3M395.6 340.7h-3M581.0 512.0v3M395.6 338.1h-3M583.4 512.0v3M395.6 335.8h-3M585.6 512.0v5.5M395.6 333.8h-5.5" stroke="#111" stroke-width="1.3" fill="none"/><text x="395.3" y="531.8" font-size="12" text-anchor="middle" style="stroke-width:0.12px" font-family='"Liberation Sans", sans-serif'>10<tspan dy="-5.7">0</tspan></text><text transform="translate(386.6,512.5) rotate(-90)" font-size="12" text-anchor="middle" style="stroke-width:0.12px" font-family='"Liberation Sans", sans-serif'>10<tspan dy="-5.2">0</tspan></text><text x="442.5" y="531.8" font-size="12" text-anchor="middle" style="stroke-width:0.12px" font-family='"Liberation Sans", sans-serif'>10<tspan dy="-5.7">1</tspan></text><text transform="translate(386.6,467.9) rotate(-90)" font-size="12" text-anchor="middle" style="stroke-width:0.12px" font-family='"Liberation Sans", sans-serif'>10<tspan dy="-5.2">1</tspan></text><text x="489.7" y="531.8" font-size="12" text-anchor="middle" style="stroke-width:0.12px" font-family='"Liberation Sans", sans-serif'>10<tspan dy="-5.7">2</tspan></text><text transform="translate(386.6,423.4) rotate(-90)" font-size="12" text-anchor="middle" style="stroke-width:0.12px" font-family='"Liberation Sans", sans-serif'>10<tspan dy="-5.2">2</tspan></text><text x="536.9" y="531.8" font-size="12" text-anchor="middle" style="stroke-width:0.12px" font-family='"Liberation Sans", sans-serif'>10<tspan dy="-5.7">3</tspan></text><text transform="translate(386.6,378.9) rotate(-90)" font-size="12" text-anchor="middle" style="stroke-width:0.12px" font-family='"Liberation Sans", sans-serif'>10<tspan dy="-5.2">3</tspan></text><text x="584.1" y="531.8" font-size="12" text-anchor="middle" style="stroke-width:0.12px" font-family='"Liberation Sans", sans-serif'>10<tspan dy="-5.7">4</tspan></text><text transform="translate(386.6,334.3) rotate(-90)" font-size="12" text-anchor="middle" style="stroke-width:0.12px" font-family='"Liberation Sans", sans-serif'>10<tspan dy="-5.2">4</tspan></text><text x="489.4" y="543.5" font-size="11.6" text-anchor="middle" style="stroke-width:0.15px" font-family='"Liberation Sans", sans-serif'>FL1-H</text><text transform="translate(369.9,423.7) rotate(-90)" font-size="11.6" text-anchor="middle" style="stroke-width:0.15px" font-family='"Liberation Sans", sans-serif'>FL3-H</text><text x="498.2" y="323.7" font-size="19" text-anchor="middle" font-family='"Liberation Sans", sans-serif'>GRs</text><text x="585.8" y="345.0" font-size="12" text-anchor="end" fill="#1a1a1a" style="stroke:none" font-family='"Liberation Sans", sans-serif'>17.51±3.5%</text><text x="585.6" y="508.2" font-size="12" text-anchor="end" fill="#1a1a1a" style="stroke:none" font-family='"Liberation Sans", sans-serif'>10.86±2.4%</text><text x="11.6" y="637.2" font-size="32" class="bb" font-family='"Liberation Sans", sans-serif'>B</text><path d="M81.6 653.8000000000001V1094.1000000000001M80.69999999999999 1093.4H679.2" stroke="#111" stroke-width="1.7" fill="none"/><path d="M81.6 1093.4H75.2M81.6 983.7H75.2M81.6 873.9H75.2M81.6 764.2H75.2M81.6 654.4H75.2" stroke="#111" stroke-width="1.5" fill="none"/><text x="67.8" y="1100.2" font-size="17.2" text-anchor="end" class="bb" font-family='"Liberation Sans", sans-serif'>0</text><text x="67.8" y="990.5" font-size="17.2" text-anchor="end" class="bb" font-family='"Liberation Sans", sans-serif'>5</text><text x="67.8" y="880.7" font-size="17.2" text-anchor="end" class="bb" font-family='"Liberation Sans", sans-serif'>10</text><text x="67.8" y="771.0" font-size="17.2" text-anchor="end" class="bb" font-family='"Liberation Sans", sans-serif'>15</text><text x="67.8" y="661.2" font-size="17.2" text-anchor="end" class="bb" font-family='"Liberation Sans", sans-serif'>20</text><text transform="translate(24.9,957.3) rotate(-90)" font-size="21.1" class="bb" font-family='"Liberation Sans", sans-serif'>Apoptotic rate (%)</text><rect x="101.6" y="664.6" width="183" height="65.4" fill="#fff" stroke="#111" stroke-width="1.4"/><rect x="113.2" y="680" width="38" height="13" fill="#000"/><rect x="113.8" y="702.4" width="37" height="12" fill="#c0c0c0" stroke="#111" stroke-width="1.3"/><text x="159.3" y="692.2" font-size="16.7" class="bb" font-family='"Liberation Sans", sans-serif'>Early apoptosis</text><text x="159.3" y="714.4" font-size="16.7" class="bb" font-family='"Liberation Sans", sans-serif' xml:space="preserve">Late  apoptosis</text><path d="M183.3 1016.5V1004.8M177.1 1004.8H189.5" stroke="#111" stroke-width="1.5" fill="none"/><path d="M219.4 1007.7V988.8M213.2 988.8H225.6" stroke="#111" stroke-width="1.5" fill="none"/><rect x="171.9" y="1016.5" width="22.8" height="76.9" fill="#000"/><rect x="209.15" y="1008.45" width="20.4" height="85.0" fill="#c0c0c0" stroke="#111" stroke-width="1.5"/><path d="M201.7 1093.4V1099.8" stroke="#111" stroke-width="1.5" fill="none"/><text x="201.7" y="1123.3" font-size="17" text-anchor="middle" class="bb" font-family='"Liberation Sans", sans-serif'>Control</text><path d="M302.5 1031.0V1007.4M296.3 1007.4H308.7" stroke="#111" stroke-width="1.5" fill="none"/><path d="M338.6 980.5V970.9M332.4 970.9H344.8" stroke="#111" stroke-width="1.5" fill="none"/><rect x="291.3" y="1031.0" width="22.3" height="62.4" fill="#000"/><rect x="328.35" y="981.25" width="20.5" height="112.2" fill="#c0c0c0" stroke="#111" stroke-width="1.5"/><path d="M320.4 1093.4V1099.8" stroke="#111" stroke-width="1.5" fill="none"/><text x="320.4" y="1123.3" font-size="17" text-anchor="middle" class="bb" font-family='"Liberation Sans", sans-serif'>GNPs</text><path d="M421.9 968.3V936.2M415.8 936.2H428.1" stroke="#111" stroke-width="1.5" fill="none"/><path d="M457.4 954.8V920.8M451.2 920.8H463.6" stroke="#111" stroke-width="1.5" fill="none"/><rect x="410.7" y="968.3" width="22.5" height="125.1" fill="#000"/><rect x="446.75" y="955.55" width="21.4" height="137.9" fill="#c0c0c0" stroke="#111" stroke-width="1.5"/><path d="M439.6 1093.4V1099.8" stroke="#111" stroke-width="1.5" fill="none"/><text x="439.6" y="1123.3" font-size="17" text-anchor="middle" class="bb" font-family='"Liberation Sans", sans-serif'>RVT</text><path d="M541.6 914.7V862.5M535.4 862.5H547.8" stroke="#111" stroke-width="1.5" fill="none"/><path d="M577.4 759.3V682.0M571.1 682.0H583.6" stroke="#111" stroke-width="1.5" fill="none"/><rect x="530.1" y="914.7" width="23.0" height="178.7" fill="#000"/><rect x="566.85" y="760.05" width="21.0" height="333.4" fill="#c0c0c0" stroke="#111" stroke-width="1.5"/><path d="M559.3 1093.4V1099.8" stroke="#111" stroke-width="1.5" fill="none"/><text x="559.3" y="1123.3" font-size="17" text-anchor="middle" class="bb" font-family='"Liberation Sans", sans-serif'>GRs</text><polygon points="540.90,851.60 541.69,853.51 543.75,853.67 542.18,855.02 542.66,857.03 540.90,855.95 539.14,857.03 539.62,855.02 538.05,853.67 540.11,853.51" fill="#000"/><polygon points="572.40,671.70 573.19,673.61 575.25,673.77 573.68,675.12 574.16,677.13 572.40,676.05 570.64,677.13 571.12,675.12 569.55,673.77 571.61,673.61" fill="#000"/><polygon points="578.40,671.70 579.19,673.61 581.25,673.77 579.68,675.12 580.16,677.13 578.40,676.05 576.64,677.13 577.12,675.12 575.55,673.77 577.61,673.61" fill="#000"/><polygon points="584.40,671.70 585.19,673.61 587.25,673.77 585.68,675.12 586.16,677.13 584.40,676.05 582.64,677.13 583.12,675.12 581.55,673.77 583.61,673.61" fill="#000"/></svg></body></html>
